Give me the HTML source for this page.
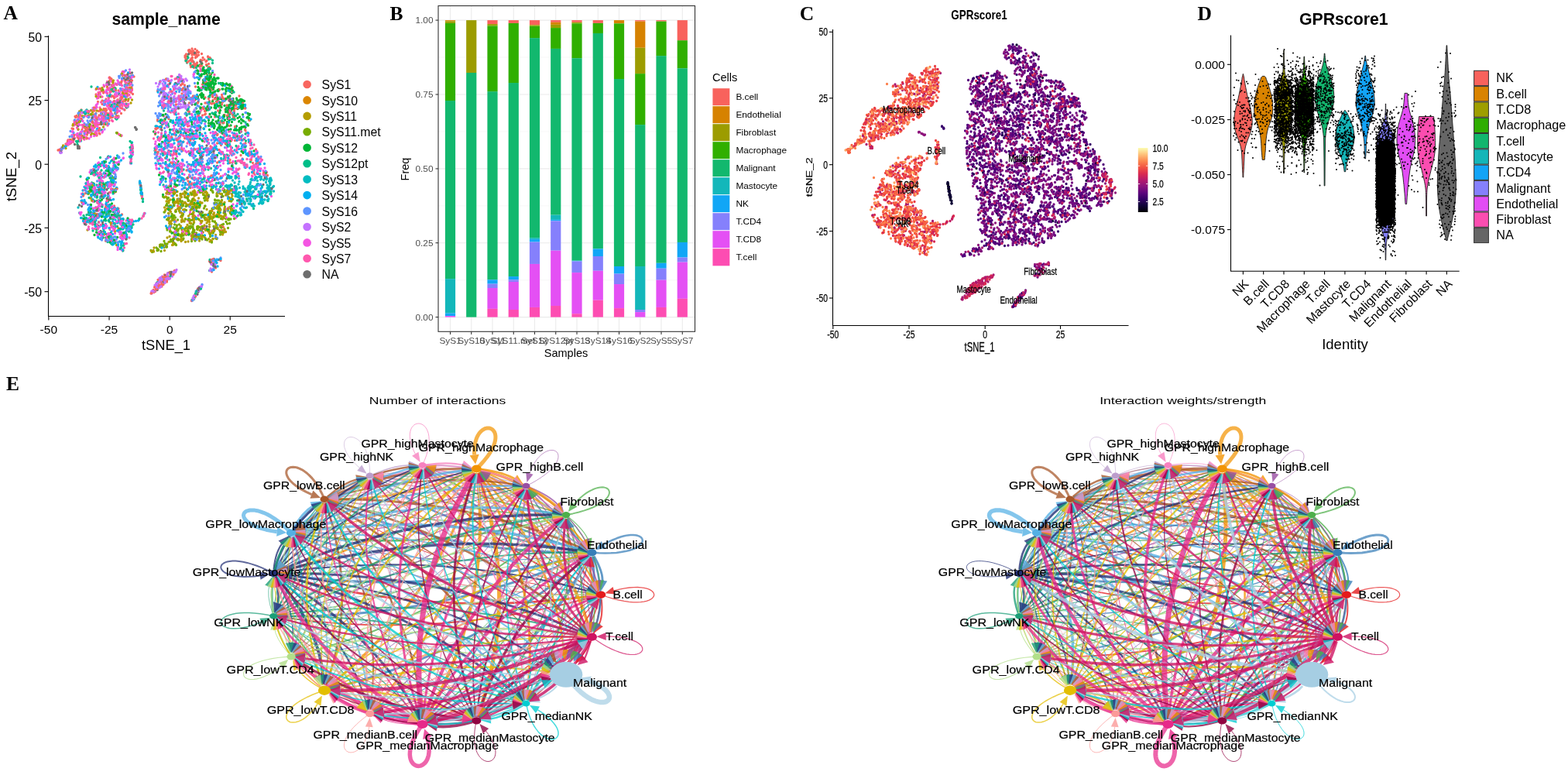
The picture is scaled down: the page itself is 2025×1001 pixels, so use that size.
<!DOCTYPE html>
<html><head><meta charset="utf-8"><style>
html,body{margin:0;padding:0;background:#fff;width:2025px;height:1001px;overflow:hidden}
svg{display:block;font-family:"Liberation Sans",Arial,sans-serif}
</style></head><body>
<svg width="2025" height="1001" viewBox="0 0 2025 1001">
<rect width="2025" height="1001" fill="#fff"/>
<text x="4.5" y="24.8" font-family="Liberation Serif, serif" font-size="25.5" font-weight="bold">A</text>
<text x="214.6" y="32.2" font-size="21.2" text-anchor="middle" font-weight="bold">sample_name</text>
<path d="M62.5 46V408.5H368" fill="none" stroke="#000" stroke-width="1.1"/>
<path d="M57.5 47.3H62.5" stroke="#000" stroke-width="1.1"/>
<text x="54" y="53.6" font-size="15.8" text-anchor="end">50</text>
<path d="M57.5 129.6H62.5" stroke="#000" stroke-width="1.1"/>
<text x="54" y="135.9" font-size="15.8" text-anchor="end">25</text>
<path d="M57.5 212.2H62.5" stroke="#000" stroke-width="1.1"/>
<text x="54" y="218.5" font-size="15.8" text-anchor="end">0</text>
<path d="M57.5 294.3H62.5" stroke="#000" stroke-width="1.1"/>
<text x="54" y="300.6" font-size="15.8" text-anchor="end">-25</text>
<path d="M57.5 376.7H62.5" stroke="#000" stroke-width="1.1"/>
<text x="54" y="383.0" font-size="15.8" text-anchor="end">-50</text>
<path d="M62.8 408.5V413.5" stroke="#000" stroke-width="1.1"/>
<text x="62.8" y="431" font-size="15.5" text-anchor="middle">-50</text>
<path d="M141 408.5V413.5" stroke="#000" stroke-width="1.1"/>
<text x="141" y="431" font-size="15.5" text-anchor="middle">-25</text>
<path d="M219.2 408.5V413.5" stroke="#000" stroke-width="1.1"/>
<text x="219.2" y="431" font-size="15.5" text-anchor="middle">0</text>
<path d="M297.2 408.5V413.5" stroke="#000" stroke-width="1.1"/>
<text x="297.2" y="431" font-size="15.5" text-anchor="middle">25</text>
<text x="214.5" y="452" font-size="18.3" text-anchor="middle">tSNE_1</text>
<text transform="translate(20.8 228) rotate(-90)" font-size="18.6" text-anchor="middle">tSNE_2</text>
<g stroke-linecap="round" stroke-width="3.3" fill="none"><path stroke="#F8665F" d="M252 63.5h0m-4-.5h0m-4 3.5h0m11 5h0m-1.5-1h0m-3-.5h0m-11.5 2h0m13.5 2.5h0m9.5 0h0m6.5-1.5h0m-21.5 3h0m-7 2.5h0m8.5-.5h0m21 4.5h0m-15-1.5h0m-2 2h0m-6 1.5h0m0 2h0m1.5-1h0m1.5-1.5h0m4.5 .5h0m16 2h0m-19.5 1h0m-92.5 10h0m5.5-.5h0m7 .5h0m-29 3.5h0m0 3.5h0m1.5 0h0m21.5-2.5h0m67.5 2h0m43-1.5h0m-3.5 2.5h0m-9 1h0m-124.5 3.5h0m16.5-.5h0m63 .5h0m-47.5 3h0m-6 1h0m-17-1h0m-18 2h0m11.5 .5h0m1.5-1h0m23 2.5h0m109.5-.5h0m24.5-1.5h0m-95.5 3h0m-34 2h0m-22.5-2h0m-4.5 1h0m-18.5 3.5h0m111-1h0m4 1.5h0m35 0h0m2.5-2h0m20 4.5h0m-9.5 0h0m-125 0h0m-2-1h0m-18.5-1h0m-15 1.5h0m10.5 3.5h0m10.5-1.5h0m85 1.5h0m32.5-2h0m12.5 1h0m-2.5 2.5h0m-18.5-.5h0m-6 1h0m-23 .5h0m-73-.5h0m-12.5 .5h0m-10 4h0m3.5-.5h0m10.5-1h0m13 1h0m4 0h0m56-1h0m1.5-1h0m24 1h0m57.5 .5h0m0 3h0m-2.5-1h0m-1.5 0h0m-164-.5h0m-11 4.5h0m11 1h0m94-.5h0m50.5 0h0m29.5-1h0m-5.5 4.5h0m-7.5 0h0m-1.5-2.5h0m-2.5 1h0m-143.5 0h0m2 2h0m71 1h0m24-.5h0m13.5 1.5h0m.5-1.5h0m37 2h0m-2 3h0m-3.5-1h0m-25.5-.5h0m-119.5 0h0m-4.5-1h0m-18.5 1.5h0m18 3h0m3-1.5h0m6 2.5h0m4-2.5h0m65 3.5h0m-77.5 .5h0m-.5-.5h0m-34.5 1.5h0m25 2.5h0m10.5-1.5h0m62.5 0h0m80.5 3h0m0 2.5h0m-72.5-2h0m-83.5 1h0m-18.5 4h0m99 0h0m95 0h0m-64 3h0m-110.5 0h0m-.5-2h0m-10 1.5h0m-4-.5h0m-1 1.5h0m1.5 2h0m1-.5h0m163 3.5h0m-54.5 .5h0m-24 0h0m-87-2.5h0m-18.5 3.5h0m.5 1h0m5.5 .5h0m5.5 0h0m18.5-1h0m88-1h0m26 4.5h0m-130.5 1h0m-8.5-2.5h0m129.5 3h0m59 1h0m10 1h0m5-.5h0m13.5 3.5h0m-66-1h0m0 1h0m-32.5-2h0m-1.5 2h0m-117 2h0m185.5 .5h0m-183 2h0m-.5 2h0m-20.5-.5h0m-2 3h0m126.5 0h0m4-.5h0m20-1h0m4.5 1h0m1.5 1h0m12 0h0m16.5-2h0m49.5 2h0m16.5-1.5h0m-127 3.5h0m0 2h0m107.5 2h0m-14 6h0m-14 2h0m17 1.5h0m-36.5 5.5h0m44 3.5h0m-160 5h0m185 .5h0m13 2h0m-70 .5h0m-31-1h0m-25-1h0m66.5 4.5h0m-18.5 3.5h0m-26.5-2h0m7 6h0m-112 3h0m110 2.5h0m-123.5 1h0m5.5 2.5h0m13.5 2.5h0m73.5 1.5h0m-68-.5h0m-39 2h0m-1-1.5h0m.5 3h0m125 14h0m-94 3h0m135.5 2.5h0m-144 3h0m140 .5h0m6 .5h0m12.5 17h0m-2.5 0h0m4 5.5h0m-5 2h0m-127 2h0m55.5 13.5h0m57 21h0m-45 14.5h0m-1.5-1h0m-2.5 2.5h0m-2-2h0m-3 1.5h0m-4 2h0m1 1h0m1-.5h0m2 2.5h0m-1.5 1h0m-5-.5h0m-3 2.5h0m8.5 1.5h0m-8 1h0m-3.5 2h0m-2 2h0m0-1.5h0m.5 1h0m6.5 .5h0m1.5 0h0m48 3h0m-52-1.5h0m-8.5 5.5h0m5 0h0m-2.5 2h0m-1.5 1h0m53.5 5.5h0"/><path stroke="#B49D00" d="M164 98h0m-19.5 7h0m2 5h0m15.5-1h0m-17 3h0m17 13h0m3.5 5h0m-13.5-1h0m2.5 4h0m-12.5 3.5h0m-24.5 6h0m-4.5 2.5h0m36.5 2h0m-18 0h0m-27.5 2h0m-1-1h0m-1 0h0m12.5 3.5h0m-17.5 5.5h0m4-.5h0m29 3.5h0m-8 4.5h0m-16.5 5.5h0m16 3h0m-31 7.5h0m-.5 5h0m-8.5 2.5h0m4-.5h0m-.5 4h0m56.5 35.5h0m40 12.5h0m-60-2h0m-2 1h0m98.5 2.5h0m78 2.5h0m-78.5 0h0m-69.5 2h0m-2.5-1h0m-28 2h0m32 1h0m67 0h0m2.5-1.5h0m2 2.5h0m6-1h0m22 0h0m3 .5h0m13 .5h0m27.5-1h0m.5 0h0m2.5-.5h0m0 1h0m4 2.5h0m-3.5-.5h0m-1.5-.5h0m-14.5 .5h0m-26 1.5h0m-1.5-1h0m-1.5 0h0m-14.5-.5h0m-13-1h0m-7 0h0m-33.5 0h0m55.5 3.5h0m0 2h0m4.5-.5h0m8-1h0m16.5-.5h0m13.5 .5h0m-31 3.5h0m-26-.5h0m7 4h0m12-.5h0m5.5 .5h0m3.5-1h0m34 3h0m-25 0h0m-2.5 .5h0m0-1.5h0m-.5 1h0m-6.5 1.5h0m-3.5 0h0m-30-1.5h0m2.5 3.5h0m25-.5h0m6-.5h0m30 1h0m1.5 1h0m15.5 2.5h0m-3.5-.5h0m-4.5-1.5h0m-37 2.5h0m-2.5-2.5h0m-20 1.5h0m-13 1h0m0-.5h0m-.5 0h0m-5-1h0m-70 0h0m76 2.5h0m13.5 .5h0m6.5-.5h0m7.5 1h0m48 .5h0m8 0h0m-1.5 1h0m-18 0h0m-49 1h0m-16 1.5h0m-75.5-1.5h0m-20 1.5h0m-1 0h0m97 .5h0m18 2.5h0m30-1h0m3.5-1h0m9.5 2h0m10 3h0m-7.5-1.5h0m-4.5-1h0m-.5 1h0m-7-1h0m-4 2.5h0m-5.5-2.5h0m-26.5 1h0m1 4.5h0m15-2.5h0m4 0h0m11.5 2h0m8-2h0m14.5 1h0m-19 3h0m-34 .5h0m-14.5 1h0m-58.5 2h0m57.5-1h0m23 2h0m3-2.5h0m22 0h0m20 3.5h0m-2.5 .5h0m-20.5-1h0m-1 2.5h0m-4.5 0h0m-4-.5h0m-14 .5h0m-20.5-.5h0m0-1.5h0m-55 1.5h0m54.5 3.5h0m72 3h0m-8-2h0m-7 1h0m-18.5-1h0m-21.5 2h0m-8.5 0h0m-79.5 0h0m-35.5-2.5h0m117.5 5.5h0m11.5-2.5h0m18.5 1.5h0m12-.5h0m6 2.5h0m-26.5 .5h0m-25.5-.5h0m-81 3.5h0m70.5 0h0m14 1.5h0m26.5-1h0m13 1h0m4 3h0m-41.5-2h0m-3 0h0m-11 3h0m6 3.5h0m-1.5 .5h0m-72 0h0m62 7h0m-8-.5h0m-6 2h0"/><path stroke="#78AC00" d="M167.5 106.5h0m-12.5 .5h0m-25 18h0m-16 18.5h0m0 20.5h0m3 5h0m-10 7h0m49.5-.5h0m129.5 64h0m10.5 6h0m-8 0h0m-5 0h0m-58.5 0h0m-7.5 3h0m39-2h0m2.5 1h0m22 1h0m12.5-2.5h0m-30.5 5.5h0m-.5 0h0m-12.5-2.5h0m-17 1.5h0m-22.5 3.5h0m33.5-2h0m21.5 2h0m21.5-1h0m-22.5 2h0m-47 .5h0m18 4.5h0m31-2h0m11.5 1h0m2.5 0h0m6-.5h0m12.5 1h0m-10.5 4h0m-34-1.5h0m-15.5-.5h0m-5 .5h0m-3.5 1h0m-15 .5h0m-1 2h0m25.5 1h0m42.5 0h0m1.5 2.5h0m-4.5 0h0m-2.5-1h0m-1 1.5h0m-2 0h0m-52.5-.5h0m-.5-2h0m-7.5 5h0m18 .5h0m9-1h0m49.5-.5h0m7 3h0m-8 1h0m-18 .5h0m-58.5-1.5h0m-.5 0h0m24.5 2.5h0m54.5 2h0m-2.5 1.5h0m-24.5 1.5h0m-40.5-2h0m-6 2h0m25.5 2h0m8-.5h0m14.5 .5h0m26-1h0m6.5 .5h0m-6 3.5h0m-17.5-1h0m-24 2h0m-19 2.5h0m18 0h0m29.5-1.5h0m9.5 1h0m-12.5 3h0m-13 1h0m-35-.5h0m0 3h0m10 0h0m7.5-1h0m4 1h0m11.5 0h0m20-2h0m0 1.5h0m-4.5 2h0m-6.5 2h0m-19.5 0h0m-8-2.5h0m-15 5h0m23 0h0m1.5-.5h0m1.5-.5h0m35-.5h0m-4 2.5h0m-50.5 1h0m-8.5-1h0m-2 5.5h0m29.5-.5h0m8-2h0m14 2.5h0m5 0h0m-28 2.5h0m-1-2h0m-29 1h0m2.5 3.5h0m-15.5 3.5h0m-1 0h0m-.5-1h0m-1 2.5h0m-11.5 5h0"/><path stroke="#00B636" d="M242 73h0m16 11h0m9 .5h0m-4 2.5h0m3 5.5h0m.5-1.5h0m-2 2h0m-6.5 4.5h0m10 0h0m4.5-1.5h0m9.5 5h0m-9.5-1.5h0m-1.5 .5h0m-8.5 3.5h0m15.5-1.5h0m9.5 5.5h0m-12 0h0m-3.5 0h0m-5.5-.5h0m-2.5 .5h0m1.5 1h0m0-.5h0m1.5 1h0m6 0h0m3.5 .5h0m9.5-.5h0m2.5 0h0m-16 3h0m-2.5 .5h0m-3.5 1h0m-11 3h0m2.5 0h0m7.5-1h0m10-.5h0m5.5 1.5h0m1.5-1h0m15 3h0m-16-1h0m-3.5 .5h0m-.5 .5h0m-17 2h0m30.5 .5h0m-20 2.5h0m-11 1.5h0m-4.5-.5h0m-1 2.5h0m1 0h0m8 .5h0m15-1h0m2.5-.5h0m5 2h0m5.5-.5h0m9.5 0h0m4.5-.5h0m6 1.5h0m2.5 1.5h0m-1.5-1h0m-4 1h0m-.5 1h0m-7-1.5h0m-3.5 1.5h0m-.5-2h0m-7 1h0m-8.5 .5h0m-2 .5h0m-5 0h0m9 1.5h0m1.5 0h0m15 1.5h0m.5 .5h0m9.5-1.5h0m6.5 2.5h0m-21 .5h0m-5.5 .5h0m-9.5 .5h0m-21.5 3.5h0m18-1.5h0m7 0h0m9 0h0m4 1h0m2-.5h0m3.5 1h0m4.5 0h0m4-2.5h0m1 2.5h0m-17 1h0m-2 1.5h0m-39.5 1.5h0m24.5 1h0m5.5-.5h0m10.5 0h0m-18.5 2h0m-4.5 .5h0m1.5 3.5h0m10.5-1h0m11.5 0h0m8 .5h0m7 .5h0m9.5 1h0m1-1h0m1.5 3.5h0m-27.5-1h0m-19 1.5h0m-5.5 .5h0m-27.5 2.5h0m31 .5h0m.5-.5h0m5.5-1h0m2 .5h0m18.5 0h0m9-.5h0m.5-.5h0m-15.5 3h0m-5.5-.5h0m-4.5 2h0m-10 0h0m0-1.5h0m-4-.5h0m-21.5 1.5h0m27.5 3h0m1.5-1h0m0-.5h0m21 0h0m19 2.5h0m-6.5 1h0m-12.5 1.5h0m-9.5 0h0m-4-1.5h0m-2.5-.5h0m-19 1h0m-64.5 4h0m34.5 0h0m69.5-2h0m-62.5 4h0m3 3h0m32.5 2h0m-71.5 .5h0m93 4.5h0m-63.5 5h0m80.5 10.5h0m-2-2h0m-91.5 4h0m98 0h0m-100 7h0m8.5-1.5h0m3 3.5h0m-93.5 .5h0m175 1h0m19 1.5h0m-190 4.5h0m0 2h0m193.5 0h0m-192.5 5h0m1 0h0m-3 3.5h0m-25 3.5h0m28.5-1h0m126 4.5h0m-39.5-.5h0m-15.5-2h0m-101 2.5h0m154 2h0m-134 1.5h0m-12.5 0h0m-3 2.5h0m17.5 3h0m81 0h0m50.5 1h0m-150.5-.5h0m-1.5 4.5h0m6 4h0m6 8h0m124.5 3h0m-106.5 .5h0m-12.5 1.5h0m152 .5h0m-28 2h0m-1 0h0m-1.5 .5h0m-117.5 3.5h0m3.5 1h0m-8.5 3.5h0m-16.5-1.5h0m.5 3.5h0m166.5 1.5h0m-60 .5h0m-85.5 1.5h0m-8.5-1h0m-20 3h0m8 1h0m27.5-1.5h0m16 1h0m-31.5 3.5h0m-11.5-1.5h0m10.5 6h0m99.5 4h0m-63.5 4h0m-9-2h0m-18.5 2h0m8 1.5h0m1.5 9h0m11 11.5h0"/><path stroke="#00BE88" d="M272 76h0m2.5 5.5h0m-25 4.5h0m20 5h0m.5 3.5h0m-1.5-1.5h0m-16.5 0h0m-83 9.5h0m38 2.5h0m22.5 10h0m30.5 1.5h0m9.5 8.5h0m-58.5 .5h0m26.5 2.5h0m-82 2h0m-8.5 4.5h0m106.5-1h0m55.5 1h0m3-1h0m-147 1.5h0m-2.5 .5h0m-18.5 0h0m157.5 3.5h0m10.5 0h0m-87.5 2h0m-113.5 3.5h0m3 1.5h0m193 1.5h0m-6 2h0m-4.5-1.5h0m-17.5 1h0m-2-1.5h0m-32.5-.5h0m-134 0h0m30 5h0m12-1h0m144 .5h0m26 4h0m-21-2h0m-152-.5h0m-17.5 0h0m101 3.5h0m1 1.5h0m31.5-1h0m-50.5 2.5h0m-12 4.5h0m101 0h0m0 2.5h0m-172.5 1.5h0m153.5 1.5h0m24.5 2h0m-5.5 2h0m-1.5-1h0m-9.5 2.5h0m-191 7.5h0m222 2h0m-2.5-1h0m-25.5 0h0m-196 3h0m70.5 13.5h0m39.5-2h0m64 5h0m-23.5 .5h0m-2.5-2.5h0m-80.5 1.5h0m1.5 2h0m117 2h0m37.5 2.5h0m-19.5-.5h0m-48 .5h0m-121.5 1h0m-7 4.5h0m-1 0h0m98.5 1.5h0m92 .5h0m-80 2.5h0m-94 1h0m-4.5 .5h0m-16 1h0m-4-1.5h0m-1 4.5h0m0-2.5h0m13.5 3.5h0m130 6.5h0m-40.5 3h0m-83.5 3.5h0m-22 .5h0m16.5 2.5h0m8.5 1h0m41.5-.5h0m93.5 .5h0m10.5-2h0m-169 7h0m229-.5h0m4.5 0h0m-168 2h0m-54 0h0m198.5 5h0m3 2h0m-11 1h0m-203.5-1.5h0m195.5 6h0m-184.5 .5h0m-18 0h0m-1.5-1h0m221 8.5h0m-184.5-2.5h0m-15.5 3.5h0m11.5-.5h0m3 2.5h0m162.5-.5h0m-186 3.5h0m-3 0h0m-.5 .5h0m39.5 2.5h0m30.5 .5h0m-38.5 .5h0m-22 2h0m-2.5-1h0m-12.5 .5h0m-.5 1.5h0m25.5 2h0m11.5-1.5h0m19 .5h0m-25 1.5h0m-25 2h0m33.5 3h0m6.5-1.5h0m2.5 3h0m-12 1h0m-21 4h0m1.5-.5h0m40.5 3h0m-29 3.5h0m5.5 .5h0m-6.5 4h0m2.5 5.5h0m8.5 1.5h0m123.5 21.5h0m5 5h0m.5 4h0m-6 5h0m-68 16.5h0m48 20.5h0m-3 1.5h0"/><path stroke="#00BCC1" d="M226.5 161h0m-25.5 2h0m74.5 14h0m-34.5 1.5h0m-24 10h0m60.5 3h0m-77.5 0h0m8.5 1.5h0m17.5 3h0m-5-.5h0m-50.5 4.5h0m90 1h0m-91 1h0m-2 .5h0m-16-1.5h0m134 3.5h0m8.5 3h0m-162.5 5h0m3-1.5h0m17.5-.5h0m77 1.5h0m31 .5h0m-108 4.5h0m-31 5.5h0m177.5 7h0m.5-1h0m31.5 0h0m1 .5h0m5.5-.5h0m.5 0h0m13 4.5h0m-.5-1.5h0m-.5 0h0m-9 1h0m-8 1h0m-7.5-2.5h0m-92 3h0m19 3.5h0m-130.5 2h0m10 .5h0m3.5 0h0m156 .5h0m2.5 1.5h0m3.5-2h0m0 2h0m6.5-1h0m1.5 0h0m9 0h0m7-.5h0m4.5 0h0m.5 .5h0m4 0h0m1.5-1h0m7 2h0m8 .5h0m1-2h0m1 2.5h0m-.5 1h0m-17 0h0m-1 .5h0m-.5-.5h0m-6-.5h0m-1.5 1h0m-.5 1h0m-4.5-.5h0m-20.5-2h0m-1 1h0m-144.5-1h0m-38.5 5h0m188.5-1h0m1.5 1.5h0m36.5 0h0m1.5-1h0m1-.5h0m6 0h0m6 0h0m-10.5 2h0m-6.5 1.5h0m-1.5 0h0m-17.5 0h0m-14.5-1.5h0m-170 1h0m-18-.5h0m193.5 2.5h0m9 1h0m1-.5h0m12.5 1h0m.5 .5h0m7-.5h0m-25 3h0m-174 4h0m174.5-2h0m26 3h0m-.5 1h0m-1 .5h0m-11.5 .5h0m-4.5 0h0m-7.5-1.5h0m-207.5 1h0m197.5 3h0m-204 2h0m27.5 3h0m182.5-.5h0m1 1h0m2 2h0m-9 1h0m-2.5-1h0m-161 .5h0m0-.5h0m-2 1h0m-37 .5h0m20.5 3h0m15.5-1h0m173 .5h0m-178.5 1.5h0m-21.5 2.5h0m43.5 .5h0m-19.5 8.5h0m10.5-2.5h0m16.5 1h0m3 3.5h0m-7-1.5h0m-35.5 1h0m33.5 24h0m.5 2.5h0m-2 3h0"/><path stroke="#00AFF0" d="M257.5 96.5h0m8 3h0m-11 .5h0m-96.5 1h0m57.5 1h0m49.5 0h0m-122.5 20.5h0m112 0h0m-102.5 8.5h0m164.5 4.5h0m-6 0h0m-99-.5h0m-49.5 0h0m1.5 4h0m115.5 .5h0m38 0h0m-88.5 12.5h0m24-1h0m.5 .5h0m16.5 1h0m-14.5 3h0m-19-1h0m-2.5 0h0m-6 .5h0m-14.5-1.5h0m0 .5h0m-8 2.5h0m4 2h0m.5-2.5h0m19 2.5h0m19-1.5h0m28 3.5h0m-24.5-1h0m-14 .5h0m-28-.5h0m48 2.5h0m6.5 4.5h0m-5-.5h0m-26.5 1h0m-106.5-.5h0m-5.5 2.5h0m133-.5h0m37 4.5h0m-39 .5h0m-3-2.5h0m-23.5 2h0m-2.5 .5h0m-8.5-1.5h0m-.5 3.5h0m.5 1h0m44.5-1.5h0m38.5 .5h0m16 0h0m.5-.5h0m7 .5h0m-18.5 2h0m-34 1h0m-12.5-1.5h0m-24 0h0m-9 .5h0m-117.5 4.5h0m114.5-1.5h0m10.5 0h0m38 2h0m10-1h0m5.5 .5h0m10.5-.5h0m30.5 2.5h0m-13 1h0m-17.5-.5h0m-42 1h0m-6.5-1h0m-74.5-.5h0m42.5 2.5h0m36.5 1.5h0m0-1h0m75 0h0m-12 2h0m-18.5 .5h0m-33-.5h0m-1.5 1.5h0m-51.5-1h0m-1-.5h0m-127 1.5h0m131 1.5h0m54.5 2.5h0m3.5-2.5h0m6 1h0m28 1h0m5.5-1.5h0m23.5 4.5h0m-48.5 .5h0m-12-2.5h0m-5 .5h0m-10.5-.5h0m-27.5 .5h0m-14 3.5h0m2 .5h0m102-.5h0m1 .5h0m1-1.5h0m2.5 .5h0m-27.5 2.5h0m-43 .5h0m-110 1h0m-3.5 1.5h0m119.5 2h0m1.5-1.5h0m71 .5h0m1.5 1.5h0m.5 1.5h0m-61.5 0h0m-19.5-.5h0m-2.5 2h0m-115.5-1h0m80 3.5h0m42-1h0m.5-.5h0m39.5-.5h0m.5 .5h0m37 2.5h0m-9 2.5h0m-6-2.5h0m-42 1.5h0m-22.5-1.5h0m-1.5 2.5h0m-21-.5h0m-4 .5h0m-8.5-1h0m-2.5-.5h0m-68 1.5h0m-8.5-1h0m74 2.5h0m11.5 .5h0m54.5 0h0m-28 4h0m-19.5-2.5h0m-14.5 1.5h0m-2.5-1h0m-75.5 .5h0m7.5 2.5h0m88 2h0m10-2.5h0m50.5 5.5h0m-76-.5h0m-78.5-.5h0m-9 2h0m76.5-.5h0m10.5 1.5h0m17 1h0m12-.5h0m31.5-.5h0m68 2h0m-70 .5h0m-.5-1h0m-8 0h0m-14 2.5h0m-21-1h0m-88 0h0m34 3h0m.5 .5h0m90-1h0m-45.5 2.5h0m-44.5-.5h0m-72 4.5h0m41.5 1h0m109.5-1h0m3.5 .5h0m2 .5h0m13-1h0m1-1h0m-14.5 4h0m-137 .5h0m-21 1h0m75 .5h0m.5 1h0m139.5 2.5h0m-27.5 0h0m-52 .5h0m-59.5 1h0m-52.5-2.5h0m-13 3h0m29 5.5h0m-41 2h0m3.5-1h0m.5 2h0m11-2h0m162.5 4.5h0m-145.5-2h0m-26.5 1h0m-1.5 0h0m-1 .5h0m-2 .5h0m33.5 3h0m93.5-1.5h0m.5 4h0m-11.5-1h0m-70.5 1.5h0m-8.5-.5h0m-3.5 1h0m-2.5-1.5h0m-22 0h0m0 .5h0m-1.5 2.5h0m9.5 1h0m12-1.5h0m0 1.5h0m1-1h0m12.5-.5h0m1 1h0m144.5 0h0m-177.5 1.5h0m0 1h0m4.5 3.5h0m2 0h0m5 1h0m57.5-2h0m72 0h0m1.5-.5h0m-135.5 3h0m-15 2.5h0m-4.5 0h0m19 1h0m.5 2h0m25-.5h0m10-1.5h0m20.5 1.5h0m.5-1h0m-1.5 2h0m-3 .5h0m-3 .5h0m-2.5 .5h0m-14.5 0h0m-10-.5h0m-22.5 0h0m-2.5-.5h0m-6 0h0m133.5 8h0m-114.5 2h0m1.5-.5h0m22.5 0h0m11-.5h0m1.5 0h0m64 .5h0m1.5-.5h0m25 4h0m-90.5 .5h0m-18.5-1h0m-25.5 2.5h0m36.5 .5h0m113-.5h0m-15.5 5h0m-133.5 .5h0m152 1.5h0m-124 4.5h0m-2 4h0m-5.5-1h0m-1.5 1h0m11 5.5h0m-1-.5h0m129 14h0m-8-.5h0m1 1.5h0"/><path stroke="#5D95FF" d="M162.5 91h0m90.5 .5h0m10.5-1.5h0m-31.5 8.5h0m-1 1.5h0m4.5 4.5h0m-1.5 .5h0m-7 2.5h0m-56 2.5h0m55.5-1.5h0m39.5 .5h0m5.5 2h0m-33 1.5h0m-81.5 2.5h0m5.5-1h0m4.5 2h0m1-2h0m41.5 2h0m17-1.5h0m6 0h0m3.5 2h0m33.5-2.5h0m-30.5 3h0m-29.5 1.5h0m-49.5-.5h0m53 4.5h0m1.5-1.5h0m28.5 .5h0m46-.5h0m-14.5 4h0m-69-1h0m7.5 2h0m18 2h0m15-1.5h0m3.5 1.5h0m1-1.5h0m1 3h0m-28 .5h0m-89.5 .5h0m0 2.5h0m7 0h0m6 1.5h0m68.5 0h0m8.5-2.5h0m28 2.5h0m5 3h0m-103-.5h0m-19.5-1.5h0m11 3h0m4-.5h0m114 0h0m34 0h0m-147.5 3.5h0m-4 .5h0m-26-.5h0m81 5h0m4.5 0h0m13-2.5h0m31.5 .5h0m7.5 0h0m45 2h0m-60.5 1h0m-36 1h0m0 1h0m-72 0h0m6.5 .5h0m76.5 1.5h0m16 0h0m16 .5h0m-3 3.5h0m-5.5 0h0m-8-.5h0m-104.5-1h0m-22 1h0m7 1h0m24.5 1h0m97.5 1.5h0m51.5-1h0m-45.5 1.5h0m-115.5 1h0m-15.5 2.5h0m142.5-.5h0m2.5 .5h0m18 1h0m45-1.5h0m-25 5.5h0m-34.5 0h0m-3-2.5h0m-9.5 1.5h0m-33.5-1h0m62.5 5h0m46 2h0m-32.5-1.5h0m-9 2h0m-71 .5h0m-97.5-2h0m-6.5 3.5h0m132.5 .5h0m3.5-.5h0m36.5-1h0m1.5 4h0m-33-1h0m-24 1.5h0m-.5-1.5h0m62.5 5h0m10.5 2h0m-1.5 0h0m-18 1h0m-71.5 3.5h0m54.5-1h0m29-1.5h0m4 4.5h0m-64 4h0m5.5-1.5h0m15-1h0m18.5 0h0m22 4.5h0m-32.5-1h0m-26.5 0h0m-69.5 2.5h0m168.5 1.5h0m9.5 3h0m-57 .5h0m-4 0h0m-73.5-1.5h0m-62.5 .5h0m67.5 3h0m62.5 0h0m7.5 3h0m-20.5-1h0m-5 2.5h0m-16-1.5h0m-11.5 1h0m-17.5 2.5h0m20 1h0m25-2h0m3 2h0m14.5-2h0m47 5h0m-78.5-2h0m-17 1h0m-90.5-.5h0m8 4.5h0m116 2.5h0m-11.5-2h0m-97 0h0m-.5 1h0m162 4.5h0m-158.5 1h0m-19 3h0m6.5-.5h0m12.5 1.5h0m62.5 0h0m19.5 .5h0m26.5 0h0m87 0h0m-53 3.5h0m-42-2.5h0m-40.5 2h0m0-2h0m-83.5 3h0m16 1.5h0m8 0h0m87 0h0m17 1h0m1-1.5h0m2 1.5h0m26.5-.5h0m53.5 2.5h0m-50 1h0m-.5-2.5h0m-54.5 1.5h0m-11.5 1h0m15 5h0m-86 0h0m-28.5 2h0m26.5 1.5h0m137.5-1.5h0m51.5 2h0m3.5 1h0m-25 2h0m-10.5-1.5h0m-10 3.5h0m-154 4h0m-19.5 2.5h0m4-.5h0m131 .5h0m57.5 0h0m2.5 .5h0m30.5-1h0m-69.5 3h0m-160 2h0m160.5-.5h0m48 0h0m-176.5 4.5h0m-10.5 1h0m156 1h0m-60.5 3h0m-85 1h0m-6-1h0m75.5 5.5h0m-64 2.5h0m-35.5 2.5h0m-2.5 3.5h0m9.5 2.5h0m155.5 .5h0m-62 2h0m-55 3.5h0m1.5-.5h0m-2 3h0m-8.5 .5h0m-1.5 .5h0m71 1h0m3 0h0m13 2.5h0m-77 2.5h0m-36.5-2h0m20.5 2.5h0m108.5 0h0m-2 3.5h0m-106.5 2h0m-5-1.5h0m-5-1h0m-1 2h0m147 24h0m-3.5 0h0m-4.5 2.5h0m2 4h0m-23 33.5h0m-1.5 1.5h0"/><path stroke="#C472FF" d="M234 98.5h0m16 .5h0m-16.5 1h0m-1-.5h0m-3.5 0h0m-7.5 4h0m18.5-1.5h0m1.5 2h0m-34 1h0m18 5.5h0m8.5-1h0m8 4h0m-24.5-1h0m-2-1.5h0m-1 .5h0m31.5 7h0m-35-1.5h0m7 3h0m20 2h0m-24.5 1.5h0m-50 2h0m-2-2h0m59.5 2.5h0m7.5 1h0m3 0h0m.5 1.5h0m13-.5h0m4 .5h0m-1.5 2h0m-13.5-.5h0m-2 0h0m-13 .5h0m-65 2h0m65.5 1h0m13 1h0m4.5 0h0m6 1h0m-16.5 2h0m-11.5-2.5h0m12.5 5h0m1-1h0m3.5-.5h0m1.5 0h0m2.5-.5h0m4 1h0m3 3.5h0m-1 0h0m-82.5-1.5h0m-38 .5h0m21 9h0m111 4h0m-152 2.5h0m23-1h0m87.5 1.5h0m1.5 1h0m51 1.5h0m-10 14h0m-176.5 18.5h0m.5 3h0m182 24h0m-39 4.5h0m43 5h0m-5 14h0m18.5 98.5h0m-3 1.5h0m3 2h0m-2.5 2h0m-48.5 3.5h0m1-2h0m-7 7.5h0m-4 3h0m-1.5 .5h0m-.5-.5h0m-1-2h0m-4.5 0h0m.5 4.5h0m3.5 1.5h0m-5 1.5h0m-4.5 1h0m-1 1.5h0m2.5 1.5h0m55.5-.5h0m-2 2.5h0m-58.5-1.5h0m2.5 4h0m1.5-1h0m-4 3h0m-1.5 .5h0m0 1h0m-3.5 1h0m.5 1.5h0"/><path stroke="#F455E3" d="M169.5 100.5h0m-17.5 3.5h0m85-1h0m-96 5h0m8 0h0m-4 3h0m-4 5.5h0m25.5 0h0m1-2h0m2 4h0m-25-1h0m-15.5 2h0m-3 3h0m22.5-.5h0m-23 5h0m43-1h0m69 0h0m-80.5 5.5h0m-15-.5h0m-2.5-.5h0m-1.5 .5h0m22.5 3.5h0m-6 .5h0m-12.5 2h0m2.5 11h0m-37.5 3h0m24.5 0h0m18.5 .5h0m117.5 0h0m-15.5 2.5h0m-12 1h0m-104-.5h0m-8-1.5h0m8.5 3h0m98.5 .5h0m16.5-.5h0m6.5 2h0m-8 1h0m-6.5 0h0m-5 2.5h0m-104.5-2h0m-38.5 1.5h0m43.5 1h0m116.5 4.5h0m-11.5 1h0m-9.5-1.5h0m-140.5 4h0m38 1h0m-14 .5h0m-8 1.5h0m-5 0h0m-2-1h0m-3 3h0m2.5 1h0m6.5-.5h0m12.5 0h0m1-.5h0m110 .5h0m19 0h0m54-1.5h0m7 2h0m-98.5 3h0m-99 0h0m-9-1h0m-17.5 3h0m1.5 1.5h0m153.5 0h0m22.5-2.5h0m-53 3h0m-121.5 2h0m-4.5-.5h0m84 3h0m50.5-1h0m92.5 3h0m-7 1.5h0m-14.5 0h0m-62-.5h0m-17 1h0m-11-1.5h0m-122 1.5h0m-2.5 3h0m92 0h0m38-1h0m16 1h0m93-1h0m-19.5 3h0m-26.5-.5h0m-10.5 0h0m-11 .5h0m38.5 2h0m41.5 1h0m-160.5 4h0m-10 1h0m10 1h0m82-1.5h0m21.5 1.5h0m23-.5h0m-7 2.5h0m-13.5 .5h0m-16 1.5h0m-30.5-2.5h0m-5.5 2h0m-89.5 .5h0m-5.5 2h0m18.5-.5h0m6 1h0m81-1h0m20 .5h0m4-1h0m1 0h0m30 .5h0m43.5 1h0m2-2h0m-2.5 5.5h0m-53 0h0m-55-2.5h0m-86.5 .5h0m-9.5 3h0m21.5 2h0m98 0h0m15-.5h0m33 0h0m10 0h0m37-1h0m-2 3.5h0m-83.5-1h0m-27 .5h0m-79 0h0m-9.5 1.5h0m-24-1.5h0m-1 2.5h0m6 2h0m15.5 0h0m70-.5h0m10.5 0h0m86-2h0m36 3h0m-35 1.5h0m-17 .5h0m-29 0h0m-2.5-1.5h0m-11.5 1h0m-7-1h0m-110.5 1h0m-1 1h0m15.5 1h0m100 2h0m84-2.5h0m-196.5 3h0m-1 2.5h0m-17.5 3h0m153-2.5h0m-13 5.5h0m-2-1.5h0m-4.5 0h0m-128 1.5h0m6 2.5h0m8.5-1.5h0m12 0h0m112.5 .5h0m9.5 .5h0m37 2.5h0m-13.5-.5h0m-169.5 2h0m-6-2h0m10 2.5h0m11.5 0h0m.5 4h0m-.5 1h0m-29-.5h0m27 1.5h0m8 .5h0m81 0h0m-79.5 3h0m-5.5 9h0m81 2h0m-75 1.5h0m-26 4.5h0m175.5-2.5h0m-173.5 6.5h0m9.5 0h0m128 2h0m36.5 2.5h0m-144.5-.5h0m-.5 0h0m-24 1h0m119.5 3.5h0m-87 5h0m3 3.5h0m-33-.5h0m-6.5 2h0m22.5-.5h0m4.5 .5h0m0 1h0m.5-1.5h0m.5-.5h0m1 1h0m8 0h0m9.5 0h0m77 .5h0m-111 4h0m-3 3h0m4.5 0h0m118.5 0h0m10-2.5h0m-4.5 3.5h0m-98.5 2h0m-24.5-2h0m-2 1h0m5.5 1.5h0m.5 1h0m23.5 1h0m1.5-1.5h0m61-.5h0m-87.5 3.5h0"/><path stroke="#FF58AE" d="M257.5 86h0m-97 11h0m116.5-.5h0m-112 6h0m41.5 3.5h0m-68-.5h0m17.5 2.5h0m-32 7.5h0m15.5-.5h0m22 1.5h0m50.5-2h0m84 1.5h0m-162 2h0m-5 1h0m-2 .5h0m21.5 2.5h0m15-.5h0m3.5 1h0m113 1.5h0m-5 0h0m-114-1h0m-11.5 2h0m-6 0h0m-11.5 0h0m163.5 4.5h0m-13 1.5h0m-34.5-1h0m-87.5-1h0m-30 3h0m91 1.5h0m77 1h0m-86 .5h0m-64 0h0m7 4.5h0m55 .5h0m73.5-1h0m-24 3h0m-117 1.5h0m-6.5 1h0m111 3h0m-126.5 1.5h0m2 2.5h0m4 0h0m24.5-1.5h0m60 0h0m27.5 2.5h0m16 2.5h0m-24.5-1.5h0m-92.5 0h0m-.5 0h0m-5.5 0h0m-1 1h0m-35 4h0m49.5-2h0m87.5 3.5h0m-94 1.5h0m-43.5-1h0m27.5 2h0m121.5 0h0m26.5-.5h0m-33 4h0m-30.5 1h0m-6.5-1h0m-86 2.5h0m169 1.5h0m11.5 0h0m23 1.5h0m-32.5 0h0m-60.5 .5h0m-110.5-.5h0m-22 3.5h0m61.5-1h0m2.5 1h0m80 .5h0m58 .5h0m10.5 0h0m-1.5 2h0m-17 1h0m-175.5-1.5h0m-15 1h0m107.5 2h0m26 .5h0m59 0h0m17 .5h0m7.5-.5h0m-44 3.5h0m-38 1h0m-18-.5h0m8.5 3h0m104 3h0m-18-2h0m-2 2h0m-134.5-1h0m-89 .5h0m89 1.5h0m54.5 1h0m43.5-.5h0m0 .5h0m3-.5h0m59.5 3h0m-31.5 0h0m-2-.5h0m-129.5 3h0m34 1.5h0m24.5 0h0m48.5-1h0m22.5 .5h0m30 3h0m-1.5-.5h0m-22 2h0m-10-2h0m-147.5 2.5h0m.5 1.5h0m171 0h0m17.5-.5h0m2 1.5h0m-27.5 2h0m-2.5-1h0m-2 .5h0m-45.5 .5h0m-9.5 4h0m22-2h0m42.5 .5h0m14.5 .5h0m5-1.5h0m-7.5 3.5h0m-1 1h0m-12-1.5h0m-51.5 1h0m-12.5 1h0m-19.5-1.5h0m-14.5 3h0m108.5 1.5h0m2.5 3.5h0m-93-.5h0m-114-2h0m-1 2h0m-2 .5h0m88.5 1.5h0m5-1h0m20.5 .5h0m111.5 1h0m-18 3.5h0m-17 .5h0m-178-2.5h0m50 10.5h0m90.5 0h0m8 2.5h0m-131 1h0m-32.5 1h0m66 2h0m43.5-1h0m-91.5 2h0m49.5 8h0m-42.5 14h0m.5 1h0m.5-1.5h0m-14.5 7.5h0m26 3h0m-13.5-1h0m-2-.5h0m1.5 3.5h0m14.5 4h0m-46 2.5h0m3 1h0m3 0h0m8.5-.5h0m33.5 0h0m15 0h0m0 1.5h0m-7.5-.5h0m-43.5 2.5h0m-7-2h0m-3 1.5h0m-1 .5h0m11 2.5h0m13-1h0m12 4.5h0m-18 2h0m15.5 1h0m7 15h0m11.5 8.5h0"/><path stroke="#6E6E6E" d="M250 80h0m-82 14.5h0m-.5 10h0m68 0h0m-9 3h0m67.5 2h0m-23 4h0m-28.5-2h0m-89 10h0m81.5 4h0m-21.5 2h0m43 1h0m27.5-1h0m16.5 .5h0m-1.5 2h0m-2.5 .5h0m-40.5 1h0m-18.5 0h0m10.5 3.5h0m-33.5 2h0m56 4h0m-171.5 17.5h0m26-1h0m-28.5 2.5h0m22.5 7h0m-4-.5h0m94 1.5h0m5 13.5h0m-117.5 5h0m170.5 1.5h0m-.5 3.5h0m-166-2.5h0m-21.5 4h0m90 .5h0m175.5 37h0m-164 4.5h0m1.5 7h0m121-1h0m47.5 3.5h0m-23 3h0m-144 4.5h0m125 2.5h0m29.5 1h0m-204.5 0h0m185.5 4h0m-7 4h0m-62 6h0m40 4h0m-33.5 0h0m-124 13.5h0m-21.5 3h0m23 1h0m-4 7.5h0m135.5 11h0m-42 1.5h0m-64.5 12.5h0m123.5 12h0m-8 1h0m4.5 1.5h0m-65.5 18h0m-6 7h0m49.5 9h0m-1 5h0m-8 11h0"/><path stroke="#F8665F" d="M254.5 65.5h0m-10-1h0m-1 .5h0m2 3.5h0m1-2.5h0m1.5 2h0m4 0h0m2.5-.5h0m-3.5 3h0m-.5-1h0m-2.5 1.5h0m0-2h0m-3.5 0h0m-4 1h0m8 4.5h0m4.5-1h0m16 1h0m2 0h0m-12 3h0m-13 0h0m-5-1h0m3 2.5h0m4 .5h0m1 0h0m9.5-.5h0m7.5 .5h0m1-1h0m-.5 5h0m-5.5-1.5h0m-7 1h0m-8 1h0m6 1.5h0m7-1h0m12 3h0m-4.5 7.5h0m5 1.5h0m-39.5 4h0m-4 1h0m-55-2.5h0m-12 5h0m4-.5h0m4.5 1h0m1-.5h0m95.5 1.5h0m-1.5 1.5h0m-28.5 .5h0m-79.5-.5h0m77 3h0m5 0h0m-25.5 3h0m-50-.5h0m132 4h0m-74.5 1.5h0m-55.5-.5h0m-1.5-.5h0m-.5 .5h0m-2.5 1.5h0m-2-1.5h0m-3.5 1h0m-10.5-1h0m-1.5 .5h0m-11.5-.5h0m-3.5 4h0m5.5-1.5h0m25 0h0m3 1.5h0m98 0h0m19.5 1h0m30 1.5h0m-34.5 1h0m-25-1h0m-9 .5h0m-75.5-1h0m-5.5-.5h0m-19.5 2.5h0m17 2.5h0m69.5-.5h0m72 1h0m-46.5 .5h0m-19.5 1.5h0m-67.5-.5h0m-6 1h0m109 2.5h0m3.5-.5h0m2 1h0m3-.5h0m11-1.5h0m26 .5h0m-20.5 3.5h0m-6.5-1h0m-150 5.5h0m11-2h0m10 1.5h0m86.5-2h0m51 .5h0m12.5 1h0m6 .5h0m-11.5 1.5h0m-36 1.5h0m-130.5 0h0m-8 .5h0m-5.5-.5h0m-11 0h0m-6-1h0m19 4.5h0m19-1.5h0m8.5 0h0m110 4h0m-119 0h0m-7.5-2h0m-4.5 2h0m-9.5-1h0m-22 1.5h0m-2 1h0m1 1h0m3.5 0h0m7.5-1.5h0m15 .5h0m7-.5h0m9.5 1h0m0 1h0m2.5-2h0m0 2h0m.5-1h0m2.5-.5h0m123.5 .5h0m8 0h0m10 1.5h0m15.5 1h0m-99.5 1h0m-71.5 0h0m-7 .5h0m-23 .5h0m0-2.5h0m17.5 4.5h0m161 1h0m7-.5h0m-3.5 3h0m-74.5 0h0m-70.5-1.5h0m-13 1.5h0m-13.5 1.5h0m4 1.5h0m1.5-1h0m4 1h0m86-1h0m34.5 0h0m74 4.5h0m-115-.5h0m-.5-.5h0m-87.5-1h0m-1.5 1.5h0m-6 .5h0m-13-1.5h0m17.5 2.5h0m117 1h0m-98.5 3.5h0m-1-1h0m-34.5 3.5h0m2-1.5h0m9.5 2h0m7.5-2h0m114.5 1h0m11.5 3.5h0m-144-.5h0m0 1.5h0m-.5 0h0m-6 1.5h0m4.5 1h0m122-1h0m70 0h0m-192.5 3h0m-4 3h0m184 2h0m-15.5 3h0m16 0h0m0 1h0m24.5 2h0m-24 1.5h0m-45.5 2h0m62 2h0m-31 .5h0m-111 8.5h0m73 .5h0m2.5 1h0m57.5-1h0m23.5 .5h0m22.5 0h0m-85.5 9.5h0m64 2.5h0m20.5 0h0m15.5 .5h0m2 2h0m-95.5 5h0m16-.5h0m8-1h0m13.5-.5h0m-154.5 8h0m112.5-2h0m1.5 5.5h0m0-2.5h0m-17.5 4h0m-76 3h0m-22.5 0h0m-2.5 2.5h0m21.5 2h0m115.5-2h0m-131.5 4.5h0m.5 3h0m15.5 12h0m82 0h0m-76.5 3.5h0m119.5 3h0m17.5 25.5h0m-43 6.5h0m-106-1.5h0m74 15h0m60.5 16.5h0m-1 1h0m10.5 1h0m-11 2.5h0m-1.5 1.5h0m6 5.5h0m-53 3.5h0m-4 2h0m-6 3.5h0m-3.5 3h0m-2 0h0m-3 4h0m6-1h0m2.5 3h0m-4-.5h0m-7.5 1.5h0m1 2.5h0m6 0h0m-7 2.5h0m51.5 3h0m-59.5 5.5h0m55.5 2.5h0"/><path stroke="#B49D00" d="M146.5 104h0m19 3.5h0m-19.5-1h0m-5-1h0m5 4h0m20 18.5h0m4.5 1h0m-16.5 3h0m.5 5h0m-5.5-1.5h0m-16 7.5h0m-8 0h0m-5.5 2h0m12 1h0m17 0h0m-29.5 2.5h0m-12.5 1.5h0m18.5 4.5h0m8.5 9.5h0m-24.5 6h0m13.5 3h0m-13-1h0m-6.5 1.5h0m-14.5 9.5h0m-1 0h0m59 46.5h0m34 6.5h0m-46.5 6.5h0m87.5 3h0m-72.5-1h0m-33 2.5h0m113 .5h0m64.5-1h0m9.5 1h0m-20 2h0m-20.5 .5h0m-12 1.5h0m-.5-2.5h0m-2.5 2.5h0m-1.5-2.5h0m-6 1h0m-15-1h0m-8.5 1h0m-1.5-.5h0m-89.5 1.5h0m103 1.5h0m23-.5h0m40 0h0m8.5 1h0m-1 3h0m-2 0h0m-28.5 0h0m-2 .5h0m-17 .5h0m-18 0h0m-48-1h0m32.5 4h0m13-.5h0m39-.5h0m18 1h0m-37.5 1.5h0m-2.5 1h0m-5.5 1h0m-1-1h0m-1-1h0m-2 1.5h0m-6.5-.5h0m12.5 2.5h0m1-.5h0m1 2h0m9-2h0m2 1.5h0m9 .5h0m16 0h0m4.5-2.5h0m1.5 1h0m-5.5 4h0m-48-.5h0m-3.5 1h0m-8.5-1h0m-5.5 1h0m3.5 1.5h0m0 1h0m8-.5h0m9.5-.5h0m13.5 .5h0m17-1h0m18 .5h0m9.5-1h0m4 1h0m1-1h0m5.5 3.5h0m-28.5 1.5h0m-41.5 .5h0m-2.5-1h0m-12-1h0m-80.5 3h0m94.5 2h0m11-2h0m4 0h0m9-.5h0m12.5 1.5h0m.5 0h0m19.5 0h0m-7.5 1.5h0m-14.5 1.5h0m-25.5-1.5h0m-25 2.5h0m-109.5 1h0m108.5 2h0m.5-1.5h0m5 1.5h0m2.5-.5h0m13.5-1h0m27.5 .5h0m1 0h0m1 .5h0m5.5-1.5h0m-13 3h0m-10.5 1h0m-6-1.5h0m-8 .5h0m-17.5 1h0m-75.5 4h0m17-1h0m58.5-1h0m26.5-.5h0m1.5 .5h0m38 5h0m-6-2.5h0m-8.5 2h0m-6.5-1h0m-8 .5h0m-35.5 .5h0m-69-.5h0m7 1.5h0m69 2.5h0m14.5-2.5h0m13 2.5h0m.5-1h0m4 .5h0m3.5-1h0m3.5 .5h0m3 1h0m8.5-2.5h0m1 .5h0m-2 2.5h0m-1.5 2h0m-.5-1h0m-1 0h0m-.5 .5h0m-5 0h0m-19-.5h0m-6 .5h0m-8.5-1.5h0m-87 1h0m-13.5 4h0m89-1.5h0m12 0h0m3.5 1.5h0m3.5-1h0m19.5-1h0m12 0h0m-15 4.5h0m-18.5-1.5h0m-6.5 2.5h0m-2.5-2h0m-12.5 2h0m-60.5 1.5h0m113.5 3.5h0m-35.5-1h0m-13 4h0m16-1h0m31.5-.5h0m-44.5 3h0m-20 1.5h0m-7.5 3.5h0m-1 3.5h0"/><path stroke="#78AC00" d="M131 116h0m11 23.5h0m-6 21h0m-28 2.5h0m2.5 1.5h0m3.5-2.5h0m2.5 2h0m4-2h0m30 9.5h0m4.5 3h0m-50.5 6h0m168.5 60.5h0m16 4.5h0m-30.5 3h0m2-.5h0m5.5 0h0m8.5-1h0m8-1h0m18.5 0h0m-7.5 4.5h0m-1.5-1.5h0m-5.5 1.5h0m-39.5-.5h0m18 2.5h0m23 1h0m12.5 4h0m-37-1.5h0m-15 1.5h0m-31 3h0m26.5-1.5h0m38.5 0h0m15 0h0m-17.5 3.5h0m-2.5 0h0m-41.5 3.5h0m14.5-2h0m7.5 2.5h0m40 3h0m-34.5-.5h0m-8.5-1h0m27.5 3h0m.5 4.5h0m-12-2.5h0m-9.5 1.5h0m-2.5 1h0m-32-2.5h0m-4 5h0m2 .5h0m34.5-1h0m5 0h0m26.5-1h0m-8 3.5h0m-1.5-1h0m-6 2h0m-4.5-1h0m-19.5-.5h0m-16.5-.5h0m-11 2.5h0m-6.5 1h0m5 1h0m7 .5h0m10-1h0m6.5 1.5h0m2.5-.5h0m2-1h0m5-.5h0m-35.5 6.5h0m66.5 1.5h0m-29.5 3h0m-1.5-1h0m-9-.5h0m-18-1h0m-8 1.5h0m0-1.5h0m-5 3.5h0m8.5-.5h0m6.5 2h0m2.5-2h0m6.5 1h0m24 0h0m31-.5h0m-45.5 5h0m-19-1.5h0m5 4h0m10 0h0m30-1h0m-13 3.5h0m-6 1h0m-3.5-1h0m-4-1h0m-11.5 .5h0m-12.5 4.5h0m9.5-2.5h0m3 2h0m30.5 2h0m-20 1.5h0m0-2.5h0m-12.5 1h0m-14.5-.5h0m-7.5 5h0m60.5-1.5h0m-46 3.5h0m-11.5-1.5h0m-3 2h0m-1.5 .5h0m-1 0h0m0-.5h0m-1-1h0m-7.5 4h0m5.5-1h0m4.5 .5h0m3-1.5h0m-12 5.5h0m-6.5 2h0"/><path stroke="#00B636" d="M271.5 89h0m-9.5-.5h0m-7 2.5h0m1 1h0m5.5-1h0m2.5 1h0m3-1h0m1.5 0h0m6 2.5h0m-4.5 0h0m-4 1h0m-2.5 1h0m-4.5 2.5h0m1 0h0m20.5 3h0m-13.5-.5h0m-9-.5h0m12.5 2h0m4 .5h0m0 2h0m1.5-1.5h0m9 4.5h0m-13-.5h0m-3 .5h0m-13.5 .5h0m11 .5h0m1 1.5h0m3.5-1.5h0m1 1h0m6.5-1.5h0m11 1h0m3-1h0m3 1.5h0m1.5-.5h0m-4.5 4.5h0m-16.5-1h0m-6.5 1h0m-.5-1h0m-5-1.5h0m-8 1.5h0m4 2h0m31.5 1h0m4.5 1h0m2.5 2h0m-6.5-.5h0m-16.5 1.5h0m-18-2.5h0m1 5.5h0m13.5-2h0m1 0h0m26.5-.5h0m-2.5 4h0m-34.5 0h0m-.5 .5h0m-6.5 1h0m5 .5h0m52.5 3.5h0m-29.5 3h0m16 2h0m12 3h0m-6.5-2.5h0m-3 1h0m-21 0h0m-3 1.5h0m-24.5 2.5h0m16.5 .5h0m16-2h0m6.5 1h0m3-1h0m13.5 .5h0m4 1h0m1-2h0m-47 4h0m-11 2h0m27.5 2h0m8-1.5h0m31 3h0m-.5 1h0m-8.5-.5h0m-9.5 1.5h0m-26-1h0m-64-1h0m-3.5 1.5h0m58.5 3h0m13.5 0h0m11.5-.5h0m0-1h0m27.5 2h0m-8.5 3h0m-1.5-1.5h0m-21 1h0m-27 .5h0m-50.5-1h0m-5.5 4h0m86-1h0m1 0h0m20-1h0m-3 2.5h0m-31 0h0m-4 1.5h0m-1-1h0m-58 4h0m52-1h0m6-.5h0m1.5 1.5h0m16-.5h0m12.5 0h0m8.5 1h0m-3.5 2.5h0m-1.5 1h0m-32.5-2h0m9.5 3h0m4 .5h0m14.5-1h0m1.5 0h0m3 2h0m-21.5 2.5h0m-29.5-1h0m-28-.5h0m-10.5 0h0m87 5h0m2.5 .5h0m-94.5 3.5h0m31 .5h0m47.5 0h0m-1.5 5.5h0m23.5 8h0m-68.5 3h0m73.5 2h0m3-1h0m-42.5 16.5h0m-50 7h0m-88.5 0h0m-.5 1h0m86 1.5h0m114.5-1h0m-136.5 3h0m-63-1h0m100 4.5h0m-130.5 2h0m31.5 3.5h0m85.5 4.5h0m-3-1.5h0m-83 0h0m-28 1h0m-1-2h0m148 7.5h0m-145.5 2h0m32.5 .5h0m78.5 0h0m-9 2h0m-8 2.5h0m-87.5-2h0m-.5 .5h0m3 3h0m116.5 2.5h0m-117-.5h0m-3 5h0m4-.5h0m.5 0h0m1.5-.5h0m1.5 1h0m93.5-2h0m1 2h0m.5-2h0m31 4.5h0m-31.5-.5h0m-86 2.5h0m-20.5 5h0m35 3h0m149 0h0m-20 1.5h0m-139-1h0m-3 1h0m-5 .5h0m-7 3.5h0m17-.5h0m2.5 .5h0m1 0h0m151-1h0m8 1.5h0m-44 1h0m-127 4h0m29-1.5h0m-44 3h0m-9.5 2h0m11 2.5h0m10.5 1h0m37.5-.5h0m-7.5 1.5h0m79.5 7h0m-78.5-1.5h0m-39.5 3h0m97.5 1h0m21.5 2h0m-84.5 2.5h0m-18-.5h0m-19-1.5h0"/><path stroke="#00BE88" d="M243 74.5h0m-2 2.5h0m33.5 1h0m-33 3h0m7 5h0m20.5 6.5h0m-39 7.5h0m-18 3.5h0m70.5 4h0m-164.5 4.5h0m30.5 2.5h0m-2 3.5h0m7 2h0m58 1.5h0m59 4h0m-30.5 3h0m-91.5 5.5h0m1.5 1.5h0m-7.5 2h0m126.5 4.5h0m-27 0h0m-137 .5h0m3.5 2.5h0m116.5 0h0m15 1h0m15.5 .5h0m1.5 0h0m-16 2.5h0m-138.5 .5h0m33 2h0m144-1h0m-59 5h0m-69-2.5h0m-1 1h0m-47 3h0m31.5 1h0m85-1h0m41.5-1h0m20.5 1.5h0m6.5 0h0m-15.5 3h0m-56-.5h0m-81.5 0h0m82 2.5h0m58 0h0m29 3h0m-20 2h0m32.5 5.5h0m-28 .5h0m-43.5-.5h0m-12 0h0m82 6.5h0m-12-2.5h0m-18.5 0h0m-69.5 3h0m93.5 .5h0m-139 8h0m75.5-2h0m48 1h0m0-1h0m.5 1.5h0m11 .5h0m-134.5 3.5h0m29.5 2.5h0m63-2h0m14.5 .5h0m-4.5 3h0m-46-.5h0m-15.5 3.5h0m78.5 3.5h0m-83.5 0h0m-36.5-1.5h0m44 8.5h0m-67-.5h0m120 3h0m65 .5h0m-64 3h0m-119-1.5h0m-13 1.5h0m-5-2h0m-1.5 1h0m11 4.5h0m-16 1.5h0m-6 1.5h0m1.5 2.5h0m24.5 3h0m-22-1.5h0m26.5 4.5h0m-5 .5h0m-.5 2.5h0m-25 2.5h0m14.5 0h0m93-1.5h0m123 2h0m-50.5 2h0m-87.5 .5h0m-83.5 .5h0m-2.5-.5h0m174.5 5.5h0m-117 0h0m-66 .5h0m177.5 2h0m2.5 1.5h0m25 3h0m-3-1h0m-197.5 .5h0m4.5 3.5h0m14-.5h0m171.5 5.5h0m35 0h0m-207 12h0m-1 3.5h0m-23.5 .5h0m-6.5 3h0m4-1h0m21.5-1.5h0m3.5 .5h0m0 2h0m169 1h0m-184.5 0h0m-7.5 4h0m3-1h0m23.5 2h0m1 2h0m-5-1.5h0m-14 4h0m.5-.5h0m25 0h0m9 0h0m2.5-.5h0m8 .5h0m-9 7.5h0m4.5-1h0m-43 3h0m10 2h0m11 8h0m22 .5h0m-18.5 2.5h0m4.5 2.5h0m7 7h0m2.5 3.5h0m99.5 49.5h0m-4 2.5h0m-1 3.5h0"/><path stroke="#00BCC1" d="M232.5 158h0m-2.5 1.5h0m-5.5 21.5h0m-16 8h0m47.5 7h0m-86 3.5h0m120.5 1h0m-29 1h0m-121.5 1h0m120 2.5h0m-41.5 2h0m38.5 6h0m-105 5h0m79.5-.5h0m.5 9.5h0m-103 3.5h0m5-1.5h0m100.5 .5h0m34.5 0h0m27.5 .5h0m2-.5h0m31 .5h0m2 0h0m17 .5h0m1-.5h0m-1 2.5h0m-4-1.5h0m-.5 1h0m-6.5-1h0m-8.5 1.5h0m0-1h0m-183 4.5h0m142-1h0m21-.5h0m14.5 1h0m24-1.5h0m-2.5 5h0m-8.5-.5h0m-1.5 0h0m-35.5 1h0m-7 0h0m-174.5-2h0m-6.5 0h0m133 4.5h0m17 0h0m31.5-1h0m4.5-1h0m12 2.5h0m10.5 0h0m2.5-1.5h0m2.5 1h0m25 1h0m-1 1h0m-1 1.5h0m-25.5-2h0m-16.5 .5h0m-3 1h0m-23.5-.5h0m-145 .5h0m-1.5 0h0m-8 .5h0m-5.5 2.5h0m11-1.5h0m170.5 1.5h0m0 .5h0m3-.5h0m4.5 .5h0m7.5-.5h0m5-2h0m2.5 1.5h0m3.5-.5h0m7 .5h0m14.5 3h0m-10-.5h0m-28-1h0m-164.5 1h0m-25.5-1h0m13 5.5h0m170.5-1h0m16-.5h0m3.5-1h0m5 2.5h0m7 0h0m0-2h0m10 1.5h0m1.5 3h0m-23 .5h0m-1-1h0m-193.5-1h0m184.5 4.5h0m5.5-.5h0m3.5 0h0m1 0h0m12.5 0h0m2.5-1h0m6.5 0h0m-7 3.5h0m-15.5 1h0m-2 0h0m-182.5 2h0m188 1.5h0m-8 1.5h0m-195 0h0m14 2.5h0m13 0h0m153.5 2h0m7 2.5h0m-7.5-.5h0m-150-1.5h0m-27 4h0m14.5 0h0m169.5 1h0m-191 1.5h0m-14 2h0m4.5 1.5h0m45-1h0m.5 5.5h0m-11 1h0m20.5 0h0m-9 7.5h0m2.5-2h0m5 9h0m0 2h0m-7 2.5h0m3.5 7h0"/><path stroke="#00AFF0" d="M256.5 95.5h0m-99 8h0m107 .5h0m-44.5 2.5h0m5.5 2.5h0m65 1.5h0m-164.5 2h0m101.5 6h0m-23.5 .5h0m67.5 1h0m-28 4h0m-81.5-.5h0m-1.5 1h0m71.5 2.5h0m1.5 2.5h0m74 4.5h0m7 1.5h0m-36 1h0m-69 1h0m-2.5-2h0m-61 2.5h0m2.5 1h0m159.5-.5h0m-160.5 4h0m-12.5 7.5h0m82 .5h0m52 2h0m15 0h0m3.5-1.5h0m1 2h0m-30.5 1.5h0m-7.5-1.5h0m-1 1h0m-15.5 1.5h0m-26.5 1h0m1.5 1h0m14 .5h0m.5-2h0m10.5 2.5h0m26 .5h0m-21 .5h0m-29 .5h0m-7.5 3h0m3 1h0m51-1.5h0m1.5 0h0m-20.5 5h0m-15 0h0m-9 2.5h0m26-1.5h0m80.5 3h0m-17 1.5h0m-49.5-1h0m-6.5 1.5h0m-34 1.5h0m2 1h0m3-1.5h0m9.5-.5h0m47.5 1h0m1.5-.5h0m16.5-.5h0m18.5 2.5h0m-8 1h0m-21 2h0m-18-.5h0m-10.5-.5h0m-50-1.5h0m9 5h0m10-2h0m4 0h0m33.5 .5h0m45.5 .5h0m-20 2h0m-2.5 2h0m-31.5-1.5h0m-7-.5h0m-.5 0h0m-14 .5h0m-16 1.5h0m-1.5-1.5h0m-.5 .5h0m36 2h0m65 1h0m-14 4h0m-38.5-1h0m-2.5-.5h0m-53.5 0h0m-36 4.5h0m80.5 0h0m31.5-.5h0m35.5 3h0m-53.5 0h0m-7 1h0m-1.5-1.5h0m-44 4.5h0m3.5-2h0m17 0h0m1 .5h0m12.5 0h0m16-1h0m9 1.5h0m55.5-1h0m1.5 1.5h0m3-1h0m-1 2h0m-121.5 2.5h0m7 1h0m60.5 .5h0m20-1h0m37.5 4.5h0m-48.5 1h0m-28-2h0m-1.5-.5h0m-100 2h0m-10.5-1h0m-8 1.5h0m-3.5 0h0m9.5 1h0m28 .5h0m35.5 .5h0m14 .5h0m12.5 .5h0m20.5-1h0m7-1.5h0m10 2h0m25.5-1h0m39.5 0h0m7.5 .5h0m-24.5 2h0m-17-.5h0m-.5 1.5h0m-18.5 .5h0m-31-1.5h0m-128.5 1.5h0m26 2.5h0m3-1h0m75.5 0h0m55.5-.5h0m19.5 .5h0m21.5 .5h0m13.5 3.5h0m-3-1h0m-6.5-.5h0m-49.5 1h0m-48.5 1.5h0m-84-1.5h0m-19.5 4h0m9 0h0m146-.5h0m52-.5h0m3.5 2.5h0m-31.5 2h0m-25.5-2.5h0m-153.5 0h0m-12 5h0m116.5-2h0m4.5 1.5h0m15 1h0m15 0h0m8-1h0m23 0h0m1-.5h0m34 0h0m-49.5 2h0m-11.5 0h0m-43 2.5h0m-.5-1h0m-15-1.5h0m-1.5 2h0m-63.5-.5h0m35 4h0m27.5-1h0m31.5 1h0m40 0h0m-21 1.5h0m-4-1h0m-19 2.5h0m-29-1h0m-64 0h0m-21-.5h0m-8.5 4h0m15-2h0m11.5 .5h0m74.5 .5h0m52.5-1h0m4 0h0m3.5 2.5h0m-16 2.5h0m-126.5-.5h0m95.5 1.5h0m66 2.5h0m12-2h0m21 2.5h0m-1.5 2h0m-141.5-1.5h0m-1 .5h0m-63.5 1.5h0m-.5 2.5h0m219 3.5h0m-38.5 0h0m-179 0h0m-14.5 2h0m38.5-1h0m41 1.5h0m127.5 0h0m-27.5 3h0m-147.5 0h0m-28.5-2h0m34 4.5h0m75.5 1h0m6-1h0m.5-1h0m90.5 3.5h0m-4.5 1h0m-170-2h0m-5 2.5h0m-19-2h0m4 4h0m16.5 .5h0m0-2h0m147.5 4.5h0m-97.5 1h0m-56-.5h0m-15.5-1.5h0m2.5 4h0m10 .5h0m23 2h0m-16 .5h0m-4-1h0m26 3.5h0m87-.5h0m-88 4.5h0m-3-1h0m-16.5 3.5h0m-4 2.5h0m-8.5 .5h0m-.5-.5h0m10 3h0m3.5-1h0m4 .5h0m18.5 .5h0m4.5 1h0m52.5-1.5h0m43.5 2.5h0m-127.5 5.5h0m13 0h0m10.5-1h0m3.5-1h0m2 .5h0m113 3.5h0m-10-.5h0m-9-.5h0m-95-.5h0m-33.5 4h0m30.5 .5h0m100 .5h0m-112.5 4h0m12 .5h0m-4.5 6h0m128.5 17h0m-2.5 2.5h0m1.5 1.5h0m1 4.5h0m-5 4.5h0"/><path stroke="#5D95FF" d="M274.5 91.5h0m-23.5 2h0m-94.5 2.5h0m10 3h0m-4 0h0m70 5.5h0m31-2h0m-12 5h0m-20.5 0h0m-19.5-2.5h0m-5.5 3h0m57 2.5h0m3 1.5h0m-40.5 .5h0m-2-.5h0m-12-1h0m-56 3.5h0m1 1.5h0m1.5-.5h0m5.5-.5h0m40.5 .5h0m3.5-.5h0m26.5 .5h0m1 0h0m7.5-.5h0m.5 1h0m20-2h0m36.5 4.5h0m-59.5 .5h0m-8.5-.5h0m-17 3h0m8-.5h0m19 1h0m3-2h0m32.5 2.5h0m-138.5 1h0m71.5 2.5h0m6.5 .5h0m8 2h0m59.5-2.5h0m15.5 2h0m-9.5 2h0m-64.5 1h0m-7.5-1.5h0m-10.5 2h0m-.5-1h0m-57 .5h0m-14-1h0m0 4.5h0m18.5-.5h0m3-.5h0m63.5-1h0m46.5 0h0m14 0h0m-12 2.5h0m-65 2h0m-55.5-1h0m0 2.5h0m60.5 1h0m10.5-1h0m10-.5h0m14 .5h0m48 2.5h0m-74.5 1.5h0m-116.5 4h0m126-1.5h0m12 2h0m-23 1.5h0m-13 1h0m-66.5-.5h0m-3.5 .5h0m-9.5 0h0m-1.5 0h0m-2 1h0m84 1.5h0m.5 .5h0m13.5-1h0m96-.5h0m-177.5 2h0m-14 2h0m-21-1h0m129 2h0m1 2h0m13-1.5h0m10 2h0m2.5-1.5h0m25.5 1h0m35.5 2.5h0m-80.5 1h0m-97-1.5h0m-8-.5h0m-23.5 0h0m4 2.5h0m120.5 2h0m14-.5h0m2.5 0h0m-159 6h0m34-1.5h0m156.5 .5h0m3.5 0h0m6.5 .5h0m-201.5 7.5h0m159.5 0h0m-21 2.5h0m52.5 2.5h0m29-1.5h0m-61.5 4.5h0m-15-1.5h0m1 5.5h0m43.5-.5h0m37.5-1.5h0m2 2h0m0 .5h0m-3.5 1h0m-102 1h0m-6 2.5h0m5 1h0m39.5-2.5h0m16.5 0h0m1 1h0m5-.5h0m31.5 3h0m-6.5 1.5h0m-53-1h0m-10.5-.5h0m-9 0h0m-7 .5h0m-2 1h0m-4-.5h0m-8.5 .5h0m46 2.5h0m17 1h0m32.5 0h0m-26.5 2h0m-71 .5h0m-65 2.5h0m70 .5h0m16-1h0m27-1h0m11.5 1.5h0m72 1h0m1-2.5h0m-73 5.5h0m-51 1h0m33 2h0m.5 0h0m9.5-2h0m1 0h0m15 1h0m5-1.5h0m42.5 5h0m-75 .5h0m-18 0h0m-8.5-2.5h0m-77 3.5h0m140 .5h0m22 2.5h0m-47-.5h0m-1.5 2h0m-9-1h0m-21 1h0m-104-.5h0m108.5 3.5h0m50-.5h0m30.5 1h0m37-2.5h0m-66.5 4.5h0m-2.5 0h0m-43.5-.5h0m-88 1h0m-6.5-.5h0m90.5 4h0m56.5 0h0m2.5-1h0m-5 2.5h0m-5.5 .5h0m-25 0h0m13.5 1.5h0m72 4h0m-94.5 .5h0m-116 3h0m21-1h0m104.5 1h0m80 0h0m19 3h0m-68 0h0m-45.5-1.5h0m-19.5 0h0m-68 2.5h0m-4 0h0m-11.5 2h0m213-1.5h0m-27 3.5h0m-190.5 4.5h0m190.5-2h0m8 4h0m-14 .5h0m-84 .5h0m-121.5 5h0m5 2.5h0m4 2h0m129.5 3h0m-108-.5h0m-12 1h0m10.5 1.5h0m15.5 1h0m98-1h0m58.5 3h0m-3.5-.5h0m-68-.5h0m-107.5 1h0m-1.5 1.5h0m1.5 .5h0m20 .5h0m109.5 4h0m-148.5 1.5h0m42 2h0m14 2.5h0m-3 1.5h0m3.5 5.5h0m-3 3h0m-1 0h0m-10 2h0m126.5 8.5h0m-134.5 2h0m-6.5 1.5h0m12.5 2h0m60 5h0m73 15h0m-25 38h0"/><path stroke="#C472FF" d="M167.5 90h0m-10 5.5h0m53 8h0m2.5 .5h0m3.5 0h0m4 .5h0m9.5-2.5h0m4.5 0h0m-21 5h0m-47.5-.5h0m-13 .5h0m-15.5 3h0m72.5-2h0m3 2h0m15.5 0h0m3 3h0m-4.5-2h0m-2.5 1.5h0m-12 .5h0m-8.5-1h0m5.5 2h0m19.5 .5h0m12 2h0m3.5 1h0m-4.5 2h0m-17-.5h0m-73.5 0h0m2 1.5h0m55.5 .5h0m4 .5h0m2-.5h0m.5-.5h0m25.5 5h0m-14-1h0m-8.5-.5h0m-5 2.5h0m.5 0h0m3 1h0m17.5 1h0m15-2h0m3.5 1.5h0m-15 3h0m0-.5h0m-5 .5h0m-12-.5h0m-84.5 3h0m77 0h0m11.5 0h0m17 4h0m-27-2.5h0m-93 4.5h0m3 1h0m105-.5h0m12 0h0m11 2h0m-27-.5h0m-2 .5h0m-5 2h0m5 .5h0m31.5 10.5h0m-125.5-1h0m-6.5 4.5h0m13.5 8.5h0m-6.5 2h0m-35.5 5.5h0m133.5 4.5h0m-147 18h0m-1 .5h0m149 18h0m-4.5 4.5h0m-5.5 7.5h0m2.5 8.5h0m55.5 102h0m-53.5 13.5h0m.5 5.5h0m-9.5 2h0m-5.5-.5h0m-1.5 1h0m6.5 1.5h0m.5 4.5h0m-4-2h0m0 1h0m-9 4h0m1.5-2h0m56 4.5h0m-50.5 0h0m-1 .5h0m51 2h0m1.5-.5h0m-62.5 3h0m58.5 4.5h0m-4.5 2.5h0m-2 5.5h0"/><path stroke="#F455E3" d="M250.5 95.5h0m-92.5-2.5h0m.5 3h0m-17.5 4.5h0m16.5 3h0m-23.5 6.5h0m10 0h0m.5 5h0m16.5 3h0m-24 1.5h0m20.5 2.5h0m8 0h0m60.5-2h0m-69 5.5h0m-.5-1.5h0m-16.5 5h0m1.5 4.5h0m4-1.5h0m11.5 2.5h0m-16 1h0m-16.5 0h0m-.5 1h0m17 2.5h0m0 1.5h0m-27 11h0m26 .5h0m91.5-.5h0m23-.5h0m2.5-1h0m3.5 1.5h0m-129.5 2.5h0m-11-.5h0m-17.5-.5h0m-1.5 4h0m6-.5h0m10.5 .5h0m109 1.5h0m8-.5h0m21.5-.5h0m-154.5 2.5h0m-6 2h0m16.5 0h0m6 .5h0m98 1.5h0m26 3.5h0m-3.5-.5h0m-1.5 0h0m-12-1h0m-124 1.5h0m-7 3h0m29.5-.5h0m3-1h0m6 .5h0m145 1.5h0m-63.5 0h0m-13 .5h0m-101 1h0m-6.5 2.5h0m6.5-.5h0m140 2h0m8-.5h0m.5-1.5h0m7 2h0m10.5-1h0m35.5-1h0m15 3.5h0m-5 1.5h0m-35.5-2.5h0m-22.5 0h0m-35 3h0m57.5 0h0m46.5 4.5h0m-27 0h0m-5.5-.5h0m-2-.5h0m-3-.5h0m-15.5 2.5h0m-57-.5h0m-121-2h0m-3 3.5h0m112-.5h0m22.5 1h0m37.5 3.5h0m-40.5-.5h0m-50 .5h0m-90 .5h0m122.5 1h0m7 .5h0m28-.5h0m29.5 2h0m6 .5h0m20.5 0h0m21-1h0m17.5 3.5h0m-35.5-2h0m-25 2.5h0m-23-2.5h0m-9 0h0m-39 .5h0m-32 1h0m1 1.5h0m162.5 1h0m-7 4.5h0m-96.5-1.5h0m-22.5 .5h0m3 3h0m7.5 1h0m106.5-.5h0m14 2.5h0m-6.5-1h0m-19 0h0m-26 .5h0m-12.5 1.5h0m-16.5-1.5h0m-48-1h0m-39.5 1.5h0m-42.5 2.5h0m1.5 .5h0m22.5-1.5h0m1 .5h0m2 1.5h0m15-1h0m33.5 1h0m131 1h0m-.5 2.5h0m-2-1h0m-11.5 0h0m-72 .5h0m-10.5-2h0m-6.5 1h0m-1.5 .5h0m-82 0h0m-12 2h0m68 1.5h0m60.5-2h0m2 .5h0m60 1.5h0m4-1.5h0m3 2h0m2 .5h0m-28.5 .5h0m-10.5 0h0m-46.5 1.5h0m14 3.5h0m38-.5h0m2-2h0m41.5 7h0m-216 2.5h0m-14.5 3h0m140.5 5h0m-34.5-.5h0m-71.5-1h0m-6 1.5h0m-24-2.5h0m-7.5 3.5h0m2 2h0m15.5-2.5h0m3.5 0h0m9.5 0h0m71 1h0m37 1h0m9 .5h0m46 1.5h0m-63-.5h0m-123.5 2h0m-5-2.5h0m10.5 5.5h0m13 0h0m80.5-2.5h0m80 2h0m-78.5 2.5h0m132.5 3h0m-223.5 6h0m179.5 3.5h0m-176.5-.5h0m-22.5 1h0m19.5 3h0m2.5 0h0m3-1.5h0m7.5-.5h0m5.5 2h0m151 1h0m-152 .5h0m-24 1h0m1 4.5h0m-7 2h0m-11.5-.5h0m201.5 6.5h0m-55.5-1.5h0m-132.5 1h0m37 2h0m-31.5 4h0m14 3.5h0m123-1.5h0m-114.5 4h0m-7.5-1h0m-2.5 2.5h0m33.5 0h0m96 0h0m9 4h0m-47 .5h0m-72 0h0m-25.5 1h0m14 2.5h0m6-1h0m8-1.5h0m3.5 4.5h0m0 .5h0m-16.5-1h0m11.5 2.5h0m2.5 2h0m1-.5h0m3-.5h0m-13 3h0m9 12.5h0m-5.5-.5h0"/><path stroke="#FF58AE" d="M167.5 93.5h0m53.5 5h0m1 0h0m10-1.5h0m-65 4.5h0m-3-.5h0m-20.5 1.5h0m82.5-.5h0m5.5 1h0m-68.5 4h0m-13 1.5h0m7.5 2h0m59.5-1h0m82 2h0m-87 2h0m-49-1.5h0m-17.5 0h0m-11-.5h0m-7.5 3.5h0m83 1h0m14.5 0h0m0-1.5h0m.5 1h0m-83 4h0m7.5 3h0m16-.5h0m60.5-1h0m-9.5 4h0m-89.5 1.5h0m13.5 .5h0m14.5 0h0m76.5 1.5h0m8.5-.5h0m-23 3.5h0m-5.5-2h0m-3 2h0m1 4.5h0m-51.5 1h0m-19.5 0h0m-9.5 2h0m11 1h0m2 0h0m12 3.5h0m-12-2h0m-38 3.5h0m11.5-1h0m15 1.5h0m6 1h0m7.5 0h0m80-1.5h0m6.5 2h0m-5 .5h0m44.5 3.5h0m-125.5 4.5h0m-21 0h0m-27.5 .5h0m28.5 1.5h0m0 1.5h0m0 2h0m-2.5-1h0m-13.5 1h0m14.5 1h0m2 .5h0m-9 6h0m4 0h0m104 0h0m18.5 1.5h0m18 3.5h0m-56-2.5h0m-51 2.5h0m-29-1.5h0m-1.5-.5h0m2 2.5h0m93 2.5h0m14.5-2h0m2-.5h0m69 1.5h0m5.5 .5h0m2 3.5h0m-2.5-2.5h0m-1 2.5h0m-9-1h0m-100 .5h0m-104 1.5h0m155.5 0h0m49.5 0h0m13.5 0h0m10.5 2.5h0m-59.5 0h0m-174.5 1.5h0m225.5 1.5h0m-41 4.5h0m-39.5 .5h0m-8.5-.5h0m-3.5-.5h0m-9 0h0m4 4.5h0m50.5-.5h0m9.5-1.5h0m21 0h0m-1 5h0m-73 0h0m-12.5-1h0m-41-.5h0m43 2h0m11 1h0m37.5 1h0m38.5-.5h0m1.5-.5h0m21 .5h0m10 3h0m-11.5-1.5h0m-30.5 2.5h0m-17-.5h0m-51.5-2h0m-53.5 4.5h0m88.5-.5h0m55 0h0m-1.5 2.5h0m-76.5 4.5h0m80-1.5h0m4 5h0m-2.5-1h0m-1-1.5h0m-55 2h0m-44 0h0m-6.5 1.5h0m25 2h0m26-1.5h0m36.5 1h0m1.5 .5h0m10-.5h0m-179.5 4.5h0m153 2h0m22.5-2h0m16.5 1.5h0m23-1.5h0m-15.5 3h0m-208 .5h0m129.5 4h0m27.5 2h0m-3.5 .5h0m-37.5 .5h0m14 3.5h0m22.5-2.5h0m-1.5 5h0m-157-.5h0m-2.5 0h0m20 4h0m124.5 0h0m-148 3h0m113.5 .5h0m-99.5 4.5h0m-3 9.5h0m8 3h0m0 .5h0m-2.5-2.5h0m-2 7.5h0m3 3.5h0m60 3.5h0m-64 2h0m63 1h0m-34 .5h0m-30.5 1h0m62 2h0m-31.5 4h0m-30-.5h0m-11.5-.5h0m.5 3.5h0m6 0h0m9 2h0m19-2.5h0m24.5 .5h0m-20.5 3h0m-4.5 .5h0m-21.5 3.5h0m3.5-1h0m12 12.5h0m29 0h0m-23.5 3.5h0m-.5 2h0m20.5 2h0"/><path stroke="#6E6E6E" d="M169 98.5h0m97.5 3h0m-99-2h0m-7.5 1.5h0m9.5 6h0m-29.5-.5h0m-2 1h0m30.5 1h0m51-.5h0m51.5 6h0m39 17.5h0m-147 7h0m2-.5h0m-58 7.5h0m213.5 1.5h0m-220 16h0m158.5 1.5h0m-82.5 2.5h0m-.5 .5h0m0-1h0m-1-1.5h0m64 5h0m-126.5 1h0m-10.5 9h0m-1 8.5h0m1.5 3h0m-1-2h0m-1 0h0m-22.5 6h0m167 3h0m30.5 1.5h0m-15 2.5h0m-.5 1h0m34.5 23h0m-146 3.5h0m144.5 .5h0m.5-1h0m-83.5 1.5h0m130 7.5h0m-196 6h0m-16.5 .5h0m56 5h0m102.5 4.5h0m25.5-1h0m9.5-1.5h0m-183 4.5h0m2.5 1.5h0m1 0h0m-31.5 4h0m-7.5 3h0m22.5 6.5h0m22.5 5.5h0m119.5 15.5h0m-152.5 3.5h0m145.5 .5h0m-97 12.5h0m112.5 32.5h0m0 1.5h0m-57.5 9.5h0m-7 11.5h0m-8 10.5h0m54-2.5h0m-2 8h0"/><path stroke="#F8665F" d="M244.5 67h0m4.5-1h0m.5 0h0m1 1.5h0m3.5 0h0m2.5 0h0m4 2h0m-4 1.5h0m-17.5 3h0m1-1h0m14-1h0m.5 1h0m9.5 4h0m-16.5-1.5h0m-7.5 1h0m2 4h0m5-2.5h0m14 0h0m-10 4.5h0m7.5 3h0m2-.5h0m8.5 2.5h0m-108 10h0m3.5 1h0m103.5 3h0m-10-1h0m-91.5 .5h0m-1.5 0h0m-22.5 0h0m-1-1h0m2.5 2h0m70.5 0h0m3.5 2.5h0m-61 1h0m78.5 3h0m26 .5h0m11.5 4.5h0m-20.5-1.5h0m-86 1.5h0m-20-2.5h0m-8 2h0m-7.5 2h0m17.5 0h0m1 1.5h0m11.5-.5h0m2 0h0m7.5-1h0m64.5 1.5h0m1.5-2.5h0m47 2h0m12 .5h0m4 1.5h0m-78 0h0m-53 .5h0m-.5-1.5h0m-1 1h0m-.5 0h0m-13.5-1h0m-19 1.5h0m29.5 1.5h0m8 1.5h0m115 1h0m-32.5 3h0m-91.5-2.5h0m-5.5 2.5h0m-10.5-1h0m-1.5-.5h0m13 2h0m75 2h0m15.5-2h0m21 1.5h0m8 0h0m2 0h0m7.5-1.5h0m2 1.5h0m4-.5h0m-13 4.5h0m-9.5-1h0m-52 0h0m-57 0h0m-14 0h0m-15.5-.5h0m-5.5 1.5h0m27.5 .5h0m101.5 1h0m9.5 0h0m35 1.5h0m4.5 2h0m-77-1.5h0m-62.5 1h0m-24-.5h0m-19.5 3.5h0m3 0h0m23-.5h0m114 .5h0m1.5 1.5h0m39.5-.5h0m3 0h0m11 0h0m-35 3h0m-17 .5h0m-103.5-1.5h0m-18 .5h0m-5.5 0h0m-8 0h0m0-1.5h0m-9 1.5h0m-7 2h0m25 2h0m12.5-1h0m5.5 1h0m87-2.5h0m54.5 1.5h0m2 2h0m-6 1.5h0m-28.5-2h0m-9.5 2h0m-119.5-1h0m-8.5 1h0m-12-.5h0m-18 3h0m26.5 1h0m9.5-1.5h0m11 .5h0m156.5-.5h0m20.5 4.5h0m-182-2h0m-.5 0h0m-34.5 0h0m14 3h0m.5 2h0m92.5-2.5h0m73.5 .5h0m3.5 2h0m6 0h0m-160.5 2h0m-18 1h0m-18-.5h0m21 3.5h0m176.5-2h0m7.5 1h0m-100 2h0m-85.5 0h0m-4.5 0h0m-3.5 0h0m-15.5 1h0m15 3.5h0m2 .5h0m16-2.5h0m189.5 .5h0m-36 5h0m-129.5-2h0m-47 3h0m176 0h0m-59 2.5h0m-3.5 2.5h0m-11 0h0m-94.5-1h0m-.5 .5h0m-7.5 .5h0m-1-1h0m-2 .5h0m-7.5 .5h0m-6.5 2.5h0m7.5-1h0m133.5 0h0m17.5 0h0m45.5 4.5h0m-11-.5h0m-43.5-2h0m-1 .5h0m-151 2.5h0m-10 8h0m1.5-.5h0m124.5 .5h0m51-1h0m31 .5h0m-25.5 3.5h0m-53.5-.5h0m9.5 7.5h0m111 2.5h0m-27.5 3.5h0m36 .5h0m-33 3.5h0m27.5 9.5h0m13 0h0m-67.5 3.5h0m-29.5 2h0m32 2.5h0m-144.5 2h0m116 5h0m-111 0h0m-4 .5h0m-13 3h0m107 5.5h0m-115.5 2h0m-5 11.5h0m31 6.5h0m13 2.5h0m-24.5 6.5h0m.5 1.5h0m32-1h0m93.5 1.5h0m-24 7.5h0m59.5 6.5h0m-44 3h0m44.5 2.5h0m-.5-.5h0m-129.5 7h0m92 3h0m0 1.5h0m-112.5 2h0m136.5 24.5h0m.5 15.5h0m-53 2.5h0m-1-.5h0m-3 3.5h0m3.5-2.5h0m4 .5h0m-4.5 5h0m-.5-1h0m-1.5 .5h0m-3-1.5h0m-2 .5h0m-8.5 3.5h0m7.5 0h0m.5 1h0m-4 2.5h0m-2 3.5h0m2.5-1h0m.5 2.5h0m-5 0h0m-4.5 1h0m2 2.5h0m1.5-.5h0m-4 2.5h0m-4 3.5h0m56.5 3h0m-4 6.5h0"/><path stroke="#B49D00" d="M157.5 95h0m-19 15.5h0m6.5-.5h0m20.5-.5h0m1 0h0m.5-1.5h0m1.5 5.5h0m-21 0h0m-15.5 0h0m-7.5 1h0m24.5 .5h0m9.5 5.5h0m4.5 2h0m0-1.5h0m-39 3.5h0m45 8.5h0m-17.5 3h0m-21 5.5h0m-18 2h0m-10 .5h0m11 5.5h0m37 .5h0m-48 7h0m31-1h0m-32 3h0m-3.5 0h0m-3.5 1.5h0m-.5 1.5h0m7 5h0m17.5 5.5h0m-1 2h0m2 65h0m-3.5 7.5h0m10.5 1h0m89.5-1.5h0m22.5 1h0m12.5-1.5h0m15 1.5h0m28-1.5h0m.5 2h0m1.5-.5h0m3-1.5h0m-4.5 5h0m-1.5-1.5h0m-8 1h0m-17.5-1h0m-27-.5h0m-6 2h0m-8.5-1.5h0m-1.5-.5h0m-5.5 1h0m-105 .5h0m-1.5-1h0m70.5 3.5h0m31 1h0m1 .5h0m18-1.5h0m1.5 1.5h0m8-1h0m10-1.5h0m14 0h0m13.5 0h0m-23.5 4h0m-24 1h0m-3.5 .5h0m-112-1.5h0m1.5 3h0m20 0h0m76.5 1h0m3 0h0m.5-1h0m1.5-1h0m6.5 2.5h0m6.5-.5h0m18-1.5h0m34.5 1.5h0m10.5-.5h0m-6 2h0m-43-.5h0m-18.5 0h0m-2 1h0m-2 .5h0m58.5 2.5h0m0-.5h0m16.5 5h0m-2-2h0m-7.5 1.5h0m-32.5-1h0m-6.5-1h0m-18.5 1.5h0m-11-1h0m-8 4h0m6 0h0m11.5-1h0m42.5 2h0m8.5-1h0m1.5 1h0m6.5-2h0m9 2.5h0m-9 .5h0m-18 0h0m-11.5 .5h0m-10.5 .5h0m-.5 0h0m-23-1.5h0m-104.5 2.5h0m18 2.5h0m135.5-1h0m5 0h0m3 1.5h0m6.5 0h0m-3 1.5h0m-1.5-1h0m-6.5 .5h0m-5.5 .5h0m-10.5-.5h0m-13.5-.5h0m-.5 1h0m-14 1h0m-16 .5h0m16.5 2.5h0m9.5-.5h0m5.5 0h0m15.5-1h0m1 1.5h0m3 .5h0m7.5 1.5h0m-7 .5h0m-10.5 1h0m-1-2h0m-21 .5h0m-17-.5h0m-78 2.5h0m76 0h0m2.5 1h0m49 1h0m14 1.5h0m-22.5 1.5h0m-28.5-1h0m-80.5 3h0m66-.5h0m23.5 1.5h0m18-.5h0m0 1h0m4.5-.5h0m16-1h0m9 1h0m1 3.5h0m-3-1.5h0m-14 1h0m-8.5-1.5h0m-14.5 0h0m-10.5 1.5h0m-1-1h0m-4.5 4.5h0m35.5-1h0m16.5-1h0m.5 2.5h0m-30 1h0m-3.5 1.5h0m-5-2h0m-18 .5h0m-88.5 1.5h0m-3.5-2h0m89 5h0m1 0h0m5.5 0h0m13.5-2h0m12.5 0h0m3.5 0h0m11 2h0m4-.5h0m-21.5 3h0m-23.5 .5h0m9 .5h0m-28.5 7h0m-19 5.5h0"/><path stroke="#78AC00" d="M133 116h0m13.5-1h0m16 13.5h0m1.5 9.5h0m-46.5 9.5h0m-1.5 13h0m35 11.5h0m-42.5 6h0m-27.5 12.5h0m209 55h0m-1.5-2h0m-.5 1.5h0m-15-.5h0m-.5 1h0m-31-.5h0m33.5 3.5h0m14.5-.5h0m-42 3h0m-8-2h0m-15 2h0m45 1h0m10.5 1.5h0m15.5 1.5h0m-53 2h0m-2.5-2h0m-24 1.5h0m-4-1.5h0m21 4.5h0m14 .5h0m17.5-1h0m13-1h0m21 2h0m-14.5 2h0m-60.5-1h0m-8 4.5h0m3.5 .5h0m6-.5h0m9.5-.5h0m2 0h0m4.5 1h0m17-.5h0m7 .5h0m17.5 3.5h0m-7-1h0m-18.5-1h0m-8.5-.5h0m-1 3h0m42.5 2.5h0m7.5 3h0m-14.5-.5h0m-10.5 0h0m-45.5-1.5h0m-5 3h0m26 0h0m13 3.5h0m-8 1h0m-26.5 0h0m-4.5 0h0m-6.5 2.5h0m27.5 0h0m10.5-.5h0m3.5 .5h0m14-1h0m14.5 0h0m9 1h0m1 .5h0m0-1.5h0m7 0h0m-25.5 4h0m-51.5 3.5h0m68-1h0m3-.5h0m-35.5 4h0m-12 .5h0m-1.5 0h0m-3-.5h0m-25.5-.5h0m24 3h0m.5-.5h0m6 1h0m5 0h0m25-1.5h0m6.5 0h0m-1.5 5.5h0m-14.5-2.5h0m-19.5 .5h0m-30 1.5h0m-1 0h0m-3.5-2h0m14.5 5h0m13-2h0m5 .5h0m38-.5h0m-15 5.5h0m0-2.5h0m-21 2.5h0m-15.5-1h0m-1.5-.5h0m-7.5 3h0m32 1h0m7.5 0h0m-4.5 1h0m-31 1h0m-8 1.5h0m-10 0h0m8 .5h0m6 3h0m-15.5 2.5h0m-3.5-1h0m8.5 2.5h0m-11 3.5h0m-1-1h0m0 2h0m4.5 1h0"/><path stroke="#00B636" d="M260.5 82h0m-5 3h0m14.5 3.5h0m-9 2.5h0m2.5 0h0m6.5-1h0m-14.5 5h0m-.5 0h0m5.5 1h0m11 2h0m5 2h0m-5.5-1h0m-2.5 2h0m-11.5 1.5h0m10.5-.5h0m2 2h0m1.5-2h0m7.5 2.5h0m-3.5 1h0m-2.5 1h0m-10 .5h0m-7 0h0m10.5 1.5h0m3 .5h0m8.5-1h0m10 2.5h0m5-2h0m4 2h0m3.5 2.5h0m-26.5 0h0m-2.5-2h0m-2 .5h0m-3.5 2h0m-3.5-1h0m-4.5 2h0m9.5 1.5h0m3.5 0h0m1 .5h0m15.5-1.5h0m1 0h0m7 0h0m.5-1h0m2.5 1h0m2.5 2h0m-18.5 .5h0m-10 1h0m-11.5 2.5h0m0 1.5h0m2 0h0m32 2.5h0m-41 2.5h0m28 0h0m10.5 .5h0m3-2h0m15.5 2.5h0m5 2h0m-3.5 .5h0m-6-2h0m-5 2.5h0m-41 3h0m38.5-2h0m2 1.5h0m3.5-2h0m10.5 3.5h0m-2 .5h0m-1.5 1h0m-13.5-2h0m-13 1h0m-2.5 1h0m-4.5-1h0m-9.5 1.5h0m-16-2.5h0m7 4h0m7 1h0m6.5-1h0m6 .5h0m22.5-.5h0m0 1h0m12-1h0m-13.5 2h0m-1 1.5h0m-7-1.5h0m-7 1.5h0m17.5 3.5h0m18 .5h0m-31 2.5h0m-78.5-.5h0m-2 0h0m74 3h0m7-1h0m17.5 2h0m-10.5 2.5h0m-2-2h0m-12.5 2.5h0m-74.5-.5h0m16 3.5h0m24-1h0m48-.5h0m24 3.5h0m-26 1h0m-10 0h0m-8-1.5h0m0 1h0m-3-1h0m-.5-.5h0m-64 4.5h0m75.5 0h0m3 0h0m4.5 .5h0m21-.5h0m3.5-.5h0m5-1.5h0m-9 4.5h0m-2-1h0m-14 2h0m-6-2.5h0m-2.5 2.5h0m-1.5-2h0m-1 .5h0m-4 1.5h0m-10 0h0m-51 0h0m8.5 1h0m58 1h0m25.5 .5h0m-63 3h0m-48-1h0m10.5 4h0m47 3h0m-43.5-1h0m5.5 3.5h0m41.5 .5h0m-52 1.5h0m-4 3h0m122.5 8.5h0m-71 2.5h0m23.5 3h0m-141 2.5h0m6 3.5h0m4.5-2h0m-15 4.5h0m18 3.5h0m146.5 2h0m-37 .5h0m-116.5 6.5h0m-6.5-.5h0m-10.5 3h0m6.5 0h0m208-1h0m-203 2.5h0m136 6.5h0m-49 7h0m-93-.5h0m-6 0h0m-10 3.5h0m102-1.5h0m42 5h0m-40-1h0m0 .5h0m-5-1.5h0m-100.5 2h0m1 .5h0m28 2h0m-14.5 10h0m-14 6.5h0m140.5 0h0m31.5-.5h0m10 2h0m-173.5 3.5h0m91.5 1h0m36.5 2h0m-101 1.5h0m-21-.5h0m-15.5 0h0m-1.5 1.5h0m5.5 3.5h0m4 0h0m20-.5h0m117.5 0h0m18 1.5h0m-133.5 1.5h0m-15-1h0m-14 0h0m-9 2.5h0m8.5 .5h0m39 .5h0m2 .5h0m10.5 8h0m99.5 4.5h0m-140 5h0m.5 .5h0m31.5-1h0m69.5 2.5h0m-89.5 2h0m-7 1.5h0m18.5-.5h0m-4 3.5h0m-5.5 3h0m2 2h0"/><path stroke="#00BE88" d="M269.5 76.5h0m-29.5 2h0m6 3.5h0m25 7h0m-.5 0h0m-1.5-.5h0m-15.5-1h0m14.5 11.5h0m-38.5 9h0m56 .5h0m-141.5 7h0m5-1.5h0m111 .5h0m42 4.5h0m-5-1.5h0m-82.5 7h0m-73-.5h0m128.5 8h0m9.5 2.5h0m24.5-1h0m6-1h0m-163 5.5h0m96 3h0m-31.5 2h0m-99.5-1h0m114 3h0m29 1.5h0m19-.5h0m4.5-1h0m26 4.5h0m-165-1h0m-29.5-1.5h0m149 5h0m44 2.5h0m-.5 0h0m-3-.5h0m-90.5 1h0m77.5 1h0m8.5 1.5h0m22 .5h0m-82 3h0m39.5 1h0m12 4.5h0m-58 4h0m17-2h0m-36.5 8.5h0m-110.5 5.5h0m2 0h0m67.5 0h0m149.5-.5h0m-24.5 1h0m-123 1.5h0m-70.5-1h0m131 5h0m66.5 0h0m19.5 1.5h0m-148.5 .5h0m-83.5-1.5h0m183 5h0m-55.5 5h0m35.5-.5h0m45.5 1.5h0m-15 2.5h0m-62.5 0h0m-46.5-.5h0m-39.5 1.5h0m76.5 1.5h0m48.5 1h0m-1 1h0m-49.5 1h0m-74.5 4h0m39.5-2h0m75 2.5h0m61-1.5h0m-156 4h0m-21.5-2h0m145 4.5h0m-3.5 1.5h0m-132 1.5h0m-6-.5h0m-8.5 3h0m138.5 0h0m-157 5h0m24 1.5h0m14 .5h0m68.5-1.5h0m94 1.5h0m1-1h0m-42.5 2h0m-54 0h0m-1.5 .5h0m-70.5 5h0m4.5-1h0m2 1h0m2.5-.5h0m136.5 .5h0m-61.5 1h0m-40 1h0m-64 3h0m17.5-1h0m47 0h0m94.5-.5h0m8.5 1.5h0m10.5 2.5h0m-113.5 1h0m-53.5 3.5h0m222 1h0m-220 0h0m-5.5 .5h0m-11-.5h0m9.5 2.5h0m61.5 5h0m0 3.5h0m122-1.5h0m9 2.5h0m-6-.5h0m-167.5 3.5h0m-10 2.5h0m14 6.5h0m-30.5 1.5h0m33.5 3h0m4 0h0m-2.5 2h0m-4-.5h0m-25.5 1h0m-10 1.5h0m69 .5h0m-13.5 2.5h0m-44 1.5h0m-6-.5h0m55.5 4h0m-2 3h0m-3.5-1h0m-15.5 .5h0m4 3h0m-21 3h0m25.5 18.5h0m60.5 39.5h0m-11 4h0m-5.5 4h0m56 8.5h0m-7 6h0m-1.5 6h0m-2 2h0"/><path stroke="#00BCC1" d="M239 168h0m44.5 2h0m-8 4h0m3.5 15h0m-67 3h0m-11.5 5h0m-29-.5h0m-2.5 6.5h0m120 2h0m-143 12.5h0m82.5-.5h0m1 1.5h0m1-2h0m-85.5 3.5h0m-1 1.5h0m150 6.5h0m1 1.5h0m2.5-1h0m6.5 1.5h0m30.5-1.5h0m9 0h0m5.5 5h0m-5-2.5h0m-7.5 1h0m-7-.5h0m-4 1h0m-1.5-.5h0m-23.5 1h0m-45-.5h0m-111.5 0h0m-15 3.5h0m130-1.5h0m2.5 1h0m41.5 .5h0m40.5-.5h0m5-1.5h0m.5 .5h0m0 4h0m-.5-1.5h0m-15.5 .5h0m-1 .5h0m-9 0h0m-15 0h0m-57.5 .5h0m-139.5-1.5h0m16.5 4.5h0m6-1h0m105 2h0m56.5-2.5h0m.5 0h0m9 1h0m20.5 .5h0m2.5 0h0m11-1h0m7.5 1.5h0m6.5-.5h0m1-1h0m-4.5 3.5h0m-2 1.5h0m-2-2.5h0m-22 2h0m-.5-1.5h0m-1.5 .5h0m-5-.5h0m-2 0h0m-8.5-.5h0m-1.5 1h0m-81 0h0m-112.5-1h0m15 5h0m176.5-1h0m16 .5h0m26 1h0m5.5 2.5h0m0-1h0m-5.5-1h0m-23.5 2h0m-2-1.5h0m-11.5 .5h0m-2 1h0m-.5-1.5h0m-170.5 1h0m2 2h0m170.5 1.5h0m1.5 .5h0m16-1h0m5.5 0h0m5 0h0m8-1h0m-21 4h0m-12-1h0m-.5 4h0m2 0h0m30.5-1.5h0m.5 0h0m-6 3.5h0m0 .5h0m-1.5 1h0m-18-.5h0m-6.5 1h0m6 .5h0m9 1.5h0m1 0h0m2.5 .5h0m-11.5 2.5h0m-173.5-1.5h0m-3 3h0m168 5h0m-3.5-1h0m-3.5 1.5h0m-2-1h0m-161 0h0m-23.5 2h0m6 1.5h0m182.5-1.5h0m-149.5 5h0m-1 1h0m1 2h0m4 0h0m8 1h0m-18.5 3.5h0m2 3.5h0m-6.5 13h0m1 9h0m12.5 2.5h0"/><path stroke="#00AFF0" d="M165.5 94h0m91.5 7h0m-41 10h0m4 4.5h0m75 1.5h0m-43.5 8.5h0m-35-2.5h0m-54.5 1.5h0m53.5 2h0m5 .5h0m33.5 0h0m-5.5 4.5h0m-1.5-2.5h0m-.5 4h0m62 1.5h0m8 2h0m-103.5 1h0m-64 1.5h0m2.5-1h0m61.5 1.5h0m57.5 1.5h0m-48.5 1.5h0m-112 2h0m207.5 1h0m-65.5 2.5h0m-24.5 0h0m-88 4.5h0m106-.5h0m11.5 .5h0m9.5-1h0m57.5 2.5h0m-60 1h0m-4-1.5h0m-2.5 1h0m-5-.5h0m-6 1h0m-15.5 0h0m-106.5 1h0m90.5 2.5h0m8 0h0m11.5-2h0m1.5 1.5h0m59.5 0h0m-88 5.5h0m29.5-1h0m14.5 2h0m14-1.5h0m-30.5 4h0m20.5 1h0m50.5 5.5h0m-27-1.5h0m-14 0h0m-6.5 1.5h0m-21.5-1.5h0m-3.5-1h0m-14 0h0m12.5 5h0m9.5-1h0m3.5 .5h0m17 0h0m41 .5h0m-14.5 2h0m-1 0h0m-11 0h0m-25 1h0m-3.5 0h0m-33.5 1h0m2.5 2h0m3-.5h0m13 .5h0m46.5-2h0m9.5 2h0m3 0h0m20-1h0m9-.5h0m1 1h0m-38 3h0m-14.5 .5h0m-33-1.5h0m-11.5 1.5h0m-139.5 3.5h0m128.5-.5h0m3.5-1h0m30-.5h0m2.5 1h0m46.5-1.5h0m-19.5 4.5h0m-65.5 1.5h0m46.5 2.5h0m.5-2h0m6 0h0m10-.5h0m5 0h0m32 0h0m20.5 5h0m-7.5-1h0m-7.5-1h0m-10.5 2h0m-23.5 .5h0m-11.5-1.5h0m-.5 1.5h0m-52.5-2.5h0m2 5.5h0m25 0h0m13 0h0m16-.5h0m43.5-1h0m1-.5h0m5.5 1h0m-4 1.5h0m-42 0h0m-125.5 2.5h0m-.5-1h0m62.5 1.5h0m20.5 2.5h0m38.5-2h0m39.5 1.5h0m18 2h0m-57 .5h0m-118-1.5h0m44.5 4h0m6 1h0m6.5-.5h0m.5 .5h0m10.5 .5h0m25-.5h0m6.5-2h0m12.5 .5h0m1.5 .5h0m66 1h0m-76 1.5h0m-13-.5h0m-4 0h0m-26.5 1h0m-68.5-1h0m-11.5 1.5h0m-2.5-.5h0m-10.5-1h0m.5 3h0m18 2h0m63.5 0h0m8.5 0h0m64.5-1h0m49.5 2.5h0m-63-.5h0m-15 .5h0m-5 2h0m-27.5-2h0m-95.5-.5h0m24 3.5h0m83 2h0m29-.5h0m19 0h0m3-1h0m15-1h0m30.5 .5h0m7 1h0m.5 1h0m8.5 1h0m-.5 1h0m-49.5-1.5h0m-143.5 4h0m83-.5h0m25.5 2h0m18.5-1h0m10.5 .5h0m-10 1h0m-37.5 1h0m-16 0h0m-11.5 0h0m-63.5 1.5h0m-1-.5h0m-7 2.5h0m41.5-1.5h0m.5 2.5h0m27-2h0m6 0h0m31.5 .5h0m12 .5h0m2.5 0h0m-6 3.5h0m-1-1h0m-14 1h0m-57.5 .5h0m-52.5 1.5h0m52.5 .5h0m81.5-1.5h0m11.5 0h0m62.5 3.5h0m-94.5 1h0m-60.5-1.5h0m-51 1h0m-.5 1h0m189.5 1.5h0m23.5 .5h0m-23.5 4h0m-136.5 0h0m-.5-1.5h0m-76 1.5h0m28 2.5h0m88-.5h0m99.5-.5h0m22.5 1.5h0m-6.5 3h0m-28.5 0h0m-15.5-.5h0m-188.5 2.5h0m204 2h0m-181.5 0h0m-18.5 1h0m30.5 4h0m165.5 0h0m-85.5 1.5h0m-73 1h0m-6-1h0m-.5 0h0m-26.5 2h0m1.5 3h0m15.5-1h0m13.5-1h0m2.5 .5h0m1.5-1h0m3 0h0m0 5h0m-31-1.5h0m-1 5h0m.5-.5h0m19.5 .5h0m16.5-.5h0m112-.5h0m-56 3h0m-74.5-.5h0m-11.5 1h0m-6.5 2h0m22-.5h0m15 1h0m8 1h0m88.5-2.5h0m-122.5 3h0m-13.5 .5h0m-5 1h0m-5-1h0m44 2.5h0m63 4h0m-46 0h0m-2.5 .5h0m-5 0h0m-.5-1.5h0m-26.5 .5h0m34.5 5.5h0m-15.5 .5h0m-9 1.5h0m-8.5 1h0m34.5 0h0m87 3h0m-127.5 5.5h0m34.5-2.5h0m-6 4.5h0m-26.5-1.5h0m25 5.5h0m1-1.5h0m51.5 7h0m-50.5 2.5h0m126.5 12h0m-12 14h0"/><path stroke="#5D95FF" d="M160.5 92.5h0m-7 6h0m1 0h0m10-.5h0m4 .5h0m3-1h0m80 3h0m-86 1h0m-8 0h0m-3.5-1h0m59.5 7h0m-58.5 2h0m6 .5h0m3.5 0h0m80 1h0m-83.5 .5h0m1.5 3.5h0m5 1h0m39 .5h0m25.5 0h0m12 2.5h0m-1 0h0m-31.5-.5h0m-1-.5h0m-73 0h0m76.5 4.5h0m32-2h0m31.5 1h0m-26 2.5h0m-14.5-.5h0m-3.5 .5h0m3 4h0m6-.5h0m2.5 .5h0m2 .5h0m2-1.5h0m38.5 3.5h0m-31-1.5h0m-31.5 1.5h0m-90 4h0m4.5-1h0m3-1.5h0m63 .5h0m1 0h0m.5 1h0m6.5 1h0m3.5-.5h0m38 2.5h0m-30.5-.5h0m-7 1h0m-52.5 .5h0m-18.5 2h0m70.5 .5h0m36-.5h0m17.5-1h0m-118.5 5h0m-2.5 0h0m-38-.5h0m-9.5 2.5h0m149.5-1.5h0m49.5 1.5h0m16 0h0m-109.5 2h0m-.5 2h0m-58-2.5h0m-3.5 2.5h0m-10-2.5h0m-5 0h0m-7 0h0m-15.5 4.5h0m6 0h0m1-.5h0m18 1.5h0m4.5-.5h0m66.5-.5h0m44.5-1h0m35.5 1h0m-24.5 3.5h0m-126.5 0h0m-.5-1.5h0m-14 .5h0m-18.5 1h0m-3.5 0h0m17.5 3.5h0m2.5-2.5h0m15 0h0m99.5 4h0m-119.5 1h0m103 1h0m16 .5h0m22.5 1h0m-14.5 4h0m-10.5 0h0m12.5 1.5h0m1.5-.5h0m6 0h0m52 3h0m-8 0h0m-183 1h0m-5 0h0m-9-1h0m-2 5h0m8-1.5h0m131.5 1.5h0m15-1.5h0m27 .5h0m33 3.5h0m-25-.5h0m-40 1h0m-1.5-.5h0m2.5 2h0m23.5 .5h0m6-.5h0m14 .5h0m-10.5 2.5h0m-68 1.5h0m21.5 2h0m4.5-1.5h0m43 2h0m38-.5h0m-74.5 1.5h0m-19.5 1h0m-2.5-1h0m-3 2h0m-133.5 0h0m-3 2h0m194 1h0m-5 1.5h0m-68.5 3.5h0m7.5 0h0m68 1h0m10-1h0m16-.5h0m31.5 5h0m-55.5-1h0m-1.5 1h0m-3-1h0m-119 1h0m-.5-1h0m47 1.5h0m3 2h0m68.5 3.5h0m-4-2h0m-26.5 2h0m-20 5.5h0m-78.5 3h0m4-1h0m5 1.5h0m164-2.5h0m27 5h0m-58-1.5h0m-33.5 2h0m-28-2h0m-80.5 1.5h0m-16.5-2h0m8 4h0m11.5 0h0m2 0h0m77 0h0m22.5-1h0m5.5 2.5h0m7.5-1h0m16 .5h0m-27.5 2h0m-99.5 2h0m96 0h0m14 2.5h0m49 0h0m34-2h0m-15 4h0m-72.5 1h0m-2-2.5h0m-33 1h0m-10 .5h0m-68.5 3h0m90-1h0m53 2h0m4 0h0m46 3h0m-47.5-.5h0m-66-2h0m-82 1h0m76 2h0m31 0h0m9 2h0m40.5 2h0m-185 2h0m1.5 2.5h0m13-2.5h0m19 0h0m138 2h0m55-2h0m-232 8.5h0m17.5-.5h0m17-1.5h0m139.5 11.5h0m33.5 2.5h0m-37 2h0m-30.5-1.5h0m-116.5 3.5h0m86 8.5h0m-72 1h0m-15.5 1h0m-12.5 1.5h0m6.5 0h0m104.5 4h0m-5.5 5.5h0m-1 1.5h0m-90-1h0m38 2h0m-36.5 8h0m148 3h0m-148 1.5h0m.5 0h0m.5-.5h0m11.5 2h0m2.5-1h0m3.5-1.5h0m78 .5h0m24 2h0m-100.5 .5h0m-13.5 1h0m-5.5 0h0m21 3.5h0m122.5 23h0m-1 13h0m-13 18h0m-5.5 7.5h0m-7 13h0"/><path stroke="#C472FF" d="M231.5 96.5h0m0 1h0m2 1.5h0m-16.5 3h0m20.5 3.5h0m-7.5 1h0m-28.5 1h0m-50 1h0m54 .5h0m5.5 1.5h0m13 1h0m4.5 3h0m12 1.5h0m-3.5 2.5h0m-30.5 3h0m5-1.5h0m.5 1h0m.5-1h0m8 2.5h0m21 1.5h0m-7 1h0m-3.5-.5h0m-16.5-1.5h0m-.5 1h0m-3-.5h0m-2 4.5h0m3.5-2h0m6.5 2h0m5.5-2h0m3.5 2h0m0-.5h0m1.5-.5h0m1-1h0m20 5.5h0m-3-1h0m0 1h0m-20.5-2h0m-4.5 1.5h0m8 3.5h0m1-1h0m15.5 0h0m-7 3.5h0m-.5-1.5h0m-6-.5h0m-19 2h0m-50.5 .5h0m62 .5h0m7 1.5h0m2.5-1h0m2-.5h0m-15 3h0m-116.5 5h0m27.5-1.5h0m102.5 10h0m-20.5 3.5h0m18-.5h0m5.5 1.5h0m-132.5 10.5h0m-3 11h0m-26 16.5h0m175 16h0m-44 1.5h0m53.5 1.5h0m0 7h0m-38.5 7h0m-4 4h0m53.5 107.5h0m-1 5.5h0m-45 3h0m44-.5h0m-44.5 2h0m-2.5 0h0m-7.5 1.5h0m-.5 2h0m3.5 4.5h0m-2.5-.5h0m-10.5 2.5h0m2.5-1h0m6-.5h0m3 .5h0m-5 3.5h0m-7 .5h0m-2 .5h0m-1 2h0m57.5 3h0m-52.5 0h0m-5.5 1h0m54.5 4.5h0m-59 .5h0m52.5 6h0m-1.5 3h0m1.5 1h0"/><path stroke="#F455E3" d="M160 93h0m90 3.5h0m-79.5 3h0m-17.5 6.5h0m-10-1h0m-5 4h0m2 .5h0m29-1.5h0m-22 3h0m-5 2h0m-4.5 3.5h0m10-1h0m11-.5h0m8.5 2h0m-12.5 1.5h0m-18 .5h0m-7 3h0m19.5 .5h0m7-.5h0m6.5 1h0m-7.5 0h0m-17.5 7.5h0m-11.5 3.5h0m23.5-2h0m16.5 2.5h0m43.5-2.5h0m11 4h0m-82.5 0h0m-13 2.5h0m29.5 5h0m-10.5-2.5h0m-1.5 5.5h0m105.5 2h0m-105-.5h0m-31 2h0m19.5 .5h0m19 1.5h0m-20 2h0m-6.5 2h0m.5 1h0m10 0h0m75 1.5h0m45.5 0h0m-40 1h0m-87.5-.5h0m-24.5 2.5h0m-1-1h0m24 3h0m98.5-1h0m30 3h0m0 2h0m-13.5 0h0m-8.5-1h0m-112-.5h0m-2.5-.5h0m0 1.5h0m-24.5 3h0m11 .5h0m136-1.5h0m65 4h0m-27.5-1h0m-2.5 .5h0m-3.5-1h0m-161 0h0m-12.5 2.5h0m1 0h0m3.5 2.5h0m14.5 0h0m135.5-.5h0m67.5-1h0m-27 4.5h0m-10.5 0h0m-20-.5h0m-18.5-1.5h0m-26.5 0h0m-12 4h0m13-1.5h0m76.5 4h0m-26.5 1h0m-68-2h0m-111 0h0m-1 1h0m-.5 0h0m-2 2h0m127 1.5h0m7-1h0m.5 2h0m9.5-2.5h0m15 1h0m31.5 0h0m-76 3h0m46.5 4h0m7-1.5h0m11.5 2h0m5.5-2.5h0m59.5 3.5h0m-46.5 0h0m-17 1.5h0m-26.5-.5h0m-69.5 3h0m47-.5h0m30-1h0m43 3h0m-13 2h0m-30.5-2h0m-108 2.5h0m6.5 2.5h0m13-2h0m48 2h0m93.5 2.5h0m-91-1.5h0m-5.5 .5h0m-51 1.5h0m-26 1h0m104.5 1.5h0m4.5 .5h0m16.5 .5h0m79.5 1h0m-6 1.5h0m-42-1h0m-16 1.5h0m-5-1h0m-20.5-.5h0m-10 1.5h0m-18-1.5h0m-13.5-.5h0m-70 0h0m-4 2h0m74.5 1.5h0m24 .5h0m43.5-.5h0m12-1h0m47.5 0h0m7 2h0m1 0h0m-208 6h0m18.5-1.5h0m106 0h0m50 0h0m29-.5h0m-42 3h0m-72.5 .5h0m-82.5 1h0m-4.5 3h0m120.5 0h0m17.5-1h0m6 3h0m-144 1.5h0m1.5 1h0m74.5 1h0m51 1h0m10-2h0m19.5 2h0m-13.5 2.5h0m-10 1h0m-122-2h0m-15 2h0m-13.5-2.5h0m27 4.5h0m116.5 0h0m45 4h0m-14-1.5h0m-7.5 1h0m-63.5-.5h0m-3.5 0h0m-76 0h0m-16.5-1.5h0m11 4.5h0m86.5-1h0m2.5 1.5h0m34.5 .5h0m4.5-2h0m73 5h0m-199-1.5h0m-8.5 1h0m-17.5 12h0m193 1h0m1 4.5h0m-163 1h0m-11 1h0m18 1h0m99.5 2.5h0m-92.5-1h0m-48 1.5h0m-1 2.5h0m198 2h0m-155.5 2h0m-.5-.5h0m-26.5-.5h0m-3.5 1.5h0m41.5 4h0m-1.5 .5h0m-1 0h0m-4.5 .5h0m5.5 2.5h0m13 .5h0m-10.5 4h0m-20.5-1.5h0m-24 4h0m13.5-2h0m8.5 .5h0m82.5 1h0m17.5 3.5h0m-89.5-1.5h0m-19 2.5h0m12.5 1.5h0m15 1h0m86-1h0m19.5-.5h0m-99.5 3h0m-22-.5h0m-8.5 .5h0m-4.5-.5h0m31 3.5h0m1.5 2h0m-6.5 10.5h0"/><path stroke="#FF58AE" d="M259 89h0m-100 3.5h0m100-1h0m-95 6.5h0m66.5 6.5h0m-69 1h0m-16 4.5h0m1.5 0h0m4-.5h0m5-.5h0m11.5 1h0m92.5 3.5h0m-97 0h0m-23.5 2h0m31 1h0m42.5-1.5h0m7 3h0m-57 0h0m-24.5 2.5h0m92.5 3.5h0m-13 1h0m-66.5-1h0m-24 .5h0m103.5 2.5h0m-4 4.5h0m-73.5-.5h0m-2-1.5h0m-15.5 2h0m82 1h0m-5.5 3h0m-48 1h0m-3 0h0m-5-1h0m-2 1h0m-7 1h0m4 2.5h0m60-2h0m85.5 4.5h0m-70.5 0h0m-74.5-1.5h0m-39 2.5h0m38.5 1h0m74 0h0m-89 3h0m-33 1.5h0m-.5 1.5h0m20-.5h0m0 1h0m11 1.5h0m15.5-1.5h0m3.5 .5h0m142.5 1.5h0m-162 0h0m-.5 2.5h0m-34 .5h0m25 .5h0m115 1h0m3 4h0m-.5-1h0m-135.5 1h0m-9.5-2.5h0m10.5 5.5h0m10 3h0m-17.5-2.5h0m100.5 5.5h0m43.5 0h0m6.5-.5h0m47-.5h0m14 .5h0m-32.5 1h0m-70 1h0m-108 3.5h0m108 .5h0m8.5-1h0m25.5 1.5h0m46.5-2.5h0m1.5 2h0m11.5-1.5h0m2 1.5h0m-6 2.5h0m-1.5 1h0m-49.5-2.5h0m-15 1h0m-1.5 1h0m-22.5-1h0m-2.5 0h0m-109.5 .5h0m-1-.5h0m-6 3.5h0m14.5 .5h0m5.5-2h0m160 .5h0m16.5-.5h0m24 .5h0m14 .5h0m-81.5 4h0m-147.5-1.5h0m-8.5 3h0m84 1h0m60.5-1.5h0m93 1.5h0m4.5-.5h0m-30 2.5h0m-25 1.5h0m-103 1h0m97 2h0m38.5 0h0m18-2h0m-1.5 4h0m-35.5 .5h0m-29-1h0m-14 0h0m-25 .5h0m-9.5-.5h0m-37.5 0h0m41.5 3h0m9 1.5h0m2.5-1h0m98-.5h0m11.5 4.5h0m-8-1.5h0m-102.5 3h0m67.5 2h0m21.5 1.5h0m-2 1h0m-.5-.5h0m-141 0h0m58 2h0m85-.5h0m1.5 .5h0m1.5 0h0m18 5h0m-8 0h0m-6-2.5h0m-60 1.5h0m-24 1h0m-28-1.5h0m-69.5 .5h0m-17 4h0m114-.5h0m10.5 0h0m25.5-1.5h0m55.5 0h0m.5 2.5h0m-63 1h0m-137.5 3.5h0m84.5-.5h0m125 1.5h0m5.5 1h0m0 .5h0m-20-.5h0m-57 2h0m-142.5-2h0m13 3.5h0m91 1h0m25 0h0m5.5 .5h0m-34.5 2.5h0m66.5 4.5h0m-106.5 2h0m-37-1h0m110 2h0m-33 3h0m-77.5 .5h0m-.5 0h0m-1 4.5h0m41 5.5h0m-45.5 5.5h0m-11.5 3h0m17.5 5h0m-19 .5h0m23 2h0m37 9.5h0m-59-.5h0m28 3h0m13.5 2h0m-39.5 3h0m2 3.5h0m-15.5 2.5h0m47 22h0"/><path stroke="#6E6E6E" d="M251.5 68.5h0m-8 1.5h0m15.5 9.5h0m1 1.5h0m-89.5 13h0m-5.5 2h0m0 5h0m-2.5 2h0m-21.5 6h0m98.5 6.5h0m-31.5 4h0m4.5 5.5h0m8.5 2.5h0m19.5-1.5h0m56.5 2h0m-76 2.5h0m-69 2.5h0m2.5-1h0m84.5 1.5h0m61.5-1.5h0m6.5 0h0m-76.5 8h0m38.5 .5h0m-150 11.5h0m96-.5h0m-84.5 6.5h0m.5 2.5h0m43.5 4h0m-58 3h0m113 2h0m25-.5h0m-159 10.5h0m5 9h0m0 3h0m175.5 4h0m-17 8h0m18.5 .5h0m-156 16h0m95.5 2h0m125 8h0m-160 10h0m169 3.5h0m-213 1.5h0m181 2h0m-179.5 3h0m-8.5 3.5h0m138.5 .5h0m75-.5h0m-36 5h0m-203 8h0m19.5 5.5h0m165.5 1.5h0m-30.5 0h0m-117.5 8h0m-33 8h0m152.5 5.5h0m14.5 .5h0m-23.5 8h0m18.5 35h0m6.5 6h0m-57 7h0m-.5 3h0m35.5 20h0"/></g>
<circle cx="396.6" cy="109.0" r="5.3" fill="#F8665F"/>
<text x="415.6" y="115.1" font-size="15.8">SyS1</text>
<circle cx="396.6" cy="129.4" r="5.3" fill="#DB8600"/>
<text x="415.6" y="135.5" font-size="15.8">SyS10</text>
<circle cx="396.6" cy="149.9" r="5.3" fill="#B49D00"/>
<text x="415.6" y="156.0" font-size="15.8">SyS11</text>
<circle cx="396.6" cy="170.3" r="5.3" fill="#78AC00"/>
<text x="415.6" y="176.4" font-size="15.8">SyS11.met</text>
<circle cx="396.6" cy="190.8" r="5.3" fill="#00B636"/>
<text x="415.6" y="196.9" font-size="15.8">SyS12</text>
<circle cx="396.6" cy="211.2" r="5.3" fill="#00BE88"/>
<text x="415.6" y="217.3" font-size="15.8">SyS12pt</text>
<circle cx="396.6" cy="231.6" r="5.3" fill="#00BCC1"/>
<text x="415.6" y="237.7" font-size="15.8">SyS13</text>
<circle cx="396.6" cy="252.1" r="5.3" fill="#00AFF0"/>
<text x="415.6" y="258.2" font-size="15.8">SyS14</text>
<circle cx="396.6" cy="272.5" r="5.3" fill="#5D95FF"/>
<text x="415.6" y="278.6" font-size="15.8">SyS16</text>
<circle cx="396.6" cy="293.0" r="5.3" fill="#C472FF"/>
<text x="415.6" y="299.1" font-size="15.8">SyS2</text>
<circle cx="396.6" cy="313.4" r="5.3" fill="#F455E3"/>
<text x="415.6" y="319.5" font-size="15.8">SyS5</text>
<circle cx="396.6" cy="333.8" r="5.3" fill="#FF58AE"/>
<text x="415.6" y="339.9" font-size="15.8">SyS7</text>
<circle cx="396.6" cy="354.3" r="5.3" fill="#6E6E6E"/>
<text x="415.6" y="360.4" font-size="15.8">NA</text>
<text x="503.5" y="26.2" font-family="Liberation Serif, serif" font-size="25.5" font-weight="bold">B</text>
<path d="M566 361.7H897.5 M566 265.8H897.5 M566 169.9H897.5 M566 74.0H897.5" stroke="#F4F4F4" stroke-width="0.6"/>
<path d="M566 409.6H897.5 M566 313.7H897.5 M566 217.9H897.5 M566 122.0H897.5 M566 26.1H897.5 M581.50 7.5V428.3 M608.75 7.5V428.3 M636.00 7.5V428.3 M663.25 7.5V428.3 M690.50 7.5V428.3 M717.75 7.5V428.3 M745.00 7.5V428.3 M772.25 7.5V428.3 M799.50 7.5V428.3 M826.75 7.5V428.3 M854.00 7.5V428.3 M881.25 7.5V428.3" stroke="#EBEBEB" stroke-width="1.1"/>
<rect x="574.90" y="26.10" width="13.2" height="1.30" fill="#D68200"/>
<rect x="574.90" y="27.40" width="13.2" height="2.53" fill="#9C9C00"/>
<rect x="574.90" y="29.94" width="13.2" height="100.09" fill="#30AF00"/>
<rect x="574.90" y="130.03" width="13.2" height="230.10" fill="#12B86E"/>
<rect x="574.90" y="360.13" width="13.2" height="44.49" fill="#13B7BA"/>
<rect x="574.90" y="404.61" width="13.2" height="3.45" fill="#11A6F6"/>
<rect x="574.90" y="408.07" width="13.2" height="1.53" fill="#E450F4"/>
<rect x="602.15" y="26.10" width="13.2" height="67.88" fill="#9C9C00"/>
<rect x="602.15" y="93.98" width="13.2" height="315.62" fill="#12B86E"/>
<rect x="629.40" y="26.10" width="13.2" height="4.99" fill="#F8625C"/>
<rect x="629.40" y="31.09" width="13.2" height="2.30" fill="#9C9C00"/>
<rect x="629.40" y="33.39" width="13.2" height="84.75" fill="#30AF00"/>
<rect x="629.40" y="118.14" width="13.2" height="243.14" fill="#12B86E"/>
<rect x="629.40" y="361.28" width="13.2" height="5.37" fill="#11A6F6"/>
<rect x="629.40" y="366.65" width="13.2" height="5.37" fill="#8580FC"/>
<rect x="629.40" y="372.02" width="13.2" height="26.84" fill="#E450F4"/>
<rect x="629.40" y="398.86" width="13.2" height="10.74" fill="#FD4DB2"/>
<rect x="656.65" y="26.10" width="13.2" height="3.83" fill="#F8625C"/>
<rect x="656.65" y="29.94" width="13.2" height="77.08" fill="#30AF00"/>
<rect x="656.65" y="107.02" width="13.2" height="250.04" fill="#12B86E"/>
<rect x="656.65" y="357.06" width="13.2" height="4.22" fill="#11A6F6"/>
<rect x="656.65" y="361.28" width="13.2" height="2.68" fill="#8580FC"/>
<rect x="656.65" y="363.96" width="13.2" height="36.05" fill="#E450F4"/>
<rect x="656.65" y="400.01" width="13.2" height="9.59" fill="#FD4DB2"/>
<rect x="683.90" y="26.10" width="13.2" height="6.14" fill="#F8625C"/>
<rect x="683.90" y="32.24" width="13.2" height="1.53" fill="#9C9C00"/>
<rect x="683.90" y="33.77" width="13.2" height="15.34" fill="#30AF00"/>
<rect x="683.90" y="49.11" width="13.2" height="258.10" fill="#12B86E"/>
<rect x="683.90" y="307.21" width="13.2" height="1.92" fill="#13B7BA"/>
<rect x="683.90" y="309.12" width="13.2" height="3.45" fill="#11A6F6"/>
<rect x="683.90" y="312.57" width="13.2" height="28.38" fill="#8580FC"/>
<rect x="683.90" y="340.95" width="13.2" height="55.99" fill="#E450F4"/>
<rect x="683.90" y="396.94" width="13.2" height="12.66" fill="#FD4DB2"/>
<rect x="711.15" y="26.10" width="13.2" height="2.68" fill="#F8625C"/>
<rect x="711.15" y="28.78" width="13.2" height="3.07" fill="#D68200"/>
<rect x="711.15" y="31.85" width="13.2" height="4.22" fill="#9C9C00"/>
<rect x="711.15" y="36.07" width="13.2" height="26.84" fill="#30AF00"/>
<rect x="711.15" y="62.92" width="13.2" height="214.76" fill="#12B86E"/>
<rect x="711.15" y="277.68" width="13.2" height="6.14" fill="#13B7BA"/>
<rect x="711.15" y="283.81" width="13.2" height="1.53" fill="#11A6F6"/>
<rect x="711.15" y="285.35" width="13.2" height="38.35" fill="#8580FC"/>
<rect x="711.15" y="323.70" width="13.2" height="71.33" fill="#E450F4"/>
<rect x="711.15" y="395.03" width="13.2" height="14.57" fill="#FD4DB2"/>
<rect x="738.40" y="26.10" width="13.2" height="2.68" fill="#F8625C"/>
<rect x="738.40" y="28.78" width="13.2" height="1.53" fill="#9C9C00"/>
<rect x="738.40" y="30.32" width="13.2" height="44.87" fill="#30AF00"/>
<rect x="738.40" y="75.19" width="13.2" height="261.55" fill="#12B86E"/>
<rect x="738.40" y="336.74" width="13.2" height="0.77" fill="#11A6F6"/>
<rect x="738.40" y="337.50" width="13.2" height="14.57" fill="#8580FC"/>
<rect x="738.40" y="352.08" width="13.2" height="53.11" fill="#E450F4"/>
<rect x="738.40" y="405.19" width="13.2" height="4.41" fill="#FD4DB2"/>
<rect x="765.65" y="26.10" width="13.2" height="3.83" fill="#F8625C"/>
<rect x="765.65" y="29.94" width="13.2" height="13.04" fill="#30AF00"/>
<rect x="765.65" y="42.97" width="13.2" height="278.42" fill="#12B86E"/>
<rect x="765.65" y="321.40" width="13.2" height="9.59" fill="#11A6F6"/>
<rect x="765.65" y="330.98" width="13.2" height="18.79" fill="#8580FC"/>
<rect x="765.65" y="349.77" width="13.2" height="37.97" fill="#E450F4"/>
<rect x="765.65" y="387.74" width="13.2" height="21.86" fill="#FD4DB2"/>
<rect x="792.90" y="26.10" width="13.2" height="4.22" fill="#D68200"/>
<rect x="792.90" y="30.32" width="13.2" height="71.71" fill="#30AF00"/>
<rect x="792.90" y="102.03" width="13.2" height="241.99" fill="#12B86E"/>
<rect x="792.90" y="344.02" width="13.2" height="9.59" fill="#11A6F6"/>
<rect x="792.90" y="353.61" width="13.2" height="13.42" fill="#8580FC"/>
<rect x="792.90" y="367.03" width="13.2" height="31.06" fill="#E450F4"/>
<rect x="792.90" y="398.10" width="13.2" height="11.50" fill="#FD4DB2"/>
<rect x="820.15" y="26.10" width="13.2" height="1.53" fill="#F8625C"/>
<rect x="820.15" y="27.63" width="13.2" height="34.13" fill="#D68200"/>
<rect x="820.15" y="61.77" width="13.2" height="33.36" fill="#9C9C00"/>
<rect x="820.15" y="95.13" width="13.2" height="65.96" fill="#30AF00"/>
<rect x="820.15" y="161.09" width="13.2" height="182.93" fill="#12B86E"/>
<rect x="820.15" y="344.02" width="13.2" height="55.99" fill="#13B7BA"/>
<rect x="820.15" y="400.01" width="13.2" height="3.07" fill="#8580FC"/>
<rect x="820.15" y="403.08" width="13.2" height="6.52" fill="#E450F4"/>
<rect x="847.40" y="26.10" width="13.2" height="1.53" fill="#F8625C"/>
<rect x="847.40" y="27.63" width="13.2" height="44.49" fill="#30AF00"/>
<rect x="847.40" y="72.12" width="13.2" height="267.68" fill="#12B86E"/>
<rect x="847.40" y="339.80" width="13.2" height="6.90" fill="#11A6F6"/>
<rect x="847.40" y="346.71" width="13.2" height="14.96" fill="#8580FC"/>
<rect x="847.40" y="361.66" width="13.2" height="35.28" fill="#E450F4"/>
<rect x="847.40" y="396.94" width="13.2" height="12.66" fill="#FD4DB2"/>
<rect x="874.65" y="26.10" width="13.2" height="26.08" fill="#F8625C"/>
<rect x="874.65" y="52.18" width="13.2" height="36.05" fill="#30AF00"/>
<rect x="874.65" y="88.23" width="13.2" height="224.73" fill="#12B86E"/>
<rect x="874.65" y="312.96" width="13.2" height="19.56" fill="#11A6F6"/>
<rect x="874.65" y="332.52" width="13.2" height="6.14" fill="#8580FC"/>
<rect x="874.65" y="338.65" width="13.2" height="47.17" fill="#E450F4"/>
<rect x="874.65" y="385.82" width="13.2" height="23.78" fill="#FD4DB2"/>
<rect x="566" y="7.5" width="331.5" height="420.8" fill="none" stroke="#333" stroke-width="1.1"/>
<path d="M562.5 409.6H566" stroke="#333" stroke-width="1.1"/>
<text x="559.5" y="413.8" font-size="11.8" text-anchor="end" fill="#4D4D4D">0.00</text>
<path d="M562.5 313.7H566" stroke="#333" stroke-width="1.1"/>
<text x="559.5" y="317.9" font-size="11.8" text-anchor="end" fill="#4D4D4D">0.25</text>
<path d="M562.5 217.9H566" stroke="#333" stroke-width="1.1"/>
<text x="559.5" y="222.1" font-size="11.8" text-anchor="end" fill="#4D4D4D">0.50</text>
<path d="M562.5 122.0H566" stroke="#333" stroke-width="1.1"/>
<text x="559.5" y="126.2" font-size="11.8" text-anchor="end" fill="#4D4D4D">0.75</text>
<path d="M562.5 26.1H566" stroke="#333" stroke-width="1.1"/>
<text x="559.5" y="30.3" font-size="11.8" text-anchor="end" fill="#4D4D4D">1.00</text>
<path d="M581.50 428.3V432" stroke="#333" stroke-width="1.1"/>
<text x="581.5" y="443.8" font-size="11.8" text-anchor="middle" fill="#4D4D4D">SyS1</text>
<path d="M608.75 428.3V432" stroke="#333" stroke-width="1.1"/>
<text x="608.75" y="443.8" font-size="11.8" text-anchor="middle" fill="#4D4D4D">SyS10</text>
<path d="M636.00 428.3V432" stroke="#333" stroke-width="1.1"/>
<text x="636.0" y="443.8" font-size="11.8" text-anchor="middle" fill="#4D4D4D">SyS11</text>
<path d="M663.25 428.3V432" stroke="#333" stroke-width="1.1"/>
<text x="663.25" y="443.8" font-size="11.8" text-anchor="middle" fill="#4D4D4D">SyS11.met</text>
<path d="M690.50 428.3V432" stroke="#333" stroke-width="1.1"/>
<text x="690.5" y="443.8" font-size="11.8" text-anchor="middle" fill="#4D4D4D">SyS12</text>
<path d="M717.75 428.3V432" stroke="#333" stroke-width="1.1"/>
<text x="717.75" y="443.8" font-size="11.8" text-anchor="middle" fill="#4D4D4D">SyS12pt</text>
<path d="M745.00 428.3V432" stroke="#333" stroke-width="1.1"/>
<text x="745.0" y="443.8" font-size="11.8" text-anchor="middle" fill="#4D4D4D">SyS13</text>
<path d="M772.25 428.3V432" stroke="#333" stroke-width="1.1"/>
<text x="772.25" y="443.8" font-size="11.8" text-anchor="middle" fill="#4D4D4D">SyS14</text>
<path d="M799.50 428.3V432" stroke="#333" stroke-width="1.1"/>
<text x="799.5" y="443.8" font-size="11.8" text-anchor="middle" fill="#4D4D4D">SyS16</text>
<path d="M826.75 428.3V432" stroke="#333" stroke-width="1.1"/>
<text x="826.75" y="443.8" font-size="11.8" text-anchor="middle" fill="#4D4D4D">SyS2</text>
<path d="M854.00 428.3V432" stroke="#333" stroke-width="1.1"/>
<text x="854.0" y="443.8" font-size="11.8" text-anchor="middle" fill="#4D4D4D">SyS5</text>
<path d="M881.25 428.3V432" stroke="#333" stroke-width="1.1"/>
<text x="881.25" y="443.8" font-size="11.8" text-anchor="middle" fill="#4D4D4D">SyS7</text>
<text x="731" y="461" font-size="14.5" text-anchor="middle">Samples</text>
<text transform="translate(528 218.5) rotate(-90)" font-size="14.5" text-anchor="middle">Freq</text>
<text x="920" y="104.8" font-size="14.5">Cells</text>
<rect x="920" y="113.8" width="22.8" height="23" fill="#F8625C" stroke="#fff" stroke-width="0.8"/>
<text x="950.4" y="129.4" font-size="11.8">B.cell</text>
<rect x="920" y="136.8" width="22.8" height="23" fill="#D68200" stroke="#fff" stroke-width="0.8"/>
<text x="950.4" y="152.4" font-size="11.8">Endothelial</text>
<rect x="920" y="159.8" width="22.8" height="23" fill="#9C9C00" stroke="#fff" stroke-width="0.8"/>
<text x="950.4" y="175.4" font-size="11.8">Fibroblast</text>
<rect x="920" y="182.8" width="22.8" height="23" fill="#30AF00" stroke="#fff" stroke-width="0.8"/>
<text x="950.4" y="198.4" font-size="11.8">Macrophage</text>
<rect x="920" y="205.8" width="22.8" height="23" fill="#12B86E" stroke="#fff" stroke-width="0.8"/>
<text x="950.4" y="221.4" font-size="11.8">Malignant</text>
<rect x="920" y="228.8" width="22.8" height="23" fill="#13B7BA" stroke="#fff" stroke-width="0.8"/>
<text x="950.4" y="244.4" font-size="11.8">Mastocyte</text>
<rect x="920" y="251.8" width="22.8" height="23" fill="#11A6F6" stroke="#fff" stroke-width="0.8"/>
<text x="950.4" y="267.4" font-size="11.8">NK</text>
<rect x="920" y="274.8" width="22.8" height="23" fill="#8580FC" stroke="#fff" stroke-width="0.8"/>
<text x="950.4" y="290.4" font-size="11.8">T.CD4</text>
<rect x="920" y="297.8" width="22.8" height="23" fill="#E450F4" stroke="#fff" stroke-width="0.8"/>
<text x="950.4" y="313.4" font-size="11.8">T.CD8</text>
<rect x="920" y="320.8" width="22.8" height="23" fill="#FD4DB2" stroke="#fff" stroke-width="0.8"/>
<text x="950.4" y="336.4" font-size="11.8">T.cell</text>
<text x="1032.8" y="25.8" font-family="Liberation Serif, serif" font-size="25.5" font-weight="bold">C</text>
<text transform="translate(1264.5 25) scale(0.84 1)" font-size="16" font-weight="bold" text-anchor="middle">GPRscore1</text>
<path d="M1075.5 38V420.5H1457.5" fill="none" stroke="#000" stroke-width="1.1"/>
<path d="M1071 41.3H1075.5" stroke="#000" stroke-width="1.1"/>
<text transform="translate(1069 46.3) scale(0.74 1)" font-size="14" text-anchor="end" stroke="#000" stroke-width="0.25">50</text>
<path d="M1071 126.8H1075.5" stroke="#000" stroke-width="1.1"/>
<text transform="translate(1069 131.8) scale(0.74 1)" font-size="14" text-anchor="end" stroke="#000" stroke-width="0.25">25</text>
<path d="M1071 212.7H1075.5" stroke="#000" stroke-width="1.1"/>
<text transform="translate(1069 217.7) scale(0.74 1)" font-size="14" text-anchor="end" stroke="#000" stroke-width="0.25">0</text>
<path d="M1071 298.6H1075.5" stroke="#000" stroke-width="1.1"/>
<text transform="translate(1069 303.6) scale(0.74 1)" font-size="14" text-anchor="end" stroke="#000" stroke-width="0.25">-25</text>
<path d="M1071 385H1075.5" stroke="#000" stroke-width="1.1"/>
<text transform="translate(1069 390) scale(0.74 1)" font-size="14" text-anchor="end" stroke="#000" stroke-width="0.25">-50</text>
<path d="M1075.8 420.5V425" stroke="#000" stroke-width="1.1"/>
<text transform="translate(1075.8 437.2) scale(0.74 1)" font-size="14" text-anchor="middle" stroke="#000" stroke-width="0.25">-50</text>
<path d="M1174 420.5V425" stroke="#000" stroke-width="1.1"/>
<text transform="translate(1174 437.2) scale(0.74 1)" font-size="14" text-anchor="middle" stroke="#000" stroke-width="0.25">-25</text>
<path d="M1272.2 420.5V425" stroke="#000" stroke-width="1.1"/>
<text transform="translate(1272.2 437.2) scale(0.74 1)" font-size="14" text-anchor="middle" stroke="#000" stroke-width="0.25">0</text>
<path d="M1369.5 420.5V425" stroke="#000" stroke-width="1.1"/>
<text transform="translate(1369.5 437.2) scale(0.74 1)" font-size="14" text-anchor="middle" stroke="#000" stroke-width="0.25">25</text>
<text transform="translate(1265 454.2) scale(0.68 1)" font-size="16.6" text-anchor="middle" stroke="#000" stroke-width="0.25">tSNE_1</text>
<text transform="translate(1048.5 228.8) scale(0.78 1) rotate(-90)" font-size="14.8" text-anchor="middle" stroke="#000" stroke-width="0.2">tSNE_2</text>
<defs><linearGradient id="mg" x1="0" y1="1" x2="0" y2="0">
<stop offset="0.00" stop-color="#000004"/>
<stop offset="0.10" stop-color="#0F0337"/>
<stop offset="0.20" stop-color="#320065"/>
<stop offset="0.30" stop-color="#5D047D"/>
<stop offset="0.40" stop-color="#8B137D"/>
<stop offset="0.50" stop-color="#B51A6D"/>
<stop offset="0.60" stop-color="#DB2B4F"/>
<stop offset="0.70" stop-color="#F25543"/>
<stop offset="0.80" stop-color="#FC8A51"/>
<stop offset="0.90" stop-color="#FEC37B"/>
<stop offset="1.00" stop-color="#FCFDB1"/>
</linearGradient></defs>
<rect x="1469.8" y="191" width="12.6" height="83" fill="url(#mg)"/>
<text transform="translate(1488.5 195.60000000000002) scale(0.84 1)" font-size="12.3" stroke="#000" stroke-width="0.25">10.0</text>
<path d="M1469.8 214.2h2.4M1480 214.2h2.4" stroke="#fff" stroke-width="0.8"/>
<text transform="translate(1488.5 218.5) scale(0.84 1)" font-size="12.3" stroke="#000" stroke-width="0.25">7.5</text>
<path d="M1469.8 237.5h2.4M1480 237.5h2.4" stroke="#fff" stroke-width="0.8"/>
<text transform="translate(1488.5 241.8) scale(0.84 1)" font-size="12.3" stroke="#000" stroke-width="0.25">5.0</text>
<path d="M1469.8 260.5h2.4M1480 260.5h2.4" stroke="#fff" stroke-width="0.8"/>
<text transform="translate(1488.5 264.8) scale(0.84 1)" font-size="12.3" stroke="#000" stroke-width="0.25">2.5</text>
<g stroke-linecap="round" stroke-width="3.3" fill="none"><path stroke="#040014" d="M1385.5 209h0m-160.5 32h0m0 3h0m0-.5h0m1.5 8h0m1 5h0m52.5 33.5h0"/><path stroke="#0E0334" d="M1313 58h0m25.5 13h0m-2.5 14.5h0m1 24.5h0m-19.5 12.5h0m60.5 8.5h0m-30.5 1h0m18.5 17.5h0m-22 13h0m-78.5 18.5h0m115.5 16h0m-57.5 6.5h0m-62.5 14h0m-37 19h0m.5 1.5h0m-.5-1h0m56.5 3h0m-55 5h0m2.5 9.5h0m-1 1h0m2 4h0m161.5 3.5h0m-161.5-.5h0m48.5 1.5h0m-12 11h0m26.5 7.5h0m74 5h0m-52.5 21h0"/><path stroke="#200252" d="M1314 78.5h0m3.5 12h0m21 12.5h0m-74 16h0m10 9h0m88 14.5h0m3.5 6h0m-26.5 10.5h0m59 15.5h0m-51 5h0m-24.5 25.5h0m91 3.5h0m-90 12h0m-7.5 16.5h0m105 7h0m-57.5 6h0m-98 6.5h0m70.5 27h0m-82.5 45h0"/><path stroke="#3A006D" d="M1303.5 61h0m33.5 8.5h0m-28.5-.5h0m-1.5 4h0m15-.5h0m-5.5 3.5h0m-16-.5h0m17 5h0m19.5 2h0m-25.5 .5h0m23 5.5h0m-4-.5h0m-42.5 4h0m47.5-2h0m-52.5 7.5h0m4-1.5h0m3 0h0m47 0h0m-10.5 3.5h0m-65 0h0m-4 1.5h0m104 6h0m-91 2h0m59.5 3h0m-32.5 0h0m40 4.5h0m7.5 2h0m-29 1h0m-16-.5h0m-43.5-1h0m12.5 3h0m23 1.5h0m77.5-1.5h0m-6 4h0m-34-2h0m-20 2.5h0m0-1.5h0m-25.5 .5h0m-2 2h0m31.5-.5h0m54 1h0m2.5 1.5h0m18 0h0m4.5-1h0m-19 3.5h0m-33.5 .5h0m-74 3h0m82.5 0h0m26 3h0m-38.5-1.5h0m-14 .5h0m-29-1h0m-7 2h0m96 1h0m-100.5 4.5h0m-.5 0h0m-1 2.5h0m121 1h0m-23 1h0m-3 1.5h0m-15-.5h0m-93 1h0m94 3.5h0m-74 5.5h0m5.5-1.5h0m7 0h0m3 .5h0m46.5-.5h0m4 3h0m-18 1.5h0m-64.5 0h0m-54 2h0m41.5-1h0m56.5 0h0m-6.5 5h0m-3 0h0m-17-2h0m-10 2h0m-59.5-1.5h0m128 3.5h0m9-1.5h0m12 1h0m28.5 1.5h0m-46.5 2h0m-58.5 .5h0m-42-2h0m37.5 5h0m26-1.5h0m-16 3.5h0m-30.5 2.5h0m58-.5h0m34.5 .5h0m44.5 3h0m-46.5 2h0m-3-1.5h0m-78 4h0m104 0h0m-114 2h0m-.5 1h0m5 3.5h0m63-.5h0m32 .5h0m46.5-1.5h0m1.5 4.5h0m-12-1.5h0m-96.5 0h0m-45-.5h0m14 5h0m52.5-.5h0m50.5-.5h0m25.5-1h0m12 5h0m-5-2h0m-41.5 0h0m-.5 0h0m-24 2h0m59.5 6h0m-13.5-1h0m-70.5 1h0m-49.5-2.5h0m4.5 4h0m40 1h0m5.5-1h0m3-.5h0m18 1h0m73 1h0m1 2h0m-41.5 .5h0m-49.5-1.5h0m-8.5 0h0m-27 1h0m-5 1.5h0m-26.5 8h0m57-1h0m92 .5h0m-134 3h0m97 4h0m-49 1.5h0m-53 4.5h0m28.5-2h0m33.5 1.5h0m1-.5h0m-20.5 3h0m-34 .5h0m81 3h0m24.5 1h0m-15 1h0m-37.5 0h0m-4-.5h0m49 3h0m29.5 .5h0m28 2h0m-53 .5h0m-.5 1.5h0m-12-1.5h0m-90.5 .5h0m-5 2.5h0m20.5 .5h0m4-1h0m19 2.5h0m22.5 0h0m13.5-.5h0m54 .5h0m-37 1.5h0m-64 0h0m-.5 3.5h0m26.5-1h0m44.5 0h0m30 .5h0m-9.5 4.5h0m-80.5-2.5h0m92.5 6h0m-44.5 0h0m-6.5 1h0m-9.5-1h0m-53.5 .5h0m-20 4.5h0m5.5-1.5h0m15 1.5h0m24-1.5h0m52 1h0m4.5 .5h0m36 .5h0m-32 3h0m-4-1.5h0m-19 1.5h0m-1-2.5h0m-11 2.5h0m-46.5-1.5h0m-5 4h0m36 0h0m-31 2h0m-2-1h0m-21 .5h0m21 5h0m48-1h0m23 3h0m-32.5 1h0m-11.5-.5h0m22.5 2.5h0m25 9.5h0m-11-1h0m-30-1h0m-6.5 .5h0m-2.5-.5h0m-14 2h0m-35-.5h0m15.5 2h0m19-.5h0m-28 3.5h0m37.5 7h0m-32.5 0h0m6.5 2.5h0m39 1h0m-49 1h0m-12.5 8.5h0m-7 .5h0"/><path stroke="#54007C" d="M1306.5 60.5h0m-1.5 2.5h0m16 11h0m10 5h0m-4.5 3.5h0m1 4h0m6 2.5h0m-5-.5h0m-17.5 3h0m22 3h0m-2.5 .5h0m-7.5-1h0m-37 4h0m51.5 3h0m-43-2h0m-4 2h0m-34 1h0m16.5 .5h0m78.5 1.5h0m3 0h0m3 0h0m0 3h0m-53.5 .5h0m-22-.5h0m-2 0h0m34 1.5h0m16 1.5h0m7 .5h0m34.5 .5h0m-4.5 2.5h0m-17.5-.5h0m-47.5-.5h0m-14 .5h0m-34.5 2.5h0m45 0h0m71-1h0m1 1h0m5 0h0m-3 1.5h0m-25.5 2.5h0m-83.5-1.5h0m1.5 2.5h0m4-.5h0m21 .5h0m36.5 .5h0m8.5 1h0m6.5 0h0m-29.5 3h0m-13-2h0m-10.5 1h0m-9.5-.5h0m16 5h0m3-2.5h0m9 0h0m5.5 .5h0m6-.5h0m.5 0h0m22.5 2.5h0m.5-2h0m32.5 0h0m6.5-.5h0m5 2.5h0m-12 1h0m-19.5 .5h0m-48 1h0m-2.5-.5h0m-22-1.5h0m-9.5 2h0m-17-1h0m10 2h0m25 0h0m56 2h0m7.5-.5h0m37 2.5h0m-3.5-1h0m-13 1.5h0m-4.5-1h0m-23.5 1.5h0m-.5 .5h0m-26.5-2.5h0m-36.5 2.5h0m-2 3h0m17-2.5h0m64 1.5h0m-16 3.5h0m-25.5-1h0m-10 .5h0m-3 3h0m61 .5h0m13.5-.5h0m-29 4h0m-2 0h0m-94-2h0m29 4h0m79.5 .5h0m16.5-1h0m-25.5 3.5h0m-28.5-1h0m-11 .5h0m-4 .5h0m-9 .5h0m-13-1.5h0m-2.5-.5h0m-2 1.5h0m-12.5-.5h0m-16.5 2.5h0m9.5 1.5h0m10-1h0m17.5 1h0m6-1.5h0m15.5 .5h0m32.5 0h0m18-1h0m1.5 .5h0m-15.5 3h0m-33 1h0m-27.5-1h0m18.5 3h0m6 2h0m27-.5h0m-70.5 6h0m9.5-1.5h0m18.5 .5h0m98.5 2.5h0m-51 2h0m-1.5-2.5h0m-38 2.5h0m-30-1h0m-8.5 3h0m18.5 .5h0m15.5-1.5h0m12.5 1.5h0m49.5-1h0m17.5 1h0m6-2h0m-5.5 5.5h0m-2-1h0m-69.5 0h0m-16-.5h0m-11 .5h0m-14 1h0m-23 3h0m11.5 0h0m44.5-2.5h0m84.5 0h0m10 0h0m1.5 .5h0m-40 3h0m-74.5 2h0m-7-1h0m-16 0h0m2.5 3.5h0m25 0h0m14-1.5h0m50 1h0m10-.5h0m4-1h0m.5 2h0m-63 3.5h0m-31.5-2h0m-16.5 3h0m5-.5h0m30 2.5h0m28-2h0m17.5 0h0m8.5-.5h0m44 1.5h0m16.5 1.5h0m-55 2.5h0m-16 0h0m-20.5-2h0m-18.5-.5h0m-45 2h0m9.5 2.5h0m24-1h0m37.5-.5h0m48.5 2.5h0m29-2h0m14 4.5h0m-66.5-2h0m-1 2h0m-34-1h0m-6-.5h0m-52.5 1.5h0m-2.5 3.5h0m58.5-2.5h0m68 0h0m22 2.5h0m14.5-2h0m3.5 4.5h0m-6-2h0m-35.5 2.5h0m-16-2.5h0m-28.5 1h0m-41-1h0m-7 2.5h0m-14-2.5h0m-13 .5h0m77 4h0m56.5-.5h0m14 .5h0m8.5-.5h0m10.5 1.5h0m-10 1h0m-102 0h0m-10.5 0h0m-.5 1.5h0m-34.5-1h0m-.5 .5h0m-16-1.5h0m63 3.5h0m13 .5h0m.5-1h0m6.5 .5h0m80.5 4h0m-70 1h0m-34-.5h0m-33-.5h0m35.5 1.5h0m11.5 2h0m53-.5h0m40 3h0m-3-.5h0m-7-1h0m-46 1.5h0m8.5 3h0m2 .5h0m8 .5h0m24.5 2h0m-38-1.5h0m-10 0h0m-8.5 0h0m-9.5 0h0m-29 1h0m-8.5-1h0m-10 0h0m133 3h0m9.5 0h0m-108.5 3.5h0m-10.5 2h0m-41 2h0m90.5 0h0m35.5 .5h0m8 1.5h0m-78 0h0m-60.5 3h0m7.5 1.5h0m5 .5h0m86 1.5h0m-3.5 .5h0m-66.5 .5h0m-28.5-1h0m22.5 3.5h0m60.5-1.5h0m43 .5h0m4.5 2h0m-67 .5h0m-41 2h0m-14.5-1.5h0m52 2.5h0m42.5 2h0m25 0h0m-88 3h0m-16-.5h0m-21.5 0h0m7.5 2.5h0m15 .5h0m3.5-1h0m15 1h0m36 0h0m6 .5h0m5 .5h0m-8 3h0m-4-2.5h0m-76.5 5h0m.5 .5h0m33.5-2.5h0m43 2h0m-57.5 5h0m48.5 0h0m13.5 1.5h0m8.5-2.5h0m.5 .5h0m14 2.5h0m-26.5 1.5h0m-14.5 .5h0m-8.5 .5h0m-2.5-.5h0m-2.5-1.5h0m-57 4.5h0m79 .5h0m7.5-2h0m26.5 4h0m-45 .5h0m-16.5-.5h0m-5-1h0m-12 1.5h0m-26.5-2h0m2.5 4h0m21.5 1h0m36.5 2h0m-26 4h0m11.5 .5h0m18.5 .5h0m-15 .5h0m-35.5 5h0m26.5-.5h0m31.5 1h0m-1 2h0m-2-.5h0m-16.5 1h0m-22.5 0h0m-8.5-1h0m16 3.5h0m.5 .5h0m16 .5h0m-16 3.5h0m20.5 .5h0m12 .5h0m-50.5 1.5h0m-14 3.5h0m-18 6.5h0m-14 3.5h0m-2.5 1.5h0m105 11h0m-11.5 2.5h0m-17 36h0m1.5 2h0m-1.5 2h0m-10 9.5h0"/><path stroke="#720B80" d="M1309.5 60.5h0m6.5 1.5h0m-12.5 1.5h0m-.5 1h0m-4.5 0h0m16 4h0m4.5-2.5h0m14.5 2h0m-31.5 1.5h0m-2 6.5h0m6 3h0m9.5 .5h0m16.5 .5h0m3.5 2h0m-26.5-.5h0m25.5 2.5h0m-20 3.5h0m9 4h0m7-1.5h0m7 4h0m-1 1h0m-15-1h0m-2 3h0m29 0h0m-13.5 3h0m-46.5 0h0m-6.5 3.5h0m86.5 3.5h0m-30.5-1h0m-.5 1.5h0m-59.5 1h0m49 2h0m4.5-.5h0m8.5-.5h0m34 4h0m-5.5-.5h0m-25.5-1.5h0m-85.5 0h0m25 4h0m67.5-1.5h0m-48.5 4h0m-25 0h0m-12 0h0m-2 0h0m-.5 2.5h0m25 1h0m0-.5h0m39 .5h0m61.5 4h0m-7.5-1h0m-13-1.5h0m-2.5 1h0m-11.5-.5h0m-18 1.5h0m-60.5-2h0m5 5h0m7 0h0m4-.5h0m17 0h0m81 3h0m-3 0h0m-14 1h0m-27.5-.5h0m-26.5-.5h0m-6-1.5h0m-5.5 1.5h0m-31 .5h0m-1.5-1.5h0m-4-.5h0m-5.5 3.5h0m6 2h0m18.5-2.5h0m82 1h0m8.5 1h0m-2.5 3.5h0m-12-.5h0m-61.5-1.5h0m-13.5 1.5h0m-16.5-1h0m-8.5 1h0m-4.5-2h0m2.5 5.5h0m64.5-2.5h0m4 2.5h0m.5-1h0m3-1.5h0m16 2.5h0m13-2h0m3.5 .5h0m-.5 2h0m-37.5 0h0m-30.5 3h0m69.5 .5h0m5 1h0m25.5-1.5h0m-19.5 3.5h0m-48 2h0m-5.5-2.5h0m-9 2.5h0m-61-1.5h0m15 3.5h0m64-1h0m33 .5h0m35.5 1h0m-2 2h0m-66-.5h0m-7.5 .5h0m-10.5-1h0m-25.5 2h0m-9-2h0m-22 1h0m-6 1h0m-2-2h0m8 5.5h0m3-2.5h0m5.5 2.5h0m73.5 0h0m15.5-1h0m1-1.5h0m36.5 3h0m-52.5 0h0m-.5 2.5h0m-29-.5h0m-27 0h0m-18 1.5h0m39.5-.5h0m70 0h0m16 5.5h0m-99.5-2h0m-2.5 0h0m67 4.5h0m14.5 .5h0m7 2h0m-.5-.5h0m-22.5-.5h0m-10.5 .5h0m-1.5-1h0m-36.5 1h0m-44.5 2.5h0m44 .5h0m6.5 1h0m27-2h0m1 2.5h0m44.5 2h0m-132-1h0m9 3.5h0m29.5 1.5h0m71-1.5h0m23-.5h0m14.5 0h0m-54 4h0m-7 0h0m-47.5-1.5h0m-27.5 1.5h0m-7.5 4h0m5.5-2.5h0m12 1h0m61.5 1.5h0m-13.5 .5h0m-38.5 3.5h0m98 0h0m6.5 2h0m-2.5 1h0m-18 1h0m-37.5 .5h0m-52.5-1.5h0m-1 2h0m-10-.5h0m-5-.5h0m-10.5 0h0m121 3h0m21.5-.5h0m14 .5h0m5 3.5h0m-71.5 .5h0m-21.5 0h0m-60.5-2.5h0m79 4h0m14.5 0h0m8-1h0m24.5 4h0m-87.5 2h0m18 2h0m0-1h0m30.5-.5h0m10.5 1.5h0m34.5-.5h0m21 2h0m-3.5 2h0m-19-1.5h0m-19 1h0m-.5 0h0m-88-2h0m-6 3.5h0m55 0h0m16.5 .5h0m54-.5h0m11.5 3.5h0m0-1h0m-11 0h0m-105 2h0m-5-1h0m-24.5 .5h0m-18.5-1.5h0m24.5 3h0m3.5 2h0m6.5-1h0m6-1h0m131.5 4.5h0m-72-.5h0m-42 1h0m-54 0h0m110.5 2.5h0m.5-1.5h0m50 2h0m-6.5 1.5h0m-66 2h0m-2-.5h0m-15-.5h0m-40-1h0m2.5 4h0m28-1.5h0m17 1h0m39-.5h0m-15.5 5h0m-2.5-1h0m-8 0h0m-67.5 1h0m-5.5-1h0m72.5 1.5h0m10 1h0m26.5-1h0m33 1.5h0m4.5 1h0m-16.5 1.5h0m-3 1.5h0m-24.5-2.5h0m-35 1.5h0m-2.5-1.5h0m-21.5 0h0m-1 .5h0m-48.5 1h0m3.5 3.5h0m4-.5h0m42.5 1h0m50-1h0m10-1h0m2 0h0m45 3h0m-51 1h0m-5.5 0h0m-38.5-1h0m-17.5 .5h0m-4-.5h0m-34.5 1h0m4.5 3h0m99.5-1.5h0m5.5 2.5h0m37.5 1.5h0m-12.5 1h0m-6-1.5h0m-46-.5h0m-87 3h0m16 2h0m117 0h0m18-2h0m9.5 4h0m-59 1h0m-26-1.5h0m-56 1h0m-3 3h0m12 1h0m94-2h0m-13 4.5h0m-30.5 .5h0m-69.5-1h0m-15.5 2.5h0m56 0h0m22.5 .5h0m1 1h0m22 1h0m-49.5 2h0m-17-.5h0m-12.5-1h0m-23 3.5h0m10-.5h0m8-.5h0m23.5 1h0m39 1h0m33.5-1h0m1.5-.5h0m7.5 4.5h0m-16-2.5h0m-94.5 1h0m17 2h0m41.5 2.5h0m18-2.5h0m8.5 0h0m6.5 5.5h0m-26.5-1h0m-10.5-.5h0m-.5-1h0m-21.5 2.5h0m-4 0h0m-34.5 1h0m59.5-.5h0m4 2h0m11 .5h0m19 0h0m-90 5h0m.5-.5h0m26.5-.5h0m9.5-.5h0m8.5 2.5h0m13.5 0h0m14.5 2h0m-20.5 1h0m-53-2h0m-1 1h0m-.5-.5h0m-3 3h0m18-1h0m9 .5h0m27.5 1h0m6.5-1h0m12.5 2h0m19-2.5h0m-4.5 4h0m-2.5 0h0m-20-1h0m-8.5 1.5h0m-49.5 1h0m35 1h0m9 2h0m-13.5 .5h0m1.5 5h0m40.5-2h0m-16 3h0m-12.5 1h0m-39 4h0m-20.5 1h0m7 3.5h0m-15 4.5h0m102 13.5h0m-14 3h0m-19 32.5h0m-5.5 5.5h0m-5 7.5h0"/><path stroke="#8E137C" d="M1299.5 71.5h0m31 3h0m-20 .5h0m24 8h0m-19.5 0h0m2 3.5h0m-4.5 3h0m-24.5 3h0m-.5 .5h0m33.5 3h0m6.5 2.5h0m4.5-2.5h0m10 2.5h0m-77 4.5h0m48 1h0m32.5 .5h0m22 1.5h0m-30.5-1h0m-5.5 0h0m-1 0h0m-77 3.5h0m7 2h0m65-1.5h0m18 0h0m25 4h0m-45-1.5h0m-3 2h0m-3-.5h0m-24 0h0m-41 1.5h0m85.5 .5h0m19 7.5h0m9-.5h0m-9 1h0m-12 1.5h0m-37.5-1h0m-6 1.5h0m-7.5 0h0m-7.5 .5h0m-15 2.5h0m17-.5h0m86 1.5h0m-115.5 0h0m58 5h0m39-1.5h0m33 1h0m-2 2h0m-65.5 2.5h0m14.5 0h0m-64.5 4h0m14.5 3h0m35-1h0m15.5 1.5h0m40-1h0m-2.5 3h0m-9 .5h0m-17.5 .5h0m-.5-1.5h0m-8.5 2h0m-45.5 3.5h0m4-2h0m13 2h0m1-1.5h0m42.5 0h0m-4 4.5h0m-28.5-2.5h0m-13.5 2.5h0m-20.5-2.5h0m-24.5 5h0m80 0h0m24.5-1h0m31.5 4h0m-119 3.5h0m47.5 0h0m37.5 2h0m-48.5 0h0m-25-1.5h0m-104.5 5.5h0m1 0h0m157.5-.5h0m42-1h0m-108 3h0m-89 .5h0m-3.5-1.5h0m7 3.5h0m81.5 1.5h0m86-.5h0m26.5 0h0m-71.5 2.5h0m-5 1.5h0m-44.5 0h0m-20.5-1.5h0m56.5 2h0m42.5 1h0m7.5 .5h0m6.5 0h0m-15 2h0m-43 1h0m-15 3h0m4-1h0m9.5 2h0m90.5-2h0m5 2h0m-12 .5h0m-41.5 2.5h0m-17-2h0m-43.5 1h0m-26.5-1h0m77.5 4.5h0m13-1h0m59 3h0m-66.5 1.5h0m-53.5-2h0m80 4.5h0m42 0h0m-66.5 3h0m-62 2h0m88.5-.5h0m23.5 1h0m26 1.5h0m-12 0h0m-51.5 2h0m-10.5-.5h0m0 2h0m26.5 0h0m1.5 0h0m23.5 3h0m12 5h0m-100.5 4h0m121.5 1.5h0m-1.5 3.5h0m-15-1h0m-61.5-1.5h0m-3.5 0h0m14 3h0m70 2.5h0m-44.5 1h0m-6-.5h0m-50.5 0h0m-20 .5h0m-12 2h0m-22 0h0m-13-1h0m31 1.5h0m41.5 .5h0m7 1.5h0m3-2h0m-11 3.5h0m-9 0h0m-66.5 3h0m55 0h0m36 1.5h0m20 0h0m38 1h0m-129.5 3.5h0m96 1.5h0m60 0h0m2.5-2h0m6 3h0m-12 1.5h0m-42 1h0m-20.5 0h0m-15-1h0m-45 .5h0m-21.5-1.5h0m-2 0h0m18.5 3.5h0m10.5 0h0m57-1h0m22.5 1.5h0m10-1.5h0m-6 3.5h0m-21.5 0h0m-43.5 1h0m-18.5-1h0m-28-.5h0m26.5 4.5h0m35 1h0m74.5 0h0m-29 .5h0m-9 1h0m-52.5-.5h0m-27 1h0m-20.5 1h0m-14.5-1h0m29.5 2h0m9 1h0m3.5-1.5h0m77 .5h0m-110.5 6h0m41.5 1h0m36 .5h0m33.5 .5h0m-90 1.5h0m-14.5 .5h0m0 1.5h0m41 1h0m53 0h0m-33 3h0m-20.5-.5h0m-47.5 3.5h0m2.5 0h0m32.5-.5h0m25 0h0m32.5 3.5h0m-39.5-1h0m-26 2h0m-34 .5h0m14 2.5h0m3.5-2h0m-12 5h0m16.5 3h0m38.5-1h0m21-.5h0m7 0h0m.5 1h0m-32.5 1.5h0m-19.5 2h0m35.5 3.5h0m13.5 3h0m-53-1h0m-7.5-.5h0m-3.5 4.5h0m29.5-1h0m18.5 3h0m-16.5-1h0m-.5 3.5h0m19 5h0m-93 7.5h0m19.5-1h0m-25 4h0m113 11.5h0m-16.5 5h0m6 5.5h0m1.5 1h0m-38 45h0m.5-.5h0"/><path stroke="#A81872" d="M1214.5 94.5h0m-6-.5h0m1.5 2.5h0m123 1h0m32.5 8.5h0m-209.5 3h0m10-1h0m44.5 1h0m-11.5 3.5h0m124.5 7h0m-163.5-.5h0m167.5 5.5h0m-26 8h0m-31.5 8h0m-91.5 4h0m80 2h0m65.5 3h0m-143.5-1h0m-32 0h0m-7 .5h0m32.5 1.5h0m202 2.5h0m-117 .5h0m-96.5 1h0m-9.5 .5h0m-26.5 0h0m-5 2h0m36 .5h0m240 1.5h0m-263.5 .5h0m139 6.5h0m-136 4.5h0m216-1.5h0m-45 9.5h0m-190 .5h0m186.5 5h0m6 3h0m54.5-1h0m29 9h0m-74 .5h0m-38 0h0m-8 0h0m84 3h0m-198 17h0m6 2h0m-6 6h0m177.5 6.5h0m20.5 6.5h0m-182.5 2.5h0m-30 .5h0m191 2.5h0m99 3h0m-296 .5h0m38.5 2.5h0m187.5 .5h0m-227 3h0m168 1h0m111 2h0m4-2h0m-249 11h0m17 12h0m-3.5-1.5h0m-35.5 4.5h0m33.5-1h0m124 2.5h0m4 2h0m-138.5 6.5h0m9.5 3.5h0m88.5 4h0m60 3.5h0m-127 2h0m98 1h0m22 8.5h0m-162.5 1h0m154 2h0m23.5 27.5h0m6 6h0m-6 0h0m-.5-1h0m3 3h0m.5 0h0m-59.5 5.5h0m54 1h0m-69.5 6h0m5.5 1h0m-16 5.5h0m2.5-1h0m0 4h0m-9 3h0m14-2h0m-9 6.5h0m62.5 3h0m-76 4.5h0m72.5 1h0"/><path stroke="#C11F64" d="M1307 71h0m1.5 2h0m-98.5 30h0m71.5 1.5h0m-101.5 4h0m22 .5h0m62.5 .5h0m55.5 1.5h0m-150.5 5.5h0m37.5-1.5h0m-22 7h0m117.5-1h0m-40 2.5h0m-77 4.5h0m15.5-2h0m-9.5 4.5h0m13 3h0m128.5 1.5h0m-151 .5h0m-.5 1.5h0m1 2.5h0m-14 3h0m-32.5 2.5h0m177.5 4.5h0m-141 1.5h0m214 13h0m-257 8h0m127.5 6.5h0m-138.5-1h0m233.5 4h0m40 4h0m-39-1h0m-94.5 .5h0m-154 .5h0m284.5 3.5h0m-116 1h0m-21.5 0h0m-40 2h0m158.5 5.5h0m-99-1.5h0m-62 .5h0m2.5 3.5h0m109.5 1h0m-112 10h0m1 .5h0m186.5 2h0m-48 1.5h0m31.5 5.5h0m48 3h0m-269 1.5h0m111 3.5h0m35.5 1h0m28 6.5h0m99-.5h0m.5 0h0m1.5 1h0m-.5 2h0m-120.5 1h0m-46.5 2h0m173 .5h0m-136.5 2h0m-116.5 1h0m152.5 1.5h0m27.5-.5h0m27.5 1h0m25 1.5h0m13.5 1h0m-9 .5h0m-102.5 .5h0m-10.5 1h0m16 2.5h0m107-1h0m-8 7.5h0m-105 4.5h0m-46.5 5h0m-102.5 3h0m18 3h0m-32.5 5.5h0m201 2h0m17-.5h0m-239 2.5h0m-6.5 0h0m62 4h0m22 .5h0m122 .5h0m-32 1.5h0m-170.5-1h0m30.5 5h0m125.5 2.5h0m-91.5 .5h0m-6 .5h0m9.5 4.5h0m-48 .5h0m146 1.5h0m-110.5 12.5h0m75 4h0m-5.5 0h0m-8 2.5h0m95 25.5h0m-6 4.5h0m-64.5 3h0m-11.5 7h0m-3 0h0m-7 3.5h0m2.5-2h0m14.5-.5h0m2 .5h0m-7.5 4h0m-.5 1h0m-12.5 9h0m0 1.5h0m-9 3.5h0m0 .5h0m64.5 10h0"/><path stroke="#D92A51" d="M1308 74.5h0m28.5 20.5h0m-48 .5h0m-98.5-1h0m-11.5 3.5h0m26 1.5h0m-30 2h0m113 2h0m-96 2h0m-12 2h0m-14-1h0m165.5 2h0m-128.5 5h0m-38-1h0m42.5 7h0m152.5 5h0m-52.5 1h0m-39.5-2h0m-70.5 4.5h0m-9 2.5h0m-20.5 1h0m127.5 4h0m-140.5 .5h0m-6.5 1.5h0m40.5 4h0m-64 3h0m65 3.5h0m-26.5 .5h0m-32 0h0m-5 2.5h0m37 1.5h0m203.5 3h0m-202-2.5h0m-9.5 5.5h0m103 3h0m-100-2h0m-20.5 0h0m6.5 3h0m111 0h0m-99 5.5h0m8 .5h0m138.5 1h0m-144.5 1.5h0m-19.5 2.5h0m-15.5 2.5h0m248.5 2h0m-237 1.5h0m-25.5 3h0m193.5-.5h0m99 2h0m-278 4h0m88.5-1h0m178.5 2h0m-289 1h0m-3 1h0m228 5.5h0m-115.5 3.5h0m55-1h0m73 4h0m-28 1h0m-120.5 5.5h0m-32.5 3h0m7-2.5h0m137 4h0m-8 0h0m-6.5 1.5h0m-37.5-1.5h0m-69 1.5h0m-25 0h0m219 2h0m44 1.5h0m-127 .5h0m-115.5-.5h0m205.5 6.5h0m-35.5 1h0m-195 1h0m135.5 2.5h0m139 0h0m3 1.5h0m-.5 2h0m-244-2.5h0m249.5 4h0m-284 4.5h0m-8 1h0m263 2h0m-270.5 1h0m27 3.5h0m1-.5h0m16-.5h0m1.5 .5h0m95 1.5h0m125.5-1.5h0m26 4.5h0m-287.5-.5h0m-1 0h0m-6 2.5h0m138.5 0h0m111.5-.5h0m47 3h0m-31 0h0m-256 2.5h0m2 .5h0m174 4.5h0m-162-1h0m-5 .5h0m7 3.5h0m3-.5h0m14 2h0m-20.5 3.5h0m19 1.5h0m187.5-.5h0m-219 6h0m89.5 1h0m-89.5 2h0m8 2h0m195-.5h0m-204 5h0m-3.5-1.5h0m-3-1h0m83.5 4.5h0m105 2h0m-162 3h0m17.5 1.5h0m5.5-2h0m-17.5 5h0m-8.5-1h0m-1.5 10h0m39-.5h0m122.5 1h0m-115 2.5h0m-39-2h0m36 3.5h0m6.5-.5h0m69.5 4h0m-104 1.5h0m6.5 2.5h0m102 0h0m-91.5 1.5h0m92.5 35.5h0m-3.5 4h0m-6 4.5h0m.5 1h0m-5 4.5h0m-5.5 0h0m-10 3.5h0m3.5 1h0m-1.5 4h0m-2 2.5h0m-5 3h0"/><path stroke="#EA3F45" d="M1207.5 85.5h0m.5 3.5h0m-5.5 3.5h0m-11 2h0m3.5 3h0m9.5-.5h0m-4.5 4.5h0m-21.5-.5h0m-7 .5h0m23.5 5.5h0m-24 2.5h0m4.5 1h0m6-1.5h0m20 2.5h0m-22.5 0h0m-9 1.5h0m38.5 2h0m1.5 1.5h0m-15 2h0m-5 0h0m0-1.5h0m-5.5 2h0m-13.5 1h0m2.5 2.5h0m14-1.5h0m13.5 1h0m-5.5 1h0m-13 5h0m5.5-1.5h0m6.5 2h0m9.5-1h0m7-1.5h0m-27.5 5.5h0m-16.5 .5h0m1 0h0m36.5 0h0m1 0h0m-30 5.5h0m-45.5 3h0m57.5 2.5h0m-2-2h0m-24 2.5h0m-22-1h0m-7.5 1h0m17.5 2.5h0m3.5-1.5h0m15.5 1h0m.5-1.5h0m16 1h0m-5.5 4.5h0m-3.5-1h0m-9-.5h0m-9-1h0m-30.5 1.5h0m0-1.5h0m-1.5 4h0m22 .5h0m26 2.5h0m-46.5 1.5h0m-3-.5h0m-6-.5h0m32 4h0m3-1.5h0m8.5 2.5h0m-24 1h0m-12.5-1.5h0m-7.5 1.5h0m14 2.5h0m13.5-1h0m3 3h0m-7.5 0h0m-1 2h0m-3.5 .5h0m-21 2h0m35.5 2.5h0m-1 0h0m-35.5 1.5h0m10 1h0m1 4.5h0m-9.5-.5h0m-8 2h0m9-.5h0m6.5 2h0m85-.5h0m-82 8h0m-29 3.5h0m99.5 5h0m12.5 0h0m.5 0h0m-21 4.5h0m-19.5 3.5h0m16.5-1.5h0m23.5 1.5h0m-27.5 3.5h0m-14 .5h0m21.5 3.5h0m-6 .5h0m-26 1.5h0m0 2h0m.5-1h0m16 0h0m-.5 3.5h0m-2.5 1.5h0m5.5 5h0m-6.5-1h0m-2.5 2h0m15.5 3h0m1 1.5h0m-44.5-.5h0m30 7h0m-8.5-.5h0m-23 1h0m30 2.5h0m4-1.5h0m257 1h0m0 4h0m-9.5 .5h0m-288 2.5h0m14 0h0m19-1h0m22.5-1h0m-24 3.5h0m-19.5-.5h0m-13.5 3.5h0m2-.5h0m8 0h0m286 3h0m-271 1.5h0m-3.5 0h0m29.5 4h0m-27 1.5h0m-6 .5h0m-15.5 3.5h0m.5 .5h0m4-1.5h0m32.5 1h0m13 3h0m-9.5 0h0m-1.5-1h0m-.5-.5h0m-27 3h0m9 1h0m3 1h0m21.5-2.5h0m-6 3.5h0m-22 3h0m21 1.5h0m5-.5h0m3 3.5h0m-5 .5h0m-14-2h0m-3.5 .5h0m-2.5 2h0m11 1h0m58.5 3h0m-46 0h0m-1.5 .5h0m-31-.5h0m-10.5 0h0m5 3.5h0m2.5 0h0m1.5-.5h0m6.5 0h0m1.5 1.5h0m11-1.5h0m11.5-.5h0m1.5 2h0m20.5-2.5h0m14 5.5h0m-2-1h0m-38.5 1h0m-3.5 2h0m.5-.5h0m29 .5h0m10.5 1h0m5.5 1h0m-5 1.5h0m-41 .5h0m18.5 3h0m25.5-1h0m1.5 3h0m-12.5 1h0m-4.5-1h0m-3-1h0m-14 2h0m-15.5-1.5h0m-5 4h0m10-1.5h0m18-.5h0m18.5 4h0m-6 1.5h0m-2.5-2.5h0m-22.5 2.5h0m10 8.5h0m16 2h0"/><path stroke="#F65E41" d="M1196 88.5h0m-1 2.5h0m1.5 .5h0m11.5-1.5h0m-30.5 8.5h0m18-1.5h0m4 3.5h0m-4-1h0m-1 2h0m-13-1.5h0m-8.5 2.5h0m8 .5h0m3 1h0m23.5-1.5h0m4.5 4h0m-30.5 0h0m-.5 1h0m-5 2h0m27 .5h0m-18.5 2h0m7 3.5h0m.5-.5h0m6.5 0h0m14 3.5h0m-16-1h0m-3.5 1h0m-9 .5h0m-7.5 .5h0m-23 2h0m4 0h0m3 .5h0m2.5 0h0m16.5-1h0m11 8h0m-5.5 0h0m-12.5 2h0m-4.5-2h0m-2 1h0m18.5 3h0m6.5 1.5h0m11 2h0m-52 2.5h0m16-.5h0m3 0h0m11.5 1h0m11 1.5h0m-63 2h0m7.5 2h0m53.5 4.5h0m-3-1.5h0m-1.5 1h0m-7.5 0h0m-4-1h0m-16.5 1.5h0m-17-2h0m-12-.5h0m36.5 4h0m9-1h0m-9 3.5h0m-11 2h0m-2-2h0m-12.5 .5h0m-14.5 1h0m-1-1.5h0m-4.5-.5h0m53 5h0m0 2.5h0m-28-.5h0m-4.5 .5h0m-1 .5h0m-8-1h0m5 4h0m19.5 3h0m-13-1.5h0m-11.5 1h0m-2 3h0m24-.5h0m1.5 2h0m-38.5 3h0m7.5 0h0m28.5 0h0m-9.5 4.5h0m-16.5 3.5h0m2-.5h0m-14 2h0m-13.5 4h0m-6.5 6h0m2-1h0m2 4.5h0m-1-1.5h0m65.5 19h0m26 5h0m-8.5 1.5h0m-30-1h0m23 2h0m3.5 2h0m7 0h0m-23.5 1.5h0m16.5 4.5h0m5 1h0m-23 2h0m22 1h0m-20.5 3.5h0m-17.5 3.5h0m.5 1h0m23.5 0h0m7 .5h0m-7.5 2.5h0m-22 0h0m-4-1h0m-3 1h0m8.5 3h0m7 0h0m18.5-1h0m14.5-.5h0m-29 3.5h0m-13-1h0m-7 2.5h0m10.5 2.5h0m5.5 .5h0m18.5 8h0m-10 .5h0m-30.5 1h0m3.5 1h0m.5-1h0m40 5h0m-29 .5h0m-19-2h0m44.5 5.5h0m-.5 1h0m-2.5-.5h0m-18.5 1.5h0m-22.5 3.5h0m18-2h0m17 1.5h0m11-1h0m17 4.5h0m-16-1.5h0m-15.5-.5h0m-6.5 1h0m-2 1h0m-8-2.5h0m-13.5 1.5h0m27.5 2h0m18-.5h0m8 1h0m10.5 3h0m-57.5 0h0m-2 1h0m3.5 1.5h0m3 2h0m68.5 .5h0m-3 1.5h0m-25.5 0h0m-15.5-1.5h0m-15.5 .5h0m-4.5 1h0m41.5 4h0m24 2h0m-26.5-.5h0m-4-1h0m-27 2.5h0m-12 1.5h0m16-.5h0m1-.5h0m36.5 0h0m3.5 .5h0m7 1h0m-25.5 2h0m-12.5-.5h0m4.5 4h0m32.5 2.5h0m-5.5 .5h0m-12.5 .5h0m-22 .5h0m17.5 1.5h0m15 1h0m1.5 0h0m-1 2h0m-1 2h0m-16.5 2h0m10.5 4.5h0"/><path stroke="#FC7F4B" d="M1201 86.5h0m-26 10.5h0m29 1h0m1.5 5h0m-27.5 3h0m17.5 6h0m-1.5-.5h0m-37.5 5h0m28.5 3h0m-28 4h0m13.5 4.5h0m-14 1h0m-3 5h0m21 4h0m-36 3.5h0m-7.5 2.5h0m42.5 1h0m6.5 2.5h0m-11-.5h0m-43.5 5h0m4-.5h0m32.5 1h0m5.5-2.5h0m6.5 2.5h0m-19.5 .5h0m-23.5 0h0m-5.5 1h0m8 7.5h0m-6.5-1.5h0m29 2h0m-41.5 12h0m36 .5h0m-34 3h0m-.5 1.5h0m-3.5 5.5h0m-7 1.5h0m105 6h0m-1 17.5h0m-43.5 0h0m43 2h0m-35.5 9.5h0m-23-1h0m11.5 7h0m-33.5 2.5h0m10 3.5h0m-2 5.5h0m23 4.5h0m-21 2h0m5 2h0m15-.5h0m-.5 4.5h0m-11.5 10.5h0m33.5 8h0m-6-1.5h0m-33 4.5h0m4.5 0h0m29.5-2h0m2.5 1.5h0m-15 3h0m-19.5 1.5h0m23.5 1.5h0m8.5-.5h0m-18 7h0m-13.5 .5h0m8.5 4.5h0m-16.5 1.5h0m32 3.5h0m19 2h0m24 2.5h0m-14.5-1.5h0m-.5 2h0m-54 .5h0m61.5 3h0m-23 4h0m12 4h0m-6 3h0m-9 3.5h0m17 4.5h0m-6 2.5h0m5 2h0"/><path stroke="#FDA361" d="M1195 100h0m-12.5 10h0m-19.5 21.5h0m13 2.5h0m11.5-.5h0m6.5-.5h0m2 1.5h0m4.5-.5h0m3.5 1.5h0m-63 5.5h0m21 7h0m22.5 2.5h0m-52.5 4.5h0m-11.5 2.5h0m33.5 2h0m-32.5 0h0m29 4h0m8.5 .5h0m-16 3h0m-27.5 2h0m6 4h0m-12.5 7.5h0m-8 10.5h0m-9 3h0m98.5 9h0m-14-.5h0m-23 14.5h0m26.5 4h0m-11 .5h0m-20.5-2h0m27 4h0m5 1h0m-8.5 13h0m-26 0h0m1.5 4h0m34.5 9h0m-30.5 2h0m8.5 4h0m-31 .5h0m42.5 5h0m-41.5 7.5h0m18.5 3h0m14.5 4.5h0m8.5 3.5h0m-17-.5h0m40 12.5h0m-38 3h0m12 3h0m13 1.5h0m21.5 0h0m.5 0h0m-20.5 19h0m15.5 6.5h0m-5 1.5h0"/><path stroke="#FEC77E" d="M1174 130h0m-24 26.5h0m34.5 70h0m-28 58h0m33.5 2h0m-2.5 5.5h0"/><path stroke="#040014" d="M1224 237.5h0m.5 3h0m.5 1h0m2 12.5h0m113 22h0"/><path stroke="#0E0334" d="M1346.5 100.5h0m-21.5 4.5h0m-55.5 .5h0m10.5 3h0m16 10.5h0m40.5 3.5h0m-72 9.5h0m38.5 4h0m67.5 30h0m32 21.5h0m-139.5 3h0m56.5 7h0m-34.5 22h0m144 4h0m-26 10h0m-179 2h0m2 13h0m.5-2h0m43.5 4h0m-43.5 1h0m0-2h0m1 4h0m0-1.5h0m132 33.5h0m-86.5 6h0m84 11h0m-77 5h0"/><path stroke="#200252" d="M1331 97.5h0m12.5 1.5h0m9.5 25.5h0m-44.5 2.5h0m44 2.5h0m-92.5 3.5h0m27.5 23h0m2.5 6.5h0m11.5 16.5h0m19.5 26.5h0m-64.5 9.5h0m149.5 1h0m-148.5 9h0m42 7.5h0m4.5 9h0m-32.5 7.5h0m16 26.5h0m27.5 30h0"/><path stroke="#3A006D" d="M1303 74.5h0m29-1h0m-8 7h0m11.5 6.5h0m-59.5 7.5h0m-10 3.5h0m47-1.5h0m28.5 4h0m-41.5-.5h0m-31 0h0m-6 1.5h0m22 2.5h0m58-.5h0m20.5 1h0m-101.5 2h0m16 1.5h0m.5 1h0m57 1h0m35 1.5h0m-34.5 1h0m-37 .5h0m5 1.5h0m59 0h0m-97 7h0m49.5 1h0m2-1h0m27.5 3h0m-28.5-.5h0m-.5 0h0m-28.5 1.5h0m-2.5-1.5h0m-20 1h0m-2-1.5h0m85.5 5h0m9.5-.5h0m31-1.5h0m-6.5 5h0m-53-1h0m-14.5 .5h0m-58.5-1h0m26 2.5h0m68.5 2h0m32.5-2.5h0m.5 0h0m2 1h0m-30 3h0m-30.5 1h0m-42 .5h0m111 6h0m-79.5-1h0m42.5 6.5h0m-12.5 0h0m-9.5 0h0m-81.5 1.5h0m103.5 0h0m39.5 0h0m-72 4h0m-61.5 0h0m-4 2.5h0m76 .5h0m8.5 3.5h0m-35.5-2h0m53.5 4h0m25.5 2h0m-87 2.5h0m-82-2.5h0m79 4h0m10.5 1h0m90 .5h0m-103.5 1h0m-41.5 4.5h0m35.5-1h0m9.5 .5h0m95 3.5h0m-7 .5h0m-7.5-2.5h0m-7.5 1h0m-16 1h0m-22-1h0m-61 1h0m-14-2h0m25.5 3.5h0m6.5 1h0m14 1h0m35.5-2h0m14-.5h0m5.5 .5h0m43.5 2h0m-67.5 2h0m-22-1.5h0m-58 3h0m77 1.5h0m76-1h0m-42 2.5h0m-45 0h0m-73 2h0m73 3.5h0m19-.5h0m31.5-1.5h0m42 3h0m0 1.5h0m-42.5 0h0m-2-2h0m-49 2h0m22.5 3h0m13-.5h0m15.5 0h0m24.5-.5h0m14.5 0h0m-4.5 2.5h0m-148 4h0m7.5-1h0m1 0h0m50 2h0m105 .5h0m-96.5 2h0m-6.5-.5h0m-68.5 3h0m7.5 1h0m112-1.5h0m46.5 .5h0m-7 3h0m-81 .5h0m0 .5h0m-24-2h0m-29 2h0m-2.5 0h0m-3-1h0m35 4h0m90.5-2.5h0m19 3.5h0m-46.5 1h0m-65-1h0m-25.5 2h0m32.5 .5h0m104.5 2.5h0m-121 1h0m29.5 3h0m83-.5h0m5.5 2h0m2 1.5h0m-3 1.5h0m-99.5-.5h0m-9-.5h0m-23.5-.5h0m-2 2h0m-18.5 3h0m65 0h0m15 0h0m-43 .5h0m-20 5.5h0m69-.5h0m30-.5h0m46-1.5h0m14.5 5h0m-21-1.5h0m-14 1h0m-8-1.5h0m-32 2.5h0m-64-.5h0m-24 .5h0m9 2h0m80 .5h0m46.5 3.5h0m-13-1.5h0m-51.5-1h0m-15.5 3h0m74.5 2h0m14 0h0m21.5 2h0m-52 1h0m-28.5 0h0m-54.5 1h0m30.5 2.5h0m54-1h0m44.5 2h0m-42 1.5h0m-1-.5h0m-108.5-1.5h0m-8.5 2h0m-2 3h0m30-.5h0m54 .5h0m3.5-1.5h0m25.5 1.5h0m-25 2h0m-84 1h0m40 1h0m80 1h0m-19.5 2h0m7 4.5h0m-69.5 2h0m38 3.5h0m-71.5 4h0m-4.5-2h0m-.5 7h0m30 10.5h0m38.5 0h0m22.5 1.5h0m-1.5-1h0m-25 .5h0m-10.5 1h0m-22.5 0h0m-15 4h0m9-2h0m5.5 1.5h0m26.5 .5h0m17 2h0m-17.5 .5h0m6.5 2.5h0m-22 2.5h0m-22.5 0h0m-14 5.5h0m-10 1.5h0m58 52h0m-6 10h0"/><path stroke="#54007C" d="M1315 65h0m-3 .5h0m-.5-1.5h0m-13.5 4h0m16 1.5h0m-16 4.5h0m37 4h0m-21.5 3h0m20 5.5h0m2-2.5h0m.5 .5h0m-19 6h0m20.5 2h0m-4.5 1h0m-45 1h0m-3.5 1h0m-4 2.5h0m70.5-1h0m-9 4.5h0m-78.5-2h0m-13 4h0m5.5 .5h0m25.5-.5h0m52.5 .5h0m21 1h0m-15.5 .5h0m-8 0h0m-30 2.5h0m70.5 0h0m-21 4h0m-9.5 .5h0m-9.5 0h0m-68 4h0m11-2h0m70 1h0m11.5 3.5h0m-35.5 .5h0m-55 0h0m13.5 2h0m30.5-.5h0m47 1h0m12 0h0m17.5 3.5h0m-14-.5h0m-1 .5h0m-61.5 0h0m-4-2h0m-16.5 1.5h0m62 3.5h0m38-2h0m1 3h0m-12.5 0h0m-6.5 0h0m-74.5 1.5h0m-25.5-.5h0m-17.5 4h0m12.5 0h0m12.5-1h0m29.5-1h0m71-.5h0m14.5 1h0m.5 4h0m-4.5 .5h0m-6.5-1.5h0m-37.5-1h0m-62 2h0m18 1.5h0m52 1.5h0m9-1h0m9.5-.5h0m-103.5 3.5h0m-19.5 2.5h0m5.5 0h0m10.5 1h0m31-.5h0m7.5-.5h0m13.5 0h0m13 .5h0m12 0h0m10-1h0m-34.5 3h0m-30 2.5h0m-19-1h0m-6.5-.5h0m-9 2.5h0m11 1.5h0m40.5-2h0m15 2.5h0m3-1h0m64.5 .5h0m13.5 2h0m-16 1h0m-34 .5h0m-31.5-.5h0m-26.5-2h0m-15.5 4h0m95-1h0m7.5 5.5h0m-127.5 2.5h0m138.5-1h0m2-1h0m1 4h0m-13.5 .5h0m-21.5-1h0m-3 1.5h0m-55-.5h0m-3.5 1h0m-21-1h0m-30 2.5h0m7.5 1h0m84 .5h0m-14 2.5h0m-17.5-.5h0m-8-1.5h0m-33.5 4.5h0m42.5-1.5h0m10 1.5h0m3.5-1.5h0m21.5 2.5h0m40 2.5h0m-24.5-2h0m-1 1h0m-13-1h0m-77.5 .5h0m-1 1h0m13 2h0m54.5 1h0m1-1.5h0m23 1h0m46 3h0m-3-1h0m-36.5 .5h0m-51 1.5h0m-.5-1.5h0m-19-.5h0m-2 2.5h0m-27-2h0m-7 5h0m17.5-.5h0m1-2h0m69.5 1.5h0m35.5 3.5h0m-41-.5h0m-5 1h0m-58-2h0m-8.5 1h0m-5.5 1.5h0m29 1h0m35.5-.5h0m1.5 0h0m3 1.5h0m1-.5h0m5-1.5h0m32 3h0m-59.5 1.5h0m-39 2.5h0m71.5 1h0m56.5-1.5h0m-58.5 4.5h0m-15.5-1h0m-17-1h0m-24 1h0m-32.5 0h0m30.5 3h0m85.5 .5h0m16 3h0m-70.5-.5h0m-60 .5h0m139 2.5h0m4 2.5h0m-42.5 1.5h0m-31.5 0h0m-28.5-2h0m-16 .5h0m-2.5 2h0m-9.5 2.5h0m41.5-2h0m41.5 2.5h0m1.5-1.5h0m44-.5h0m7.5 1h0m24.5 .5h0m-20 2h0m-77 0h0m-1 1h0m-57.5 .5h0m53.5 3h0m20 0h0m69.5-.5h0m-31 1.5h0m-39-.5h0m-29 .5h0m-39-.5h0m12.5 3.5h0m51.5 0h0m44 .5h0m-12 2h0m-6.5 1h0m-82.5 0h0m-10-1h0m-11 1.5h0m-2 2.5h0m15.5-.5h0m12.5 2h0m14.5-1h0m15-.5h0m.5 0h0m96.5 0h0m.5 4h0m-57-1.5h0m-41.5 1h0m-54 2.5h0m53.5 .5h0m15.5 .5h0m25-.5h0m46.5 4h0m-1.5-2.5h0m-31.5 1h0m-47 1h0m-26-.5h0m-26.5 .5h0m-4.5-2h0m57.5 5.5h0m26-1h0m29-1h0m21.5-.5h0m32.5 2.5h0m-29 1.5h0m-19 .5h0m-8.5-1.5h0m-8 0h0m-25.5 1.5h0m-31.5 .5h0m-44 .5h0m41 2h0m47-.5h0m12 .5h0m31.5-1.5h0m32 4h0m-.5 .5h0m-19-.5h0m-4 0h0m-28.5 0h0m-80 1.5h0m-36.5-1h0m57.5 2h0m55 1.5h0m-18.5 3h0m-71.5 1h0m24.5 2h0m9.5-1h0m70.5 1.5h0m29.5-2.5h0m5 .5h0m-17.5 4h0m-31.5-1.5h0m-24 1.5h0m-72 0h0m-7.5 1h0m18 2.5h0m1-.5h0m28.5-1.5h0m76 2h0m-28 3.5h0m0-.5h0m-5-1.5h0m-29 .5h0m-59.5 .5h0m-.5 1h0m-2-2h0m-6.5 4h0m32.5-.5h0m64.5 0h0m11.5-.5h0m11.5 2h0m1.5-1h0m-7.5 2.5h0m-111 2.5h0m14.5 2h0m33.5 0h0m12.5-1.5h0m24.5 .5h0m1.5-1h0m28.5-.5h0m-18 3h0m-24 .5h0m-7.5 2h0m-52 0h0m-10-1.5h0m21.5 4.5h0m0-2.5h0m19.5 2.5h0m34-.5h0m23.5 2h0m-57-1h0m-6.5 1h0m-30 1h0m-9 3.5h0m77.5 0h0m6 2.5h0m-25.5 .5h0m-6.5 0h0m-16.5-1.5h0m-17.5-1h0m18 4.5h0m15.5-.5h0m6.5 1.5h0m6.5-1h0m9.5 1h0m-1 3h0m-29.5-.5h0m-36.5-2h0m18.5 5.5h0m29.5-.5h0m17-.5h0m-19.5 3h0m-36 .5h0m6.5 3.5h0m26-2h0m26 4h0m-79 6h0m-9 6h0m93 13.5h0m-3 11.5h0m-4.5 0h0m-14.5 25h0m-7.5 10h0m-3.5 .5h0"/><path stroke="#720B80" d="M1316.5 62h0m2 0h0m16.5 9.5h0m-9.5-2.5h0m-29 0h0m28 4h0m16.5 3.5h0m-29 1h0m-1.5 2h0m10.5 0h0m1 .5h0m-12 1.5h0m21.5 5h0m-13.5 1h0m-7 4.5h0m-20.5 2.5h0m-1.5 6.5h0m49.5 2.5h0m20.5 2h0m-22 1.5h0m-10 0h0m-59 .5h0m-2 .5h0m73 .5h0m28 3h0m-70 2h0m-8.5-2.5h0m-9.5 1h0m-.5 1h0m-25-1h0m17 4.5h0m31.5-.5h0m4-.5h0m67-.5h0m-49 2.5h0m-67 .5h0m8.5 3h0m60 .5h0m24.5 3h0m-.5-1.5h0m-2 2h0m-49 .5h0m-3.5-2.5h0m0 2h0m-11.5 .5h0m-9.5-1.5h0m-7.5 .5h0m-2-1.5h0m-4 0h0m50.5 4h0m7 1.5h0m43-1h0m23-.5h0m-126 2h0m16 4.5h0m24.5 1h0m14.5-2.5h0m54.5 1.5h0m15 4h0m-36.5-.5h0m-18.5-1.5h0m-29.5 1h0m-5-.5h0m-30.5-.5h0m16.5 3h0m44 1h0m65.5-1.5h0m-76 3.5h0m-57 5h0m6 0h0m6.5 0h0m14.5-.5h0m46.5 0h0m17 .5h0m-10.5 2.5h0m-16-.5h0m-10.5 0h0m-39.5 1h0m44 2.5h0m.5 0h0m58.5 .5h0m2.5-1h0m12.5 .5h0m-4 3h0m-36.5 .5h0m-89.5-.5h0m59 2h0m22 1h0m1-1h0m20 0h0m11.5 3.5h0m-17.5-.5h0m-13-.5h0m-10.5 2h0m-29.5-1.5h0m-5.5 0h0m26 4.5h0m35-2h0m29 1.5h0m-.5 2.5h0m-5.5 0h0m-1-1h0m-42 .5h0m-14.5 .5h0m-3.5-1.5h0m-18.5 1h0m-.5 1.5h0m-2.5-1.5h0m-31.5 3h0m24 0h0m22 0h0m42 0h0m1.5-.5h0m6-.5h0m24 .5h0m-7.5 3.5h0m-34.5 1h0m0-1.5h0m-93.5 1h0m15.5 2h0m17.5-.5h0m12 .5h0m5-.5h0m65.5 .5h0m12 1h0m1.5-.5h0m6.5 .5h0m2.5 3.5h0m-102 .5h0m-3.5-1h0m-4.5 1h0m-6.5-.5h0m-17.5 1h0m3 1h0m50-1h0m49.5 2.5h0m12.5 1h0m-98 3h0m35.5-.5h0m2 0h0m85.5 1h0m-20.5 3.5h0m-28 0h0m-21.5 0h0m-51-1.5h0m-22.5 1h0m0 4h0m59 .5h0m8-2h0m18.5 0h0m.5 0h0m3.5 .5h0m52 4.5h0m-17-2h0m-18 1h0m-38-.5h0m-11.5 1h0m-7-.5h0m-33 3h0m16-1h0m61 .5h0m16.5 1.5h0m47.5-1h0m-46.5 3h0m-93.5 .5h0m-18.5 1h0m8 2.5h0m64 0h0m14.5-1.5h0m24 .5h0m52.5 0h0m-25 3.5h0m-21-1h0m-47.5 .5h0m-41.5 1h0m-23.5-1.5h0m133 2h0m2 1h0m29.5 2h0m-24 2h0m-21-1h0m-53.5 0h0m-9 0h0m-30 4h0m0-.5h0m2-1.5h0m29.5 0h0m12 0h0m5.5 1.5h0m7 0h0m9.5 .5h0m77 3.5h0m-5-2.5h0m-99.5 1.5h0m-29.5-.5h0m-1 3.5h0m24.5-1h0m3.5-.5h0m60 1h0m2.5 0h0m29.5-.5h0m6 .5h0m-14.5 4h0m-73.5-1h0m-7.5 1h0m-23 0h0m-36 2.5h0m83-1h0m12 1h0m57 .5h0m-40 1h0m-6 0h0m-17 1.5h0m-3 1h0m-3-1h0m-18 1h0m-13-2h0m-2.5-.5h0m-47.5 2.5h0m-2-1h0m82 1.5h0m9 0h0m12 1.5h0m22 .5h0m-26 2.5h0m-4.5-.5h0m-17.5-1h0m-63 0h0m-.5 1h0m9.5 3h0m10 .5h0m14.5-1h0m48.5 1h0m81.5 4h0m-90.5-2h0m-15 2h0m-12-1h0m-10-1h0m-17.5 3h0m34.5 1.5h0m.5 .5h0m48.5-2.5h0m22.5 2.5h0m2-1h0m33 0h0m-25.5 2.5h0m-12-.5h0m-31 2h0m-1 0h0m-34-1h0m-57.5 2h0m60.5-.5h0m40 1h0m6-1h0m1 1h0m24 .5h0m8.5 2.5h0m-122.5-.5h0m-11.5 3h0m53 .5h0m3 0h0m51-1h0m37 3h0m-36 2.5h0m-1 0h0m-15-2h0m-19 0h0m-37.5 0h0m-6.5 1h0m-4-1h0m-25 1.5h0m.5 1.5h0m42.5-.5h0m24 1h0m8-.5h0m8-.5h0m24.5 2.5h0m8.5-1.5h0m22.5 .5h0m5 .5h0m-12.5 3h0m-54.5-2h0m-2.5 1h0m-23 1.5h0m-8.5-1h0m-2.5 .5h0m-14 .5h0m-5.5 0h0m-4.5-1.5h0m-9 1h0m-6.5-1.5h0m-12 1h0m50.5 1.5h0m53.5 2.5h0m-9.5 1.5h0m-6.5 .5h0m-3.5 .5h0m-78.5-.5h0m-2.5 4h0m49-2h0m33 2h0m22-2.5h0m6.5 1h0m6.5 1h0m1 3h0m-16.5-.5h0m-35-1.5h0m-57 3h0m43.5 .5h0m32 0h0m2 1h0m24-.5h0m-2 2h0m-61.5 1h0m18 2.5h0m29.5 4.5h0m-18.5-.5h0m-36.5 1.5h0m37 1h0m9 3h0m-46 1.5h0m-2.5-2.5h0m-8.5 .5h0m-21 1h0m-9 0h0m47.5 1.5h0m4.5 1.5h0m23.5 0h0m16.5 1h0m-18 .5h0m-51 3.5h0m21 .5h0m23-1h0m10 2h0m11.5-.5h0m-39 2.5h0m-10.5 1h0m-16-2h0m-1.5 1.5h0m55.5 2h0m-9 4.5h0m-58.5 1.5h0m-19 4h0m-3-1h0m-3 6.5h0m86.5 30h0m-28 35h0"/><path stroke="#8E137C" d="M1304 61.5h0m-7 5.5h0m25 7.5h0m1.5 3h0m-18 0h0m.5 2.5h0m2.5 1h0m30 11h0m-28 3h0m6 1h0m3 2.5h0m24.5-2.5h0m-13.5 5.5h0m-55.5-2h0m51 4h0m4 1h0m1.5-1.5h0m28.5 2.5h0m-27.5 1h0m-31.5 3.5h0m22.5 1h0m-.5 0h0m-2 2h0m-29-.5h0m0 1h0m-13-2.5h0m-20.5 5.5h0m14.5-1.5h0m4 1h0m21.5 .5h0m44 0h0m8-2h0m-6.5 3h0m-3.5 2h0m-14 0h0m-2.5-1.5h0m-43.5 0h0m-14 .5h0m75.5 2.5h0m-53 4h0m-.5 .5h0m-2-2h0m-29.5 4.5h0m21-.5h0m9.5 3h0m7 1.5h0m50.5 1.5h0m4.5 0h0m20.5-1h0m13.5 4h0m-39 0h0m-46-1.5h0m-10 1.5h0m-7-1.5h0m-1 .5h0m-11 2h0m31 2.5h0m1.5 0h0m32.5 0h0m1.5-1.5h0m-32 3.5h0m55.5 5h0m-7.5 1.5h0m-90.5-1h0m105 4h0m24.5 3.5h0m-14.5-2h0m-78.5 0h0m-20.5 1.5h0m-19.5-1.5h0m7 4h0m2 1h0m23.5-2h0m3 .5h0m71 5h0m-23.5-1h0m-4 .5h0m-40.5-1h0m-2 1.5h0m-43.5 .5h0m6.5 0h0m93 1.5h0m5.5 2h0m-59.5 .5h0m-7.5-.5h0m-6 .5h0m-33 0h0m-.5 4.5h0m92-1h0m27.5-1h0m7.5 3h0m-32 1.5h0m-15.5-2h0m-40.5 2.5h0m-96.5 0h0m-.5-.5h0m61.5 3.5h0m22.5 0h0m39-1.5h0m26.5-.5h0m23.5 5h0m-13-2h0m-22.5 1h0m-64.5 4h0m7 0h0m78-1.5h0m20 .5h0m-34.5 2.5h0m-23 .5h0m28.5 5.5h0m-82.5 3.5h0m20.5 1h0m9.5-1.5h0m43 1.5h0m1-2.5h0m17.5 1.5h0m21.5 1.5h0m-33 0h0m-29 0h0m-37.5 0h0m-23 2h0m3.5 3h0m22 0h0m8.5 0h0m25.5-1.5h0m79 2h0m9.5-.5h0m8-1.5h0m9 .5h0m-67.5 4.5h0m-.5-.5h0m-68.5 2h0m34-.5h0m101.5 4h0m-1-.5h0m-73.5 .5h0m-22.5-1h0m-44 0h0m5 4h0m36.5-1.5h0m0 1h0m21 0h0m4-1h0m73.5 2h0m-67.5 3.5h0m-37-1.5h0m-3.5-1h0m-17.5 2h0m39.5 2h0m71.5-.5h0m7.5 0h0m-34.5 2.5h0m-44.5 0h0m102 3h0m-139.5 5.5h0m-3.5-1.5h0m-3-1h0m-19 5.5h0m66-1.5h0m39.5 0h0m11.5-1h0m-1 3.5h0m-25.5 .5h0m-8 .5h0m-2.5 .5h0m-.5-2h0m-82.5 1.5h0m148 1.5h0m-56 4.5h0m-47.5 1h0m-6.5-1h0m12 1.5h0m19 1h0m13 1h0m20.5 0h0m55-1.5h0m-38 2.5h0m-60 .5h0m-13 1h0m-35.5-1.5h0m50 4h0m33 1.5h0m5-1.5h0m19.5 3h0m-9.5 0h0m-51 .5h0m-21-1h0m-15.5 .5h0m-3.5 1h0m-8.5 0h0m-8 2.5h0m47 0h0m90.5 0h0m-10.5 2.5h0m-104 4h0m27-1h0m-43 3.5h0m48 2.5h0m4.5 0h0m-27.5 4h0m-1.5-1h0m104.5 3h0m-7.5 3.5h0m-10 .5h0m-.5 .5h0m-16 5.5h0m-19-.5h0m-34 3h0m41 0h0m-34.5 2h0m-44.5 1.5h0m33 2h0m-32 3h0m16 2h0m13.5 5.5h0m-4 0h0m-23.5-2.5h0m17.5 4h0m20 1h0m13-2h0m8.5 1h0m11-1h0m-32.5 3.5h0m-32.5 1.5h0m2.5 3h0m3 6.5h0m27.5-1.5h0m-34 8.5h0m-16.5 1h0m1.5 2.5h0m-5 5h0m83 12.5h0m5.5 1.5h0m.5 0h0m2.5 6.5h0m-29.5 29h0m-12 17h0"/><path stroke="#A81872" d="M1321.5 81h0m-23.5 17h0m39 0h0m8.5 0h0m-138.5 6h0m110.5 0h0m-47.5 2h0m23.5 4.5h0m69.5 1.5h0m-10.5 1h0m-92 0h0m-49.5 .5h0m-32 1h0m2 7h0m23.5-1.5h0m64.5 2h0m-93 6.5h0m26 3h0m-1.5 1h0m-23.5 9h0m-1 3h0m2.5 1.5h0m-15.5 5.5h0m5.5-.5h0m115.5-1h0m71 5h0m-200.5-2h0m-35.5 2h0m21.5 2h0m150.5 0h0m-136.5 4h0m231.5 4.5h0m-223.5 1.5h0m-18-.5h0m-22 6.5h0m181.5 4h0m-34.5 4.5h0m98 2.5h0m-248.5 2.5h0m5 2.5h0m200 13.5h0m-142.5 4h0m77.5-.5h0m130 2.5h0m-204.5 7h0m221 8h0m27.5 9.5h0m-64-1.5h0m-224 10h0m24.5-1.5h0m263 2.5h0m-64.5 3h0m-231.5 2.5h0m42-1h0m5 .5h0m85.5 1h0m97 .5h0m-16.5 1.5h0m-165-1h0m129 5h0m18 0h0m-184 6h0m165.5 7h0m-136.5 3.5h0m8 3h0m-15 1.5h0m6 .5h0m163 0h0m-189 3h0m194.5 4.5h0m18-1.5h0m-82 12h0m-86 5.5h0m105 8h0m-96 3.5h0m139 2.5h0m-64.5 2h0m-9 4.5h0m84 21h0m-7 6.5h0m-2.5 0h0m-69 14h0m-13.5 2.5h0m8.5 2h0m-10.5 5.5h0m-8.5 2h0m1 .5h0m73.5 1.5h0m-69 0h0m-7.5 3h0m2 2.5h0m-4 3h0m67.5 3h0"/><path stroke="#C11F64" d="M1308 70.5h0m-8.5 1.5h0m-96.5 22h0m4 3.5h0m57.5 3h0m66 4.5h0m-67 6h0m-1.5 11.5h0m38.5-1.5h0m4 4h0m65 15.5h0m7-2.5h0m-30 5h0m-209.5-.5h0m10 4h0m38 4.5h0m137-1h0m45.5 5h0m-219 5.5h0m-12 2.5h0m154 7h0m-131 2h0m140.5 6.5h0m-166-1.5h0m-3.5 .5h0m174 5h0m83 2h0m-263.5 4h0m.5 0h0m156 7.5h0m-5 4h0m69.5 3h0m-134-2h0m-39 3h0m37.5 1h0m209.5 .5h0m-28.5 5.5h0m-244.5 10.5h0m5.5 1h0m275.5 4h0m-2 0h0m-1 0h0m-10-.5h0m-253 4h0m263.5-2h0m5.5 0h0m5 3.5h0m-1.5 .5h0m-23.5 1h0m-228 2h0m236.5 5h0m-8 3h0m-42 2h0m-207.5 3.5h0m3 5.5h0m4 .5h0m107 .5h0m-140 8.5h0m44 2.5h0m-35 1.5h0m130 3h0m-2.5 3h0m-6.5 1.5h0m94 3.5h0m-23 1h0m-14-.5h0m-91.5 1h0m-80 1h0m2.5 1.5h0m17.5 1h0m59-.5h0m63.5 4.5h0m-108.5 0h0m-50.5-1h0m11 3h0m42.5 .5h0m-36.5 3.5h0m4 .5h0m153.5 4h0m-28 1.5h0m-75.5 0h0m-9-1.5h0m-26.5 0h0m-14 1h0m168.5 1.5h0m-8 9.5h0m-143 0h0m6.5 7h0m13.5 8.5h0m149.5 15h0m5.5 5.5h0m-66 10.5h0m58.5-.5h0m-60.5 2.5h0m-4-.5h0m-1.5 0h0m-11 4h0m10.5-2h0m-5.5 5h0m-3.5-2h0m-7.5 2.5h0m5.5 3h0m1 0h0m3-2.5h0m-4 3.5h0m-10 3h0m0-.5h0m3.5 6.5h0m64.5 2h0m1.5 0h0m-3 .5h0m-70.5 3.5h0m62.5 5.5h0"/><path stroke="#D92A51" d="M1306 72.5h0m22-.5h0m7.5 17h0m-124.5 .5h0m-12.5-1h0m3.5 15h0m58.5 1h0m20 .5h0m-106 .5h0m-4 0h0m0 1h0m14 4h0m23 .5h0m-1 2h0m-3.5-1.5h0m-19 0h0m-22 1h0m7 3.5h0m27.5 .5h0m176-1.5h0m-216.5 6.5h0m46.5 1h0m92-2h0m29 1.5h0m-37 2.5h0m-27 .5h0m-85 8h0m29.5 1h0m187.5-1h0m-11.5 4.5h0m-41-1h0m-156.5-.5h0m-7 3h0m20-1h0m-32.5 7h0m21.5 0h0m-14.5 5h0m-4 8h0m94-1h0m68.5 1.5h0m-192.5 2.5h0m216.5 1.5h0m23 11h0m-54-1h0m-166.5 .5h0m-24 2.5h0m247-.5h0m11 0h0m-62 3h0m-27.5 0h0m-17 1.5h0m46 3h0m-118 4.5h0m.5 1.5h0m47.5 1h0m-48 1h0m-86.5 1h0m-24-1h0m233 2h0m61 4.5h0m-54.5-1h0m16.5 11h0m-3.5 3h0m-83.5 5.5h0m77 .5h0m-78 4.5h0m-89 .5h0m-22.5-1h0m-3 1.5h0m151 6.5h0m123 1.5h0m1 3h0m-105.5-.5h0m-145 .5h0m-19 2.5h0m121.5-1h0m-105 3.5h0m-13 4.5h0m276.5 1.5h0m-294.5 4.5h0m25.5-1.5h0m10 1.5h0m199.5 .5h0m53.5-2.5h0m1.5 0h0m2 1h0m-14.5 4h0m-241 1h0m249.5 10h0m-33 .5h0m-239 4h0m234.5 .5h0m-41.5 2.5h0m-206.5-2h0m34 3.5h0m128 1.5h0m-126 2.5h0m-13.5-2h0m3.5 5h0m139 0h0m.5 0h0m43-.5h0m7-.5h0m-129 2h0m-96.5 5.5h0m24-2.5h0m8 2h0m63-2h0m60 1.5h0m57-1.5h0m-124 4.5h0m-18.5 1h0m-56.5-.5h0m-12.5-.5h0m-3 1h0m31 5.5h0m40.5 4.5h0m-28 3.5h0m11.5 1h0m16-2h0m69 .5h0m84 1.5h0m-150 1.5h0m-40 .5h0m27 2h0m87 5.5h0m-99.5 3h0m157 1h0m-146.5 1.5h0m-19-1h0m-4 0h0m-6-1h0m95 9h0m-62.5 4.5h0m85 27.5h0m-12 5.5h0m1-1.5h0m4.5 .5h0m1 2h0m-18.5 6h0m10.5-2.5h0m.5 1h0m3.5 .5h0m-17.5 10h0m-5-2h0m-1.5 9h0m68-.5h0m-1 7h0"/><path stroke="#EA3F45" d="M1193.5 91.5h0m1.5 0h0m9.5 .5h0m.5-2h0m1 5h0m-2.5-1h0m-7.5-.5h0m9.5 12h0m-6 2h0m-36 2.5h0m45 0h0m-6.5 2.5h0m-13 1h0m-5.5-2.5h0m18 8.5h0m-7 3h0m6.5-2.5h0m-27 4.5h0m-4 3.5h0m3-.5h0m0-1.5h0m15 .5h0m12 1.5h0m9.5 2.5h0m-29 0h0m-.5-1h0m-4 0h0m-4.5 5h0m3-1.5h0m11.5 0h0m12.5-1h0m-5.5 5h0m-8-1.5h0m-1 1h0m-1.5-1.5h0m-2.5 1.5h0m-4 .5h0m-24 0h0m-22.5 2.5h0m30.5-.5h0m37.5-.5h0m-7 2.5h0m-13 1.5h0m-13-1.5h0m-25 .5h0m-4 1h0m-2 .5h0m17 3.5h0m10.5-1.5h0m27.5 4.5h0m-26-.5h0m-21.5 .5h0m-6.5-1.5h0m27.5 4.5h0m14.5-2.5h0m10 .5h0m1 .5h0m-7.5 3.5h0m-1-.5h0m-10.5-1h0m-3.5 1.5h0m-18 .5h0m-2 .5h0m-27 1h0m1 1h0m0 1h0m5 3h0m-7.5-2.5h0m-1 1.5h0m-1.5 4h0m26.5-1.5h0m19 3h0m-2 .5h0m-13.5 0h0m-2.5 1h0m-3.5-1.5h0m-13.5 .5h0m-12.5 2h0m18 .5h0m13.5-.5h0m8.5 2h0m-7 3h0m-18-.5h0m-3.5-1.5h0m-8.5 3.5h0m14.5 0h0m2.5 0h0m2 0h0m3.5 1.5h0m-8.5 4.5h0m-20 2.5h0m-3 2h0m17 .5h0m88 8.5h0m-20.5 15h0m-24 1h0m8.5 .5h0m15 1.5h0m-20.5 1.5h0m-1 1.5h0m-2.5-.5h0m-3.5-.5h0m20.5 3.5h0m3 3h0m-10.5-2h0m-26 4.5h0m17 1h0m8-1.5h0m-20 2h0m-5.5 2h0m7 2h0m7.5 .5h0m11.5-1h0m-13 6h0m2.5 4.5h0m-.5-1.5h0m-15 1.5h0m-10.5 1h0m3 .5h0m20.5 2h0m-28 5h0m12.5 0h0m11-.5h0m.5 0h0m4-.5h0m15.5-.5h0m7.5 4h0m-4 0h0m-6 1h0m-23 0h0m21 9h0m-24 1h0m-17.5 3h0m2.5 1h0m29 2.5h0m-20.5 3.5h0m26-.5h0m8 .5h0m12 1h0m-3 1.5h0m-2.5 0h0m-9 0h0m-5.5 .5h0m-10.5-.5h0m-3.5 2h0m-.5-1h0m-1.5 1h0m-11.5 1.5h0m3.5 .5h0m26-.5h0m2 1h0m0-.5h0m8-.5h0m2.5 4.5h0m-1 0h0m-27 0h0m-5.5 2.5h0m1.5 0h0m29.5 .5h0m.5 .5h0m-5 0h0m-22 0h0m-4.5 1h0m-12-.5h0m14 5h0m1.5-2h0m33 2h0m6.5-2.5h0m9.5 .5h0m4.5 .5h0m14.5 0h0m-28 4h0m-49.5-1.5h0m-7.5 1h0m12 1.5h0m11.5 2.5h0m8.5-2h0m20 2h0m25.5-2.5h0m-60 7h0m36 1h0m12 3.5h0m-30 2.5h0m28 1h0m-1.5 0h0m-21 1h0m-1 .5h0m-15.5 2.5h0m9 1h0m.5-.5h0m7 0h0m25 0h0m-19.5 3h0m-6-1.5h0m18.5 3h0"/><path stroke="#F65E41" d="M1197 88h0m12.5 6.5h0m-10.5-1.5h0m7.5 4h0m5 3.5h0m-23.5-.5h0m1 3h0m-2.5 2.5h0m-4.5 2h0m-2-1h0m31.5 5h0m-19 0h0m-10 .5h0m-23-1h0m21.5 4h0m1-1h0m3.5 2h0m16.5-2h0m.5 3h0m-49 2h0m41 3.5h0m3.5-2.5h0m3 .5h0m-45.5 3.5h0m49.5 3.5h0m-10 3.5h0m-4-1h0m-.5-1h0m-24 4h0m25-.5h0m11 4h0m-15-1h0m-33.5 1h0m-16 4h0m7-.5h0m4 0h0m5.5 .5h0m18.5-2.5h0m26.5 2h0m-12 2.5h0m-2.5-1h0m-17.5-.5h0m-40.5 5h0m41-1h0m3.5-.5h0m5.5 4h0m-.5-1.5h0m-2.5 2h0m-22 0h0m-.5-1h0m-20 1h0m-5.5-1.5h0m-5.5 2h0m-1-1h0m38.5 3.5h0m6-.5h0m1-.5h0m5.5 .5h0m16 .5h0m-25 3.5h0m-8-1h0m-6 1.5h0m7 0h0m7 .5h0m-9.5 4h0m-34.5-1h0m26 3h0m23.5 3.5h0m-20 0h0m-1-.5h0m-29 5h0m27.5-2.5h0m18.5 2h0m-40 4h0m1.5 1.5h0m-12 7h0m-15 11.5h0m112 0h0m-36 8.5h0m-.5 0h0m37 3h0m-52.5 5h0m3 2h0m2.5-2.5h0m24.5 1h0m-14 4h0m-3.5 .5h0m11 3h0m3 1h0m-3 3h0m2 1h0m-15.5 1.5h0m10 3.5h0m-16 6.5h0m2 .5h0m17.5-1h0m.5-.5h0m-7.5 7.5h0m1.5 0h0m1.5 1h0m6-2.5h0m-17.5 4.5h0m-1.5 0h0m-17-.5h0m-.5 0h0m-1.5 4.5h0m9.5-1h0m3.5 .5h0m8 1.5h0m-5 2h0m-19.5-2h0m8 3.5h0m6 0h0m11 0h0m6-1h0m-10 8.5h0m8-1.5h0m3 1.5h0m4 1h0m-22.5 2h0m-21 2h0m22.5-.5h0m19.5 2.5h0m-19 2h0m13 1.5h0m7-1h0m13 2.5h0m-18 2h0m-16 1h0m-12.5 .5h0m3 2.5h0m42.5 0h0m0-2.5h0m5 5.5h0m-41-.5h0m-15-.5h0m5.5 4h0m38 0h0m10-2.5h0m4.5 5.5h0m-1.5-1h0m-4-1.5h0m-10 1.5h0m-12.5-1.5h0m-23.5 1.5h0m-7 4h0m31.5-2h0m21.5 0h0m-9.5 3.5h0m-3.5 0h0m-19-1h0m-5.5 5.5h0m11.5-2h0m6 1.5h0m22.5-2h0m5.5 1h0m10 1h0m2.5-2h0m-9.5 5.5h0m-19.5-1h0m-1.5-1.5h0m-1.5 1h0m-3.5 1h0m-19.5-2h0m-8.5 2.5h0m.5 3h0m52 3h0m-8.5-2h0m-30.5-.5h0m-2 1.5h0m-3.5 .5h0m6 3.5h0m36.5 1.5h0m-33.5 1.5h0m32 1.5h0m-12.5 2h0m.5 3.5h0m15.5 2h0m3-1h0m-6 9.5h0"/><path stroke="#FC7F4B" d="M1203.5 96.5h0m1 2h0m-28 2.5h0m-1-.5h0m14 1.5h0m3.5 3.5h0m-22.5 0h0m-11.5 10h0m41 3h0m.5 3.5h0m-6 3.5h0m-31 1.5h0m12 .5h0m14.5 .5h0m-19.5 5.5h0m8-1h0m23 .5h0m-31.5 7.5h0m8-2h0m-52.5 5h0m26.5 6h0m-5 .5h0m7 4.5h0m-29 1h0m47.5 4.5h0m-50 3.5h0m8.5 5h0m3 .5h0m20.5 5h0m-16.5 4h0m-26.5 1.5h0m-4 2h0m-3 10h0m-9 2.5h0m1.5-1h0m115.5 2.5h0m-3 7h0m-59.5 13h0m18.5 .5h0m17.5 1.5h0m-24.5 3.5h0m12.5 6h0m-25.5-1h0m35.5 5h0m-6 4h0m-.5 3.5h0m-19 3h0m-14 2h0m3 7h0m15.5 3h0m19-1.5h0m-9.5 4.5h0m-10.5-.5h0m-7-.5h0m-22.5 0h0m42.5 5h0m-19.5 2h0m21 6h0m-36.5-1h0m38 3h0m-8 4.5h0m-13 0h0m29.5 5.5h0m-26-1.5h0m-18.5 .5h0m39 3.5h0m1.5 1.5h0m5-1h0m-47.5 5h0m6-.5h0m59.5 1.5h0m-7.5 2h0m3.5 4h0m6.5 2.5h0m-47 9h0m4 0h0m8.5-1h0m23.5 4h0m5 4h0"/><path stroke="#FDA361" d="M1211.5 95.5h0m-5 10.5h0m-21-1h0m-6 1.5h0m0 2h0m2 3h0m-28.5 .5h0m23 3.5h0m29 3h0m-21 .5h0m-9 .5h0m30.5 5.5h0m-51.5 8h0m28-1h0m-43.5 8h0m49.5-1.5h0m-1 5h0m-26 3.5h0m-23 1h0m17.5 11.5h0m-10 1.5h0m-5.5 3h0m0 5.5h0m-13 1.5h0m-5.5 11h0m91 8h0m0 6.5h0m-30 7.5h0m6.5 0h0m-33 7.5h0m-1 24.5h0m23.5-2h0m-24 6.5h0m4.5 0h0m17.5 0h0m-25 5h0m-10.5 7.5h0m17 8.5h0m-23 3.5h0m34 2.5h0m-12 5.5h0m-7 3.5h0m12 2.5h0m6 8h0m-17.5 1h0m16 .5h0m13.5 1.5h0m-28.5 2.5h0m29.5 6.5h0m-16 .5h0m-6.5 6.5h0m19 2.5h0m9 13.5h0"/><path stroke="#FEC77E" d="M1201 105.5h0m-64 35.5h0m-32 47h0m3.5-1.5h0m.5-.5h0"/><path stroke="#040014" d="M1224.5 238.5h0m-.5-.5h0m1.5 6h0m-.5 0h0m1 7.5h0m176 10.5h0"/><path stroke="#0E0334" d="M1267.5 98h0m-4.5 9.5h0m26 47h0m28 6.5h0m-20 6h0m-16.5 4h0m19.5 3h0m4 25h0m42.5 2h0m-27.5 6.5h0m-54 5h0m50-.5h0m100.5-1.5h0m-9 9.5h0m-182 17.5h0m-.5-.5h0m1 5h0m.5-.5h0m-.5 5.5h0m1 5h0m1 1.5h0m0-1.5h0m189.5 4h0m-189 2.5h0m1.5 4.5h0m83.5 3.5h0m6.5 45.5h0"/><path stroke="#200252" d="M1292.5 104.5h0m25.5 4.5h0m-53 8.5h0m1.5 2.5h0m109.5 19.5h0m-43.5 10h0m-17.5 3.5h0m-23.5 3.5h0m36 8.5h0m-33 9.5h0m-21.5 6.5h0m112-1h0m-33 17.5h0m32.5 21.5h0m-115 4h0m148.5-1h0m-77.5 50.5h0m18 25h0"/><path stroke="#3A006D" d="M1308 57.5h0m5 5h0m-4.5 1.5h0m-.5 1.5h0m8 1h0m1-.5h0m-1 12h0m5.5 9.5h0m-2.5 3.5h0m-26.5 9.5h0m-6 0h0m-15.5 .5h0m-14 .5h0m112.5 4h0m-35 2h0m-43.5-1.5h0m32 4h0m16.5 0h0m-16.5 3.5h0m-38-2h0m-1-.5h0m-10.5 1.5h0m.5 2h0m14 .5h0m6.5 .5h0m28 3h0m-17-1h0m-8.5 2h0m2 2h0m38-1h0m18.5 4.5h0m-40.5-.5h0m-40.5 0h0m-2.5 3.5h0m16-1h0m48.5 1h0m11 0h0m-39.5 1h0m-45.5 2h0m4 1.5h0m47 0h0m59-.5h0m3.5 1.5h0m13.5 3h0m-36.5 0h0m-91.5 1h0m14 2.5h0m1-1h0m24.5 1.5h0m75 1h0m-11.5-.5h0m-62 1h0m-2 3.5h0m7.5 1h0m90 2.5h0m-108.5 .5h0m79.5 .5h0m-18.5 4h0m-28-1h0m-7.5 0h0m-24.5 0h0m-31 5h0m24.5-1.5h0m6-.5h0m49 2.5h0m56.5 2h0m-51 0h0m-26 .5h0m-58.5-1.5h0m-43.5 3.5h0m53.5-1h0m42.5 1h0m66.5 1h0m9.5-1.5h0m-38.5 5h0m-52.5-1h0m-40-.5h0m-38.5 0h0m65 3.5h0m15-1.5h0m17.5 5.5h0m-5-1h0m-36 0h0m-16.5 0h0m-.5 2.5h0m1 1h0m11 .5h0m72.5 0h0m26-2h0m15.5 .5h0m-9.5 2h0m-16 .5h0m-28 2h0m-10.5-1.5h0m-53 1h0m98 5h0m-56.5 0h0m-21 1h0m-1.5 .5h0m-37.5 0h0m20.5 3h0m40.5-2h0m84 3h0m-103 1.5h0m-35 3h0m51.5 0h0m34.5-1h0m10 .5h0m50.5-1.5h0m-71.5 3.5h0m-28 0h0m-31.5 .5h0m-10.5 2.5h0m18.5 .5h0m31 .5h0m93.5 0h0m.5 4h0m-137.5 1h0m102.5 2.5h0m-109 .5h0m-3.5 4.5h0m8.5-2h0m45 0h0m24 3h0m-51 2h0m-1.5-2h0m-31.5 5h0m143.5-.5h0m15-.5h0m3.5-.5h0m-105.5 3h0m118.5 12h0m-5.5 1h0m-85.5-1.5h0m-21.5 0h0m-19.5 1h0m-2.5-1h0m86 6.5h0m-62 1h0m-3.5 0h0m-38.5 2h0m39 .5h0m9-1h0m20 .5h0m72 1.5h0m-22 3.5h0m-13.5-2.5h0m-47 1.5h0m-18-1.5h0m-30.5 0h0m-19 0h0m95 3h0m9.5 0h0m.5 0h0m6.5 2h0m61.5-1.5h0m-.5 5h0m-61-2.5h0m-8 1.5h0m-87.5 1h0m17.5 3h0m30-1h0m38.5-.5h0m31-.5h0m5 2.5h0m-19.5 1.5h0m-46.5 0h0m-5.5-1.5h0m-62.5 2h0m10 3.5h0m12-1h0m101-.5h0m.5 .5h0m34.5 1h0m7-.5h0m-99 1.5h0m-47.5 4h0m58.5 0h0m55.5 .5h0m6.5 3.5h0m-94.5-2.5h0m-25 4.5h0m22.5-1h0m-37 3.5h0m51.5 3.5h0m13.5-1h0m38-.5h0m-54 3.5h0m-29.5 2.5h0m18 1.5h0m61.5 3h0m-16-.5h0m-43.5 1h0m-8-.5h0m-25-1h0m55.5 2.5h0m-41.5 10.5h0m30.5 2h0m12.5 1h0m-52.5 2.5h0m-2.5-.5h0m6 3h0m17.5 .5h0m10.5 1.5h0m8.5 1.5h0m-49 4.5h0m4.5-1h0m5.5-.5h0m64 .5h0m-50.5 4h0m-24-.5h0m-11 5.5h0m-1 0h0m-9 4.5h0m67.5 51.5h0m-11.5 17.5h0"/><path stroke="#54007C" d="M1308 62.5h0m5 .5h0m3 5h0m-6.5 6.5h0m13.5 1.5h0m-17 5.5h0m30.5 3h0m5 2.5h0m-17.5 0h0m3.5 4.5h0m4-.5h0m13 1.5h0m-59 3.5h0m6 2h0m41.5 0h0m-59 3h0m-9 2.5h0m61.5-1.5h0m37.5 2.5h0m-20 1.5h0m-14-1h0m-46 1.5h0m-19.5 0h0m71 2.5h0m28.5 1h0m3.5 3.5h0m-107-1h0m1 2.5h0m19.5 1.5h0m81 1.5h0m-22.5-.5h0m-65.5 1.5h0m-11-2h0m-8 4h0m15.5 1h0m26.5 .5h0m15.5 0h0m29-.5h0m32.5 3h0m-28-1.5h0m-27.5 2h0m-10-2.5h0m-20.5 2.5h0m-.5-1.5h0m-6 .5h0m-11 2.5h0m10 1h0m12.5 0h0m14.5 0h0m1.5 .5h0m51.5-1.5h0m9-1h0m-17 4h0m-16.5-.5h0m-65.5 0h0m-1 2h0m-9.5-2h0m-3 1.5h0m6.5 2h0m4-1h0m55.5 0h0m12 .5h0m58.5 5h0m-9-1h0m-53.5 1h0m-15.5 0h0m-30-2h0m-7 4h0m33.5 .5h0m24-1.5h0m35.5 2h0m23.5 3h0m-24.5-.5h0m-5 0h0m-85-.5h0m-23 3h0m55.5 .5h0m28-2h0m34.5 0h0m1 4.5h0m-10.5-1.5h0m-51.5 2.5h0m-15-2.5h0m-35 4.5h0m45-1h0m25.5 0h0m24 .5h0m41-.5h0m-31 3h0m-27 0h0m-12 1.5h0m-53 1.5h0m12 0h0m29-.5h0m22 2h0m54.5-1.5h0m-26 4.5h0m-47.5 0h0m-17.5 .5h0m-3.5-2.5h0m-19 .5h0m-31.5 2h0m0 3h0m9-1.5h0m5 1.5h0m54-1h0m4.5-.5h0m17.5-.5h0m38.5 1h0m16-.5h0m-40 3h0m0-1h0m-36 1.5h0m-12-1h0m-46.5 1.5h0m-10-1.5h0m16 4.5h0m122-1h0m-9.5 3.5h0m-17-.5h0m-1 1h0m-16 .5h0m-54-1.5h0m-23 3.5h0m2.5-1.5h0m17.5 2.5h0m14-1h0m6 .5h0m23.5-1.5h0m47 1.5h0m-9 3h0m-17.5 0h0m-8 .5h0m-55-2.5h0m-2.5 2.5h0m-19.5 0h0m97 2h0m1.5 1h0m8-2.5h0m-10 5.5h0m-88.5 .5h0m118.5 0h0m11.5 .5h0m-13 3h0m-9 1.5h0m-36.5 .5h0m-21.5-1.5h0m-37.5 .5h0m-35 1h0m4.5 2h0m5-.5h0m.5-1h0m52 1h0m25.5-.5h0m74 4.5h0m-73.5-.5h0m-5.5-1h0m-15.5 2h0m-34.5-2h0m-31.5 3.5h0m12-.5h0m14.5 .5h0m53 1.5h0m43-2h0m22 0h0m-55.5 5h0m-18-2.5h0m-67 2h0m131 5.5h0m-46 .5h0m-48.5-.5h0m-31.5 2.5h0m4.5 1.5h0m16-1.5h0m8 .5h0m26 0h0m6-1.5h0m3 0h0m7 2.5h0m34-.5h0m45.5 0h0m-62 3.5h0m-33.5-2h0m-28-.5h0m-19.5 2h0m1 2h0m14 1h0m2.5-.5h0m1.5 1h0m13-2.5h0m38.5 2.5h0m7.5-.5h0m63-1h0m4.5-.5h0m-6 4h0m-28.5-1.5h0m-5.5 1.5h0m-2-1h0m-80.5-.5h0m-6.5 2h0m-19.5-2h0m-3 4.5h0m21.5-1h0m31 1h0m64.5 0h0m38 2h0m-55 1h0m-58.5 1h0m-30.5 1h0m68-.5h0m64 1.5h0m-70.5 3h0m-.5 0h0m-6.5-.5h0m-10 0h0m-3.5 1h0m-34.5-1.5h0m-20.5 3h0m1.5-.5h0m141.5 3.5h0m-82 0h0m-1.5 .5h0m-13.5-1h0m-47.5 .5h0m43 3h0m66 1.5h0m35-2h0m2.5 3.5h0m-3 2h0m-8.5 0h0m-13-.5h0m-39.5-.5h0m-65 1h0m-5.5 0h0m30.5 2h0m12 1h0m26-1h0m12.5 .5h0m1.5-.5h0m8.5 0h0m50-1h0m12 5h0m-5-.5h0m-11-2h0m-10 .5h0m-66.5 .5h0m-8.5 0h0m-23 1h0m-17-1.5h0m-10.5 2h0m26.5 1h0m64.5 2h0m34-2.5h0m2 2.5h0m14.5 2h0m-16.5-1.5h0m-133.5 2.5h0m155.5 5h0m-62-1h0m-70 1h0m-8.5 .5h0m-7 2h0m10 0h0m25.5-1h0m18 .5h0m77 2h0m.5-.5h0m19-1.5h0m-16.5 4h0m-24 .5h0m-59.5 .5h0m-16-1.5h0m-37.5 .5h0m21.5 1.5h0m30.5 .5h0m8 1.5h0m15-.5h0m7 1h0m12-2.5h0m7.5 .5h0m1 0h0m6 1.5h0m-9.5 1h0m-3.5 0h0m-90.5 2h0m97 2.5h0m-31.5 3.5h0m-1 0h0m-2-1h0m-57.5 1.5h0m35 1.5h0m6-1h0m6 1.5h0m33 3h0m-20.5-.5h0m-14-1h0m-53 0h0m24 4.5h0m28 3.5h0m6 3.5h0m28.5 0h0m-28 2h0m-1 .5h0m-1-1.5h0m-17-.5h0m-35.5 .5h0m8.5 3h0m27.5-.5h0m13 0h0m12.5 1h0m-58 4h0m7.5 3h0m7-1h0m61.5 .5h0m-59 1.5h0m-26.5 3h0m15 1h0m11.5-.5h0m7.5 4.5h0m-16.5-2h0m-14.5 2.5h0m-6.5 2.5h0m-7 1h0m-14 10h0m2.5-.5h0m97 16h0m-27 36.5h0m-4.5 12h0m-2 0h0"/><path stroke="#720B80" d="M1304 59h0m-1.5 .5h0m8 1h0m1 1.5h0m4.5-2h0m8 4.5h0m-12.5 .5h0m-11 2.5h0m34 1.5h0m-36 4.5h0m43-.5h0m-17 4.5h0m-3 7h0m6 1h0m10-1h0m-6 2.5h0m-3.5 .5h0m11 7.5h0m-18.5-2h0m0 3.5h0m9 1.5h0m11.5 .5h0m-48.5 2h0m-5-1.5h0m-15 5.5h0m13.5-2h0m9-.5h0m33 2h0m1-.5h0m9.5 0h0m-83.5 2h0m8.5 4h0m33-.5h0m38 0h0m.5 1.5h0m33 0h0m-11 1h0m-19.5 1.5h0m-53-2h0m-3.5 0h0m-16.5 .5h0m-8 1.5h0m4 2.5h0m1.5-1.5h0m1 1.5h0m81.5 4h0m-82.5-1h0m86 2.5h0m26.5 3.5h0m-5 1h0m-45.5-2.5h0m-6.5 1h0m-13 1h0m-21-.5h0m-4.5 1h0m-10.5-2h0m-5-.5h0m13 5.5h0m17-.5h0m75.5 0h0m16.5 2h0m-9.5 1h0m-38-.5h0m-51.5 1h0m-8-2h0m-4.5 0h0m-17 3.5h0m5.5-.5h0m98.5 1.5h0m12.5-2h0m2 2h0m18-1h0m-26 3h0m-.5 .5h0m-13.5 0h0m-39 .5h0m-24-1h0m-8 1.5h0m-18-2.5h0m100.5 4h0m-44 3.5h0m-3-.5h0m-42 0h0m-2.5 1h0m43.5 1.5h0m27.5 1h0m16 1h0m29.5-.5h0m9-1h0m2.5 .5h0m-16.5 3.5h0m-133-1.5h0m18.5 2.5h0m130 3h0m-11 1h0m-24.5 1.5h0m-59-2.5h0m-.5 1h0m-14 1h0m-18.5 0h0m-13.5 1h0m7.5 .5h0m14 .5h0m15.5 .5h0m.5 .5h0m0-2h0m14 1.5h0m9.5-1h0m19.5 0h0m13.5 1h0m3-1.5h0m1.5 .5h0m7 1.5h0m-21 1h0m-43 2.5h0m54 3h0m23-2h0m-10.5 4h0m-10.5 0h0m-41 1h0m-13-1h0m-8 0h0m-22.5 3.5h0m12.5-2h0m.5 2h0m35.5 .5h0m41.5-2.5h0m22.5 2.5h0m-20.5 3h0m-5-.5h0m-54.5-1h0m-22 1h0m-17.5-2h0m-1.5 2h0m-5.5-2h0m15.5 5h0m15-1.5h0m16 2h0m5-.5h0m16-1h0m28.5 1.5h0m25.5-1h0m9-.5h0m9.5-1h0m-123.5 3.5h0m-10.5 5h0m67.5-1.5h0m39.5 .5h0m9-1h0m14.5 1h0m-27 1.5h0m-10 0h0m-23 2h0m-65.5-.5h0m-17.5 3.5h0m34.5 0h0m23.5-.5h0m34.5-1h0m1 1h0m25 2h0m-6.5 1.5h0m-17-2h0m-65.5 5.5h0m13.5-2.5h0m24 0h0m10 .5h0m1.5 2h0m46.5-.5h0m14.5 0h0m-13 1.5h0m-21 1h0m-20-.5h0m-74.5 .5h0m-14-1h0m-.5 3.5h0m9 0h0m8-1h0m3.5 1.5h0m36-1h0m93.5 .5h0m10 3h0m-9.5-.5h0m-38-.5h0m-84.5 .5h0m-26 1.5h0m5.5 2.5h0m1.5-1.5h0m65.5 1.5h0m2 .5h0m16.5-.5h0m4-1.5h0m35.5 4.5h0m-26 0h0m-10 0h0m-29.5-1h0m-31.5 0h0m-29.5 5h0m11.5 0h0m22-.5h0m47.5-1h0m44 .5h0m34 1.5h0m-6.5 2.5h0m-10-.5h0m-2.5-1h0m-77.5-1h0m-38 0h0m-7.5 0h0m-13 2.5h0m21 1.5h0m1 1.5h0m9-2h0m2 0h0m34.5-.5h0m9 2h0m58-1h0m12.5 0h0m-51 3.5h0m-20-.5h0m32 3h0m13 .5h0m45 1h0m-24 1h0m-79.5-.5h0m-38.5 .5h0m-11.5-.5h0m142 5h0m15.5 2h0m-61.5-1h0m-11.5 0h0m-.5 .5h0m-43.5 0h0m-54 1.5h0m15 2.5h0m8 .5h0m4.5-1.5h0m27-.5h0m97.5 0h0m-104 8h0m10.5-1h0m.5 1.5h0m53-.5h0m62 2.5h0m-46.5 0h0m-20.5-1.5h0m-85 0h0m-2.5 3h0m24 1h0m47-.5h0m3 .5h0m8 1h0m6 0h0m34.5 0h0m-34.5 1h0m-85.5 2.5h0m-11.5-2.5h0m35 5.5h0m11-2h0m2 1.5h0m32.5-1.5h0m86.5 .5h0m-17.5 4h0m-34.5 0h0m-24.5-1h0m-10.5 0h0m-45.5 .5h0m-6.5 .5h0m-28 2h0m98.5 0h0m3-.5h0m38.5 0h0m2 0h0m-6.5 4h0m-6.5 0h0m-8 .5h0m-2-.5h0m-2.5-.5h0m-1-1h0m-15 1h0m38.5 4.5h0m11-2h0m4.5 1h0m-70.5 2h0m-23 1.5h0m-26.5-1.5h0m-1.5 0h0m-2 1.5h0m-25.5-.5h0m2 3.5h0m9.5 .5h0m102 1h0m-72-.5h0m-3 1.5h0m-6 0h0m-17.5-.5h0m-6.5 2.5h0m57 2h0m11-1.5h0m1-1h0m-20.5 5h0m-25.5-1h0m-29.5 4.5h0m51.5-1.5h0m20 0h0m-14.5 4.5h0m-21.5-.5h0m-9 0h0m-5 0h0m-25 3h0m33.5-1.5h0m53.5 5h0m-86.5-1h0m-.5 4h0m1-.5h0m11-1h0m52.5-1h0m17 2.5h0m-4 1.5h0m-3.5 .5h0m-19 1h0m-.5-2h0m-23-.5h0m-32 3h0m77.5 0h0m4 1.5h0m9 2.5h0m-20 1.5h0m-33-1.5h0m-10-.5h0m-16 3h0m4 2h0m12-1h0m14-1.5h0m10.5 5h0m-9.5-2h0m-23.5 2h0m-18.5-1h0m5.5 3h0m13.5 0h0m18.5 .5h0m10.5-1h0m26.5 0h0m-38.5 4h0m-43 5h0m-8 0h0m7 7h0m53.5 54h0m-.5 5.5h0"/><path stroke="#8E137C" d="M1298.5 71.5h0m27 12.5h0m15.5 5h0m-16.5-2h0m-11.5 2h0m7 3.5h0m-29 1.5h0m-16.5 .5h0m14 2h0m47.5 2h0m-18.5 5h0m38 1.5h0m-27.5 2h0m-32-.5h0m-6 0h0m-26.5 4h0m24-1h0m85.5 0h0m-6.5 3.5h0m-8-1.5h0m-57 0h0m-2 1.5h0m-9-1h0m55 3h0m-7 2.5h0m-34.5-.5h0m-37.5 1h0m-2.5 4h0m27.5 0h0m93-1h0m-73 2.5h0m-39.5 1.5h0m-9 2h0m8 1h0m11.5-.5h0m7.5-1h0m92 2.5h0m-32 1h0m-52.5 3h0m75 0h0m1.5-1h0m13 2.5h0m4.5-1.5h0m2.5 1h0m-19 2.5h0m-11 1h0m-104-.5h0m15.5 2.5h0m113.5-1.5h0m-14.5 5.5h0m-95-.5h0m-1 0h0m112.5 6h0m-25-.5h0m-46.5 2h0m15-.5h0m-36 3.5h0m-6.5 1h0m-39-.5h0m14.5 2h0m18 2h0m4 .5h0m18.5-2.5h0m4 2h0m11-.5h0m28.5-1.5h0m13.5 4h0m-22.5 .5h0m-76 0h0m-14.5 2.5h0m44 1.5h0m46.5-2.5h0m18 2h0m15.5 2.5h0m-21.5 .5h0m-5.5-1h0m-35 1.5h0m41.5 3h0m7.5 0h0m12.5 3h0m-28-1.5h0m-32.5-1h0m-44 2.5h0m-76.5 .5h0m67 1.5h0m116 1h0m-12.5 2.5h0m-13 0h0m-79 2h0m13-.5h0m4 2h0m87.5-1.5h0m3 0h0m10-1h0m4 4.5h0m-28.5-1h0m-3.5 2h0m-27.5-1h0m-49-1.5h0m-21 1.5h0m0 2.5h0m55 0h0m45.5 .5h0m-34 4h0m-83 3h0m11.5-2h0m1.5 2h0m49-.5h0m28.5-2h0m.5 2.5h0m40.5-1h0m7.5-1.5h0m7 1.5h0m17.5 2h0m-69 0h0m-6 .5h0m-19-1h0m-1.5 1h0m-25.5-.5h0m-38.5 1h0m10.5 2.5h0m42.5 1.5h0m30-.5h0m62-.5h0m5 0h0m-1.5 1.5h0m-38 0h0m-42 0h0m-63.5 5.5h0m132.5 0h0m7-.5h0m16.5 3h0m-39.5 0h0m-15-.5h0m-43.5 3h0m4.5-.5h0m1 0h0m57.5 .5h0m9-.5h0m-73.5 3h0m-3.5-1h0m13.5 5h0m90.5-1.5h0m-32 3.5h0m-15.5-1h0m-51.5 1h0m-14 1h0m-46.5-2h0m50 4h0m43 1.5h0m80 0h0m-54 .5h0m-28.5 2.5h0m-73-1h0m12.5 3h0m93-.5h0m57.5 4h0m-115.5-1.5h0m-54.5 1h0m-7.5 3.5h0m23-1h0m124-1h0m31 .5h0m-8.5 2.5h0m-107.5 .5h0m-16 1h0m-16.5 2h0m10 0h0m41 .5h0m31.5 1h0m1.5-2h0m41.5 0h0m-54.5 5.5h0m-4.5-2.5h0m-28.5 1h0m-60 2.5h0m60 0h0m3.5 0h0m48 .5h0m35-1h0m24 3.5h0m-20 0h0m-39.5 1h0m-7.5-.5h0m-8.5 .5h0m-79.5 1h0m-14 .5h0m89.5 .5h0m42 1h0m20-1h0m-69.5 3h0m-76 5h0m14.5-1h0m133.5 0h0m-66 3.5h0m-6-1h0m-77.5-.5h0m19 3.5h0m102 0h0m-20 4h0m-52-1.5h0m-50.5 2h0m4.5 2h0m37-1h0m33 .5h0m28 1.5h0m-61.5 .5h0m-3.5 0h0m-17 4h0m100.5-.5h0m-41 6h0m-35 3.5h0m-13 3h0m22.5 .5h0m29.5 6.5h0m.5 1.5h0m-64 1.5h0m11 1.5h0m9 2h0m47.5 0h0m.5 2.5h0m-1.5 0h0m-16.5-1.5h0m-58 1.5h0m4 2h0m37.5-1h0m17.5 3h0m-78 7.5h0m19 5h0m-16 1.5h0m70 18.5h0m5.5 1h0m.5 1h0m-18.5 34h0m-6.5 3h0m-5 9.5h0"/><path stroke="#A81872" d="M1320.5 81h0m4.5 6h0m-55.5 11h0m59 2.5h0m18 4h0m-79 3h0m-102 9h0m.5-1.5h0m21.5 2h0m6 4h0m-1.5 3h0m198.5 3h0m-58 2.5h0m-149.5 6.5h0m-35 3.5h0m39.5-1.5h0m165 5h0m-194.5 9h0m5-.5h0m101.5 1.5h0m-111 1h0m234.5 3.5h0m-242.5 6.5h0m1 7.5h0m-32 4h0m279.5 2h0m-122.5 2h0m-146.5-1.5h0m229.5 4.5h0m-46 3h0m-183.5 3.5h0m186.5 3h0m42 3.5h0m-29.5 .5h0m17 4h0m61-1.5h0m5 3.5h0m-34 8.5h0m-77.5 3.5h0m-133-.5h0m-9.5 .5h0m154.5 9h0m18 1h0m93 9.5h0m-66.5 4.5h0m-216 4h0m148.5-.5h0m134.5-1.5h0m-43.5 7.5h0m34.5-1.5h0m-35.5 5h0m-51-.5h0m-12 3.5h0m54.5-1.5h0m1.5 5h0m32.5 2h0m-229.5 4.5h0m12 7.5h0m168.5 2.5h0m-224 4h0m15 1.5h0m62.5 6h0m117.5 4h0m-15 3h0m-172 1h0m20 1h0m138.5 8.5h0m-100.5 23.5h0m161 12.5h0m-2.5 2.5h0m-2 0h0m-8 0h0m1 2.5h0m-6.5 12h0m7-1h0m-64.5 3h0m-6 0h0m-7.5 4.5h0m7.5-2.5h0m3.5 4h0m-7.5-.5h0m-4 2h0m-3.5 0h0m-3.5 4.5h0m-6 4.5h0m1.5-2.5h0m6.5 2.5h0m2.5 .5h0m-3.5 2.5h0m-7 1h0m-5.5 3.5h0m-3 2h0m0 3h0"/><path stroke="#C11F64" d="M1201 95h0m9 5.5h0m-36 4h0m35 .5h0m-21 0h0m20 8.5h0m-51-2h0m39.5 3h0m3 0h0m103.5 1h0m-11 2.5h0m-87 1h0m-6.5 2h0m114 0h0m50.5 3.5h0m-170.5 3h0m6.5-1.5h0m151 2h0m7.5 1.5h0m-24.5 1.5h0m-56-.5h0m111 6.5h0m-237 3.5h0m35-1h0m183.5-1.5h0m-116.5 12h0m98 .5h0m26 1h0m-213 6.5h0m179 1.5h0m-64 1.5h0m74.5 3.5h0m-70.5 3h0m-34.5 2h0m35.5 8.5h0m-167-1h0m278 12h0m-33.5 1.5h0m-31.5 1h0m-203.5 0h0m-.5 0h0m155 1.5h0m64.5-1h0m-133 7.5h0m207 3h0m-210 1.5h0m82 8.5h0m43.5-.5h0m-12 2h0m-134.5 4h0m72.5 6h0m163 .5h0m-163 5.5h0m68 .5h0m5.5-.5h0m86 0h0m-242.5 6.5h0m256-1h0m-288.5 3.5h0m277.5 1.5h0m-102 4h0m-21.5 1h0m-149.5-.5h0m278 4h0m-11 4h0m18-.5h0m-126.5 8h0m63.5 1.5h0m-87.5 .5h0m-153 3.5h0m27.5-2h0m156 3.5h0m-47.5 5h0m43 2.5h0m-142.5-1h0m194 6h0m-213 1.5h0m8.5 2h0m72-.5h0m-2.5 2.5h0m-4.5 2h0m-32.5 1h0m157.5 9.5h0m-140.5 .5h0m-39.5 5.5h0m126.5 10.5h0m17.5-1h0m18.5 1h0m-136 5h0m150 21h0m2.5 12h0m-65 5.5h0m-3-.5h0m-7.5 1.5h0m-4.5 3.5h0m2.5-2.5h0m-3 4.5h0m-.5-.5h0m-2 1h0m4 1.5h0m2-.5h0m-1.5 4h0m-11-1h0m-6 4h0m10 1.5h0m-1.5 3h0m-3.5-1h0m-3 1h0m-4-1h0m2.5 4h0m70-2.5h0m-74.5 5.5h0m-.5-.5h0"/><path stroke="#D92A51" d="M1203.5 94.5h0m-12.5 1.5h0m142.5 1h0m-156.5 4.5h0m14.5 1.5h0m2 0h0m100 1h0m41 1.5h0m-128.5 4.5h0m1 3h0m-28.5-1h0m-6 0h0m6 2h0m193 1.5h0m-12 2h0m-184.5 3.5h0m197 6.5h0m11 1h0m-10 2.5h0m-181.5-1.5h0m-1 0h0m174 4h0m7.5 4h0m-196.5-2.5h0m-16 1.5h0m-16.5 10h0m36-.5h0m140.5-1.5h0m-168.5 3h0m-10.5 2h0m-19.5 0h0m40.5 2.5h0m12-2h0m-19.5 5h0m-10-.5h0m-13.5-1.5h0m222 7h0m-212 .5h0m-23-1.5h0m7 6.5h0m270 6.5h0m-14.5 1.5h0m-78 .5h0m79.5 1h0m-35 2h0m-21.5 4h0m-215.5 2.5h0m-6 5h0m302 2.5h0m-193 .5h0m75.5 8h0m20.5-1.5h0m-98.5 4.5h0m-.5 1h0m-2-1h0m-34 1.5h0m9.5 2h0m8-2h0m6 1h0m142 1h0m-60.5 3.5h0m-92 1h0m2 .5h0m151-1h0m-182 4h0m14 3.5h0m-23.5 4.5h0m280 2.5h0m-262 .5h0m-12 1h0m15 3.5h0m3.5-1.5h0m130 2.5h0m126 2h0m6 6h0m-276.5 3.5h0m169 0h0m103.5 2h0m-268-1h0m-8.5 5h0m12 0h0m.5-1h0m262 4h0m-280 .5h0m3 1h0m2.5 0h0m13-.5h0m-2 6h0m-29.5 6.5h0m0 .5h0m253.5 4.5h0m-209.5 4h0m-10-.5h0m-40 4.5h0m14-.5h0m45 1h0m1-.5h0m183 .5h0m6.5 0h0m-50.5 3h0m-179.5 1h0m20.5 0h0m101 .5h0m32 0h0m9.5 4.5h0m-115 0h0m-5-1.5h0m-1.5 .5h0m-37.5 0h0m39.5 4.5h0m84-2h0m-67 4h0m-10 4h0m7 0h0m95.5 3h0m-106-1.5h0m-6.5 1.5h0m-49 1h0m63 1h0m94 1h0m46-.5h0m-185.5 2.5h0m5.5 3h0m11.5 2h0m-6 2h0m-12 .5h0m37 .5h0m-18.5 5.5h0m19 6h0m159.5 17h0m-79 19h0m-15.5 7.5h0m1 1h0m4-.5h0m-1.5 2.5h0m-3.5 0h0m-1.5 0h0m-2 1h0m-3 0h0m-2 1.5h0m2.5-.5h0m1 2h0m3.5-2.5h0m1.5 5.5h0m-1-2.5h0m-5 4.5h0m-4.5 3.5h0m62.5 11h0"/><path stroke="#EA3F45" d="M1211.5 93.5h0m-8.5 .5h0m-3.5-1h0m-25 3.5h0m2 .5h0m21.5 0h0m9.5 4h0m-2.5 2.5h0m4.5 1h0m-2 2h0m-3.5 0h0m-12-1h0m-10 1h0m-8.5-1h0m-2 1.5h0m25 4.5h0m-22 1.5h0m-.5-1.5h0m-20.5-.5h0m9 3h0m13.5 2h0m23-.5h0m-7 4.5h0m6.5 1.5h0m1.5-1.5h0m.5 1.5h0m-32 6h0m20 .5h0m-6.5 3.5h0m-6.5-.5h0m-9-.5h0m-5.5-1.5h0m-5.5 2.5h0m10.5 1h0m18 0h0m7 1.5h0m13 1h0m-.5 0h0m-.5 1h0m-18.5 0h0m-34.5 1h0m11 2.5h0m16 .5h0m-34.5 1.5h0m-2.5 .5h0m1 2h0m31.5 2.5h0m21-2h0m-6 3.5h0m-22-.5h0m-16-.5h0m-8.5 2.5h0m-16 .5h0m8 0h0m21 .5h0m4 1h0m7.5-1h0m7.5 1h0m.5-1.5h0m0 2h0m-3.5 3.5h0m-1.5-1h0m-46.5-.5h0m12.5 4h0m-9 1.5h0m20 4.5h0m-29 1h0m-.5 3.5h0m19 .5h0m7 1h0m17-2h0m-23 4h0m-1.5-.5h0m-8 3.5h0m.5 .5h0m7 3.5h0m-5 0h0m-13 0h0m-6.5 2h0m1 1h0m0 .5h0m3-1h0m15.5-1.5h0m82.5 3.5h0m-88.5-.5h0m-18 4.5h0m103 3h0m1 3h0m2.5 7h0m-18 7h0m-13.5-.5h0m-14 4.5h0m251.5-1h0m-256 4h0m20 3.5h0m2.5-2h0m4 3h0m-17 .5h0m-21 1.5h0m-6.5 2.5h0m2-.5h0m6 1h0m24.5-1.5h0m1-.5h0m5.5 1.5h0m0 1.5h0m-13 2.5h0m-8-1h0m-16-.5h0m12 2h0m8.5 2.5h0m9.5-2.5h0m10 1.5h0m233.5 0h0m16.5 3.5h0m-274-2h0m-3.5 0h0m-18.5 4h0m35.5 2.5h0m-38 1h0m7 3h0m6.5 0h0m17.5-1h0m15.5 .5h0m251-.5h0m-260.5 3h0m-18.5 0h0m12.5 7h0m-7 .5h0m-17.5-1h0m-1.5 1.5h0m-8.5 2.5h0m12 .5h0m20-2h0m-.5 4.5h0m-19.5-.5h0m14.5 1.5h0m15.5 0h0m-42.5 7.5h0m22.5-1h0m8.5 3.5h0m-11.5 3h0m7.5-1h0m12 2.5h0m1.5-2.5h0m12 4.5h0m-12.5 .5h0m-5.5 0h0m-23.5 1h0m32.5 1h0m18.5 3.5h0m-12.5 0h0m-8 0h0m-2.5 0h0m-3-.5h0m-4-.5h0m-3.5 0h0m-15 .5h0m-3.5-1h0m-1.5 0h0m-8 3h0m11.5 1.5h0m2.5 0h0m14.5-.5h0m21.5 1h0m3-.5h0m-43 6.5h0m6.5-1h0m39.5 .5h0m3.5 .5h0m17.5 0h0m1-.5h0m-7.5 3h0m-2.5 .5h0m-2.5 .5h0m-15 2h0m21.5 1h0m2.5 2h0m-33.5 .5h0m36.5 4.5h0m-20 0h0m-28 .5h0m9 4h0m4.5-1h0m.5 .5h0m15-.5h0m-21 4h0m-9.5 .5h0m1 2h0m22 3h0m-2-1.5h0m-4 0h0m15.5 6h0m2 7h0m-8 0h0"/><path stroke="#F65E41" d="M1213 93h0m-5.5 2.5h0m-32.5 0h0m26 3.5h0m-30 4.5h0m22 1h0m-12.5 1.5h0m21.5 4h0m6 .5h0m0 2h0m-7-1.5h0m-16 2.5h0m-12.5-1.5h0m-2.5 3h0m31.5-.5h0m3-.5h0m2 .5h0m3.5 1h0m-8 2.5h0m0 1h0m-30.5-1.5h0m-13 1h0m-3 1h0m53.5 3.5h0m-43.5 5h0m26-1h0m5.5 4.5h0m-2.5 .5h0m-14 3.5h0m-4-.5h0m-2 2h0m-22.5 1h0m8 2.5h0m23.5 3h0m-26-2h0m-10 1h0m-21-1h0m36 2.5h0m4.5 1h0m2 1h0m17 3.5h0m-64-2h0m24.5 5h0m26-1h0m-6 4h0m-14-1.5h0m-27.5 3.5h0m42-1h0m1 2h0m0 .5h0m-2 0h0m-14 2h0m-9-2h0m-7.5 4.5h0m29.5-.5h0m-9.5 2h0m-7 2h0m-12 3.5h0m1-1h0m1 .5h0m10-2h0m-13.5 3h0m-6 2.5h0m-11.5-.5h0m0 .5h0m-.5 .5h0m7 .5h0m4.5-.5h0m16.5 1.5h0m-6.5 2h0m-11 0h0m-9 0h0m9.5 2.5h0m-12 3h0m-5.5 2h0m-3.5-1h0m16.5 3h0m-24.5 4.5h0m-3 6h0m-.5-2h0m0 1.5h0m112 6h0m-34.5 0h0m-15 9.5h0m23.5-1h0m1.5-1.5h0m1.5 4.5h0m-3.5 5.5h0m-4.5 1h0m-3-2h0m-29 2h0m11.5 3.5h0m-5 1h0m15 5h0m11 0h0m-18 1.5h0m-18.5 4h0m44.5 1h0m-4.5 1h0m-5.5-1h0m-34 2h0m-1-.5h0m10.5 1.5h0m12 1.5h0m2.5 .5h0m1-1.5h0m1 1.5h0m10-2h0m2 0h0m7.5 4.5h0m-13 0h0m-7 0h0m-27.5 0h0m10 4h0m7 0h0m28.5-2h0m.5 1h0m-9 3.5h0m-17.5 0h0m-3.5-.5h0m-11.5-1.5h0m21 3h0m9 3h0m-1 0h0m-9.5 1.5h0m-8.5 1h0m2.5 5h0m-.5 0h0m-26-.5h0m-1 0h0m44 5h0m-1.5 5h0m12.5 1h0m-1.5 1h0m-24.5 0h0m-.5 0h0m-17.5 0h0m44 7.5h0m-5.5 0h0m-21 0h0m-6 0h0m-1-2.5h0m-5 2h0m1.5 2h0m1-1h0m39 1h0m7 4h0m-1.5 0h0m-2.5-2h0m-1 1.5h0m-48.5 0h0m-8.5 3h0m3-.5h0m58 1.5h0m1.5-1h0m9-1h0m4-.5h0m-15.5 3.5h0m-14 .5h0m-21-1h0m-15.5 0h0m35.5 3.5h0m18.5 .5h0m-29 4h0m-25.5-1.5h0m40 4h0m9 2h0m-6.5 0h0m-24.5 3.5h0m15 .5h0m20 4h0m-6.5-.5h0m-5.5 0h0m-2 .5h0m-24-.5h0m18 2h0m20.5-1h0m-25.5 3h0m-1 1h0m11.5 5h0m16.5 8h0"/><path stroke="#FC7F4B" d="M1199.5 106h0m-54 2.5h0m54.5 4.5h0m-6-.5h0m-34.5 3.5h0m6-1h0m11.5-.5h0m25.5 4h0m-19.5 22h0m-38 5h0m7.5-.5h0m24.5 3.5h0m-11 .5h0m-1.5-1.5h0m-11 1h0m-1-1h0m-12.5 17h0m11-2h0m-5 3.5h0m-4 3h0m4 1.5h0m-17.5 1h0m-21 11h0m8.5-2.5h0m94.5 4h0m-100.5 0h0m77.5 17.5h0m-27.5 2.5h0m37.5 0h0m-20 4.5h0m11 4.5h0m-42 10.5h0m28.5 .5h0m5.5 0h0m-30.5 3h0m29 2h0m-19 3.5h0m-18.5-1.5h0m6 9h0m9.5 1.5h0m1 0h0m24 .5h0m-31 2h0m-2.5 10h0m17-1h0m1.5 3h0m-18.5 6.5h0m-14.5-1.5h0m0 4h0m40.5 4h0m-32 2.5h0m21-1h0m11 0h0m9.5 1h0m4 1.5h0m-29 1h0m17.5 2.5h0m-27 7.5h0m13-.5h0m13.5 0h0m21 2.5h0m-44.5-.5h0m-10 2h0m-13.5-2.5h0m71 8.5h0m-17.5-.5h0m-45.5 1h0m16 2h0m56 0h0m-12 1.5h0m-13 1.5h0m-33.5 9h0m8-1.5h0m8 1.5h0m36-.5h0m-31.5 4h0m6.5 4h0m20.5 4h0m-6.5 7h0"/><path stroke="#FDA361" d="M1205.5 97.5h0m4 1h0m-7.5 10h0m5.5 5h0m-3.5-.5h0m-42-1.5h0m15.5 11h0m22-2.5h0m-16.5 3.5h0m-13.5 1.5h0m22 6h0m-7 2.5h0m-1 3h0m-18.5 6h0m-39 3.5h0m51 0h0m-6.5 6h0m-23 5h0m13.5 1.5h0m13-.5h0m-26.5 5.5h0m-36.5 12.5h0m6.5-1h0m-18 15.5h0m112 5.5h0m-2.5 13.5h0m-40 0h0m-2 0h0m-21 13h0m30 9h0m4.5 6.5h0m-17 3h0m19 9.5h0m-31 1.5h0m-21 10.5h0m-6 8.5h0m18.5 7.5h0m18.5 0h0m14-2h0m13.5 0h0m1.5 8h0m20.5 3h0m-62.5 2h0m43.5 3h0m-40.5 .5h0m.5 3h0m17 0h0m21 5.5h0m7.5 3.5h0m1.5 2.5h0m1.5 5.5h0m-22 3h0m9.5 2h0"/><path stroke="#FEC77E" d="M1199 88h0m-8.5 46.5h0m-92 55.5h0m80 32.5h0m-21 21h0"/></g>
<text transform="translate(1167 146) scale(0.76 1)" font-size="12.8" text-anchor="middle" stroke="#000" stroke-width="0.3">Macrophage</text>
<text transform="translate(1209.3 199.2) scale(0.76 1)" font-size="12.8" text-anchor="middle" stroke="#000" stroke-width="0.3">B.cell</text>
<text transform="translate(1173 243) scale(0.76 1)" font-size="12.8" text-anchor="middle" stroke="#000" stroke-width="0.3">T.CD4</text>
<text transform="translate(1168.6 249.5) scale(0.76 1)" font-size="12.8" text-anchor="middle" stroke="#000" stroke-width="0.3">T.cell</text>
<text transform="translate(1163 289.8) scale(0.76 1)" font-size="12.8" text-anchor="middle" stroke="#000" stroke-width="0.3">T.CD8</text>
<text transform="translate(1166.5 293.4) scale(0.76 1)" font-size="12.8" text-anchor="middle" stroke="#000" stroke-width="0.3">NK</text>
<text transform="translate(1323.3 209) scale(0.76 1)" font-size="12.8" text-anchor="middle" stroke="#000" stroke-width="0.3">Malignant</text>
<text transform="translate(1257.6 377.7) scale(0.76 1)" font-size="12.8" text-anchor="middle" stroke="#000" stroke-width="0.3">Mastocyte</text>
<text transform="translate(1315.6 391.6) scale(0.76 1)" font-size="12.8" text-anchor="middle" stroke="#000" stroke-width="0.3">Endothelial</text>
<text transform="translate(1343.7 354.5) scale(0.76 1)" font-size="12.8" text-anchor="middle" stroke="#000" stroke-width="0.3">Fibroblast</text>
<text x="1546.5" y="25.8" font-family="Liberation Serif, serif" font-size="25.5" font-weight="bold">D</text>
<text x="1735.3" y="31.8" font-size="21.3" text-anchor="middle" font-weight="bold">GPRscore1</text>
<path d="M1589.5 45.5V350.3H1884.7" fill="none" stroke="#000" stroke-width="1.1"/>
<path d="M1585 83.3H1589.5" stroke="#000" stroke-width="1.1"/>
<text x="1582" y="88.7" font-size="15.5" text-anchor="end">0.000</text>
<path d="M1585 154.6H1589.5" stroke="#000" stroke-width="1.1"/>
<text x="1582" y="160.0" font-size="15.5" text-anchor="end">-0.025</text>
<path d="M1585 225.6H1589.5" stroke="#000" stroke-width="1.1"/>
<text x="1582" y="231.0" font-size="15.5" text-anchor="end">-0.050</text>
<path d="M1585 296.6H1589.5" stroke="#000" stroke-width="1.1"/>
<text x="1582" y="302.0" font-size="15.5" text-anchor="end">-0.075</text>
<path d="M1605.4 350.3V354.6" stroke="#000" stroke-width="1.1"/>
<text transform="translate(1605.7 359.8) rotate(-45)" font-size="16" text-anchor="end" dominant-baseline="hanging">NK</text>
<path d="M1631.7 350.3V354.6" stroke="#000" stroke-width="1.1"/>
<text transform="translate(1632.0 359.8) rotate(-45)" font-size="16" text-anchor="end" dominant-baseline="hanging">B.cell</text>
<path d="M1658.0 350.3V354.6" stroke="#000" stroke-width="1.1"/>
<text transform="translate(1658.3 359.8) rotate(-45)" font-size="16" text-anchor="end" dominant-baseline="hanging">T.CD8</text>
<path d="M1684.3 350.3V354.6" stroke="#000" stroke-width="1.1"/>
<text transform="translate(1684.6 359.8) rotate(-45)" font-size="16" text-anchor="end" dominant-baseline="hanging">Macrophage</text>
<path d="M1710.6 350.3V354.6" stroke="#000" stroke-width="1.1"/>
<text transform="translate(1710.9 359.8) rotate(-45)" font-size="16" text-anchor="end" dominant-baseline="hanging">T.cell</text>
<path d="M1736.9 350.3V354.6" stroke="#000" stroke-width="1.1"/>
<text transform="translate(1737.2 359.8) rotate(-45)" font-size="16" text-anchor="end" dominant-baseline="hanging">Mastocyte</text>
<path d="M1763.2 350.3V354.6" stroke="#000" stroke-width="1.1"/>
<text transform="translate(1763.5 359.8) rotate(-45)" font-size="16" text-anchor="end" dominant-baseline="hanging">T.CD4</text>
<path d="M1789.5 350.3V354.6" stroke="#000" stroke-width="1.1"/>
<text transform="translate(1789.8 359.8) rotate(-45)" font-size="16" text-anchor="end" dominant-baseline="hanging">Malignant</text>
<path d="M1815.8 350.3V354.6" stroke="#000" stroke-width="1.1"/>
<text transform="translate(1816.1 359.8) rotate(-45)" font-size="16" text-anchor="end" dominant-baseline="hanging">Endothelial</text>
<path d="M1842.1 350.3V354.6" stroke="#000" stroke-width="1.1"/>
<text transform="translate(1842.4 359.8) rotate(-45)" font-size="16" text-anchor="end" dominant-baseline="hanging">Fibroblast</text>
<path d="M1868.4 350.3V354.6" stroke="#000" stroke-width="1.1"/>
<text transform="translate(1868.7 359.8) rotate(-45)" font-size="16" text-anchor="end" dominant-baseline="hanging">NA</text>
<text x="1737" y="451" font-size="18.5" text-anchor="middle">Identity</text>
<rect x="1903.6" y="91.3" width="18.8" height="19.3" fill="#F8625C" stroke="#333" stroke-width="1"/>
<text x="1932.3" y="106.4" font-size="16.2">NK</text>
<rect x="1903.6" y="111.6" width="18.8" height="19.3" fill="#D98300" stroke="#333" stroke-width="1"/>
<text x="1932.3" y="126.7" font-size="16.2">B.cell</text>
<rect x="1903.6" y="131.9" width="18.8" height="19.3" fill="#9E9E00" stroke="#333" stroke-width="1"/>
<text x="1932.3" y="147.0" font-size="16.2">T.CD8</text>
<rect x="1903.6" y="152.2" width="18.8" height="19.3" fill="#2FAD00" stroke="#333" stroke-width="1"/>
<text x="1932.3" y="167.3" font-size="16.2">Macrophage</text>
<rect x="1903.6" y="172.5" width="18.8" height="19.3" fill="#13B66E" stroke="#333" stroke-width="1"/>
<text x="1932.3" y="187.6" font-size="16.2">T.cell</text>
<rect x="1903.6" y="192.8" width="18.8" height="19.3" fill="#14B5B8" stroke="#333" stroke-width="1"/>
<text x="1932.3" y="207.9" font-size="16.2">Mastocyte</text>
<rect x="1903.6" y="213.1" width="18.8" height="19.3" fill="#12A4F7" stroke="#333" stroke-width="1"/>
<text x="1932.3" y="228.2" font-size="16.2">T.CD4</text>
<rect x="1903.6" y="233.4" width="18.8" height="19.3" fill="#8580FC" stroke="#333" stroke-width="1"/>
<text x="1932.3" y="248.5" font-size="16.2">Malignant</text>
<rect x="1903.6" y="253.7" width="18.8" height="19.3" fill="#E24DF4" stroke="#333" stroke-width="1"/>
<text x="1932.3" y="268.8" font-size="16.2">Endothelial</text>
<rect x="1903.6" y="274.0" width="18.8" height="19.3" fill="#FB4DB0" stroke="#333" stroke-width="1"/>
<text x="1932.3" y="289.1" font-size="16.2">Fibroblast</text>
<rect x="1903.6" y="294.3" width="18.8" height="19.3" fill="#666666" stroke="#333" stroke-width="1"/>
<text x="1932.3" y="309.4" font-size="16.2">NA</text>
<path d="M1605.7 95.6L1605.8 96.7L1606.1 97.8L1606.3 98.9L1606.6 100L1606.9 102.5L1607.3 105L1607.8 107.5L1608.2 110L1608.7 112.5L1609.2 115L1609.7 117.5L1610.2 120L1610.7 122.5L1611.3 125L1611.8 127.5L1612.4 130L1613 132.5L1613.7 135L1614.3 137.5L1614.9 140L1615.4 142.5L1615.9 145L1616.4 147.5L1616.7 150L1617 152L1617.1 154L1617.2 156L1617.2 158L1617.1 160L1616.9 162L1616.6 164L1616.2 166L1615.7 168L1615.2 170L1614.6 172L1613.9 174L1613.2 176L1612.4 178L1611.6 180L1610.9 182L1610.2 184L1609.5 186L1608.9 188L1608.4 190L1608 192L1607.7 194L1607.4 196L1607.2 198L1607 201L1606.9 204L1606.8 207L1606.6 210L1606.4 214.8L1606.2 219.5L1605.9 224.2L1605.8 229L1605 229L1604.9 224.2L1604.6 219.5L1604.4 214.8L1604.2 210L1604.1 207L1603.9 204L1603.8 201L1603.6 198L1603.4 196L1603.1 194L1602.8 192L1602.4 190L1601.9 188L1601.3 186L1600.6 184L1599.9 182L1599.2 180L1598.4 178L1597.6 176L1596.9 174L1596.2 172L1595.6 170L1595.1 168L1594.6 166L1594.2 164L1593.9 162L1593.7 160L1593.6 158L1593.6 156L1593.7 154L1593.8 152L1594.1 150L1594.4 147.5L1594.9 145L1595.4 142.5L1595.9 140L1596.5 137.5L1597.1 135L1597.8 132.5L1598.4 130L1599 127.5L1599.5 125L1600.1 122.5L1600.6 120L1601.1 117.5L1601.6 115L1602.1 112.5L1602.6 110L1603 107.5L1603.5 105L1603.9 102.5L1604.2 100L1604.5 98.9L1604.8 97.8L1605 96.7L1605.1 95.6Z" fill="#F8625C" stroke="#1a1a1a" stroke-width="0.9"/>
<path d="M1633.2 98.4L1633.4 98.8L1633.7 99.2L1634.1 99.6L1634.7 100L1635.4 102.5L1636.4 105L1637.3 107.5L1638.2 110L1639 112.5L1639.8 115L1640.5 117.5L1641.2 120L1641.8 122.5L1642.4 125L1642.8 127.5L1643.2 130L1643.5 132.5L1643.6 135L1643.7 137.5L1643.7 140L1643.7 142L1643.6 144L1643.5 146L1643.2 148L1642.8 150L1642.4 152L1641.8 154L1641.2 156L1640.5 158L1639.7 160L1638.9 162L1638.2 164L1637.6 166L1637.1 168L1636.6 170L1636.2 172L1635.8 174.5L1635.5 177L1635.2 179.5L1634.9 182L1634.7 185.2L1634.5 188.5L1634.4 191.8L1634.2 195L1633.9 197.8L1633.7 200.7L1633.4 203.6L1633.2 206.4L1630.2 206.4L1630 203.6L1629.7 200.7L1629.5 197.8L1629.2 195L1629 191.8L1628.9 188.5L1628.7 185.2L1628.5 182L1628.2 179.5L1627.9 177L1627.6 174.5L1627.2 172L1626.8 170L1626.3 168L1625.8 166L1625.2 164L1624.5 162L1623.7 160L1622.9 158L1622.2 156L1621.6 154L1621 152L1620.6 150L1620.2 148L1619.9 146L1619.8 144L1619.7 142L1619.7 140L1619.7 137.5L1619.8 135L1619.9 132.5L1620.2 130L1620.6 127.5L1621 125L1621.6 122.5L1622.2 120L1622.9 117.5L1623.6 115L1624.4 112.5L1625.2 110L1626.1 107.5L1627 105L1628 102.5L1628.7 100L1629.3 99.6L1629.7 99.2L1630 98.8L1630.2 98.4Z" fill="#D98300" stroke="#1a1a1a" stroke-width="0.9"/>
<path d="M1658.3 65L1658.3 70L1658.4 75L1658.5 80L1658.6 85L1658.7 87.5L1658.9 90L1659.1 92.5L1659.5 95L1660 97.5L1660.6 100L1661.3 102.5L1662 105L1662.7 107.5L1663.5 110L1664.3 112.5L1665 115L1665.6 117.5L1666.1 120L1666.6 122.5L1667 125L1667.4 128.8L1667.7 132.5L1667.9 136.2L1668 140L1667.9 143.8L1667.7 147.5L1667.4 151.2L1667 155L1666.6 157.5L1666.1 160L1665.6 162.5L1665 165L1664.4 167.5L1663.8 170L1663.1 172.5L1662.5 175L1661.8 177.5L1661.2 180L1660.5 182.5L1660 185L1659.6 187.5L1659.4 190L1659.2 192.5L1659 195L1658.8 202.2L1658.6 209.5L1658.4 216.8L1658.3 224L1657.7 224L1657.6 216.8L1657.4 209.5L1657.2 202.2L1657 195L1656.8 192.5L1656.6 190L1656.4 187.5L1656 185L1655.5 182.5L1654.8 180L1654.2 177.5L1653.5 175L1652.9 172.5L1652.2 170L1651.6 167.5L1651 165L1650.4 162.5L1649.9 160L1649.4 157.5L1649 155L1648.6 151.2L1648.3 147.5L1648.1 143.8L1648 140L1648.1 136.2L1648.3 132.5L1648.6 128.8L1649 125L1649.4 122.5L1649.9 120L1650.4 117.5L1651 115L1651.7 112.5L1652.5 110L1653.3 107.5L1654 105L1654.7 102.5L1655.4 100L1656 97.5L1656.5 95L1656.9 92.5L1657.1 90L1657.3 87.5L1657.4 85L1657.5 80L1657.6 75L1657.7 70L1657.7 65Z" fill="#9E9E00" stroke="#1a1a1a" stroke-width="0.9"/>
<path d="M1684.6 73L1684.7 77.2L1684.9 81.5L1685.1 85.8L1685.3 90L1685.6 92.5L1685.9 95L1686.3 97.5L1686.8 100L1687.4 102.5L1688.2 105L1689 107.5L1689.8 110L1690.6 112.5L1691.4 115L1692.1 117.5L1692.8 120L1693.4 122.5L1694 125L1694.4 127.5L1694.8 130L1695.1 132.5L1695.2 135L1695.3 137.5L1695.3 140L1695.3 142.5L1695.2 145L1695.1 147.5L1694.8 150L1694.4 152.5L1694 155L1693.4 157.5L1692.8 160L1692.1 162.5L1691.3 165L1690.5 167.5L1689.8 170L1689.1 172.5L1688.5 175L1687.8 177.5L1687.3 180L1686.8 182.5L1686.4 185L1686.1 187.5L1685.8 190L1685.6 192.5L1685.4 195L1685.2 197.5L1685.1 200L1684.9 205.8L1684.8 211.5L1684.7 217.2L1684.6 223L1684 223L1683.9 217.2L1683.8 211.5L1683.7 205.8L1683.5 200L1683.4 197.5L1683.2 195L1683 192.5L1682.8 190L1682.5 187.5L1682.2 185L1681.8 182.5L1681.3 180L1680.8 177.5L1680.1 175L1679.5 172.5L1678.8 170L1678.1 167.5L1677.3 165L1676.5 162.5L1675.8 160L1675.2 157.5L1674.6 155L1674.2 152.5L1673.8 150L1673.5 147.5L1673.4 145L1673.3 142.5L1673.3 140L1673.3 137.5L1673.4 135L1673.5 132.5L1673.8 130L1674.2 127.5L1674.6 125L1675.2 122.5L1675.8 120L1676.5 117.5L1677.2 115L1678 112.5L1678.8 110L1679.6 107.5L1680.4 105L1681.2 102.5L1681.8 100L1682.3 97.5L1682.7 95L1683 92.5L1683.3 90L1683.5 85.8L1683.7 81.5L1683.9 77.2L1684 73Z" fill="#2FAD00" stroke="#1a1a1a" stroke-width="0.9"/>
<path d="M1710.9 69L1711.1 71.8L1711.3 74.5L1711.7 77.2L1712.1 80L1712.6 82.5L1713.2 85L1713.9 87.5L1714.6 90L1715.4 92.5L1716.3 95L1717.2 97.5L1718.1 100L1718.9 102.5L1719.7 105L1720.5 107.5L1721.1 110L1721.6 112.5L1722 115L1722.4 117.5L1722.6 120L1722.7 122.5L1722.8 125L1722.7 127.5L1722.6 130L1722.4 132.5L1722 135L1721.6 137.5L1721.1 140L1720.5 142.5L1719.7 145L1718.9 147.5L1718.1 150L1717.2 152.5L1716.3 155L1715.4 157.5L1714.6 160L1714 162.5L1713.4 165L1713 167.5L1712.6 170L1712.3 172.5L1712 175L1711.8 177.5L1711.6 180L1711.4 195L1711.2 210L1711.1 225L1711 240L1710.2 240L1710.1 225L1710 210L1709.8 195L1709.6 180L1709.4 177.5L1709.2 175L1708.9 172.5L1708.6 170L1708.2 167.5L1707.8 165L1707.2 162.5L1706.6 160L1705.8 157.5L1704.9 155L1704 152.5L1703.1 150L1702.3 147.5L1701.5 145L1700.7 142.5L1700.1 140L1699.6 137.5L1699.2 135L1698.8 132.5L1698.6 130L1698.5 127.5L1698.4 125L1698.5 122.5L1698.6 120L1698.8 117.5L1699.2 115L1699.6 112.5L1700.1 110L1700.7 107.5L1701.5 105L1702.3 102.5L1703.1 100L1704 97.5L1704.9 95L1705.8 92.5L1706.6 90L1707.3 87.5L1708 85L1708.6 82.5L1709.1 80L1709.5 77.2L1709.9 74.5L1710.1 71.8L1710.3 69Z" fill="#13B66E" stroke="#1a1a1a" stroke-width="0.9"/>
<path d="M1737.4 142.6L1737.8 143.4L1738.4 144.3L1739.1 145.2L1739.9 146L1740.8 148.2L1741.8 150.5L1742.9 152.8L1743.9 155L1744.9 157.5L1745.8 160L1746.7 162.5L1747.4 165L1748 167.5L1748.4 170L1748.7 172.5L1748.9 175L1749 176.8L1749 178.5L1748.9 180.2L1748.7 182L1748.4 184L1748 186L1747.5 188L1746.9 190L1746.2 192L1745.5 194L1744.7 196L1743.9 198L1743.1 200L1742.3 202L1741.6 204L1740.9 206L1740.3 207.8L1739.8 209.5L1739.3 211.2L1738.9 213L1738.5 215.2L1738.2 217.3L1737.9 219.5L1737.7 221.7L1736.1 221.7L1735.9 219.5L1735.6 217.3L1735.3 215.2L1734.9 213L1734.5 211.2L1734 209.5L1733.5 207.8L1732.9 206L1732.2 204L1731.5 202L1730.7 200L1729.9 198L1729.1 196L1728.3 194L1727.6 192L1726.9 190L1726.3 188L1725.8 186L1725.4 184L1725.1 182L1724.9 180.2L1724.8 178.5L1724.8 176.8L1724.9 175L1725.1 172.5L1725.4 170L1725.8 167.5L1726.4 165L1727.1 162.5L1728 160L1728.9 157.5L1729.9 155L1730.9 152.8L1732 150.5L1733 148.2L1733.9 146L1734.7 145.2L1735.4 144.3L1736 143.4L1736.4 142.6Z" fill="#14B5B8" stroke="#1a1a1a" stroke-width="0.9"/>
<path d="M1763.5 72L1763.7 74L1763.9 76L1764.3 78L1764.7 80L1765.2 82.5L1765.9 85L1766.5 87.5L1767.2 90L1767.8 92.5L1768.5 95L1769.1 97.5L1769.7 100L1770.3 102.5L1771 105L1771.6 107.5L1772.2 110L1772.8 112.5L1773.3 115L1773.8 117.5L1774.2 120L1774.6 123L1774.9 126L1775.1 129L1775.2 132L1775.1 134.5L1775 137L1774.6 139.5L1774.2 142L1773.6 144.5L1772.8 147L1772 149.5L1771.2 152L1770.4 154.5L1769.6 157L1768.9 159.5L1768.2 162L1767.6 164.5L1767.1 167L1766.6 169.5L1766.2 172L1765.8 174.5L1765.4 177L1765 179.5L1764.7 182L1764.5 185.2L1764.4 188.5L1764.3 191.8L1764.2 195L1764 197.5L1763.9 200L1763.7 202.5L1763.6 205L1762.8 205L1762.7 202.5L1762.5 200L1762.4 197.5L1762.2 195L1762.1 191.8L1762 188.5L1761.9 185.2L1761.7 182L1761.4 179.5L1761 177L1760.6 174.5L1760.2 172L1759.8 169.5L1759.3 167L1758.8 164.5L1758.2 162L1757.5 159.5L1756.8 157L1756 154.5L1755.2 152L1754.4 149.5L1753.6 147L1752.8 144.5L1752.2 142L1751.8 139.5L1751.5 137L1751.3 134.5L1751.2 132L1751.3 129L1751.5 126L1751.8 123L1752.2 120L1752.6 117.5L1753.1 115L1753.6 112.5L1754.2 110L1754.8 107.5L1755.4 105L1756.1 102.5L1756.7 100L1757.3 97.5L1758 95L1758.6 92.5L1759.2 90L1759.9 87.5L1760.5 85L1761.2 82.5L1761.7 80L1762.1 78L1762.5 76L1762.7 74L1762.9 72Z" fill="#12A4F7" stroke="#1a1a1a" stroke-width="0.9"/>
<path d="M1789.7 134L1789.7 136.8L1789.7 139.5L1789.8 142.2L1789.9 145L1790 147.5L1790.2 150L1790.5 152.5L1791 155L1791.9 157.5L1793.1 160L1794.3 162.5L1795.5 165L1796.6 167.5L1797.7 170L1798.7 172.5L1799.5 175L1800.1 178.8L1800.5 182.5L1800.8 186.2L1801 190L1801.2 195L1801.3 200L1801.4 205L1801.5 210L1801.5 217.5L1801.6 225L1801.5 232.5L1801.5 240L1801.4 246.2L1801.3 252.5L1801.2 258.8L1801 265L1800.7 268.8L1800.4 272.5L1800 276.2L1799.5 280L1798.9 283L1798.1 286L1797.3 289L1796.5 292L1795.7 294L1794.9 296L1794.2 298L1793.5 300L1792.9 302L1792.4 304L1791.9 306L1791.5 308L1791.1 309.8L1790.8 311.5L1790.5 313.2L1790.3 315L1790.1 320.2L1789.9 325.5L1789.8 330.8L1789.7 336L1789.3 336L1789.2 330.8L1789.1 325.5L1788.9 320.2L1788.7 315L1788.5 313.2L1788.2 311.5L1787.9 309.8L1787.5 308L1787.1 306L1786.6 304L1786.1 302L1785.5 300L1784.8 298L1784.1 296L1783.3 294L1782.5 292L1781.7 289L1780.9 286L1780.1 283L1779.5 280L1779 276.2L1778.6 272.5L1778.3 268.8L1778 265L1777.8 258.8L1777.7 252.5L1777.6 246.2L1777.5 240L1777.5 232.5L1777.4 225L1777.5 217.5L1777.5 210L1777.6 205L1777.7 200L1777.8 195L1778 190L1778.2 186.2L1778.5 182.5L1778.9 178.8L1779.5 175L1780.3 172.5L1781.3 170L1782.4 167.5L1783.5 165L1784.7 162.5L1785.9 160L1787.1 157.5L1788 155L1788.5 152.5L1788.8 150L1789 147.5L1789.1 145L1789.2 142.2L1789.3 139.5L1789.3 136.8L1789.3 134Z" fill="#8580FC" stroke="#1a1a1a" stroke-width="0.9"/>
<path d="M1817.6 120.4L1817.7 121.6L1817.8 122.7L1817.9 123.8L1818 125L1818.1 127.5L1818.3 130L1818.5 132.5L1818.8 135L1819.2 137.5L1819.7 140L1820.2 142.5L1820.8 145L1821.5 147.5L1822.3 150L1823.1 152.5L1823.8 155L1824.5 157.5L1825.2 160L1825.8 162.5L1826.3 165L1826.8 168.2L1827.1 171.5L1827.4 174.8L1827.6 178L1827.6 181L1827.5 184L1827.4 187L1827.1 190L1826.8 192.5L1826.3 195L1825.8 197.5L1825.3 200L1824.7 202.5L1824.1 205L1823.4 207.5L1822.8 210L1822.3 212.5L1821.7 215L1821.3 217.5L1820.8 220L1820.4 223L1820 226L1819.6 229L1819.3 232L1819 235.2L1818.6 238.5L1818.3 241.8L1818 245L1817.6 249.7L1817.2 254.3L1816.9 259L1816.6 263.6L1815 263.6L1814.7 259L1814.4 254.3L1814 249.7L1813.6 245L1813.3 241.8L1813 238.5L1812.6 235.2L1812.3 232L1812 229L1811.6 226L1811.2 223L1810.8 220L1810.3 217.5L1809.9 215L1809.3 212.5L1808.8 210L1808.2 207.5L1807.5 205L1806.9 202.5L1806.3 200L1805.8 197.5L1805.3 195L1804.8 192.5L1804.5 190L1804.2 187L1804.1 184L1804 181L1804 178L1804.2 174.8L1804.5 171.5L1804.8 168.2L1805.3 165L1805.8 162.5L1806.4 160L1807.1 157.5L1807.8 155L1808.5 152.5L1809.3 150L1810.1 147.5L1810.8 145L1811.4 142.5L1811.9 140L1812.4 137.5L1812.8 135L1813.1 132.5L1813.3 130L1813.5 127.5L1813.6 125L1813.7 123.8L1813.9 122.7L1813.9 121.6L1814 120.4Z" fill="#E24DF4" stroke="#1a1a1a" stroke-width="0.9"/>
<path d="M1851.6 150.5L1851.8 152.9L1852.1 155.2L1852.3 157.6L1852.6 160L1852.8 163.8L1853 167.5L1853.2 171.2L1853.3 175L1853.4 178.2L1853.5 181.5L1853.5 184.8L1853.5 188L1853.4 191L1853.2 194L1853 197L1852.6 200L1852.1 203L1851.5 206L1850.8 209L1850.1 212L1849.5 214.5L1848.9 217L1848.2 219.5L1847.6 222L1847 224.5L1846.3 227L1845.7 229.5L1845.1 232L1844.6 234.5L1844.1 237L1843.7 239.5L1843.3 242L1843 245.2L1842.8 248.5L1842.7 251.8L1842.6 255L1842.5 261L1842.5 267L1842.5 273L1842.5 279L1841.7 279L1841.7 273L1841.7 267L1841.7 261L1841.6 255L1841.5 251.8L1841.4 248.5L1841.2 245.2L1840.9 242L1840.5 239.5L1840.1 237L1839.6 234.5L1839.1 232L1838.5 229.5L1837.9 227L1837.2 224.5L1836.6 222L1836 219.5L1835.4 217L1834.7 214.5L1834.1 212L1833.4 209L1832.8 206L1832.1 203L1831.6 200L1831.2 197L1831 194L1830.8 191L1830.7 188L1830.7 184.8L1830.7 181.5L1830.8 178.2L1830.9 175L1831 171.2L1831.2 167.5L1831.4 163.8L1831.6 160L1831.9 157.6L1832.1 155.2L1832.4 152.9L1832.6 150.5Z" fill="#FB4DB0" stroke="#1a1a1a" stroke-width="0.9"/>
<path d="M1868.7 58.7L1868.9 62.8L1869.1 66.8L1869.4 70.9L1869.6 75L1869.8 78.8L1870 82.5L1870.2 86.2L1870.4 90L1870.6 93.8L1870.9 97.5L1871.1 101.2L1871.4 105L1871.7 108.8L1872.1 112.5L1872.5 116.2L1872.9 120L1873.3 125L1873.7 130L1874 135L1874.4 140L1874.8 145L1875.2 150L1875.5 155L1875.9 160L1876.3 165L1876.7 170L1877 175L1877.4 180L1877.8 185L1878.2 190L1878.6 195L1878.9 200L1879.2 205L1879.5 210L1879.7 215L1879.9 220L1880.1 224L1880.2 228L1880.4 232L1880.4 236L1880.4 240L1880.3 244L1880.1 248L1879.9 252L1879.6 256L1879.3 260L1878.9 264L1878.4 268L1877.8 271.5L1877.2 275L1876.5 278.5L1875.9 282L1875.3 285L1874.7 288L1874 291L1873.4 294L1872.8 296.2L1872.1 298.5L1871.5 300.8L1870.9 303L1870.4 304.9L1869.9 306.8L1869.5 308.7L1869.2 310.6L1867.6 310.6L1867.3 308.7L1866.9 306.8L1866.4 304.9L1865.9 303L1865.3 300.8L1864.7 298.5L1864 296.2L1863.4 294L1862.8 291L1862.2 288L1861.5 285L1860.9 282L1860.3 278.5L1859.6 275L1859 271.5L1858.4 268L1857.9 264L1857.5 260L1857.2 256L1856.9 252L1856.7 248L1856.5 244L1856.4 240L1856.4 236L1856.4 232L1856.6 228L1856.7 224L1856.9 220L1857.1 215L1857.3 210L1857.6 205L1857.9 200L1858.2 195L1858.6 190L1859 185L1859.4 180L1859.8 175L1860.2 170L1860.5 165L1860.9 160L1861.3 155L1861.7 150L1862 145L1862.4 140L1862.8 135L1863.2 130L1863.5 125L1863.9 120L1864.3 116.2L1864.7 112.5L1865.1 108.8L1865.4 105L1865.7 101.2L1865.9 97.5L1866.2 93.8L1866.4 90L1866.6 86.2L1866.8 82.5L1867 78.8L1867.2 75L1867.4 70.9L1867.7 66.8L1867.9 62.8L1868.1 58.7Z" fill="#666666" stroke="#1a1a1a" stroke-width="0.9"/>
<path d="M1797.9 182L1798.7 185.3L1798.5 188.6L1801.1 191.9L1801 195.2L1801.3 198.5L1800.9 201.8L1801 205.1L1801.1 208.4L1800.3 211.7L1801 215L1800.4 218.3L1800.5 221.6L1800.5 224.9L1801.1 228.2L1800.3 231.5L1801.3 234.8L1800.4 238.1L1800.1 241.4L1800.4 244.7L1800.1 248L1801.1 251.3L1800.1 254.6L1801 257.9L1800.9 261.2L1801.1 264.5L1800.7 267.8L1800.6 271.1L1800.9 274.4L1801.3 277.7L1797.8 281L1798.9 284.3L1798.9 287.6L1797.9 290.9L1780.5 290.9L1780.1 287.6L1780.9 284.3L1780.6 281L1778.1 277.7L1778.6 274.4L1778.1 271.1L1778.9 267.8L1778.7 264.5L1778.5 261.2L1777.8 257.9L1777.8 254.6L1778.5 251.3L1778.2 248L1778.9 244.7L1778.3 241.4L1778.9 238.1L1778.7 234.8L1778.3 231.5L1777.8 228.2L1777.8 224.9L1778.1 221.6L1778.3 218.3L1778.1 215L1778.4 211.7L1777.9 208.4L1778.3 205.1L1777.9 201.8L1778.8 198.5L1778.1 195.2L1777.8 191.9L1780.2 188.6L1780 185.3L1780.6 182Z" fill="#000"/>
<path d="M1658.5 64h0m-8.5-1h0m20 5.5h0m197 0h0m6 .5h0m-215.5 .5h0m-3.5 2.5h0m1.5 1h0m20 .5h0m20.5 .5h0m79-1.5h0m-1 3h0m-.5 .5h0m-2-1h0m-5 2.5h0m-7.5-2h0m-80.5-.5h0m-16 3h0m7 1h0m5 0h0m2 .5h0m14-.5h0m15.5 0h0m5.5 1h0m3-1.5h0m42 1h0m6.5-1.5h0m10 1h0m1.5-1h0m86 2h0m-85.5 1h0m-2.5 2.5h0m-15.5-1.5h0m-52-.5h0m-4.5-.5h0m-16.5 1h0m-1.5 .5h0m-8.5 1h0m-7-2.5h0m-3 2h0m-8-.5h0m-1 .5h0m-5.5-.5h0m7 2h0m2.5 1h0m8 1h0m6-.5h0m1-2h0m3 1h0m10.5 .5h0m3.5 .5h0m4.5-2h0m0 1h0m7 1h0m14 .5h0m36 0h0m12.5-1.5h0m2 0h0m8 .5h0m.5 0h0m81.5 1.5h0m-85.5 2h0m-3.5-1.5h0m-3 0h0m-.5 2h0m-8.5-2h0m-1 0h0m-32.5 1h0m-3.5 0h0m-1 1h0m-2-.5h0m-2-1.5h0m-23 1h0m-4-1h0m0 2h0m0-2.5h0m-2 1h0m-2 1.5h0m-3.5 0h0m-6-1h0m-3.5 .5h0m-1 0h0m-10-.5h0m-1.5-1h0m-6.5-.5h0m-5.5 0h0m2.5 5.5h0m2.5 0h0m13.5-1h0m1.5 1h0m1.5-.5h0m1-.5h0m7-.5h0m4.5 1h0m1.5-1.5h0m5 1.5h0m3.5 .5h0m1-1h0m1.5 1h0m4.5-2.5h0m3.5 2.5h0m2.5-1h0m2-1.5h0m12 1h0m36-.5h0m1.5 .5h0m3.5 1h0m4 .5h0m2.5-1h0m107 1.5h0m-100.5 2.5h0m-7 0h0m-5-.5h0m-.5-.5h0m-3.5 .5h0m-2.5-2h0m-1 2.5h0m-35.5 0h0m-4-2.5h0m-3.5 2.5h0m-5.5-1h0m-8.5 .5h0m-1.5-1.5h0m-1.5 2h0m-.5-2h0m0 1.5h0m-.5-1.5h0m0 1h0m-4 1h0m-1-2.5h0m-3.5 0h0m-2 .5h0m-1.5-.5h0m0 1h0m-1.5-1h0m-7.5 1h0m-.5 1.5h0m-11 0h0m-1-1h0m-.5 .5h0m-5.5-1h0m-54.5 .5h0m25.5 1.5h0m24.5 0h0m6 2h0m.5-1.5h0m1 1h0m2.5 0h0m5.5 1h0m2-2h0m4.5 1h0m.5 0h0m1.5-1h0m2.5-.5h0m1 .5h0m6 2h0m3-2h0m.5 1.5h0m0-1h0m1-1h0m2 1h0m3 1.5h0m1-2.5h0m0 1h0m1.5 1h0m.5 .5h0m4.5-1.5h0m3 1h0m3.5-1h0m1 1.5h0m2 0h0m0-1.5h0m2.5 1.5h0m.5 0h0m1 0h0m8-2h0m1 1.5h0m2-.5h0m30.5 .5h0m3.5-1h0m.5 1.5h0m1.5 0h0m2.5-1h0m6 1h0m3.5-2.5h0m2.5 1h0m102.5 4.5h0m-10-2.5h0m-2 1h0m-86.5 1h0m-13.5-1h0m0 .5h0m-.5-.5h0m-4.5-1h0m-5.5 1.5h0m-.5 .5h0m-30.5-1h0m-1.5 1.5h0m-1.5-.5h0m-2-1h0m-4.5 .5h0m-9 .5h0m0-1.5h0m-5.5 0h0m-1 1.5h0m-1-1h0m-2.5 1h0m0-1.5h0m-4.5 2h0m-1 0h0m-.5-.5h0m-3-1h0m-3 0h0m-1.5-.5h0m-3.5 2h0m-1-1.5h0m-2 1h0m-3 0h0m-1-1h0m-2-1h0m-1.5 0h0m-4.5 1h0m-1-1h0m-.5 1h0m-3 1h0m-.5-2h0m0 2h0m-1.5 .5h0m-1 0h0m0-.5h0m-1-1h0m-5.5 .5h0m-49 3h0m2.5 .5h0m26-1.5h0m20.5 1.5h0m1 0h0m1.5 .5h0m1.5-.5h0m0-1.5h0m.5 1.5h0m0-.5h0m.5-1.5h0m0 2h0m1.5 0h0m1 0h0m0 .5h0m0-2.5h0m1.5 2.5h0m0-2.5h0m.5 0h0m1 2.5h0m1-.5h0m0-1.5h0m.5 1.5h0m1-1.5h0m2 2h0m1-2h0m0 1.5h0m.5 .5h0m.5 0h0m1-1h0m1 .5h0m2 0h0m0-1h0m1.5 0h0m1.5 1h0m2.5-2h0m.5 2h0m.5 0h0m.5-.5h0m1-1h0m.5-.5h0m0 2h0m0 .5h0m1-1h0m2.5-.5h0m0 .5h0m.5-1.5h0m1 .5h0m.5 2h0m0-2.5h0m.5 1h0m.5 .5h0m1.5 .5h0m5-1h0m.5 0h0m0 .5h0m0 1h0m.5 0h0m1.5-.5h0m1.5-1h0m0 1h0m1 0h0m0-1.5h0m1.5 0h0m1.5-.5h0m5.5 0h0m2.5 1.5h0m0 .5h0m1-1h0m0 1h0m3.5 .5h0m1-2h0m2.5 1h0m4 .5h0m.5-1h0m3.5-.5h0m34 1h0m3.5 0h0m4.5 .5h0m8-2h0m.5 1h0m1.5 1.5h0m2.5 0h0m.5-1h0m94.5 3.5h0m-8.5-.5h0m-87.5 0h0m-.5-1h0m-3.5-.5h0m-1.5 1.5h0m-.5 .5h0m-3.5-1h0m-9 1.5h0m0-.5h0m-2.5 .5h0m-2-2.5h0m-28.5 2.5h0m-3-.5h0m-2-.5h0m-3.5 0h0m0-.5h0m-1 0h0m-2-.5h0m-.5 .5h0m-1 1h0m-.5-.5h0m-1.5 1h0m-2.5-2.5h0m-.5 0h0m-8 1.5h0m-.5 1h0m-.5 0h0m0-2.5h0m0 1.5h0m-.5 .5h0m-1 .5h0m-.5-.5h0m-.5 .5h0m0-2.5h0m-.5 1.5h0m0 .5h0m-.5 0h0m-.5 .5h0m0-1.5h0m-1-.5h0m0-.5h0m-1 2.5h0m-1-.5h0m-1 .5h0m-1-2.5h0m-1 1h0m-1-1h0m-.5 0h0m-1 .5h0m-.5-.5h0m0 1.5h0m-2 1h0m0-1h0m-1 .5h0m-1-1h0m-2 0h0m-2.5 0h0m0 .5h0m-.5-1.5h0m-1 0h0m-4 2.5h0m-1-.5h0m-.5 .5h0m-.5-2h0m-1 1.5h0m-.5-1.5h0m0 1.5h0m-.5-1.5h0m-.5-.5h0m-.5 2h0m-1.5-1.5h0m-2.5-.5h0m-.5 2.5h0m-.5-.5h0m-.5 .5h0m-1-1.5h0m-.5-.5h0m-1 1.5h0m-4.5 .5h0m-.5-1.5h0m-.5 1h0m-.5-1h0m-.5 1.5h0m-.5-1h0m-.5-.5h0m-1 .5h0m0 .5h0m-1-2h0m0 2h0m-.5-1.5h0m-15-.5h0m-20.5 .5h0m-7.5 2h0m.5 1h0m8.5-.5h0m9.5 2h0m14.5 .5h0m2.5-2h0m2.5 .5h0m5-1h0m.5 1.5h0m0-1.5h0m.5 2h0m3.5 0h0m.5 .5h0m2-2.5h0m1 1.5h0m0 1h0m1 0h0m.5-1.5h0m.5 0h0m1.5 .5h0m.5-1.5h0m.5 2.5h0m1-1.5h0m.5-.5h0m0 .5h0m.5 0h0m0 .5h0m2.5-1.5h0m.5 .5h0m.5 1h0m.5 1h0m.5-1h0m.5 0h0m1 1h0m1-.5h0m0-1h0m3.5 1.5h0m1.5 0h0m.5 0h0m.5 0h0m1.5-.5h0m0-2h0m.5 .5h0m0 1h0m.5 0h0m.5-1.5h0m.5 2h0m0-.5h0m.5-.5h0m0 1.5h0m1-2.5h0m1.5 2h0m3-1.5h0m0 .5h0m2 0h0m0 1h0m2-.5h0m0 1h0m.5-2h0m1 .5h0m0 1h0m.5 .5h0m0-.5h0m.5 0h0m1-1.5h0m1-.5h0m1.5 2h0m.5-.5h0m1 0h0m0-1.5h0m.5 0h0m0 2h0m.5 .5h0m1-2h0m.5 .5h0m0 1h0m3.5-1h0m11.5 1h0m2-1.5h0m1 2h0m2-2.5h0m1.5 2h0m1.5-.5h0m1 0h0m1.5-1.5h0m30 2h0m2.5-1.5h0m2-.5h0m1.5 .5h0m7 1.5h0m2-.5h0m1-1.5h0m1.5 0h0m90.5 0h0m11.5 5h0m-8.5-1.5h0m-2.5-.5h0m-85 .5h0m-3-.5h0m-1.5 2.5h0m-1-1h0m0 1h0m-1-2.5h0m-1.5 1.5h0m-.5 .5h0m-4-2h0m-3 0h0m-2 1.5h0m-5 .5h0m-30.5-2h0m-1.5 2h0m-1-.5h0m-1-1h0m-1.5 2h0m-3-1.5h0m-1-.5h0m0-.5h0m-2 2h0m0 .5h0m-5.5-1.5h0m-.5 .5h0m-1.5-.5h0m0 1h0m-.5-1h0m-1-.5h0m-.5 2h0m-.5-.5h0m-.5 .5h0m-1-1.5h0m-1-.5h0m-2.5 .5h0m-.5-.5h0m-1 0h0m-1.5 0h0m0 2h0m-.5-2h0m-.5-.5h0m-.5 .5h0m-1 1h0m0-.5h0m-.5 1.5h0m-.5-1h0m-.5-1.5h0m0 1.5h0m-.5 .5h0m0-1.5h0m-1.5 .5h0m-1 1h0m0-1.5h0m-.5 1h0m-1-1h0m0 2h0m-1-2h0m0 2h0m-.5-2.5h0m0 2h0m-.5-1.5h0m-.5 2h0m0-1.5h0m-.5-.5h0m-.5 2h0m-.5-.5h0m-.5-.5h0m0 1h0m0-2.5h0m-.5 2h0m-.5-1.5h0m-1 0h0m-1 .5h0m0 .5h0m-1-.5h0m-.5 .5h0m-.5-1.5h0m-2 2.5h0m-.5-2h0m0 2h0m-.5-1h0m-.5-1.5h0m0 1h0m0-.5h0m-2 0h0m0 1h0m-.5 1h0m0-2h0m-1.5 1h0m-.5 1h0m0-2h0m-1.5-.5h0m-1 0h0m0 1h0m-.5-.5h0m0-.5h0m-1 1.5h0m0 .5h0m-1 .5h0m-1-1h0m-.5 0h0m0-.5h0m0 1h0m-.5-1h0m0 1h0m-.5-1.5h0m-.5 .5h0m-.5 0h0m-1 .5h0m-2 0h0m-.5-1.5h0m-.5 2h0m-1.5-2h0m-2 0h0m0 2h0m-1 0h0m-.5-1h0m0 1h0m-.5-1.5h0m0 .5h0m-2 .5h0m-16-1.5h0m-4 1h0m-33.5 1h0m43 1h0m8.5 1.5h0m.5 0h0m.5 1h0m.5 0h0m.5-.5h0m.5 .5h0m0-2.5h0m0 1h0m.5 1h0m0-1.5h0m.5 2h0m.5 0h0m0-2.5h0m1 1h0m1 1.5h0m.5-2.5h0m0 1h0m0 1h0m.5-1.5h0m0 2h0m0-2.5h0m0 1h0m1 1.5h0m1-.5h0m.5-2h0m0 .5h0m2.5 2h0m0-2.5h0m0 1h0m1 1h0m.5 0h0m2 0h0m.5 .5h0m0-1.5h0m1-.5h0m.5 1h0m0-1.5h0m.5 1h0m0-.5h0m.5 .5h0m0 1h0m.5-1.5h0m0 1h0m1-1h0m.5 1h0m1 1h0m0-1h0m1 1h0m0-1.5h0m1 1h0m3.5-.5h0m1.5-1h0m0 .5h0m.5-1h0m1 2.5h0m0-2.5h0m0 1h0m1-.5h0m0 2h0m1-2.5h0m0 2h0m2-.5h0m0 1h0m2.5-1h0m1 1h0m.5-2h0m.5 1h0m1.5-1h0m.5 0h0m0 1h0m0-1.5h0m0 2h0m.5-1h0m0 1h0m2-1.5h0m1 1h0m0 1h0m.5-.5h0m1.5-.5h0m0 1h0m.5-.5h0m.5-1h0m.5-.5h0m0 2h0m.5-1.5h0m.5 0h0m.5 0h0m0 .5h0m.5 1h0m0-2.5h0m.5 1.5h0m1 1h0m0-1h0m4-1.5h0m2 1h0m.5 .5h0m2.5-1.5h0m.5 2.5h0m.5-2h0m3.5 0h0m0 1h0m2-1.5h0m0 1h0m.5 .5h0m0 1h0m3-.5h0m1 .5h0m.5-.5h0m1 .5h0m4-2.5h0m37.5 2h0m6.5-.5h0m.5 0h0m1.5 1h0m1.5 0h0m4-2.5h0m99 5h0m-4-1.5h0m-5 .5h0m-35.5 0h0m-53 1h0m-.5-1.5h0m-6.5-.5h0m-13 .5h0m-1.5 2h0m0-.5h0m-33.5-2h0m-.5 .5h0m-2 .5h0m-2-.5h0m-2 0h0m-.5 2h0m-3.5-1.5h0m-.5-.5h0m-3 1h0m-.5 0h0m-2.5 1h0m-2.5-2.5h0m0 2h0m-.5 .5h0m-2-2h0m-1.5 .5h0m0 1h0m-.5-.5h0m-.5-1.5h0m0 2h0m-.5-.5h0m-.5 .5h0m-.5-2h0m-.5 0h0m0 2.5h0m-.5-2.5h0m0 2h0m-.5-1.5h0m0 2h0m-.5 0h0m0-2.5h0m-.5 2.5h0m0-1.5h0m0 1h0m-2-1.5h0m0 .5h0m-.5-.5h0m0 1h0m-1-.5h0m-.5-.5h0m-.5 0h0m0 1h0m-1 1h0m-1-2h0m0 .5h0m-.5 1h0m0-2h0m-.5 2.5h0m-1-1.5h0m-.5-1h0m0 2h0m0-1.5h0m0 1h0m-.5-.5h0m-.5 .5h0m-.5-.5h0m-.5 0h0m0 1h0m0-1.5h0m0 2h0m-.5 0h0m0-2.5h0m-.5 1h0m-.5-1h0m-1 0h0m0 2h0m0-1.5h0m-.5 1.5h0m0-1.5h0m-.5 .5h0m-.5 1h0m0-1.5h0m-.5 1h0m-.5 1h0m-.5-2h0m-.5-.5h0m0 2h0m-1 0h0m0-1h0m-.5-.5h0m0 1h0m0 1h0m-3-1h0m-.5 1h0m0-2h0m-.5 2h0m0-1.5h0m-1 1h0m0-1.5h0m0 1h0m-.5 .5h0m0-1.5h0m-.5 .5h0m-.5 .5h0m-.5 1h0m0-1h0m-.5 1h0m-.5-2.5h0m-.5 .5h0m0 1h0m-.5-1h0m0 2h0m-1 0h0m-.5-.5h0m-.5 .5h0m0-.5h0m-.5-2h0m0 1h0m-1-.5h0m-.5-.5h0m0 2h0m0-1.5h0m-.5-.5h0m0 1h0m0 1h0m-1.5 0h0m0-.5h0m-.5-1h0m-.5 1.5h0m0-1.5h0m-.5 1.5h0m-.5 .5h0m0-2h0m0 1h0m-.5-.5h0m-.5 .5h0m0-.5h0m-.5 0h0m-.5 1h0m-.5 .5h0m-1.5-2.5h0m-1 2.5h0m0-2h0m-.5-.5h0m0 1.5h0m-.5 0h0m0 1h0m-.5-2h0m-1 .5h0m-.5 1.5h0m0-1h0m-.5 .5h0m-1-.5h0m-1 0h0m-7.5 1h0m-14-2.5h0m-.5 1.5h0m-3-1h0m-13 1.5h0m-4-2h0m-1.5 1.5h0m13 2h0m8 2h0m1.5-2.5h0m7 1h0m14 1h0m0-1.5h0m0 1h0m.5 .5h0m.5 .5h0m.5-1.5h0m0 1h0m1.5-1.5h0m0 1h0m0-1.5h0m.5 0h0m0 2h0m0 .5h0m.5-1.5h0m.5 1.5h0m.5-1h0m.5 0h0m0-1.5h0m0 1h0m.5 .5h0m.5-1h0m0 1h0m0-1.5h0m.5 2.5h0m1.5-2h0m.5 1.5h0m1 .5h0m.5-.5h0m0-.5h0m0-1.5h0m.5 0h0m.5 2.5h0m1 0h0m0-1.5h0m.5 .5h0m0 1h0m.5-2h0m0 1h0m.5-1h0m1 1h0m0-.5h0m.5 1h0m0-1.5h0m.5 2h0m0-1.5h0m1 .5h0m.5 1h0m.5-2h0m.5 1h0m.5-1h0m0 1.5h0m1-.5h0m.5 .5h0m0-1h0m1.5 0h0m1.5 .5h0m0 1h0m0-1.5h0m1-.5h0m2 0h0m.5 1.5h0m.5-1.5h0m0 1h0m0 1h0m0-2.5h0m0 2h0m.5-1h0m.5-.5h0m0 1h0m0 1h0m0-2.5h0m0 1h0m.5-.5h0m0-.5h0m.5 1h0m.5 1.5h0m0-2.5h0m1 0h0m0 1h0m0 1h0m1-2h0m0 .5h0m1.5 2h0m.5 0h0m1-2.5h0m0 1h0m0 1h0m.5-.5h0m.5 0h0m0 1h0m0-2.5h0m1 2.5h0m.5-1.5h0m.5 1.5h0m.5-1h0m0-.5h0m.5 1.5h0m0-.5h0m.5 .5h0m.5-.5h0m0-1.5h0m.5 0h0m0-.5h0m.5 1.5h0m0 1h0m.5 0h0m0-2.5h0m.5 .5h0m1 .5h0m0-.5h0m.5-.5h0m0 2h0m.5-1.5h0m.5 1.5h0m.5-.5h0m0 1h0m.5-2h0m0 1.5h0m.5-1.5h0m.5-.5h0m0 2h0m.5 .5h0m0-2h0m1 0h0m0 1h0m1 0h0m0 .5h0m.5-2h0m0 2h0m.5-.5h0m.5 .5h0m.5 .5h0m2-1h0m1.5-.5h0m.5 1h0m.5-1h0m1 1h0m3.5-1h0m0 1.5h0m3-1.5h0m2-1h0m.5 0h0m.5 .5h0m0 .5h0m5.5 0h0m2-.5h0m32.5 1.5h0m1 0h0m3.5 .5h0m3-1h0m7-.5h0m2.5-1h0m3.5 .5h0m47 2h0m40.5-2.5h0m10.5 3h0m-7.5 2h0m-39-.5h0m-51-.5h0m-.5 1h0m-.5 .5h0m-10.5-1h0m-3 0h0m-2.5-1h0m-.5 0h0m-1.5 1h0m-.5-.5h0m-.5-.5h0m-29.5 1.5h0m-2.5-1h0m-6.5-1h0m-2 0h0m-1 2h0m0 .5h0m-3-1.5h0m-2 .5h0m-2.5 1h0m-.5-1.5h0m-1.5 1.5h0m-1-.5h0m0-.5h0m0-.5h0m-1 0h0m-.5 0h0m-2.5-.5h0m-.5 0h0m0-.5h0m-.5 1.5h0m-.5 1h0m0-1.5h0m-.5 1h0m0-1.5h0m0 2h0m-.5-1h0m0-.5h0m-.5 1h0m0-2h0m-.5 2h0m-.5-.5h0m-.5-1.5h0m-1 1.5h0m-1-.5h0m-.5 1.5h0m0-2.5h0m0 1.5h0m-.5-.5h0m0 1h0m0-2h0m-.5 2h0m-.5-1h0m-1 0h0m0-.5h0m0 1h0m-.5 .5h0m-.5-1h0m0 1h0m0-1.5h0m-.5 1h0m0-.5h0m-.5-1h0m0 .5h0m-.5 0h0m-.5-.5h0m0 1.5h0m0 1h0m-1-1.5h0m-.5-.5h0m-1 1.5h0m-.5-.5h0m-.5 .5h0m0-.5h0m-.5-.5h0m-.5-.5h0m-.5 1.5h0m-.5-2h0m-.5 .5h0m0 1h0m0 .5h0m-.5 0h0m0-2h0m0 1h0m-1 .5h0m-1-.5h0m0 1h0m-.5-1.5h0m0 1h0m-.5-1.5h0m0 1h0m-.5 0h0m0 1.5h0m-.5-.5h0m-.5 0h0m-.5 0h0m0-1.5h0m-.5 .5h0m-1.5 .5h0m-.5-1h0m-1 1h0m-.5-1h0m-2-.5h0m0 .5h0m-1 0h0m0 1h0m-.5-.5h0m-1-.5h0m-.5 0h0m-.5-.5h0m-.5 0h0m0 .5h0m-1 0h0m0 1h0m0 1h0m-.5-2.5h0m0 1h0m-.5 1h0m-.5-.5h0m0-1.5h0m-.5 1h0m0 .5h0m-.5 1h0m0-1.5h0m0 1h0m0-1.5h0m-1 2h0m-.5-2h0m-1 .5h0m0-.5h0m-.5 1.5h0m0-1.5h0m-.5 1.5h0m-.5-2h0m0 1h0m0 1h0m-.5-2h0m0 1h0m-.5-1h0m0 2h0m-.5 0h0m-.5-2h0m0 2h0m-.5-.5h0m0-1.5h0m-.5 0h0m-.5 1h0m-.5-1h0m0 1h0m-1-1h0m0 .5h0m-.5 1h0m0 1h0m-2-1h0m-1-1.5h0m-.5 1.5h0m0-1h0m-.5 0h0m-2.5-.5h0m-3.5 1h0m-2.5-.5h0m-15 2h0m-4.5 0h0m-1.5-2h0m-23-.5h0m16.5 3.5h0m3 0h0m4 1h0m3.5-1h0m2 2h0m2.5-1h0m11-1h0m5.5 .5h0m4.5-.5h0m.5 0h0m0 .5h0m1 .5h0m.5-.5h0m0-.5h0m.5 1.5h0m2-.5h0m0-.5h0m0 1h0m.5 0h0m0 .5h0m0-1.5h0m.5-.5h0m0 1.5h0m1.5-1.5h0m0 1h0m1 1h0m0-1.5h0m.5 1h0m0-1h0m.5 1h0m.5-2h0m1 1h0m.5 .5h0m0-1.5h0m1 1h0m1.5 1h0m.5-1.5h0m.5 0h0m.5-.5h0m.5 2h0m.5 .5h0m0-2h0m.5 1h0m1-1h0m2.5 2h0m.5-2.5h0m0 1h0m.5-.5h0m.5 2h0m0-2.5h0m.5 1h0m.5 .5h0m0-.5h0m2.5-1h0m1.5 2h0m1-1.5h0m1 .5h0m0 1h0m0-.5h0m.5-1.5h0m0 2h0m1-1.5h0m.5 0h0m1 .5h0m.5-.5h0m.5 1h0m.5 0h0m0-.5h0m.5 0h0m.5-1h0m0 .5h0m.5 1h0m0-.5h0m0 1h0m.5-1.5h0m0 1.5h0m.5-.5h0m0 .5h0m1-.5h0m0-.5h0m0 1h0m.5-.5h0m0-1.5h0m.5 .5h0m1 1h0m0-.5h0m0 1h0m.5 0h0m0 .5h0m.5-1h0m0 1h0m0-1.5h0m1 1.5h0m0-.5h0m1-.5h0m0-1.5h0m0 1h0m0 1h0m0-1.5h0m.5 0h0m.5 2h0m0-1.5h0m0 .5h0m.5-1h0m0 2h0m0-2.5h0m0 2h0m.5 .5h0m1 0h0m.5-.5h0m.5-1h0m2 1h0m.5 .5h0m.5-1h0m.5-1.5h0m.5 .5h0m0 1h0m0 .5h0m.5-1.5h0m0 1h0m.5-.5h0m0 1h0m0-.5h0m.5 1h0m0-2.5h0m0 1h0m1.5-.5h0m.5 0h0m.5 .5h0m.5 0h0m1-1h0m0 2h0m.5-2h0m2 .5h0m.5-.5h0m1.5 1.5h0m3 .5h0m2.5-1h0m1.5-1h0m2.5 2.5h0m.5-1h0m.5-1h0m1 2h0m.5-2.5h0m1.5 0h0m.5 1h0m2.5-1h0m32.5 1.5h0m1 1h0m3.5-.5h0m0 .5h0m1.5-1h0m3-.5h0m0 1h0m2 0h0m4-.5h0m3.5 1h0m38-1h0m60 .5h0m-4 3h0m-93-.5h0m-2 .5h0m0-2h0m-.5 1.5h0m-1.5 1h0m0-1.5h0m-3.5-.5h0m-4 1h0m-1.5-.5h0m-1 .5h0m-3-1h0m-2 1h0m-.5 .5h0m-1-1.5h0m-30.5 2h0m-1.5-2h0m-.5 1h0m-1.5 1h0m-.5-2h0m-.5 1.5h0m-1.5 0h0m-.5-2h0m-.5 1h0m-3.5 0h0m-1.5-1h0m-.5 1h0m-1.5-1h0m-1.5 1.5h0m-.5 1h0m-2-1.5h0m-2.5-.5h0m0 1h0m-3.5 .5h0m-1.5-1.5h0m-1 .5h0m-.5 0h0m0-.5h0m0 1h0m0-1.5h0m-.5 1.5h0m0 1h0m-.5-.5h0m0-.5h0m-.5-1.5h0m0 1h0m0 1.5h0m-.5-2h0m0-.5h0m0 1h0m-.5-.5h0m0-.5h0m-1 0h0m-.5 .5h0m0 2h0m-.5-1.5h0m0-.5h0m-.5 0h0m-1.5 0h0m0 .5h0m-.5 0h0m0-.5h0m0 2h0m-.5-2h0m0 1h0m0-.5h0m0 1h0m-.5-.5h0m-.5-1h0m0 2h0m0-1.5h0m-.5-.5h0m-.5 2h0m0-1.5h0m-1 0h0m0-.5h0m0 1h0m-.5-1.5h0m0 .5h0m0 1h0m0 1h0m-.5-2h0m-.5 1h0m-.5-1h0m0 2h0m-.5-1.5h0m-.5 1h0m0 .5h0m0-1.5h0m-.5 1.5h0m0-2.5h0m0 2h0m0-1.5h0m-.5 1.5h0m-.5-1h0m0 1h0m0-.5h0m-.5 0h0m0-1.5h0m-.5 .5h0m-.5 .5h0m0 .5h0m-.5 0h0m0 1h0m-.5-.5h0m0-.5h0m0 1h0m-.5-2.5h0m0 2h0m-.5 0h0m0-1.5h0m0 2h0m-.5-1h0m0-1.5h0m-.5 1h0m0 1.5h0m0-2.5h0m-.5 .5h0m0 .5h0m0 1h0m-1-1h0m0 1.5h0m-.5 0h0m0-2.5h0m-.5 1.5h0m0 1h0m0-2.5h0m-.5 2h0m0-1.5h0m-.5 1.5h0m-.5 .5h0m-2-1.5h0m0 .5h0m-1-1h0m0 .5h0m-1 .5h0m0-.5h0m-.5 0h0m0-.5h0m-1 1.5h0m-1.5 .5h0m-.5-.5h0m0-.5h0m0-.5h0m-.5 .5h0m-.5-1h0m-.5 1h0m-1 .5h0m0 .5h0m-1.5-2.5h0m0 1h0m-.5 0h0m-.5 1h0m-2-1h0m0 1h0m-1-.5h0m-.5 .5h0m-1-1h0m0 .5h0m0-1.5h0m-.5 .5h0m0 1h0m-.5-1.5h0m-1 2.5h0m0-1h0m-.5 0h0m-.5 .5h0m-2.5-1h0m-.5-.5h0m-.5-.5h0m-1 1.5h0m-.5 1h0m0-2h0m-.5 1.5h0m-.5-2h0m-3 1.5h0m-22 .5h0m-.5-.5h0m-6 0h0m-.5-.5h0m-1 1.5h0m-1-.5h0m-14 .5h0m-4-2.5h0m2 5h0m5-2h0m15 2h0m6 0h0m7-1h0m2.5-1h0m4.5 1.5h0m10-1.5h0m1.5 2h0m1-1h0m.5 1.5h0m1 0h0m1-2h0m.5 2h0m0-.5h0m.5 .5h0m1-.5h0m.5 .5h0m0-.5h0m2.5-1h0m.5 1h0m1.5 0h0m1 .5h0m0-2.5h0m0 2h0m.5-2h0m.5 2h0m.5-.5h0m.5-.5h0m1 1h0m2 0h0m.5 .5h0m.5-1.5h0m1 .5h0m.5-1h0m0 2h0m.5 0h0m.5-.5h0m.5 0h0m0-1.5h0m0 1h0m.5-1.5h0m1.5 .5h0m2 1h0m0-1.5h0m0 2h0m1-.5h0m2 1h0m.5-.5h0m0-.5h0m0-1.5h0m.5 1.5h0m0 1h0m0-2.5h0m.5 .5h0m0 1h0m0 1h0m0-2.5h0m0 1h0m.5-.5h0m0 1h0m0 1h0m.5-2.5h0m0 1h0m0 1h0m0 .5h0m.5-1h0m0-1.5h0m0 .5h0m.5 1h0m.5-1h0m0 .5h0m.5-1h0m0 1h0m1 1h0m.5 .5h0m0-1.5h0m.5 1.5h0m.5-1.5h0m0-.5h0m0 2h0m.5-1.5h0m.5-.5h0m0 2h0m.5-2h0m.5 1h0m0 .5h0m1-2h0m.5 2h0m1-.5h0m.5 .5h0m.5-1h0m.5 .5h0m0-1.5h0m.5 2.5h0m0-2.5h0m0 2h0m.5-1.5h0m0 .5h0m.5-.5h0m.5 2h0m0-2.5h0m.5 0h0m0 1h0m.5 1.5h0m0-2h0m.5 2h0m0-2.5h0m0 1h0m0-.5h0m.5 1h0m0 .5h0m.5-1h0m.5-1h0m0 2h0m.5 0h0m0-1.5h0m0 1h0m.5-1h0m0 1h0m0-1.5h0m1.5 2.5h0m0-2.5h0m0 1h0m0 1h0m.5-1.5h0m0 1h0m.5 .5h0m0-.5h0m0 1h0m2.5-2.5h0m2 2.5h0m0-2.5h0m6 2.5h0m5-2.5h0m2 0h0m1 2.5h0m.5 0h0m2-1h0m.5 .5h0m0-1.5h0m.5 0h0m1.5 .5h0m2-1h0m29 .5h0m.5 2h0m.5-1.5h0m.5-.5h0m2.5-.5h0m.5 1.5h0m0 1h0m1.5-1h0m2.5 0h0m3 1h0m2-1h0m3.5 1h0m1 0h0m1.5 0h0m4.5 0h0m48.5-.5h0m3-1h0m42 .5h0m4-.5h0m7 2h0m-5.5 .5h0m-48.5 2h0m-50.5-2h0m-2 1.5h0m-.5-2h0m-2 0h0m-1 2.5h0m-1-1h0m-2-1.5h0m-1 1h0m-2.5 1h0m-.5 .5h0m-5-2.5h0m-1.5 .5h0m-1-.5h0m-3.5 1.5h0m-31 0h0m-2-1h0m0-.5h0m-8.5 1.5h0m-.5-1h0m-.5 0h0m-5 .5h0m-1 .5h0m-2 1h0m0-1.5h0m-4.5 1.5h0m0-2.5h0m0 1h0m-.5 1.5h0m0-.5h0m-.5-1.5h0m0 2h0m-.5-.5h0m0-1.5h0m0 1h0m0 1h0m-.5-2.5h0m0 1h0m-.5 .5h0m0 1h0m-1.5 0h0m0-2.5h0m-.5 2h0m0-1.5h0m0 2h0m-.5 0h0m-.5-1h0m0-.5h0m-.5-.5h0m0 1.5h0m-.5-2h0m-.5 .5h0m0 2h0m0-2.5h0m-.5 0h0m-.5 0h0m-.5 2h0m0-.5h0m0 1h0m-.5-2h0m0 1h0m0-.5h0m-.5 1.5h0m0-2.5h0m-.5 0h0m-.5 0h0m-.5 .5h0m0 1h0m0 .5h0m-.5-1.5h0m0 1h0m-1 .5h0m-.5 .5h0m0-1.5h0m-.5 1.5h0m0-2.5h0m0 2h0m-.5-1.5h0m0 1h0m-.5 0h0m0-1.5h0m-1 .5h0m-.5 0h0m0 2h0m-.5 0h0m0-1.5h0m-.5 1h0m0-1.5h0m0-.5h0m0 1h0m-.5-.5h0m-.5-.5h0m0 2h0m0-.5h0m-.5 .5h0m0-.5h0m0-1.5h0m-.5 1h0m0 1h0m0-1.5h0m-.5 0h0m0 1h0m0-1.5h0m0 1h0m0 1h0m-.5-2h0m-.5 0h0m-1 2.5h0m-.5-2h0m0 1h0m-.5 .5h0m0-.5h0m-.5 0h0m0-.5h0m-.5-1h0m-.5 1.5h0m0 1h0m-.5-.5h0m0 .5h0m-1.5 0h0m-1-1.5h0m-1.5 1h0m-.5-1h0m-1 1h0m-1 .5h0m-.5-1h0m-.5 .5h0m-.5-1.5h0m-5 1h0m0-.5h0m-.5-.5h0m-1 2h0m0-1.5h0m-.5-.5h0m-.5 0h0m-.5 2h0m-.5-2.5h0m-.5 2.5h0m-1.5 0h0m-1-2h0m0 1h0m-1 1h0m0-1.5h0m-2-1h0m-1 2h0m-.5 .5h0m0-2.5h0m0 2h0m-1 .5h0m0-.5h0m0-1.5h0m-1 2h0m-3-1.5h0m-4.5 1.5h0m0-1.5h0m-4.5-1h0m0 .5h0m-11-.5h0m-1 0h0m-2 1h0m0 1h0m-2.5-.5h0m-3.5 0h0m-.5-1.5h0m-6 .5h0m-1.5 0h0m-2 .5h0m-2 1.5h0m-3-1.5h0m4.5 3h0m.5 1h0m.5 0h0m1.5-1h0m4.5 1h0m4 0h0m6-1.5h0m3 .5h0m1.5-.5h0m6.5 .5h0m3.5 1.5h0m12-1.5h0m0 1h0m.5-1.5h0m0 2h0m0-.5h0m1 0h0m1-1.5h0m1 0h0m0 1h0m.5-1.5h0m.5 .5h0m0 2h0m.5-1h0m0 1h0m0-2.5h0m1.5 0h0m.5 0h0m0 1h0m.5-1h0m.5 0h0m.5 1h0m.5-1h0m1 2.5h0m.5-.5h0m.5-.5h0m0 .5h0m1.5-.5h0m0-1.5h0m.5 1.5h0m1-1h0m.5 .5h0m.5 0h0m0 .5h0m1.5 0h0m1.5-1.5h0m.5 0h0m.5 0h0m.5 0h0m0 1h0m.5-1h0m0 .5h0m.5 1h0m0 1h0m.5-2h0m.5 0h0m.5-.5h0m0 1h0m0-.5h0m0 1h0m.5-1h0m0 .5h0m1-1h0m1.5 1h0m.5 1.5h0m0-1.5h0m1 .5h0m0 1h0m0-.5h0m.5 .5h0m0-1.5h0m0-.5h0m.5-.5h0m.5 1h0m1-1h0m.5 .5h0m0-.5h0m0 1h0m.5 1.5h0m.5-2.5h0m0 1h0m0 1h0m.5 .5h0m0-2.5h0m0 1h0m.5-.5h0m.5 1h0m0 .5h0m.5 .5h0m0-2.5h0m.5 1.5h0m.5 1h0m0-2.5h0m0 1h0m0 .5h0m.5 0h0m0-1.5h0m0 1h0m1 1.5h0m.5-2.5h0m0 1h0m.5 0h0m.5 1h0m0-.5h0m0 1h0m.5 0h0m.5-1.5h0m0-.5h0m1 1h0m.5 1h0m0-2.5h0m0 2h0m.5-2h0m.5 0h0m0 1h0m1 0h0m0 1h0m0-.5h0m.5 0h0m0 .5h0m.5 .5h0m0-2h0m.5 0h0m.5 1.5h0m.5-1h0m0 .5h0m.5-.5h0m0 1.5h0m.5-2.5h0m0 2h0m0-1.5h0m1 .5h0m0 1h0m.5-1h0m1-.5h0m0 2h0m.5-2.5h0m0 1.5h0m.5-1.5h0m0 1.5h0m.5-.5h0m.5 .5h0m0-1.5h0m.5 .5h0m2 1.5h0m0-.5h0m.5-.5h0m0 1h0m2 0h0m.5-.5h0m.5 .5h0m.5 0h0m1.5-1.5h0m.5 .5h0m3-1h0m4.5 2.5h0m1-2.5h0m1.5 1.5h0m1 0h0m2-.5h0m1 1h0m1 .5h0m.5-2.5h0m1 2h0m34 0h0m5-1.5h0m1 0h0m2 .5h0m2.5-.5h0m.5 0h0m.5 1.5h0m0-.5h0m.5-1.5h0m.5 1h0m.5-1h0m3 2.5h0m2-2.5h0m4.5 2.5h0m26-2h0m6.5-.5h0m3 1.5h0m2.5-1.5h0m1 0h0m46 1.5h0m17-1.5h0m0 5h0m-15 0h0m-40.5 .5h0m-24-1.5h0m-8 1.5h0m-.5-1.5h0m-7 .5h0m-7.5-1.5h0m-4 0h0m-.5 2h0m0-1.5h0m-.5 .5h0m-2 .5h0m-.5-.5h0m-.5-.5h0m-2.5 2h0m-1.5-1.5h0m-4.5-1h0m-2.5 1.5h0m-4.5-1.5h0m-.5 .5h0m-11.5 2h0m-19-2.5h0m-.5 0h0m-1.5 1h0m-2-1h0m-2 2.5h0m-.5-2h0m-1-.5h0m-1.5 1.5h0m-7 .5h0m-2-1.5h0m-.5 .5h0m-2 1h0m-2.5 0h0m-.5-2h0m-1 1h0m-1.5 .5h0m0-1.5h0m-.5 .5h0m-.5 0h0m0 2h0m0-2.5h0m-.5 1.5h0m0-1.5h0m0 1h0m-.5-.5h0m0-.5h0m0 2h0m-.5-1.5h0m0-.5h0m-.5 .5h0m-.5 1.5h0m0-1.5h0m0 2h0m0-2.5h0m-.5 1h0m0 1h0m-.5-.5h0m0-1.5h0m-.5 2h0m0-1.5h0m0 1h0m-.5 .5h0m-.5-.5h0m-.5 0h0m0 1h0m-.5 0h0m0-2.5h0m-1 2h0m0-.5h0m-.5 0h0m-1-1h0m0 1h0m0-.5h0m-.5 0h0m-.5-.5h0m0 .5h0m-1-1h0m-.5 2.5h0m0-1.5h0m-.5 .5h0m-.5-1h0m-.5 1h0m0 1h0m-.5-2h0m0 1h0m-.5 0h0m0-1.5h0m-.5 1.5h0m-.5 0h0m-.5 1h0m0-2.5h0m-.5 2.5h0m0-2.5h0m-.5 2h0m-.5-1.5h0m-.5 1.5h0m0-.5h0m-1 0h0m0 1h0m0-2.5h0m0 2h0m-.5 0h0m-.5 0h0m0 .5h0m-.5-1.5h0m0 1h0m-.5 0h0m-.5 .5h0m0-2.5h0m0 1h0m-.5 0h0m-.5-.5h0m0 2h0m-.5-1h0m0 1h0m-.5 0h0m-.5-1.5h0m0 1.5h0m0-2.5h0m-.5 1h0m-1.5 1.5h0m-.5-1h0m-.5-.5h0m-.5 1.5h0m-.5-2h0m-.5 0h0m-1 .5h0m-.5 0h0m-.5-1h0m-1 .5h0m-2 0h0m0 2h0m-1-2.5h0m-.5 .5h0m-.5 2h0m-1-.5h0m-1-1h0m0 1h0m0 .5h0m-.5-2.5h0m0 1h0m-1-1h0m-.5 1h0m-.5-.5h0m-1.5 0h0m-1-.5h0m0 1h0m-.5-.5h0m0-.5h0m-.5 2.5h0m0-2.5h0m-.5 2.5h0m0-1.5h0m-.5-1h0m-.5 1h0m-.5 0h0m-1 0h0m-1-.5h0m0 2h0m0-2.5h0m-1 1.5h0m-1-.5h0m0 1h0m0-.5h0m-1-1h0m-.5 0h0m-5 1.5h0m-9-1h0m0-.5h0m-5 .5h0m-3-1h0m-10.5 2.5h0m-1-1.5h0m-4 1h0m-2 .5h0m-12 .5h0m7.5 0h0m2.5 2.5h0m4-2h0m5.5 1h0m1 1h0m0-2.5h0m9.5 0h0m.5 .5h0m3 1.5h0m.5-1h0m7.5-.5h0m3 1h0m8 0h0m0-.5h0m.5 0h0m.5 1h0m.5-1h0m.5 .5h0m0 1h0m.5-2.5h0m.5 .5h0m.5 2h0m.5-2h0m0 2h0m.5-1h0m0 .5h0m.5 .5h0m.5-2h0m.5 .5h0m1.5-.5h0m0 2h0m1-2h0m0-.5h0m.5 .5h0m0 1h0m0-1.5h0m0 2h0m.5-.5h0m.5-.5h0m0 .5h0m1 0h0m1 0h0m1.5-.5h0m.5-1h0m0 .5h0m1.5 .5h0m.5 0h0m.5-1h0m.5 0h0m1 2.5h0m.5-.5h0m1-1h0m.5 .5h0m0 .5h0m.5-1h0m.5 0h0m.5 1.5h0m.5 0h0m1-2h0m.5 2h0m.5-2h0m1.5 1h0m0-1.5h0m.5 2h0m.5-1.5h0m.5 0h0m1 .5h0m.5-.5h0m0 2h0m0-2.5h0m.5 0h0m.5 .5h0m0 1h0m0 .5h0m.5-.5h0m0-.5h0m0-.5h0m.5 1h0m0-1.5h0m0 2h0m1-1h0m.5 1.5h0m0-1.5h0m.5 1.5h0m0-2.5h0m.5 2.5h0m.5-1h0m0 1h0m0-2h0m.5 1h0m.5 .5h0m.5 .5h0m0-2.5h0m0 .5h0m.5 .5h0m0-.5h0m.5 1h0m0-.5h0m.5-.5h0m.5-.5h0m1 2.5h0m0-.5h0m0-.5h0m1-1h0m0 2h0m.5-2.5h0m0 .5h0m.5 1h0m0 1h0m0-2.5h0m.5 1.5h0m.5-.5h0m0 1h0m0-1.5h0m0 1h0m.5-.5h0m0 1.5h0m.5-2.5h0m0 1.5h0m.5-.5h0m0 1h0m.5 .5h0m.5-2h0m0 1.5h0m1-.5h0m0 1h0m0-2.5h0m0 2h0m.5-2h0m0 .5h0m.5 2h0m0-2.5h0m0 2h0m0-1.5h0m0 1h0m.5 .5h0m0-1.5h0m.5 2h0m0-.5h0m.5 .5h0m0-2.5h0m0 .5h0m.5 .5h0m0-.5h0m0 2h0m.5-.5h0m0 .5h0m.5-.5h0m.5 .5h0m0-2.5h0m0 1h0m0 1h0m.5-2h0m.5 0h0m8.5 0h0m.5 0h0m1 1h0m1-.5h0m2 0h0m1 1.5h0m0-2h0m1.5 2.5h0m.5-2.5h0m1.5 .5h0m3.5 1h0m3 .5h0m4.5-1.5h0m3 .5h0m2.5 .5h0m2-1.5h0m.5 2h0m2.5 .5h0m19-1.5h0m8 1h0m0-.5h0m3-1.5h0m.5 2.5h0m1.5-1.5h0m1.5 0h0m2.5-.5h0m.5 0h0m0-.5h0m1 2.5h0m18-.5h0m.5-.5h0m4-.5h0m.5-1h0m1.5 2h0m8 .5h0m1-1h0m58-1.5h0m6.5 2.5h0m4-.5h0m3 0h0m2 3h0m-16.5-2h0m-16 2.5h0m-33.5-1.5h0m-19-.5h0m-4 1.5h0m0-2h0m-1.5 .5h0m-7 .5h0m-1 1h0m-1-.5h0m-.5-1.5h0m-10 .5h0m-.5 .5h0m-3.5 1h0m-.5-2h0m-1.5 0h0m-2.5 2.5h0m-1.5-.5h0m-1 .5h0m-2.5-.5h0m-.5-1.5h0m-1.5 2h0m-3.5-2h0m-6.5-.5h0m-6 1h0m-2 0h0m-.5 1h0m-2.5-2h0m-11 2h0m-.5-1h0m-.5 .5h0m-2 .5h0m-2.5 .5h0m-6.5-.5h0m-2.5 .5h0m-1-1.5h0m-1 1.5h0m-3-1.5h0m-6.5-.5h0m0 1h0m-.5-.5h0m-.5 1h0m0-1.5h0m-.5 1h0m0-1.5h0m0 2h0m-.5-2h0m0 1.5h0m-.5 .5h0m-.5-1.5h0m0 1h0m0-1.5h0m-.5 2.5h0m0-1.5h0m-.5 .5h0m-1-1.5h0m0 2h0m-.5 0h0m0-1.5h0m0-.5h0m-.5 2h0m-.5-2h0m0 .5h0m0 1h0m-.5 0h0m-.5 0h0m0-.5h0m-.5 1.5h0m0-.5h0m-.5-1.5h0m0 .5h0m0 1h0m-1 0h0m-.5-1.5h0m0 .5h0m-.5-.5h0m0-.5h0m0 1h0m-1 .5h0m0 1h0m-.5 0h0m0-1.5h0m-.5 .5h0m0 1h0m-.5-.5h0m0-1.5h0m-.5 0h0m0 1h0m-.5-.5h0m-.5-1h0m-.5 1.5h0m0-.5h0m-.5-1h0m-.5 2h0m-.5 0h0m0-1.5h0m0 1h0m0-.5h0m-.5 1h0m0-.5h0m-.5-1.5h0m-.5 2h0m0 .5h0m-.5-2h0m0 1h0m-.5-1.5h0m0 1h0m0 1h0m-.5-1.5h0m0 1h0m-.5 0h0m0-1.5h0m-.5 0h0m-.5 .5h0m0 2h0m-.5-.5h0m0-1.5h0m-.5 .5h0m-.5-1h0m-.5 1.5h0m0-1.5h0m0 1h0m0 1h0m-.5-.5h0m-.5 .5h0m0-1.5h0m0 2h0m-2.5-1.5h0m-.5-.5h0m0-.5h0m-.5 2h0m-.5-1.5h0m-.5 1.5h0m-1-2h0m-1 2h0m-.5-2h0m0 1h0m-1-1h0m0 1h0m0-.5h0m-1.5 1h0m-1.5 .5h0m0-2h0m-1.5 2h0m0 .5h0m-1.5 0h0m0-.5h0m-1.5 .5h0m0-2.5h0m-2.5 0h0m0 1h0m-1 .5h0m-.5 .5h0m0 .5h0m-.5 0h0m-2-.5h0m0 .5h0m-1-2h0m-.5 1.5h0m-1.5 .5h0m-1-1h0m-.5 .5h0m-.5-1h0m-4 .5h0m-6 0h0m-2 1h0m-2.5-.5h0m-2.5-1h0m-7 1h0m-2 0h0m0-2h0m-8 1.5h0m-4 1h0m-6-2.5h0m-8 5.5h0m12-2.5h0m5 0h0m2 2h0m.5 0h0m3-.5h0m3.5-1h0m11.5 1h0m5.5 1h0m6-2.5h0m3 0h0m.5 2h0m0-2h0m.5 2.5h0m0-2.5h0m2 0h0m0 1h0m.5-1h0m.5 0h0m0 1h0m3.5 0h0m.5 .5h0m1 1h0m0-2.5h0m1 0h0m.5 2.5h0m.5-.5h0m.5-2h0m.5 1h0m.5 0h0m0-.5h0m.5 .5h0m.5 1.5h0m1-2.5h0m3 0h0m1 1h0m0 1h0m1.5-1.5h0m.5 1h0m0 .5h0m.5-1h0m0-.5h0m1 0h0m1 1.5h0m3.5 0h0m.5-.5h0m.5 1h0m0-1.5h0m0 1h0m0-1.5h0m.5 0h0m.5 2h0m.5-1h0m.5 .5h0m0-.5h0m.5-.5h0m0 1h0m.5-2h0m0 2h0m0-1.5h0m.5 1h0m0 1h0m.5-1h0m.5-.5h0m0-.5h0m0 1h0m0 1h0m1.5 0h0m0-.5h0m.5-.5h0m0 1h0m.5-1.5h0m0 .5h0m1-1h0m0 2h0m.5-.5h0m0-.5h0m1.5-.5h0m.5-1h0m0 1h0m0 .5h0m.5-1.5h0m.5 0h0m0 .5h0m0 1h0m1 .5h0m0-.5h0m1.5-1.5h0m.5 1h0m.5 1h0m0 .5h0m.5-2h0m0 .5h0m.5 1h0m1-1h0m0-.5h0m0 1h0m1 0h0m.5-1.5h0m0 1h0m.5 0h0m0 1h0m0-.5h0m.5-.5h0m.5-1h0m.5 2.5h0m0-1.5h0m0 1h0m0-.5h0m.5-1h0m.5 1h0m0 .5h0m.5-1h0m1 1h0m.5-.5h0m0 1h0m0-1.5h0m4 0h0m1.5 1.5h0m.5-1h0m.5-.5h0m3.5 .5h0m3 0h0m2.5 1h0m.5-.5h0m2.5-.5h0m6-1h0m.5 1h0m15 .5h0m1-1.5h0m9 1h0m1.5-1h0m4-.5h0m2.5 2.5h0m2-2h0m5.5 .5h0m5-.5h0m2.5 1h0m2-1h0m1 1h0m1 .5h0m2 .5h0m6.5-2.5h0m10 1.5h0m5.5 1h0m0-1.5h0m1 1.5h0m2.5-1h0m22.5-1h0m17.5-.5h0m26.5 2h0m3.5-1h0m4-1h0m4 .5h0m-18.5 5h0m-.5-2h0m-2.5-.5h0m-5.5 2.5h0m-1-2h0m-7 0h0m-1 .5h0m-1 1.5h0m-2.5-2.5h0m-2 0h0m-2.5 2.5h0m-10.5-2.5h0m-3 1h0m-8-.5h0m-15.5 0h0m-2.5 1h0m-1-1.5h0m-3 .5h0m-2.5 .5h0m-1 1h0m-1.5 0h0m-.5-2h0m-2.5 2h0m-1.5-.5h0m-4.5-.5h0m-.5 0h0m-6-.5h0m0 2h0m-.5-.5h0m-.5-1.5h0m-1.5 .5h0m-1-.5h0m0 2h0m-6 0h0m-1.5-2.5h0m-.5 .5h0m-1 1h0m-1.5 0h0m-9.5-.5h0m-6 1h0m-1 .5h0m-.5 0h0m-3.5-1.5h0m-.5-1h0m-11.5 2.5h0m-4 0h0m-11 0h0m-2 0h0m-3-1h0m-3 0h0m0-1.5h0m-3 1.5h0m-2 0h0m0 .5h0m-1 0h0m0-2h0m-.5 0h0m-.5 1.5h0m0 1h0m-.5-.5h0m0-1.5h0m-.5 1h0m0 .5h0m-.5-1h0m0-.5h0m0 1h0m-2-1.5h0m-.5 .5h0m-.5 1h0m-.5-1h0m0-.5h0m-1.5 .5h0m0 1h0m0-.5h0m0 1h0m-.5 0h0m-1-.5h0m0 1h0m0-2.5h0m-.5 2.5h0m0-1.5h0m-1-.5h0m0 1h0m0-1.5h0m0 1h0m-.5 1.5h0m0-1.5h0m-.5-1h0m-.5 .5h0m0 2h0m0-1.5h0m0 1h0m-.5-1h0m-.5 .5h0m0 1h0m0-1.5h0m-.5 .5h0m-.5-1h0m0 1h0m0 1h0m-.5-1.5h0m-.5 0h0m-.5 0h0m-.5 1h0m-.5-2h0m0 2h0m-.5 .5h0m0-1.5h0m-.5 .5h0m-.5-1h0m0 2h0m0-1.5h0m-.5 1.5h0m-.5 0h0m0-1.5h0m-.5 .5h0m0-1.5h0m-.5 1h0m-.5-.5h0m0-.5h0m0 1h0m-.5-1h0m-.5 1.5h0m0 1h0m-.5 0h0m-.5-2h0m0 1.5h0m-1-1.5h0m0 .5h0m-2.5 1h0m0-1h0m-.5-.5h0m0 1h0m-.5 1h0m-.5 0h0m0-2.5h0m-.5 2.5h0m0-1.5h0m-1-.5h0m-.5-.5h0m-1.5 .5h0m0 2h0m0-.5h0m-1-1.5h0m0-.5h0m-2.5 .5h0m0 2h0m-1-1h0m-1-1.5h0m-.5 2h0m0-.5h0m-1.5 0h0m0 1h0m0-2.5h0m-1 1.5h0m0-.5h0m-1 .5h0m-.5-1h0m0-.5h0m-2.5 .5h0m-.5 0h0m0 1h0m0 1h0m-.5-1.5h0m-.5 1h0m-.5 .5h0m-1-2h0m0 2h0m-.5-2.5h0m-.5 .5h0m0 1h0m-.5-.5h0m-8.5 1h0m-5-.5h0m-4-.5h0m-4-.5h0m-2 .5h0m-.5 0h0m-2 0h0m-6.5 1h0m-4 .5h0m-3-1.5h0m-3.5-1h0m0 1.5h0m-3 1h0m-8.5 2.5h0m2.5-1h0m6 0h0m6.5 1.5h0m15.5-1h0m4 0h0m.5-.5h0m2.5 1h0m5.5-1h0m1-.5h0m3 .5h0m3 0h0m2.5 .5h0m.5-1.5h0m0 1h0m1-.5h0m0 1h0m0 1h0m.5-1h0m1-1h0m2.5 2h0m.5 0h0m0-1.5h0m.5 1.5h0m0-2.5h0m0 1h0m.5 .5h0m0-.5h0m.5 1.5h0m0-2.5h0m0 2h0m0-1.5h0m.5 0h0m0 2h0m.5-2h0m0 1.5h0m.5-2h0m.5 2h0m0-.5h0m.5 1h0m0-1.5h0m0-.5h0m.5 1h0m0 1h0m0-2h0m.5-.5h0m0 .5h0m.5 1.5h0m0 .5h0m.5-.5h0m.5-2h0m2 1.5h0m0 1h0m.5-1h0m.5 1h0m.5 0h0m.5-1.5h0m.5 0h0m0-.5h0m.5 0h0m0 1.5h0m.5-1h0m.5 0h0m0-.5h0m.5 1.5h0m1-2h0m.5 1h0m.5-.5h0m.5 .5h0m0 1h0m0-1.5h0m1 2h0m.5-2.5h0m.5 2h0m1-2h0m2 1h0m.5-1h0m0 1h0m0 1h0m.5-2h0m.5 1h0m0 1h0m0 .5h0m.5 0h0m1.5-2.5h0m.5 1h0m0-.5h0m1 .5h0m.5-.5h0m.5 0h0m.5-.5h0m0 1.5h0m.5-1.5h0m0 2h0m1-1h0m0 1h0m.5 .5h0m0-1.5h0m0 1h0m.5 .5h0m0-.5h0m1.5-2h0m.5 0h0m.5 1h0m.5 0h0m.5 .5h0m0-.5h0m.5 1h0m0-.5h0m.5 0h0m0 1h0m.5 0h0m.5 0h0m.5-1.5h0m.5 1h0m.5 0h0m0 .5h0m0-2.5h0m1.5 2.5h0m1.5-2h0m1 .5h0m.5-.5h0m0-.5h0m.5 1.5h0m0 1h0m.5 0h0m.5-2.5h0m0 1h0m1-.5h0m.5 1.5h0m0-1.5h0m.5 .5h0m0 1h0m.5 .5h0m0-2.5h0m.5 .5h0m4 .5h0m.5 0h0m2 1h0m0-1.5h0m.5 .5h0m4 1h0m7 .5h0m3.5 0h0m4-1h0m3-1h0m1 .5h0m2-1h0m3 2.5h0m.5-1h0m7 1h0m.5-2.5h0m5 2h0m.5-1h0m2-.5h0m10.5-.5h0m1 1.5h0m0 1h0m7-1.5h0m.5-.5h0m1-.5h0m1.5 1h0m1.5 .5h0m1.5-1h0m1.5-.5h0m2 0h0m4 2.5h0m4.5-1h0m.5 0h0m1.5 1h0m2-1.5h0m1.5 .5h0m.5 .5h0m2-.5h0m2.5 1h0m2-.5h0m2.5 .5h0m1-.5h0m2 0h0m17.5-1.5h0m1.5 .5h0m3.5-1h0m.5 2h0m12-2h0m3 1.5h0m.5 0h0m12.5-1h0m7 0h0m4-.5h0m6 0h0m-3 3.5h0m-5 0h0m-10 2h0m-13 0h0m-3-2h0m-2.5 2h0m-2.5 0h0m-3.5-2.5h0m-5 2.5h0m-5.5-.5h0m-.5 0h0m-16-2h0m-2 1.5h0m0 1h0m-1-1.5h0m-.5 1h0m-3.5 .5h0m-.5 0h0m-.5-1h0m-1-1.5h0m-.5 .5h0m-.5 0h0m-1-.5h0m-4 1h0m-.5 .5h0m-11-1h0m-8 1.5h0m-7 .5h0m-6-1h0m-15.5 0h0m-2 1h0m-.5-2h0m-.5-.5h0m-2.5 2.5h0m-.5 0h0m-.5-.5h0m-1 .5h0m-2.5-.5h0m-2-1.5h0m-3 1.5h0m-7-1.5h0m-1.5 0h0m-4 0h0m-3 1h0m-8-1h0m-2 1h0m0 1h0m0-.5h0m-.5-2h0m-.5 1.5h0m0 1h0m0-2.5h0m-.5 2.5h0m0-2.5h0m-.5 0h0m0 1h0m-.5 .5h0m-.5-1.5h0m0 1h0m0 1h0m-.5-1.5h0m-.5 1h0m0-.5h0m0 1h0m-.5-1h0m-.5 .5h0m0-.5h0m-.5 1.5h0m0-2.5h0m-.5 2h0m-1.5-.5h0m-.5-1h0m0-.5h0m-.5 0h0m-1 .5h0m0 1.5h0m-.5-1.5h0m-1 2h0m-1.5-2h0m-.5-.5h0m-.5 .5h0m0 2h0m-.5-1.5h0m0 1h0m0-2h0m-.5 1.5h0m-.5-1.5h0m0 .5h0m-.5 1h0m0-.5h0m-.5 0h0m-1 .5h0m0 1h0m-1-2.5h0m-.5 1.5h0m0-.5h0m-.5-1h0m0 2h0m-.5 0h0m0-1.5h0m-1.5 .5h0m0 1h0m-.5-.5h0m0-1h0m-.5 0h0m-.5 0h0m-.5 1h0m0 1h0m0-1.5h0m-.5 0h0m-.5 .5h0m0 1h0m0-2.5h0m0 2h0m-4.5 0h0m-.5-1.5h0m-.5-.5h0m-.5 1h0m-1.5 1.5h0m-.5-1.5h0m0 1h0m-1-1.5h0m-1 .5h0m-1 1.5h0m0-1.5h0m0-.5h0m-.5 1h0m0-1.5h0m-.5 0h0m-.5 0h0m-1 .5h0m0-.5h0m0 1h0m-.5 1h0m-.5-1h0m-.5 0h0m0-1h0m-1 1.5h0m-1 .5h0m-.5-2h0m-.5 2.5h0m-.5-.5h0m-.5 0h0m-.5-.5h0m0-.5h0m-.5 .5h0m-1-1h0m-1 1.5h0m-1-1h0m-.5 1h0m0-2h0m0 1h0m-1-.5h0m0 1h0m0-1.5h0m0 2h0m-1 .5h0m-.5-2.5h0m-.5 0h0m-10 1.5h0m-4.5-1.5h0m-7.5 2h0m-2.5-2h0m-1 1.5h0m-4 0h0m-7-1.5h0m-4 2h0m-3 0h0m-.5 0h0m-3.5-2h0m-4 0h0m-.5 1.5h0m.5 2h0m7.5 2h0m.5-1h0m7.5-1.5h0m4.5 2.5h0m9.5 0h0m4-1.5h0m6 0h0m6.5 1h0m2.5 0h0m3-2h0m0 1.5h0m.5 1h0m.5 0h0m.5-2.5h0m0 1h0m0 1h0m1 .5h0m0-2h0m.5 1h0m1.5-1.5h0m1.5 2.5h0m0-.5h0m0-.5h0m1-.5h0m0 1h0m.5-2h0m.5 2.5h0m1-2.5h0m0 2.5h0m1-.5h0m1-2h0m0 1h0m.5-.5h0m.5 2h0m0-.5h0m1-.5h0m1 1h0m.5-2.5h0m0 1h0m.5-.5h0m.5 1h0m1-1h0m0 2h0m.5-1h0m1-.5h0m0-.5h0m.5 1.5h0m1.5-1.5h0m0 .5h0m1 1h0m.5-2h0m0 1h0m.5 .5h0m0 1h0m0-.5h0m2 .5h0m.5-2.5h0m1.5 1h0m0 .5h0m.5 .5h0m.5-2h0m.5 0h0m0 2h0m.5-1.5h0m.5 0h0m.5 0h0m1 0h0m0 1h0m0 1h0m1-1.5h0m0 .5h0m0 1h0m.5-2.5h0m0 2h0m.5 0h0m0-.5h0m0 1h0m1-.5h0m.5 .5h0m.5-2.5h0m1 0h0m0 2h0m.5-1h0m1 0h0m.5 1h0m.5-1h0m1-.5h0m.5 2h0m0-.5h0m0-.5h0m1 0h0m.5 .5h0m0-.5h0m.5 1h0m0-2.5h0m1 1.5h0m.5-1h0m1 1.5h0m0-1.5h0m.5 2h0m.5-2.5h0m1 1h0m0-.5h0m0 2h0m1-1h0m0-1.5h0m.5 2h0m1.5-1.5h0m.5 0h0m0 1h0m1.5 .5h0m0 .5h0m8-2.5h0m20.5 .5h0m3 0h0m9 2h0m6 0h0m4.5-1h0m5.5-1h0m.5-.5h0m12 1.5h0m.5 1h0m11-1.5h0m3.5 .5h0m1 1h0m0-2h0m1 2h0m3-1.5h0m2 0h0m0-.5h0m2.5 1h0m1-1.5h0m1 0h0m1 2h0m6-2h0m1 2h0m1-1h0m.5-.5h0m15 1.5h0m0-.5h0m4 1h0m1-.5h0m3.5-.5h0m2.5-.5h0m7.5 1.5h0m2.5-2.5h0m9 .5h0m7 0h0m4 .5h0m16 2h0m-5.5 2h0m-40 0h0m-1.5-.5h0m-6 .5h0m-3.5 .5h0m-9-1.5h0m-4-1h0m-2 2h0m-2.5 .5h0m-.5 0h0m-1.5-2h0m-3 .5h0m-1-.5h0m0 2h0m-1 0h0m-4.5-2h0m-1-.5h0m-1 1.5h0m-1 0h0m-1-1h0m-.5 .5h0m-.5 .5h0m0 1h0m-2-1.5h0m-.5 1h0m0-.5h0m-2-1.5h0m-3 .5h0m-.5 2h0m-7.5-.5h0m-9.5 0h0m-.5 .5h0m-3.5-.5h0m-.5-2h0m-9 0h0m-1.5 .5h0m-7 .5h0m-5.5-1h0m-4 0h0m-1 2.5h0m-8-2.5h0m-1 2h0m-4-.5h0m-7.5 0h0m-6.5 .5h0m-2 .5h0m0-2.5h0m0 2h0m-1-1.5h0m0 1h0m-2-1h0m0 1h0m0 1h0m-2 0h0m0-2.5h0m-.5 2.5h0m0-2.5h0m-.5 0h0m-.5 1.5h0m-.5-1.5h0m-.5 .5h0m0-.5h0m0 1h0m-.5-.5h0m0 1h0m0-.5h0m-1-1h0m-1 1.5h0m0 1h0m-1.5 0h0m-.5-2.5h0m-.5 0h0m0 1h0m0 1h0m-1-1h0m0 .5h0m-1 .5h0m-.5-1h0m-1.5 .5h0m0 1h0m-1-2.5h0m-.5 .5h0m0 2h0m0-2.5h0m-.5 2.5h0m0-.5h0m-1-1h0m0-.5h0m-.5 1.5h0m-2-1h0m0 1h0m-.5-1.5h0m-.5 1.5h0m-.5-.5h0m-1 1h0m0-.5h0m-1.5-2h0m-1 2h0m-1-.5h0m-1.5-1h0m0 1h0m0-.5h0m-.5 1.5h0m-.5-1h0m-.5 0h0m0 1h0m0-.5h0m-.5-1h0m-.5 .5h0m0-1.5h0m0 1h0m-2 1.5h0m-1.5-.5h0m0-1.5h0m-.5 .5h0m-.5 1h0m-.5-2h0m-1 2h0m-.5 .5h0m-.5-.5h0m0 .5h0m-.5-1.5h0m-.5 .5h0m0-.5h0m-.5 .5h0m0 1h0m-.5-1.5h0m0-.5h0m-.5 1.5h0m-.5-2h0m-.5 2.5h0m-.5-2h0m-.5 1.5h0m-.5 0h0m-2-.5h0m-1.5 0h0m0 1h0m-.5-2h0m-1.5 1.5h0m-1-1.5h0m-.5 1h0m-15.5 .5h0m-15 0h0m-1 .5h0m-.5-1h0m-1-.5h0m-5.5 1h0m-2-1h0m-1 0h0m-2.5-.5h0m-.5 .5h0m-4.5 0h0m-2.5 0h0m6.5 2.5h0m2.5 1.5h0m14.5 0h0m5-1h0m3 1h0m17-1.5h0m3 2h0m1.5-1.5h0m.5 .5h0m.5-1.5h0m.5 1.5h0m2.5 1h0m0-1.5h0m1 1.5h0m.5-2.5h0m0 2h0m1-.5h0m1-1h0m.5 1h0m.5 1h0m0-.5h0m1 .5h0m0-1h0m1.5 0h0m.5 0h0m.5 .5h0m.5-1h0m0 .5h0m1-.5h0m.5-1h0m0 1h0m.5 1.5h0m0-2.5h0m.5 0h0m1 1.5h0m1 .5h0m.5 0h0m0-1.5h0m.5 1h0m.5-.5h0m0 1.5h0m.5-2.5h0m0 2h0m1-1.5h0m.5-.5h0m0 1h0m0 1h0m1-1h0m1 1h0m.5-.5h0m2-1h0m.5 1h0m.5-.5h0m0 1h0m0-.5h0m1 .5h0m0-1.5h0m0 2h0m0-2.5h0m.5 2h0m1 0h0m.5-1h0m.5-1h0m.5 1h0m1.5 0h0m0 1.5h0m.5-2h0m0 1h0m.5-1.5h0m.5 2.5h0m0-2h0m1.5 1h0m1 1h0m.5-2h0m1.5 .5h0m.5-1h0m1 2h0m0 .5h0m.5 0h0m.5-.5h0m.5-1.5h0m0-.5h0m.5 1h0m0-.5h0m.5 2h0m.5-2h0m0 1h0m1-1h0m.5 1h0m1-1.5h0m1 1.5h0m0 1h0m1-1h0m.5 1h0m0-1.5h0m0 1h0m.5-1h0m1.5-.5h0m0 1h0m0 1h0m0-2.5h0m5.5 2h0m16.5 .5h0m4-.5h0m3-1.5h0m5 0h0m7.5 1h0m2 0h0m1-1.5h0m4 0h0m0 2.5h0m9-.5h0m4-1h0m4 1h0m11 .5h0m4.5 0h0m3.5 0h0m2-1.5h0m2 1.5h0m2.5-2.5h0m0 1h0m1.5-1h0m.5 2h0m.5-2h0m0 1h0m.5-1h0m2.5 2.5h0m.5-1h0m.5-1.5h0m0 1h0m0 1h0m.5-1.5h0m1 .5h0m0-.5h0m1.5 1h0m.5-1h0m3 .5h0m1-1h0m.5 1h0m.5 .5h0m9.5 .5h0m8-1.5h0m4.5 2h0m1.5-1.5h0m8 .5h0m10.5 .5h0m20 .5h0m3.5-2.5h0m10 2h0m-5 2h0m-20.5 0h0m-1 0h0m-2 1h0m-47.5-2h0m-.5 1.5h0m0-.5h0m-1 .5h0m-.5 0h0m0 1h0m-2-1h0m-2 1h0m-2-2h0m0 1.5h0m-2-1.5h0m0 1h0m-2 1h0m-.5 0h0m-1-2h0m-.5 0h0m-2 2h0m-1-2h0m-1.5 1.5h0m-1 .5h0m-1-2h0m-2.5-.5h0m-1 2.5h0m-7.5-.5h0m-3.5-2h0m-4.5 2h0m-1 .5h0m0-1.5h0m-6 1h0m-7 .5h0m-2.5-1h0m-.5-.5h0m0 1h0m-1-1.5h0m-2.5-.5h0m-3.5 .5h0m-1 1h0m-.5-1.5h0m-2.5 1.5h0m-1.5-.5h0m-3.5 1h0m-1-.5h0m0 1h0m-2.5-.5h0m0-1.5h0m-24.5-.5h0m-4.5 .5h0m-.5 1.5h0m-.5-1h0m-1.5-1h0m0 1h0m0 .5h0m-1.5-.5h0m-.5 .5h0m0-.5h0m-.5 .5h0m0 .5h0m-.5-1.5h0m-.5 2h0m0-.5h0m-2-1h0m-.5-1h0m0 1h0m0-.5h0m0 1h0m-1.5 1h0m0-1.5h0m-.5 .5h0m0 .5h0m-.5-2h0m0 1h0m0 1h0m-.5-.5h0m0-.5h0m0 1h0m-1-2h0m0 2h0m-.5-1.5h0m0 2h0m-.5-2.5h0m-.5 .5h0m-.5 1h0m0-.5h0m0 1h0m-.5-1h0m-.5 .5h0m0 1h0m0-1.5h0m-1-1h0m-1 1.5h0m-1-1h0m0-.5h0m-1 1h0m-1 1h0m-.5-2h0m-.5 0h0m-.5 .5h0m-.5 1h0m-.5-1h0m-.5 1h0m-.5-1.5h0m0 1h0m-.5 .5h0m0 .5h0m-1.5 .5h0m0-2.5h0m-.5 1.5h0m0 .5h0m-1-1.5h0m-1.5-.5h0m0 2h0m-.5-1.5h0m-.5 2h0m-.5-2.5h0m0 1h0m-.5 1.5h0m-2.5-.5h0m-.5-.5h0m-.5-.5h0m-1 1.5h0m-.5-1.5h0m-1-.5h0m0 2h0m-.5-2.5h0m-2.5 1h0m-.5-1h0m0 2h0m-.5-2h0m0 2h0m-.5-1h0m-.5-.5h0m0-.5h0m-.5 1h0m0 1h0m0-.5h0m-.5-1h0m0 1.5h0m-1-1.5h0m-1.5 1h0m0-1.5h0m-.5 0h0m0 2h0m-1-1.5h0m0 1h0m-.5-1.5h0m-2 .5h0m-.5 .5h0m-16 0h0m-2 1h0m-1 0h0m-11 .5h0m-4.5-2h0m-2.5 0h0m-13 2h0m-2-1.5h0m-1.5 3.5h0m8.5 1h0m2-2h0m2 1.5h0m3.5 0h0m12.5-2h0m24.5 2.5h0m.5-2h0m0 1h0m.5-.5h0m1-.5h0m.5 1h0m.5-1h0m2 1.5h0m0-1.5h0m1.5 .5h0m0 .5h0m0-1.5h0m.5 1h0m1 .5h0m1 .5h0m1.5-1h0m0-.5h0m0 2h0m.5 0h0m.5-2h0m0 2h0m.5-1.5h0m.5 0h0m.5-1h0m1 1.5h0m1.5-.5h0m0 1.5h0m1-2.5h0m3 .5h0m3.5 2h0m1.5-2.5h0m1.5 0h0m0 2h0m.5-2h0m.5 1.5h0m1 1h0m1-.5h0m.5-.5h0m.5-1h0m.5 2h0m.5-1h0m.5 1h0m.5-1h0m1-.5h0m1-1h0m1 .5h0m0-.5h0m3.5 2h0m0-2h0m1 1h0m.5-1h0m1 1h0m.5 1.5h0m.5-1h0m.5 .5h0m.5-1.5h0m0 1h0m.5 0h0m1.5 .5h0m.5-1h0m.5-.5h0m0 .5h0m.5 0h0m.5-.5h0m.5 0h0m3 1h0m0-.5h0m14.5 1.5h0m11-1h0m4 1h0m.5 0h0m.5-2h0m1.5 2h0m1.5-.5h0m.5-1.5h0m1 0h0m1.5 2h0m1.5-1h0m1.5-.5h0m.5-1h0m0 1h0m.5 .5h0m.5 0h0m2-1.5h0m2.5 0h0m.5 1h0m.5-1h0m.5 1h0m1.5 .5h0m.5 1h0m1 0h0m1.5-2.5h0m.5 2h0m.5 .5h0m12-1.5h0m2.5 .5h0m14.5 1h0m1-1.5h0m.5 0h0m1.5 0h0m.5 1.5h0m0-.5h0m.5-1.5h0m3.5 1.5h0m1.5-.5h0m1.5-1h0m.5 0h0m1 1.5h0m1 .5h0m2-2.5h0m0 2h0m0-1.5h0m4-.5h0m1 1.5h0m.5 1h0m.5-2h0m0 2h0m1-.5h0m.5-1.5h0m0 1h0m0 1h0m.5 0h0m0-1.5h0m.5-.5h0m5.5-.5h0m6.5 1.5h0m.5 1h0m9 0h0m.5-.5h0m1.5 .5h0m1.5-1h0m6 .5h0m8 .5h0m2-.5h0m8-2h0m10 2.5h0m9.5-2h0m4.5 5h0m-3-1.5h0m-21.5-.5h0m-2.5 0h0m-2 1.5h0m-7.5 .5h0m-4.5 0h0m-6-2h0m-2.5 2h0m-15-2h0m-8 0h0m-1 1h0m-.5 .5h0m-2-.5h0m0 1h0m-.5-1h0m-1.5 0h0m-.5-1h0m-.5 0h0m-1 0h0m-2.5 0h0m0 .5h0m-.5-.5h0m0 2h0m-.5 0h0m-1-.5h0m-.5-1.5h0m-4 .5h0m-1 1h0m-1 0h0m-1 .5h0m0-.5h0m-.5-.5h0m-2-1h0m-2 1h0m0 .5h0m-.5-1.5h0m0 1h0m0-.5h0m-.5 0h0m-3 1.5h0m-25-2.5h0m0 1h0m-1-.5h0m-1.5-.5h0m-4.5 1.5h0m-.5 0h0m-.5 1h0m-2.5-2.5h0m-2.5 1.5h0m-1.5-1h0m-.5 1.5h0m-1.5-2h0m0 1h0m-.5-1h0m-.5 1h0m-2.5-1h0m-1.5 1h0m-1 1.5h0m-2-1.5h0m-28 1.5h0m-2.5-1.5h0m-.5 1h0m-.5-1.5h0m0 2h0m-.5-.5h0m-3-2h0m-.5 0h0m-1 2.5h0m-2-1h0m-.5 1h0m-1 0h0m-1-.5h0m-.5-1.5h0m-.5 0h0m0 1.5h0m-2.5 .5h0m-.5 0h0m-.5 0h0m-.5-1.5h0m-.5 .5h0m-.5-1.5h0m-.5 2.5h0m0-.5h0m-3-1h0m-.5-.5h0m-.5 1.5h0m-1-2h0m-3 1h0m-1 .5h0m-.5 0h0m-.5-1h0m-2 1h0m-1-1.5h0m0 1h0m-.5 1.5h0m0-2.5h0m-.5 1h0m-.5 .5h0m0-1.5h0m0 1h0m-2.5-.5h0m-.5 .5h0m-2-1h0m-.5 0h0m-2 2.5h0m-.5-1h0m-1 1h0m-.5-2.5h0m-1 1.5h0m0 1h0m-.5-.5h0m-1-.5h0m-.5 .5h0m-.5 0h0m-29.5 0h0m-3 0h0m-9.5-.5h0m-.5-1h0m-10.5 .5h0m-1.5 2.5h0m7.5 1.5h0m1.5 .5h0m.5-1h0m34 0h0m7.5-1.5h0m1.5 1h0m0-.5h0m1-.5h0m0 1.5h0m2 .5h0m.5 0h0m.5-1h0m1.5 .5h0m0 1h0m2-1h0m1 0h0m1-1h0m1.5 2h0m1.5-2.5h0m0 1h0m1.5 1h0m2-2h0m0 1.5h0m1.5 0h0m1 0h0m1.5-.5h0m1.5-1h0m1 2.5h0m3.5-2h0m2 .5h0m2 .5h0m1 1h0m0-1.5h0m1 1h0m2.5-1.5h0m1 1h0m1.5 0h0m.5 0h0m2-1h0m3-.5h0m.5 0h0m1.5 2.5h0m3.5-2h0m.5 2h0m.5 0h0m28-2.5h0m1 1h0m.5 0h0m.5-.5h0m1 1.5h0m2.5-.5h0m8-1.5h0m.5 2h0m3.5-.5h0m.5-.5h0m.5-1h0m0 2h0m2 0h0m.5 .5h0m1.5-.5h0m1-2h0m29 0h0m1 0h0m1 2.5h0m0-2.5h0m.5 0h0m0 2h0m0-1.5h0m1 2h0m.5 0h0m0-2.5h0m1 1.5h0m.5 .5h0m1 0h0m.5-1.5h0m1 2h0m1.5-2h0m0-.5h0m1 2h0m1-1.5h0m0 2h0m.5-.5h0m0 .5h0m.5 0h0m.5-2h0m.5 .5h0m0 1h0m0-1.5h0m1.5 1h0m1-1h0m1 1h0m.5-1.5h0m1 2.5h0m1-.5h0m.5-.5h0m.5 1h0m0-.5h0m.5-1h0m.5-.5h0m0 1h0m1 .5h0m.5-2h0m13 0h0m2.5 2h0m4.5-1.5h0m5 2h0m13.5 0h0m.5 0h0m3.5-1h0m1.5 .5h0m7-1h0m22 1h0m3-1h0m2 1h0m-31.5 1.5h0m-2 2h0m-1-2.5h0m-6 .5h0m-4.5 .5h0m-1 1h0m-13 0h0m-7.5-1h0m-1-.5h0m-.5 1h0m-10.5 .5h0m-1-1h0m0 1h0m0-.5h0m-1.5-1.5h0m-.5 2h0m-.5-1.5h0m0 1h0m-.5-.5h0m-.5 1h0m-.5 .5h0m-.5-1.5h0m0 1.5h0m-1-2h0m0 1h0m0 1h0m-.5 0h0m0-1.5h0m-.5-.5h0m-1.5 1.5h0m-.5-2h0m0 2h0m-.5-.5h0m0-1.5h0m-.5 2.5h0m-.5-1h0m0 1h0m-.5-2.5h0m-.5 1.5h0m-1-1.5h0m-2.5 .5h0m-.5 1.5h0m-1 0h0m-3-1.5h0m-.5 0h0m-.5 2h0m-1-1h0m0-.5h0m0 1h0m-.5 .5h0m-11.5-1h0m-18-.5h0m-3.5-.5h0m-3-.5h0m-1.5 1h0m-.5 1h0m-2-.5h0m-2.5-1h0m-1-.5h0m-.5 1h0m-3.5 1.5h0m-.5-2.5h0m-1.5 2.5h0m-1-1.5h0m-31.5-1h0m-2 2.5h0m-1-.5h0m-.5-1.5h0m-4 0h0m-1 1.5h0m-.5-1h0m0 1h0m-1-.5h0m0-1.5h0m-1 1h0m-2-.5h0m-.5-.5h0m-3 2.5h0m-.5-1h0m-1.5 0h0m-3 .5h0m-1-1.5h0m-2 1h0m-.5 0h0m-.5-1h0m-.5 2h0m-.5-.5h0m-.5 0h0m0-1.5h0m-2.5 2h0m-2-1.5h0m-.5-1h0m-1 2.5h0m-1-1.5h0m-1-.5h0m-5.5 1h0m-2.5 1h0m-1.5-1.5h0m0 1h0m-1 .5h0m-1.5-1h0m-.5-1h0m-1.5-.5h0m-.5 0h0m-29.5 2h0m-8.5-1h0m-8-.5h0m34 3h0m15 2h0m1-.5h0m0-1.5h0m4 1.5h0m.5 .5h0m.5-2h0m.5-.5h0m7 2h0m2 0h0m.5-1.5h0m1.5-.5h0m.5 0h0m8 0h0m3 2.5h0m.5-1h0m0 1h0m3 0h0m3.5-1.5h0m1 0h0m3 0h0m3 .5h0m.5-.5h0m1.5 .5h0m1-1.5h0m.5 0h0m1.5 .5h0m28 0h0m0 1.5h0m.5-2h0m2 2h0m1-.5h0m.5-.5h0m5 1h0m2-2h0m1 2.5h0m0-1.5h0m0-.5h0m1 1.5h0m1.5-1.5h0m0 1h0m2.5-1.5h0m.5 1.5h0m1 0h0m.5 0h0m0 .5h0m1.5 0h0m1.5 0h0m11-.5h0m5.5-.5h0m8 .5h0m6.5 1h0m.5-.5h0m0 .5h0m.5-2h0m0 2h0m0-1.5h0m0 1h0m1.5 0h0m.5-.5h0m0 .5h0m.5-.5h0m.5-1.5h0m.5 2h0m0-1.5h0m0 1h0m0-1.5h0m.5 1h0m1 0h0m.5 .5h0m1 .5h0m0-.5h0m1 1h0m1 0h0m.5-1.5h0m0-.5h0m.5-.5h0m2.5 1h0m0-.5h0m1 1.5h0m.5-2h0m.5 2.5h0m0-1.5h0m0 1h0m2-1h0m1.5 1.5h0m0-2.5h0m1.5 .5h0m1 1.5h0m0-1.5h0m.5 .5h0m0-1h0m.5 0h0m.5 .5h0m0-.5h0m0 1h0m.5 1h0m.5 0h0m0-1.5h0m0 2h0m2.5-1.5h0m2 0h0m6 1.5h0m20.5-1h0m7 .5h0m8-.5h0m1.5-1.5h0m17 2h0m12-.5h0m1 4h0m-26-1.5h0m-1 1.5h0m-4.5-2.5h0m-4.5 .5h0m-7.5 1h0m-7 1h0m-.5-1h0m-.5-.5h0m-9 1h0m-1 0h0m-15 .5h0m-1.5-1h0m0-.5h0m-.5-1h0m0 2h0m0 .5h0m-1.5 0h0m-.5-.5h0m-1-1h0m-2 1h0m-1.5-1h0m-.5 1h0m-.5 0h0m-1-.5h0m0-.5h0m-.5-.5h0m-1 .5h0m-1.5 1.5h0m-.5 0h0m-1-1.5h0m-2.5-.5h0m0 2h0m0-2.5h0m0 1h0m-.5-1h0m0 2h0m0-1.5h0m0 1h0m-.5-1h0m0 .5h0m-.5 0h0m0 1h0m-.5-2h0m-.5 0h0m0 .5h0m-.5 2h0m-.5-1h0m0-1.5h0m0 1h0m-1-1h0m-.5 2.5h0m0-1.5h0m-.5 1.5h0m0-.5h0m-.5-1.5h0m-.5-.5h0m0 2h0m-.5 .5h0m-.5-2.5h0m-31.5 1h0m-.5 1.5h0m-3.5-1h0m-1 0h0m-5.5-1.5h0m-1 .5h0m-1.5 1.5h0m-4-1h0m-.5-1h0m-3 .5h0m-28.5 1.5h0m-.5-.5h0m-1-1h0m0 1h0m-5-.5h0m-1 0h0m-4.5-1h0m0 1h0m-1 0h0m-2 0h0m-3 1h0m-.5-.5h0m-1.5-.5h0m-.5-.5h0m-2 1.5h0m-1 0h0m-3-.5h0m0 1h0m-.5-1.5h0m-1.5 0h0m-.5-.5h0m-.5 2h0m0-2h0m-4.5 1h0m0-.5h0m-2-.5h0m-.5 1h0m0 1h0m-2-2h0m-5 1.5h0m-3.5 0h0m-1-2h0m-1 2h0m0-2h0m-25 1.5h0m-1 0h0m-4-.5h0m-19 4h0m50.5 0h0m2-2h0m0 1h0m4 0h0m3.5 .5h0m3.5 1h0m2-.5h0m1.5-1.5h0m2 0h0m0-.5h0m2.5 2h0m2.5-2h0m1.5 .5h0m6-.5h0m3 1h0m0 1h0m1.5-1h0m.5-1h0m1.5 .5h0m1.5 .5h0m1.5 0h0m.5 .5h0m.5-1h0m0 2h0m4.5 0h0m0-1.5h0m1.5-.5h0m4 1.5h0m24 .5h0m1-2h0m2.5 .5h0m.5 0h0m1.5-1h0m.5 2h0m5-2h0m.5 1.5h0m1.5-1h0m.5 1h0m1-.5h0m.5 1.5h0m2.5-1h0m5-1.5h0m1.5 2h0m19 0h0m6.5-1h0m0-.5h0m3-.5h0m.5 .5h0m.5 0h0m1 1h0m0-.5h0m.5-.5h0m.5 .5h0m0 1.5h0m1-1.5h0m.5 1h0m0-1h0m.5 .5h0m0 1h0m1 0h0m.5-2.5h0m1.5 .5h0m1.5 0h0m0 1h0m0 1h0m.5-1.5h0m0 1.5h0m.5-1.5h0m.5-1h0m0 .5h0m0 2h0m.5 0h0m2-1h0m1 .5h0m.5-.5h0m.5 .5h0m.5 0h0m0-.5h0m.5 1h0m.5-.5h0m0-.5h0m.5 .5h0m1-1h0m.5 0h0m0-.5h0m0 1h0m.5 .5h0m1-1.5h0m2.5 2h0m.5 0h0m1-.5h0m.5-1h0m4 0h0m0 1h0m.5-1h0m15 0h0m12.5 1h0m6.5-1.5h0m7 1.5h0m5.5-1.5h0m0 1.5h0m1.5-2h0m19.5 2h0m5-1h0m-1.5 3.5h0m-1 0h0m-8 1h0m-17-1.5h0m-4 0h0m-5.5-.5h0m-15.5 1.5h0m-2.5-2h0m-1 2h0m-1 0h0m-.5-.5h0m-9.5 1h0m-11 0h0m0-1.5h0m0-.5h0m-1 1h0m0 .5h0m-1-2h0m-1 .5h0m-.5 .5h0m0-.5h0m-.5 .5h0m-.5 1.5h0m0-.5h0m-.5-.5h0m-.5 .5h0m-.5 0h0m-1-.5h0m0-.5h0m-.5-1h0m0 1h0m-1-1h0m-.5 1.5h0m-1-1.5h0m-.5 2.5h0m-1-1h0m0-.5h0m-.5-.5h0m0 2h0m-.5-2.5h0m-.5 2h0m-1.5 .5h0m-.5-.5h0m-1.5-1.5h0m0 1h0m-.5-1.5h0m-1 2.5h0m0-2.5h0m-.5 2.5h0m0-2.5h0m0 1.5h0m-1.5 .5h0m-.5-2h0m-.5 2h0m0-1.5h0m-.5 1h0m-.5-1h0m-.5 0h0m0-.5h0m0 1h0m-.5 .5h0m0 1h0m-.5 0h0m-.5-1h0m-9 .5h0m-2-.5h0m-4.5 0h0m-17.5-1.5h0m-1.5 1h0m-1.5 1.5h0m-2-1h0m-4-1h0m-1 1h0m-6 0h0m-2.5 .5h0m-9.5-2h0m-24 1.5h0m-5 0h0m-2-.5h0m-.5 .5h0m-2.5-.5h0m-7.5 .5h0m-1.5-1.5h0m-1 1.5h0m0 1h0m-3-2h0m-4.5 1h0m-1-.5h0m-4 1h0m-9.5-.5h0m-10.5-1.5h0m-28 2.5h0m-7-2.5h0m2.5 3h0m67.5 1h0m.5 0h0m0 1h0m6.5-1.5h0m3.5 1.5h0m2.5-.5h0m3-1h0m4.5 1.5h0m30.5-2h0m1.5 1h0m7 0h0m4.5 1h0m.5-1h0m.5 1.5h0m2-1h0m3 .5h0m0-1h0m1.5 1h0m.5-.5h0m1-1h0m14.5 0h0m15.5 0h0m.5 2h0m0-2h0m.5-.5h0m0 2h0m0-1.5h0m.5 0h0m.5 1.5h0m2-1.5h0m0-.5h0m.5 2h0m0-.5h0m.5 0h0m0-.5h0m.5 .5h0m0 1h0m.5-.5h0m0-.5h0m0-1.5h0m.5 2.5h0m.5-2h0m0-.5h0m.5 1h0m0 1.5h0m0-2.5h0m.5 0h0m0 1h0m0 1h0m0-1.5h0m.5 2h0m.5-2.5h0m.5 .5h0m0 1.5h0m.5-1h0m0 1h0m0 .5h0m0-2.5h0m1 2h0m.5 0h0m.5-1.5h0m.5 1.5h0m.5-1h0m.5-.5h0m0 .5h0m.5-.5h0m.5 2h0m.5-1.5h0m.5 0h0m.5 1h0m1-1.5h0m.5 1.5h0m.5-1h0m0 1h0m.5-2h0m0 1h0m0 1h0m0-1.5h0m0 2h0m.5-1.5h0m0 1h0m.5-1h0m.5 1.5h0m.5-1.5h0m0 .5h0m.5-1h0m0 1h0m.5 .5h0m.5-2h0m.5 0h0m1.5 1h0m.5 1.5h0m3-2.5h0m12.5 2h0m1.5-2h0m13.5 1h0m9 1h0m.5-1h0m4-.5h0m16 1h0m2-1.5h0m11 1.5h0m0 3.5h0m-5.5-1h0m-22 1.5h0m-7-2.5h0m-19 1.5h0m0 1h0m-.5-2h0m-15.5 .5h0m-4 0h0m0 .5h0m-.5-1.5h0m0 1h0m-.5 0h0m-1.5 .5h0m-.5-1h0m-.5 1h0m-1-.5h0m0-.5h0m0 1h0m-.5-1h0m0 1h0m-.5-.5h0m0 1h0m-.5 .5h0m0-1.5h0m-1-1h0m0 .5h0m-.5 .5h0m0 .5h0m-.5 1h0m-.5-2.5h0m-.5 1h0m-.5 1.5h0m0-2.5h0m-.5 2h0m0-1.5h0m-.5-.5h0m-.5 1h0m0 1h0m0-1.5h0m-1 1h0m0 1h0m0-.5h0m-.5-2h0m0 1h0m0 1h0m-.5 0h0m-1-2h0m-1 .5h0m0 1h0m-.5-1h0m0 1h0m-.5-.5h0m0 1h0m-2-2h0m-.5 0h0m-.5 .5h0m0-.5h0m-1 0h0m0 1.5h0m0 1h0m-.5-1.5h0m-1.5 .5h0m0 1h0m-.5-2h0m0 1h0m0-1.5h0m-.5 1.5h0m0 1h0m0-1.5h0m-.5-.5h0m-16 2h0m-13.5-2h0m-7.5-.5h0m-1 1h0m0-1h0m-7.5 0h0m-.5 1h0m-.5-1h0m0 1h0m-1.5-1h0m-1.5 0h0m-43 0h0m-1 0h0m-16 2h0m-13-.5h0m0-.5h0m-2.5-.5h0m-35 2.5h0m67.5 2.5h0m3.5-2h0m4.5 1.5h0m32-1h0m1 0h0m2-1h0m10 1.5h0m.5 .5h0m2-.5h0m1.5 0h0m3-1h0m2.5 1.5h0m29-1h0m0 .5h0m.5-1h0m0 2h0m0-2.5h0m.5 1.5h0m0 1h0m.5 0h0m.5-.5h0m.5-.5h0m0 1h0m1-2.5h0m.5 2.5h0m0-2.5h0m1 1h0m0 .5h0m0 1h0m.5-1h0m0 1h0m.5-.5h0m0-1.5h0m.5-.5h0m.5 .5h0m0 1h0m0-.5h0m0 1h0m.5-1.5h0m.5 .5h0m.5 0h0m1.5-1h0m0 2.5h0m.5-2h0m0 1h0m.5 .5h0m.5 0h0m0-1.5h0m0 .5h0m.5-.5h0m0-.5h0m.5 1h0m.5-.5h0m0 1.5h0m.5-1.5h0m.5 1.5h0m0 .5h0m.5 0h0m0-1.5h0m.5-.5h0m0 2h0m.5 0h0m.5 0h0m0-2.5h0m.5 .5h0m0 2h0m0-2.5h0m1 2.5h0m0-2.5h0m.5 .5h0m.5 0h0m0-.5h0m.5 2h0m.5-1h0m0-.5h0m.5 1h0m0-1.5h0m.5 0h0m.5 .5h0m0 1h0m0 .5h0m.5 .5h0m0-1.5h0m.5 0h0m.5 0h0m0 1.5h0m.5-1h0m0 1h0m.5 0h0m0-2.5h0m.5 .5h0m.5 1.5h0m0 .5h0m8.5-1h0m13.5-1h0m2 1h0m1.5-1.5h0m4.5 0h0m6 1h0m8-.5h0m6.5 2h0m14-2h0m11 1h0m-.5 1.5h0m-3.5 2h0m-10-1.5h0m-1.5 2h0m-2.5-2.5h0m-10.5 2h0m-11-1h0m-7 .5h0m-8.5-.5h0m-7.5 1.5h0m-3 0h0m-10-2.5h0m0 .5h0m-.5 0h0m0-.5h0m0 1h0m-1-1h0m0 2h0m-.5 0h0m-1-2h0m-.5 2h0m-.5-.5h0m0-.5h0m-1 0h0m-1 1h0m-.5-2h0m0 1h0m0 1.5h0m-.5-.5h0m0-.5h0m-.5-.5h0m0-.5h0m-.5 1h0m0 1h0m-.5-2.5h0m0 1.5h0m-.5 0h0m0 1h0m0-2h0m-.5 0h0m-.5 2h0m0-2.5h0m0 2h0m-.5-2h0m0 1h0m0 1h0m-.5 0h0m0 .5h0m0-1.5h0m-.5-.5h0m0 1h0m-1 0h0m0 1h0m-.5-2.5h0m0 .5h0m-.5 .5h0m0 1h0m0-1.5h0m-.5 2h0m-.5-1h0m0 1h0m0-2.5h0m-.5 0h0m0 2h0m-.5-.5h0m-.5-1.5h0m-.5 0h0m0 .5h0m-1 0h0m-1 .5h0m-.5 1h0m0-1.5h0m-.5 1h0m0-1.5h0m0 1h0m0-.5h0m-.5 2h0m0-2.5h0m-.5 1h0m-.5 0h0m0 .5h0m-.5-1.5h0m0 .5h0m-.5 1h0m0 1h0m0-2.5h0m0 .5h0m-.5 1.5h0m0-1.5h0m-1.5 2h0m-.5-2.5h0m0 2h0m-9-1.5h0m-25 2h0m-47.5-1.5h0m-7 0h0m-2 1.5h0m-9-2.5h0m-21 1.5h0m-6.5 1h0m18 1h0m.5 0h0m11.5 2h0m15.5-1h0m29.5-.5h0m5 1.5h0m2-.5h0m2-.5h0m1 1h0m3-2h0m39 1h0m.5 .5h0m0-1.5h0m0-.5h0m.5 2h0m0-1h0m.5 1.5h0m1-.5h0m0-1.5h0m0 1h0m1 1h0m.5-1.5h0m.5 .5h0m0-1.5h0m0 1h0m.5 1h0m0-1.5h0m0 .5h0m.5 1h0m0-.5h0m0 1h0m0-1.5h0m1-.5h0m1 0h0m0 1h0m0 .5h0m.5 0h0m0-1.5h0m0 2h0m.5-1.5h0m0 .5h0m.5 .5h0m0-.5h0m.5 1h0m.5-2h0m.5 0h0m.5 1.5h0m0-1h0m.5-1h0m0 2h0m.5-1.5h0m.5 0h0m0 1h0m1-.5h0m0-.5h0m1-.5h0m.5 1.5h0m0-1.5h0m0 2h0m.5 0h0m0 .5h0m.5-2h0m0 1h0m0-1.5h0m.5 0h0m.5 1.5h0m0-1.5h0m0 2h0m.5-.5h0m0 1h0m.5-2h0m0 1h0m2 1h0m0-1.5h0m1 .5h0m.5-1h0m0 1h0m0 .5h0m.5-1.5h0m.5 1h0m0-1.5h0m.5 .5h0m0 .5h0m1-.5h0m.5 1h0m0-.5h0m.5 .5h0m0-.5h0m2 1.5h0m3-1.5h0m11 1h0m5.5 .5h0m4.5-1h0m1.5-1h0m8 .5h0m9.5-1h0m12 1h0m3-1h0m3 2.5h0m4-1h0m2 0h0m1-1h0m3.5 .5h0m-1.5 4h0m-3.5-1.5h0m-8 1.5h0m-13.5 0h0m-18.5-1h0m-17.5-.5h0m0 1h0m-11.5-.5h0m-.5 1.5h0m0-2.5h0m0 1h0m-.5-.5h0m0 1h0m-.5 1h0m0-2.5h0m-.5 0h0m-.5 0h0m0 2h0m0-1.5h0m0 1h0m0 1h0m-.5-2h0m0 2h0m-.5-1h0m-.5 1h0m0-2.5h0m0 1h0m0 1h0m-.5-2h0m-.5 0h0m0 1h0m0 1h0m-1.5-1.5h0m-.5 .5h0m-1 1h0m-.5 .5h0m0-1.5h0m0 1h0m-.5 0h0m-.5-2h0m0 1.5h0m-1.5 1h0m0-2.5h0m0 .5h0m0 1h0m-.5-1h0m-.5 0h0m-.5 1.5h0m-.5-1h0m0 1h0m-.5 .5h0m-.5-2.5h0m-.5 0h0m0 1h0m-1-1h0m-.5 .5h0m-.5 0h0m-.5-.5h0m-1 2h0m0-.5h0m0-1.5h0m-.5 .5h0m-.5 2h0m-.5-1h0m0 1h0m0-2.5h0m0 2h0m-.5-.5h0m0 1h0m-1-2.5h0m0 2h0m-.5-1.5h0m0 2h0m0-2.5h0m0 2h0m-.5-1h0m-.5 .5h0m0 1h0m0-2.5h0m0 .5h0m-.5 1.5h0m0-.5h0m-.5 0h0m-.5-.5h0m0 1h0m-37.5-1.5h0m-65.5 1.5h0m0-1.5h0m-11.5 1h0m-10.5 .5h0m-3.5 0h0m3 3h0m7.5-.5h0m30.5-1.5h0m50 2.5h0m37 0h0m.5-2h0m0-.5h0m.5 1h0m0 1h0m.5-2h0m0 1h0m0 1h0m0-1.5h0m.5 1.5h0m.5 0h0m0-.5h0m.5 .5h0m.5-2h0m0 2h0m.5 0h0m0-1.5h0m0 1h0m.5 0h0m0 1h0m.5-.5h0m.5-.5h0m0 1h0m.5-2.5h0m0 1h0m0 1h0m.5-1h0m.5-1h0m.5 2h0m.5 .5h0m0-2.5h0m0 1h0m.5 .5h0m.5 1h0m0-2.5h0m0 1h0m.5 1h0m0-1.5h0m1 1.5h0m0-2h0m.5 .5h0m.5 2h0m.5-2h0m.5 0h0m0 1h0m0 1h0m0-1.5h0m0 1h0m.5 0h0m.5-2h0m1 2h0m0-.5h0m0-1.5h0m0 1h0m.5 .5h0m.5 1h0m0-1.5h0m.5 1.5h0m0-1.5h0m0 1h0m1 0h0m0 .5h0m.5-.5h0m.5 0h0m0-1.5h0m.5 2h0m0-.5h0m1-1.5h0m0 2h0m.5-2h0m0 .5h0m.5 .5h0m.5-1h0m0-.5h0m0 1h0m0 1h0m.5 0h0m0-1.5h0m0 1h0m.5-1h0m1 .5h0m.5 1h0m0-1.5h0m.5 2h0m.5-.5h0m0-.5h0m.5 0h0m7-1h0m5 1.5h0m20-2h0m20 1h0m4.5 1.5h0m4.5 0h0m3-1.5h0m9 .5h0m4.5 2h0m-4.5 1.5h0m-14-.5h0m-7.5-1h0m-13.5-.5h0m-10.5 1.5h0m-27.5-1.5h0m0 1h0m0 1h0m0-1.5h0m-.5-.5h0m0 2.5h0m-.5 0h0m-.5-1h0m0-1h0m-.5 1h0m0 1h0m-1-1h0m-.5 1h0m0-2.5h0m0 2h0m0-.5h0m-.5-.5h0m0 1h0m-.5 .5h0m0-2.5h0m-.5 1.5h0m-.5-1.5h0m0 1h0m0 1h0m-.5 .5h0m-.5-2h0m0 .5h0m0 1h0m-.5-2h0m0 2h0m0-1.5h0m-.5 1.5h0m0-1.5h0m0 2h0m-.5 0h0m-.5-.5h0m-.5-.5h0m-.5-1.5h0m0 2h0m-.5-2h0m-.5 2h0m-1-2h0m0 1h0m-.5-.5h0m0 1h0m0 .5h0m-.5-2h0m-.5 0h0m-.5 2h0m0-1.5h0m0 1h0m-.5 0h0m-.5 .5h0m0-.5h0m-.5-1.5h0m0 1h0m0-.5h0m0 1h0m-.5-.5h0m0-.5h0m0 1h0m-.5 0h0m-.5-1.5h0m0 .5h0m-1 .5h0m0 .5h0m-.5 .5h0m0-1.5h0m-.5-.5h0m0 1h0m0 .5h0m-.5 0h0m0-1.5h0m-.5 0h0m-.5 1.5h0m-1 1h0m-1-2h0m-.5 .5h0m0 .5h0m-.5 .5h0m-.5 .5h0m0-1.5h0m-.5-1h0m-.5 .5h0m-.5 1.5h0m-30.5-.5h0m-20.5-1.5h0m-38 0h0m-4.5 .5h0m-1.5 1.5h0m-27.5 1.5h0m3.5-.5h0m16 1h0m15 0h0m7.5 1h0m81 0h0m0-1.5h0m.5-.5h0m.5 2h0m0 .5h0m.5-2h0m0 1.5h0m.5 .5h0m.5 0h0m.5-.5h0m0 .5h0m0-1.5h0m.5-.5h0m.5 2h0m0-2.5h0m.5 0h0m0 2.5h0m.5-1h0m0 .5h0m.5-1h0m.5-.5h0m0 1.5h0m.5 0h0m0-1.5h0m0 2h0m1-1h0m.5-1h0m.5 1.5h0m.5-1.5h0m0 1h0m0-.5h0m.5 .5h0m0 .5h0m.5-1.5h0m.5 1h0m0-.5h0m1-.5h0m0 2h0m0-2.5h0m.5 0h0m0 1h0m0-.5h0m.5-.5h0m.5 1.5h0m0-1.5h0m0 1h0m.5 .5h0m0-.5h0m.5 1h0m0-1.5h0m.5 2h0m0-1.5h0m.5-1h0m0 1h0m0 1h0m0 .5h0m.5 0h0m0-.5h0m.5-.5h0m0-1.5h0m.5 0h0m0 1h0m.5-1h0m.5 0h0m1 .5h0m.5-.5h0m0 2h0m1-2h0m0 2h0m.5 .5h0m0-1.5h0m.5 0h0m.5 1.5h0m.5-2.5h0m.5 0h0m0 1h0m0 .5h0m.5-.5h0m.5 .5h0m.5-1.5h0m0 2h0m.5-.5h0m0-1.5h0m40 .5h0m.5 1.5h0m13.5-2h0m.5 1.5h0m1-1h0m1.5 2h0m6-.5h0m2-2h0m0 .5h0m3.5 2h0m4-1h0m3 .5h0m-1 3h0m-11 .5h0m-6-2.5h0m-.5 2h0m-35.5 0h0m-21.5-2h0m-.5 2h0m0-.5h0m-.5-1.5h0m0 1h0m-.5-.5h0m0 1h0m0 1h0m-.5 0h0m0-1.5h0m0-.5h0m-1 2h0m0-1.5h0m0 1h0m-.5-2h0m0 .5h0m0 2h0m-.5-2.5h0m-.5 2.5h0m-.5-2.5h0m-.5 .5h0m-.5 1h0m-.5-.5h0m0 1h0m0-1.5h0m0 1h0m-.5 1h0m-.5 0h0m0-.5h0m-.5-1.5h0m0 1h0m0 1h0m-.5-1h0m-.5-1.5h0m-.5 2h0m0-1.5h0m0 2h0m-.5-1.5h0m0-1h0m-.5 .5h0m-.5 .5h0m0 1h0m0 .5h0m-1-2.5h0m-.5 .5h0m0 1h0m0-1.5h0m0 1h0m-.5 1.5h0m0-1.5h0m0 .5h0m-.5-1h0m-.5 .5h0m0 1.5h0m-.5-2.5h0m0 1.5h0m-.5-1.5h0m0 1.5h0m-.5-1h0m0 1h0m-.5 .5h0m-1-2h0m-.5 0h0m0 1.5h0m-.5-1h0m0-.5h0m0 1h0m-.5 0h0m0-.5h0m0-.5h0m-.5 2.5h0m0-.5h0m0-1.5h0m-.5-.5h0m0 2.5h0m-.5-2.5h0m0 1h0m0-.5h0m-.5 .5h0m-.5 1.5h0m0-2.5h0m-1 .5h0m-.5 0h0m-.5-.5h0m0 1h0m-.5 0h0m-.5 1h0m0-1.5h0m0-.5h0m0 1h0m-.5 1.5h0m-.5-.5h0m-88.5-2h0m-21 0h0m109.5 5.5h0m0-.5h0m1-2h0m0 2h0m0 .5h0m.5-.5h0m0-1.5h0m0 1h0m0-1.5h0m.5 2h0m0-2h0m.5 1h0m0 1h0m1 .5h0m.5-2.5h0m.5 1.5h0m0 1h0m0-2h0m.5-.5h0m.5 2.5h0m0-1h0m.5 .5h0m0-2h0m.5 .5h0m0 2h0m0-1.5h0m0 1h0m.5-2h0m0 1h0m.5 .5h0m.5-.5h0m0 1h0m.5-1.5h0m0 1h0m0-.5h0m.5-.5h0m0 1h0m0 1h0m0-2.5h0m0 2h0m.5-2h0m0 .5h0m.5 0h0m0-.5h0m0 1h0m.5-.5h0m0-.5h0m.5 1.5h0m0-1.5h0m.5 1h0m0 1.5h0m0-2.5h0m.5 .5h0m0 .5h0m.5-.5h0m.5 1h0m0 1h0m0-1.5h0m0 1h0m.5-.5h0m.5-.5h0m.5 .5h0m.5 0h0m.5 0h0m.5 .5h0m.5-1.5h0m0 1.5h0m.5-1.5h0m0 2h0m0-1.5h0m.5 .5h0m0 1h0m.5-2.5h0m0 2h0m.5-1.5h0m0 2h0m0-.5h0m.5-1.5h0m0 2h0m0-1.5h0m.5 0h0m.5 .5h0m0-1.5h0m0 1h0m0 1h0m.5-1h0m0 .5h0m.5 1h0m0-1.5h0m.5-.5h0m0 2h0m0-2.5h0m.5 1.5h0m0-1.5h0m.5 .5h0m.5 1h0m0 .5h0m.5 0h0m.5-.5h0m0-1.5h0m.5 .5h0m0 2h0m0-2.5h0m.5 2.5h0m0-2.5h0m35 .5h0m5 1.5h0m17 0h0m2.5-.5h0m1-1.5h0m3.5 1.5h0m4.5 0h0m10 3h0m-.5-1h0m-2 2h0m-2.5-.5h0m-4.5-1.5h0m-2 2h0m-.5-1h0m-3 1h0m-4-2.5h0m-3 1h0m-8.5-1h0m-2.5 .5h0m-23 1h0m-23 .5h0m0-.5h0m0 1h0m-.5-1h0m-1-1.5h0m0 1h0m-.5-1h0m0 1h0m-1.5 1h0m0-.5h0m-.5 0h0m0-.5h0m-.5 0h0m0-1h0m-.5 2.5h0m-.5-1h0m-.5-.5h0m-.5 0h0m0-.5h0m-1.5 0h0m0 1h0m-1 .5h0m0-1.5h0m0 1h0m-1 0h0m-.5-1h0m-.5 .5h0m-.5-.5h0m0 2h0m-1.5-2h0m-.5 1.5h0m-.5-2h0m0 2.5h0m-.5-1h0m-.5-1h0m0 2h0m-.5-1.5h0m0 1h0m0-1.5h0m0 1h0m0-1.5h0m-.5 2.5h0m0-2h0m0 1h0m-.5-.5h0m-.5-.5h0m-.5 .5h0m0 .5h0m0 1h0m-.5 0h0m0-2.5h0m-.5 2.5h0m-.5-2.5h0m0 2h0m-.5-2h0m-.5 0h0m-.5 .5h0m-.5 1.5h0m0-1.5h0m0 1h0m0 1h0m0-2.5h0m-.5 0h0m0 2h0m0-1.5h0m-.5 1.5h0m-.5 0h0m-.5-2h0m0 1h0m-.5-1h0m-.5 2.5h0m-.5-.5h0m0-.5h0m0 1.5h0m1 .5h0m0 1.5h0m.5 .5h0m0-2.5h0m.5 0h0m0 1h0m0 1h0m.5-.5h0m.5-.5h0m.5 .5h0m0-1.5h0m0 1h0m.5-.5h0m.5 0h0m0 2h0m.5-2.5h0m.5 0h0m0 1h0m1-1h0m0 2h0m1-1.5h0m0 2h0m0-2.5h0m0 1h0m.5 .5h0m0-.5h0m.5-.5h0m0 2h0m0-.5h0m.5 0h0m0-.5h0m1-.5h0m0-1h0m.5 2.5h0m0-2.5h0m0 2h0m1-.5h0m0 1h0m0-.5h0m.5-1.5h0m0 1h0m0-1.5h0m.5 2h0m.5-1h0m.5 0h0m0 1h0m0-.5h0m.5-1.5h0m.5 2h0m0-.5h0m0 1h0m.5-1h0m0 1h0m0-2.5h0m.5 2h0m.5-1h0m0 1h0m.5-1h0m0 .5h0m.5 0h0m0-1.5h0m0 2h0m0-1.5h0m.5 1h0m0 1h0m0-2.5h0m0 2h0m.5-.5h0m0-1.5h0m1 2.5h0m0-2.5h0m0 1h0m0 1h0m.5 .5h0m.5-2h0m1 1.5h0m1.5 0h0m0-2h0m0 1h0m.5 1.5h0m0-2.5h0m0 2h0m.5-1.5h0m.5-.5h0m0 .5h0m.5 1h0m0-.5h0m.5-1h0m28.5 .5h0m15 2h0m13 0h0m7.5-2.5h0m3 1h0m2 1h0m6 0h0m-5 2h0m-1 0h0m-3.5 .5h0m-3 0h0m-4-1h0m-4 2h0m-11-.5h0m-44-.5h0m-.5 1h0m-.5-.5h0m-.5-1h0m0 1h0m0-.5h0m0-1.5h0m-.5 2h0m0-1.5h0m0 1h0m-.5-1h0m-.5 2h0m0-2.5h0m-.5 .5h0m-.5-.5h0m-.5 2h0m0-.5h0m-.5-.5h0m0-.5h0m-.5-.5h0m-.5 2h0m0-1.5h0m-.5 2h0m-.5-2h0m0-.5h0m-.5 1h0m-.5-.5h0m0 1h0m0-.5h0m0 1h0m-.5-1h0m0 1h0m0-1.5h0m0 1h0m-.5-1h0m0-.5h0m-1 2.5h0m-.5-1.5h0m0-.5h0m0 1h0m-.5 0h0m0-1.5h0m0 1h0m-.5 1h0m0 .5h0m-.5-1.5h0m-.5-1h0m-.5 2h0m-.5-1h0m0 1.5h0m-.5 0h0m0-2.5h0m-1 1.5h0m-.5-1h0m-.5 0h0m0-.5h0m0 1h0m-.5-1h0m-.5 .5h0m0 1h0m-.5 .5h0m0-1.5h0m0 .5h0m-1 0h0m-.5 1h0m-.5-2h0m0 1h0m0 1h0m0-.5h0m-.5-.5h0m0 .5h0m-1-.5h0m-1-1h0m0 1.5h0m-.5 .5h0m0 .5h0m-.5-1.5h0m0 .5h0m0 1h0m-1-1.5h0m0 1.5h0m-.5-2h0m0 1h0m-72.5 1h0m72.5 2.5h0m.5-2h0m0 .5h0m.5-.5h0m0 2h0m.5-1.5h0m0 1h0m0 .5h0m.5-2h0m0 1h0m.5 1h0m.5-1h0m0 .5h0m0 1h0m.5 0h0m0-2h0m.5 2h0m0-2.5h0m.5 2h0m.5-2h0m.5 1.5h0m0-.5h0m.5-.5h0m.5 1h0m0-.5h0m.5 1.5h0m0-1.5h0m0 1h0m0-1.5h0m.5-.5h0m0 1h0m.5 .5h0m0-1.5h0m.5 1h0m0 .5h0m1 .5h0m.5-1.5h0m0 1h0m.5-1.5h0m.5 0h0m0 2h0m1 .5h0m0-2.5h0m0 2h0m.5-.5h0m0 .5h0m.5 .5h0m0-2.5h0m.5 1h0m.5 .5h0m0-.5h0m0 1h0m1 0h0m0-1.5h0m1 2h0m0-.5h0m.5-1.5h0m0 2h0m0-2.5h0m.5 1h0m0-.5h0m0 1h0m.5 1h0m0-.5h0m0-.5h0m2 1h0m0-2.5h0m0 1h0m0 1h0m.5-2h0m.5 1.5h0m0 1h0m0-1.5h0m.5 1.5h0m.5-2.5h0m0 2h0m.5-.5h0m0 1h0m1-.5h0m.5-2h0m0 1.5h0m.5-1.5h0m.5 0h0m0 1h0m.5-.5h0m17.5-.5h0m37.5 2h0m.5-1.5h0m7.5 1.5h0m6.5 .5h0m5.5 0h0m3.5 2h0m-8 1h0m-1-2h0m-7.5-.5h0m-41 2h0m-21 0h0m0-.5h0m-1-1h0m-.5 2h0m0-1.5h0m0 1h0m-.5-1.5h0m-.5 2h0m-.5 0h0m-.5-1.5h0m-1 0h0m-.5-.5h0m0 1h0m-.5-1.5h0m-1.5 0h0m-.5 2h0m0-1h0m-1 1.5h0m-.5-.5h0m0-.5h0m-1-1h0m0-.5h0m-.5 .5h0m-.5 2h0m0-1.5h0m-.5 0h0m-.5 1.5h0m0-.5h0m-.5 0h0m0-1.5h0m-.5 1h0m0-1.5h0m0 1h0m0 1h0m-.5-1h0m-.5 .5h0m-.5-1h0m0 1h0m-.5 .5h0m-.5 .5h0m0-.5h0m-.5-.5h0m-.5 .5h0m-1-1.5h0m-.5 1.5h0m0-.5h0m-.5-.5h0m-.5-1h0m0 2h0m0-1.5h0m-.5 0h0m-.5 1h0m-.5 .5h0m0-1.5h0m-.5 .5h0m-.5-.5h0m-.5 1.5h0m0 .5h0m-.5-2h0m0-.5h0m-.5 0h0m-.5 .5h0m0 1h0m0-.5h0m-1 1h0m-.5 .5h0m.5 2.5h0m0 .5h0m.5-2h0m.5 1.5h0m0-.5h0m0 1h0m.5 0h0m.5-.5h0m.5-.5h0m0 1h0m.5-2h0m0 2h0m.5 0h0m0-2.5h0m.5 2.5h0m0-2h0m.5-.5h0m.5 1.5h0m0 .5h0m.5-1h0m1 0h0m0 1h0m0-1.5h0m.5 0h0m0 1h0m.5 0h0m.5-1h0m0 1h0m0-1.5h0m.5 2h0m0-1.5h0m.5 1h0m.5 0h0m0 1h0m0-2.5h0m.5 .5h0m0 1h0m0-.5h0m0 1h0m.5-2h0m.5 0h0m0 1h0m.5 1h0m0-.5h0m.5-1.5h0m0 2h0m1-.5h0m.5-.5h0m0 1h0m0-.5h0m.5 0h0m.5 .5h0m.5-.5h0m.5 0h0m0-.5h0m0-.5h0m.5 1.5h0m0-1.5h0m.5 1h0m0-1.5h0m0 1h0m.5 1.5h0m0-.5h0m.5-1.5h0m0 1h0m0 1h0m0-2.5h0m0 2h0m.5-1h0m1 0h0m1 .5h0m0 1h0m0-2.5h0m0 1h0m0 1h0m1 0h0m0-.5h0m.5-1.5h0m0 2h0m1 .5h0m0-1h0m1 0h0m0-.5h0m1-.5h0m24.5 1h0m4.5 0h0m28 0h0m4.5-1.5h0m13 2h0m3 2.5h0m-2.5-1h0m-4 .5h0m-8.5 1h0m-6.5-.5h0m-56-1.5h0m-.5 .5h0m0 2h0m-1-1.5h0m0 1h0m-1-2h0m-.5 .5h0m-.5 0h0m-.5 1h0m-.5 .5h0m0 .5h0m0-2.5h0m-.5 2.5h0m-1.5-1.5h0m-.5 1h0m0-1.5h0m0-.5h0m-.5 0h0m0 1h0m0 1h0m-.5-2h0m0 1h0m-.5 .5h0m0 1h0m-.5-2h0m0 1h0m0 1h0m-.5 0h0m-.5-1h0m-.5-.5h0m-.5-1h0m0 1h0m0 1h0m-.5-.5h0m-.5 1h0m0-2.5h0m0 1h0m0 1h0m0-.5h0m-.5 1h0m0-2.5h0m0 2h0m-.5-2h0m-1 .5h0m-.5 1.5h0m0-.5h0m0-.5h0m-.5-1h0m-.5 0h0m-.5 2h0m-1-2h0m-1 1.5h0m0-1.5h0m0 1h0m-.5-1h0m0 2h0m0-.5h0m-.5-1.5h0m0 1h0m0 1h0m-.5-1.5h0m0 1h0m-1 .5h0m-.5-2h0m-.5 1.5h0m0 .5h0m0-1.5h0m-.5 0h0m-.5 1.5h0m0-1.5h0m-.5 2h0m0-2.5h0m-.5 2.5h0m0-2.5h0m-.5 2.5h0m0-1.5h0m-.5-.5h0m0 1h0m0-1.5h0m-.5 0h0m0 .5h0m.5 3h0m.5 2h0m0-1h0m.5-1h0m0 .5h0m.5 0h0m0-.5h0m0 1h0m.5 0h0m0 1h0m0-1.5h0m.5 .5h0m0 1h0m0-2h0m.5 0h0m0 1.5h0m.5-1.5h0m.5-.5h0m0 1h0m0 1h0m.5 .5h0m.5-.5h0m.5-1.5h0m0 2h0m0-1.5h0m.5 1h0m.5-2h0m0 .5h0m.5 1h0m.5 1h0m0-1.5h0m0 1h0m.5 .5h0m0-2.5h0m0 2h0m.5-.5h0m.5 1h0m0-2.5h0m0 2h0m0-1.5h0m.5 2h0m.5-1h0m0-1.5h0m0 2h0m0-1.5h0m.5 2h0m.5-.5h0m.5-.5h0m0-1.5h0m0 2h0m.5-2h0m0 .5h0m.5 .5h0m.5 0h0m0 1h0m0-.5h0m.5-1h0m.5 1h0m0 1h0m0-2h0m.5-.5h0m0 2.5h0m.5-2h0m0 .5h0m.5 1.5h0m0-2h0m.5 1.5h0m.5 .5h0m.5 0h0m0-1.5h0m.5 0h0m0-.5h0m.5 .5h0m.5 .5h0m0 1h0m0-2.5h0m.5 2.5h0m0-2.5h0m0 .5h0m0 1h0m.5-.5h0m0 .5h0m.5-.5h0m1 0h0m0 1h0m1 .5h0m.5-1h0m0-.5h0m.5 0h0m.5 0h0m.5 1.5h0m4-2.5h0m61.5 .5h0m6 0h0m3-.5h0m1.5 .5h0m-5 4h0m-1.5-1h0m-9 .5h0m-60 .5h0m-1 1h0m-.5-2h0m-.5-.5h0m0 1h0m0 1h0m0-1.5h0m0 2h0m-.5-1h0m0 1h0m-.5-2.5h0m0 2.5h0m-.5-1h0m0 .5h0m-.5-2h0m0 1h0m-.5 1.5h0m0-2.5h0m0 2h0m-.5 .5h0m-.5-2h0m-1 2h0m-.5-.5h0m-.5-1h0m0 1.5h0m-.5 0h0m0-.5h0m-.5-2h0m0 2h0m-.5-.5h0m-.5-1h0m-1 1h0m-.5 0h0m-.5 0h0m0 1h0m0-2.5h0m-.5 1.5h0m0-.5h0m-.5 0h0m0 .5h0m-.5-1.5h0m-.5 .5h0m-.5 0h0m-1.5 0h0m0 2h0m-.5-2h0m-.5 2h0m-.5-2.5h0m0 1h0m-.5 .5h0m-.5 .5h0m0-1.5h0m-.5 2h0m0-1.5h0m-.5 1h0m0-2h0m-.5 0h0m-.5 0h0m-.5 2h0m-.5-.5h0m0-1.5h0m-.5 2.5h0m0-2.5h0m0 1h0m-1 1.5h0m-.5-1.5h0m-.5-.5h0m0 1h0m-1 0h0m0-1.5h0m-.5 4.5h0m0 1h0m.5-1h0m.5-1h0m0 .5h0m.5 1.5h0m.5 0h0m0-2.5h0m1 1.5h0m.5-1.5h0m0 1.5h0m.5 .5h0m0-1.5h0m1.5-.5h0m.5 2.5h0m0-.5h0m.5-2h0m.5 0h0m.5 1.5h0m1-1h0m0 .5h0m.5 1.5h0m0-1.5h0m0-.5h0m1 1.5h0m0 .5h0m.5-1.5h0m0-.5h0m1 1h0m0-.5h0m.5-1h0m.5 1.5h0m.5-1.5h0m1 2.5h0m1-1.5h0m0 .5h0m.5-.5h0m.5 1h0m0-1.5h0m0-.5h0m.5 0h0m0 1h0m0-.5h0m1 2h0m.5 0h0m0-2h0m.5 2h0m0-2h0m.5 0h0m.5-.5h0m0 1.5h0m.5-.5h0m1 1.5h0m0-1.5h0m.5 1.5h0m.5-.5h0m.5-2h0m0 1h0m.5 1h0m.5 .5h0m1.5-2.5h0m57 0h0m2.5 1h0m8.5 1.5h0m2-2.5h0m2 2h0m.5-2h0m4.5 3.5h0m-.5 1h0m-9 0h0m-2.5-.5h0m-5 1h0m-.5-1h0m-60 .5h0m0 .5h0m-.5-2h0m-1 1h0m-.5-1h0m0 1h0m-.5-1h0m0 2h0m-.5 .5h0m0-2.5h0m0 1h0m-.5-.5h0m0 1h0m-.5 .5h0m-.5-1.5h0m0 2h0m0-2.5h0m0 1h0m-.5 1h0m-1-.5h0m0-1.5h0m-.5 1.5h0m-.5-1h0m0 2h0m-.5 0h0m-.5-1.5h0m-.5-1h0m0 2h0m0 .5h0m-.5-2h0m0 1h0m0-1.5h0m-1 1h0m-.5 .5h0m0-.5h0m-.5 .5h0m0-1.5h0m-.5 0h0m0 1h0m-.5 1h0m0-.5h0m-.5 .5h0m0-2h0m-1 2h0m-.5 0h0m0-1h0m-.5 .5h0m0-1.5h0m-.5 1.5h0m0-.5h0m-.5-1h0m-.5 1h0m-.5-1h0m-.5 2.5h0m-.5-2.5h0m-1 1h0m0 1.5h0m-.5-.5h0m0-1.5h0m-.5 0h0m-.5 0h0m0 1h0m-.5 1h0m-.5 0h0m0-.5h0m-.5-1.5h0m0 .5h0m-.5-1h0m0 .5h0m-.5-.5h0m-.5 .5h0m0 .5h0m-.5 0h0m-1 1h0m0 1.5h0m.5 1.5h0m.5-.5h0m.5 .5h0m.5 .5h0m0-2.5h0m0 .5h0m.5-.5h0m.5 .5h0m.5 .5h0m0 .5h0m1 0h0m0 .5h0m.5-2h0m0 1.5h0m1-1.5h0m.5 .5h0m.5-.5h0m.5 2h0m0-.5h0m.5-1h0m.5 1.5h0m0-.5h0m.5 .5h0m.5 0h0m.5-.5h0m0-.5h0m.5 1h0m0-.5h0m.5-1.5h0m0 1.5h0m.5-1.5h0m.5 2.5h0m.5 0h0m0-2.5h0m.5 1h0m.5-.5h0m.5-.5h0m0 1h0m0 .5h0m.5 .5h0m0-1h0m.5-.5h0m.5 0h0m.5 1h0m.5 0h0m.5 .5h0m.5-1h0m0 1h0m0-2h0m.5 1h0m.5-1h0m0 1h0m0 1h0m1-1.5h0m0 1.5h0m.5-1h0m0 1h0m.5-.5h0m0 1h0m0-.5h0m.5-.5h0m.5 0h0m0 1h0m.5-2h0m1.5 2h0m0-2.5h0m.5 2h0m0 .5h0m.5-2.5h0m55 0h0m6 .5h0m5 1h0m2.5 1h0m2-1h0m6.5 4h0m-1-2.5h0m-5.5 1h0m-3.5 1.5h0m-1-.5h0m-8.5-.5h0m-21.5-.5h0m-35.5 1.5h0m-.5-1h0m0 1h0m-.5-2.5h0m0 .5h0m0 2h0m-1-2h0m0 2h0m0-1.5h0m-2 .5h0m-.5-1h0m-.5 1h0m0 1h0m-1-2.5h0m-.5 .5h0m0 1.5h0m-1-1.5h0m0 1h0m-.5-1h0m0-.5h0m-.5 .5h0m-.5 1h0m-1 1h0m-.5-2h0m-.5 1h0m-.5-1h0m-1 0h0m-.5-.5h0m0 1h0m-1.5 .5h0m0-1.5h0m0 2h0m-.5 0h0m0-1.5h0m0 2h0m-1-2h0m-.5 .5h0m-1 .5h0m-.5 0h0m0-1.5h0m-.5 .5h0m0 .5h0m-.5-.5h0m0 .5h0m-1.5-1h0m-.5 0h0m0 1h0m-.5-1h0m0 1h0m-.5-.5h0m0 1h0m0 1h0m0-2.5h0m0 2h0m-.5-1.5h0m0 2h0m-.5-.5h0m-.5-.5h0m0-.5h0m-.5-1h0m0 1h0m-.5 .5h0m-.5-1h0m0-.5h0m.5 3h0m.5 2.5h0m1-2.5h0m1 2h0m1-1h0m.5 .5h0m1.5 0h0m.5-.5h0m0 .5h0m0 1h0m1-1.5h0m0 .5h0m.5 0h0m.5-1h0m1.5-.5h0m.5 1h0m1-1h0m0 1h0m0 1h0m.5-.5h0m.5-1.5h0m0 1.5h0m.5 1h0m1-.5h0m0-1.5h0m.5 1.5h0m.5 .5h0m.5-.5h0m.5-2h0m0 .5h0m1 0h0m.5-.5h0m.5 1h0m.5 1.5h0m.5 0h0m0-1.5h0m.5 1h0m0-.5h0m1-.5h0m0 .5h0m.5-.5h0m0 1h0m1-1h0m1 1.5h0m1-1.5h0m.5-.5h0m69 0h0m8.5 2h0m-1.5 1h0m0 2h0m-1-2.5h0m-4.5 .5h0m-5 2h0m-65.5-2.5h0m0 1.5h0m-1-1h0m-.5 2h0m-.5 0h0m0-2h0m-.5 1h0m0 .5h0m-.5-1h0m-.5 1h0m-.5-.5h0m0-1.5h0m0 2h0m-.5-1h0m0 .5h0m0 1h0m-.5-1.5h0m-1 .5h0m-.5 1h0m-1-1h0m-.5 0h0m-.5 1h0m-1-.5h0m-.5-.5h0m0 1h0m-.5-1h0m0 .5h0m-1-2h0m-1 1.5h0m0-.5h0m0 1h0m-.5-1.5h0m-.5 0h0m-.5 .5h0m-.5 .5h0m0-1.5h0m-.5 1.5h0m-1-1h0m-.5 0h0m-.5 1.5h0m-2 0h0m-.5-2h0m0 2h0m-.5-.5h0m-1.5 1h0m-.5 0h0m-.5-2.5h0m-.5 1.5h0m0 .5h0m-.5-1.5h0m0 1.5h0m-.5 1.5h0m.5 .5h0m0 1.5h0m.5-.5h0m.5 .5h0m1-1h0m1.5-1h0m1 0h0m.5 1h0m.5-1h0m0 1h0m.5-.5h0m.5 1.5h0m0-1.5h0m.5 1h0m.5-1h0m.5 1h0m0-.5h0m0 1h0m.5-1.5h0m.5 1h0m0 .5h0m.5-2.5h0m.5 .5h0m0 1.5h0m.5 0h0m0-1.5h0m.5 1h0m.5 0h0m.5 0h0m0-1.5h0m1 1h0m1 1h0m0-.5h0m2 1h0m0-2.5h0m0 .5h0m.5 1.5h0m0 .5h0m1 0h0m1.5-2h0m.5 0h0m.5-.5h0m0 1h0m0 1h0m.5 .5h0m0-2.5h0m.5 0h0m.5 .5h0m0 1h0m.5-.5h0m1 0h0m0-.5h0m0 2h0m62-1h0m1.5-.5h0m5-.5h0m7.5 0h0m2.5 3h0m-8.5 .5h0m-6.5 .5h0m-3.5 0h0m-60-.5h0m-.5 1h0m0-.5h0m0-1.5h0m-.5 1.5h0m-.5-1.5h0m0 1h0m-.5 1h0m-1-1.5h0m-.5 0h0m0-.5h0m-.5 2.5h0m-1-2.5h0m0 2h0m-.5-1h0m-.5 1.5h0m-.5-1h0m-.5-1.5h0m-1 2.5h0m-.5-1h0m-.5-.5h0m-1 .5h0m-.5 0h0m0 1h0m-.5-.5h0m-.5-1.5h0m-1 1h0m0 .5h0m-.5-1.5h0m0 1h0m0 1h0m-1.5-1h0m0 1h0m0-1.5h0m-.5 1.5h0m0-.5h0m-.5 0h0m-.5 0h0m-.5 .5h0m-1-.5h0m-1 0h0m-1 0h0m0-1.5h0m-.5 1h0m0 .5h0m-1.5-.5h0m0-.5h0m-1 1h0m0-1.5h0m-.5-.5h0m0 2h0m-1 3h0m.5-1.5h0m.5 1.5h0m.5-2h0m2 2.5h0m0-1.5h0m.5 0h0m0 .5h0m1-1.5h0m2.5 1h0m.5 0h0m3 1h0m.5 0h0m1 0h0m.5 .5h0m0-2h0m.5 0h0m2-.5h0m.5 2.5h0m1 0h0m.5-2h0m0 .5h0m.5 1h0m1-2h0m0 2h0m1-.5h0m1 1h0m1.5-1h0m.5-.5h0m1.5 1.5h0m0-2.5h0m.5 2.5h0m57.5 0h0m3-2.5h0m.5 0h0m16 1h0m0 3h0m-6 .5h0m-72 .5h0m-1-.5h0m0-.5h0m-.5-1h0m-.5 .5h0m-1-.5h0m-1 1.5h0m-.5 0h0m0-1.5h0m0 2h0m0-1.5h0m-.5 1.5h0m-.5-2h0m-.5 2.5h0m-1.5-1h0m0 .5h0m-.5-2h0m-.5 .5h0m0 .5h0m-1.5 1.5h0m0-1.5h0m-2 1h0m-.5-1.5h0m-.5 0h0m0 1h0m-.5 0h0m0 1h0m0-.5h0m-3.5-2h0m-.5 2.5h0m0-.5h0m0-1.5h0m-1-.5h0m-.5 1.5h0m-.5-1.5h0m-.5 2.5h0m0-.5h0m-1-1.5h0m-1 .5h0m-1 .5h0m-.5-1.5h0m.5 3h0m1.5 2h0m0 .5h0m4-.5h0m.5-2h0m.5 2.5h0m.5-2h0m1 0h0m.5 1.5h0m0-2h0m2 2h0m.5-1.5h0m0 2h0m1-2.5h0m.5 2h0m.5-1.5h0m1 .5h0m.5 0h0m0 1h0m0 .5h0m.5 0h0m0-1.5h0m1-.5h0m2 .5h0m0 1.5h0m2.5-2.5h0m1 0h0m0 1h0m.5 1h0m1-.5h0m0 1h0m1-.5h0m0-2h0m57 1.5h0m7-.5h0m5 1h0m7.5 0h0m-3.5 3h0m-7 .5h0m-5.5-2h0m-1-.5h0m-61.5 1h0m-1.5 1h0m-.5 .5h0m-.5-1h0m-.5 .5h0m0-.5h0m-1 0h0m0 1h0m-1-1h0m-1.5 0h0m-3.5-1h0m-.5 0h0m0 1h0m0-.5h0m0 1h0m-1-2h0m0 2h0m-1-1h0m-.5 0h0m-.5 0h0m-1.5-.5h0m-1 1h0m-.5 1h0m-.5-2h0m-.5 2h0m-.5-2.5h0m-1 0h0m-2 0h0m-1.5 1.5h0m0-1.5h0m0 3h0m.5 0h0m1.5 .5h0m.5 .5h0m1-.5h0m1.5 0h0m1.5-.5h0m1.5 1.5h0m.5-1h0m4-.5h0m2.5 2.5h0m.5-2.5h0m1 0h0m1.5 .5h0m2 2h0m1-1h0m.5-1.5h0m2.5 2.5h0m58.5-2.5h0m4 1.5h0m5 .5h0m7 1.5h0m-4.5 1h0m-70-.5h0m-1 1h0m-.5 .5h0m-1.5-1.5h0m-2-1h0m-1 0h0m-1.5 2.5h0m-1-2.5h0m-.5 2.5h0m-.5 0h0m-2 0h0m-1.5-2.5h0m-.5 2.5h0m-5-1h0m-1 .5h0m-.5-2h0m-.5 1.5h0m-3 0h0m-.5-1.5h0m0 .5h0m.5 5h0m2.5-1.5h0m.5 0h0m4.5-.5h0m.5 0h0m2.5-.5h0m2.5 0h0m4.5 1h0m5.5 0h0m60.5-.5h0m3.5 1.5h0m9.5 2.5h0m-12-1.5h0m-.5 1h0m-1.5 1.5h0m-59.5-1h0m-1 1h0m0-1.5h0m-2.5 1h0m-4 0h0m-.5-.5h0m-7-.5h0m-1 .5h0m-1-1.5h0m-.5 .5h0m-4 4.5h0m1-1h0m5 1.5h0m3-2h0m0 1h0m4-1h0m.5 1.5h0m.5-1.5h0m8 0h0m72.5 3.5h0m-8-1h0m-65.5 1h0m-.5 1.5h0m-.5-2.5h0m-2.5 2.5h0m-9-2h0m0 2h0m-1.5-2.5h0m-8.5 2.5h0m2 3h0m2-2h0m16.5 1h0m.5-.5h0m1-1h0m-6.5 4.5h0m-5 0h0m-2-.5h0m-8-.5h0m7 2.5h0m1.5 1h0m8-.5h0m-6 3h0m-5 2h0m-1.5-1h0m4 2.5h0m12.5-1h0m2 1h0m-4.5 3h0m0 1h0m1.5 1.5h0m4-.5h0m-19.5 3h0" stroke="#000" stroke-width="2" stroke-linecap="round" fill="none"/>
<text x="8" y="504" font-family="Liberation Serif, serif" font-size="25.5" font-weight="bold">E</text>
<text x="476.8" y="521.6" font-size="13.4" textLength="176.6" lengthAdjust="spacingAndGlyphs">Number of interactions</text>
<text x="1420.2" y="521.6" font-size="13.4" textLength="215" lengthAdjust="spacingAndGlyphs">Interaction weights/strength</text>
<g fill="none" stroke="#E41A1C" stroke-opacity=".78"><path d="M773.2 763.4Q761 742.2 762.6 729.4" stroke-width="1.8"/><path d="M772.4 764Q736.1 721.4 732.4 680.2" stroke-width="2.5"/><path d="M771.7 764.6Q704 708.1 683.9 642" stroke-width="1.6"/><path d="M771.2 765.3Q668.2 703.7 623 619.8" stroke-width="1.4"/><path d="M770.8 766.1Q632.5 708.8 554.9 612.6" stroke-width="1.8"/><path d="M770.6 766.8Q600.8 722.7 488.8 624.4" stroke-width="0.94"/><path d="M770.5 767.5Q576.6 744 431.9 652.9" stroke-width="1"/><path d="M770.4 768.3Q562.4 770.3 390.3 694.7" stroke-width="0.68"/><path d="M770.5 769Q559.9 798.8 367.9 744.7" stroke-width="2.8"/><path d="M770.6 769.7Q569.2 826.4 367.9 797.9" stroke-width="1.8"/><path d="M770.9 770.4Q589.4 850.2 391.2 848.2" stroke-width="0.31"/><path d="M771.3 771.2Q618.3 867.4 436.4 889.5" stroke-width="0.58"/><path d="M771.8 771.9Q652.8 876.4 492.4 918" stroke-width="1.1"/><path d="M772.5 772.5Q689 876 560.9 929" stroke-width="1.2"/><path d="M773.4 773.1Q723.2 866.4 628.9 922.8" stroke-width="1.8"/><path d="M774.4 773.5Q751.5 848.6 691 899.1" stroke-width="1.6"/><path d="M775.5 773.8Q771 824.4 750.2 848.8" stroke-width="1.9"/><path d="M776.7 773.7Q779.4 796.7 772.6 808.6" stroke-width="2"/></g>
<g fill="none" stroke="#377EB8" stroke-opacity=".78"><path d="M767.2 718.4Q779.4 739.7 777.9 752.3" stroke-width="2.9"/><path d="M760.3 710.3Q739.6 692.9 735.5 679.6" stroke-width="2.8"/><path d="M759.8 710.9Q707.5 679.6 686.6 640.8" stroke-width="1.6"/><path d="M759.5 711.7Q671.6 675.3 625.5 618.1" stroke-width="0.59"/><path d="M759.2 712.4Q635.9 680.3 556.7 610.8" stroke-width="2.4"/><path d="M759.1 713.1Q604.2 694.3 490.2 622.5" stroke-width="2.6"/><path d="M759.1 713.8Q580 715.5 433 650.9" stroke-width="3.1"/><path d="M759.1 714.5Q565.9 741.9 391.1 692.6" stroke-width="1.1"/><path d="M759.3 715.2Q563.3 770.4 368.3 742.7" stroke-width="3.2"/><path d="M759.5 715.9Q572.7 798 368 796" stroke-width="2.8"/><path d="M759.9 716.6Q592.9 821.7 391.1 846.2" stroke-width="1.1"/><path d="M760.4 717.3Q621.8 839 435.9 887.2" stroke-width="2.9"/><path d="M761.1 717.9Q656.2 847.9 491.8 916" stroke-width="1.1"/><path d="M761.9 718.5Q692.5 847.6 559.9 926.9" stroke-width="3.9"/><path d="M762.9 718.9Q726.6 838 627.5 920.7" stroke-width="1.4"/><path d="M764 719.1Q755 820.1 689.2 897.3" stroke-width="0.34"/><path d="M765.1 719.1Q774.4 796 745.8 845.7" stroke-width="3"/><path d="M766.2 718.8Q782.9 768.2 769.7 807.3" stroke-width="2.6"/></g>
<g fill="none" stroke="#4DAF4A" stroke-opacity=".78"><path d="M734.1 668.7Q771 712 774.6 752.3" stroke-width="1.1"/><path d="M734.7 668.1Q756 685.9 759.9 698.6" stroke-width="1.2"/><path d="M726.8 663.3Q699 651.8 688.9 639.3" stroke-width="0.97"/><path d="M726.6 664Q663.2 647.5 627.5 616.2" stroke-width="1.5"/><path d="M726.5 664.6Q627.5 652.6 558.1 608.9" stroke-width="2.3"/><path d="M726.4 665.2Q595.8 666.5 491.2 620.5" stroke-width="1.3"/><path d="M726.5 665.8Q571.6 687.7 433.7 648.9" stroke-width="1.2"/><path d="M726.6 666.4Q557.4 714.1 391.5 690.6" stroke-width="2.6"/><path d="M726.8 667Q554.9 742.6 368.5 740.7" stroke-width="1.1"/><path d="M727.1 667.6Q564.2 770.2 367.9 794" stroke-width="1.1"/><path d="M727.6 668.2Q584.4 793.9 390.7 844.2" stroke-width="2"/><path d="M728.2 668.8Q613.3 811.2 435.2 884.9" stroke-width="0.45"/><path d="M728.9 669.3Q647.8 820.1 490.8 914" stroke-width="0.93"/><path d="M729.7 669.6Q684 819.8 558.3 924.7" stroke-width="1.6"/><path d="M730.7 669.8Q718.2 810.2 625.6 918.8" stroke-width="1.6"/><path d="M731.7 669.8Q746.5 792.3 687 895.8" stroke-width="2.3"/><path d="M732.6 669.6Q766 768.2 740.6 843.3" stroke-width="2"/><path d="M733.4 669.2Q774.4 740.4 766.4 806.6" stroke-width="1.4"/></g>
<g fill="none" stroke="#984EA3" stroke-opacity=".78"><path d="M683 630.6Q751.5 687.8 771.3 752.9" stroke-width="1.9"/><path d="M683.4 630Q736.5 661.8 757 699.8" stroke-width="1.2"/><path d="M683.7 629.4Q711.7 641 721.6 653.4" stroke-width="1.8"/><path d="M675.1 627.2Q643.7 623.4 629 614.1" stroke-width="1.2"/><path d="M675 627.8Q608 628.4 559.2 607" stroke-width="1.9"/><path d="M675.1 628.4Q576.3 642.3 491.9 618.6" stroke-width="1.2"/><path d="M675.2 628.9Q552.1 663.6 434.1 646.9" stroke-width="0.8"/><path d="M675.4 629.5Q538 689.9 391.7 688.5" stroke-width="1.2"/><path d="M675.7 630.1Q535.4 718.4 368.3 738.7" stroke-width="1.2"/><path d="M676.2 630.7Q544.8 746.1 367.5 792.1" stroke-width="1.5"/><path d="M676.7 631.2Q565 769.8 390 842.2" stroke-width="0.91"/><path d="M677.4 631.7Q593.9 787.1 434 882.6" stroke-width="0.92"/><path d="M678.2 632Q628.3 796 489.4 912" stroke-width="1.4"/><path d="M679.1 632.2Q664.6 795.7 556.3 922.7" stroke-width="2.1"/><path d="M680.1 632.2Q698.7 786 623.2 917.2" stroke-width="2.3"/><path d="M681 632Q727.1 768.2 684.3 894.6" stroke-width="0.7"/><path d="M681.8 631.6Q746.5 744.1 734.7 842" stroke-width="0.46"/><path d="M682.5 631.1Q755 716.3 763 806.5" stroke-width="1.2"/></g>
<g fill="none" stroke="#F29403" stroke-opacity=".78"><path d="M620.3 608.5Q723.2 670 768.4 754.1" stroke-width="2.4"/><path d="M620.7 607.7Q708.2 644 754.5 701.4" stroke-width="2.3"/><path d="M620.9 607Q683.3 623.2 719.8 655.2" stroke-width="3.7"/><path d="M621.1 606.2Q651.2 609.9 666.9 619.8" stroke-width="2.7"/><path d="M609.7 606.3Q579.7 610.6 559.9 605" stroke-width="0.43"/><path d="M609.8 607.1Q548 624.5 492.3 616.6" stroke-width="1.2"/><path d="M610.1 607.9Q523.8 645.8 434.3 644.9" stroke-width="3"/><path d="M610.5 608.6Q509.6 672.1 391.5 686.4" stroke-width="1.4"/><path d="M611 609.3Q507.1 700.6 368 736.7" stroke-width="2.6"/><path d="M611.7 610Q516.4 728.2 366.9 790.1" stroke-width="1.8"/><path d="M612.6 610.6Q536.6 752 389 840.2" stroke-width="1.3"/><path d="M613.7 611Q565.5 769.2 432.4 880.4" stroke-width="3.3"/><path d="M614.9 611.3Q600 778.2 487.5 910.2" stroke-width="2.8"/><path d="M616.1 611.3Q636.2 777.8 553.8 921" stroke-width="4.1"/><path d="M617.2 611Q670.4 768.2 620.4 915.9" stroke-width="5"/><path d="M618.2 610.5Q698.7 750.4 681.3 893.9" stroke-width="3.1"/><path d="M619.1 609.9Q718.2 726.2 728.5 841.9" stroke-width="2.5"/><path d="M619.8 609.2Q726.6 698.4 759.7 807.1" stroke-width="4"/></g>
<g fill="none" stroke="#F781BF" stroke-opacity=".78"><path d="M549.7 602.7Q689 660.4 766 755.8" stroke-width="1.5"/><path d="M549.9 602.1Q674.1 634.3 752.6 703.3" stroke-width="1.8"/><path d="M550 601.5Q649.2 613.6 718.3 657.1" stroke-width="0.86"/><path d="M550 600.9Q617.1 600.3 665.9 621.7" stroke-width="2"/><path d="M550 600.3Q581.2 595.9 599.8 601.2" stroke-width="2.2"/><path d="M541.4 602.8Q513.8 614.9 492.5 614.7" stroke-width="1.7"/><path d="M541.7 603.4Q489.6 636.2 434.1 642.9" stroke-width="1.4"/><path d="M542.1 603.9Q475.5 662.5 391.2 684.4" stroke-width="0.95"/><path d="M542.7 604.5Q472.9 691 367.3 734.7" stroke-width="0.86"/><path d="M543.4 604.9Q482.3 718.6 365.9 788.2" stroke-width="1.3"/><path d="M544.2 605.3Q502.5 742.3 387.6 838.2" stroke-width="1.6"/><path d="M545.1 605.5Q531.4 759.6 430.3 878.3" stroke-width="1.8"/><path d="M546.1 605.4Q565.8 768.6 485.2 908.6" stroke-width="0.31"/><path d="M547 605.2Q602.1 768.2 550.9 919.6" stroke-width="1.5"/><path d="M547.8 604.9Q636.2 758.6 617.3 915.2" stroke-width="1.1"/><path d="M548.4 604.4Q664.6 740.7 678.2 893.8" stroke-width="1.9"/><path d="M549 603.9Q684 716.6 722.5 843.1" stroke-width="1.5"/><path d="M549.4 603.3Q692.5 688.8 756.8 808.4" stroke-width="1.4"/></g>
<g fill="none" stroke="#BC9DCC" stroke-opacity=".78"><path d="M481.9 615.7Q652.8 660 764 757.7" stroke-width="0.79"/><path d="M482 615.1Q637.8 634 751.1 705.3" stroke-width="1.8"/><path d="M482.1 614.5Q612.9 613.2 717.3 659.1" stroke-width="1.7"/><path d="M482 613.9Q580.8 599.9 665.2 623.7" stroke-width="1.2"/><path d="M481.9 613.3Q544.9 595.6 599.4 603.3" stroke-width="0.93"/><path d="M481.7 612.7Q509.3 600.6 530.6 600.8" stroke-width="1.5"/><path d="M474.2 617.5Q453.4 635.8 433.8 640.9" stroke-width="1.5"/><path d="M474.8 618Q439.2 662.1 390.5 682.3" stroke-width="1.1"/><path d="M475.4 618.5Q436.7 690.6 366.3 732.7" stroke-width="1.3"/><path d="M476.3 618.8Q446 718.3 364.5 786.3" stroke-width="0.8"/><path d="M477.2 619Q466.2 742 385.8 836.4" stroke-width="1.3"/><path d="M478.1 619Q495.1 759.3 427.7 876.4" stroke-width="1.1"/><path d="M479 618.8Q529.6 768.2 482.5 907.3" stroke-width="1.7"/><path d="M479.8 618.4Q565.8 767.8 547.5 918.8" stroke-width="0.27"/><path d="M480.5 618Q600 758.2 614 915.1" stroke-width="0.56"/><path d="M481 617.4Q628.3 740.4 675.2 894.4" stroke-width="1.4"/><path d="M481.4 616.8Q647.8 716.3 717.1 845.3" stroke-width="1.1"/><path d="M481.7 616.3Q656.2 688.5 754.3 810" stroke-width="0.76"/></g>
<g fill="none" stroke="#A65628" stroke-opacity=".78"><path d="M423.8 645.3Q618.3 669 762.5 759.7" stroke-width="0.55"/><path d="M423.9 644.7Q603.4 642.9 750 707.4" stroke-width="3"/><path d="M423.8 644.1Q578.5 622.1 716.6 661" stroke-width="0.4"/><path d="M423.7 643.4Q546.3 608.9 664.8 625.6" stroke-width="2.2"/><path d="M423.4 642.8Q510.5 604.5 599.2 605.4" stroke-width="2.8"/><path d="M423.1 642.1Q474.8 609.6 530.7 602.8" stroke-width="2.5"/><path d="M422.6 641.5Q443.1 623.5 463.2 618.3" stroke-width="2.3"/><path d="M416.6 649.1Q404.8 671.1 389.4 680.2" stroke-width="2.2"/><path d="M417.5 649.5Q402.2 699.6 364.9 730.7" stroke-width="1.2"/><path d="M418.5 649.7Q411.6 727.2 362.8 784.5" stroke-width="2.3"/><path d="M419.5 649.7Q431.8 750.9 383.5 834.8" stroke-width="1.5"/><path d="M420.5 649.4Q460.7 768.2 424.5 875" stroke-width="2.8"/><path d="M421.4 649Q495.1 777.1 479.4 906.6" stroke-width="2.1"/><path d="M422.1 648.5Q531.4 776.8 544 918.8" stroke-width="2.4"/><path d="M422.7 647.9Q565.5 767.2 610.8 915.8" stroke-width="0.97"/><path d="M423.2 647.3Q593.9 749.3 672.5 895.6" stroke-width="2.7"/><path d="M423.5 646.6Q613.3 725.2 712.6 848.3" stroke-width="1.4"/><path d="M423.7 646Q621.8 697.4 752.3 812" stroke-width="2.8"/></g>
<g fill="none" stroke="#54B0E4" stroke-opacity=".78"><path d="M381.3 688.3Q589.4 686.2 761.4 761.8" stroke-width="1.8"/><path d="M381.2 687.6Q574.5 660.2 749.3 709.4" stroke-width="3.4"/><path d="M381.1 686.9Q549.6 639.4 716.2 663" stroke-width="3.2"/><path d="M380.8 686.2Q517.5 626.1 664.6 627.6" stroke-width="2.3"/><path d="M380.4 685.5Q481.6 621.8 599.3 607.5" stroke-width="3.2"/><path d="M379.9 684.8Q445.9 626.8 531.1 604.7" stroke-width="2.3"/><path d="M379.2 684.1Q414.2 640.7 463.8 620.2" stroke-width="1.4"/><path d="M378.4 683.6Q390 662 405.7 652.6" stroke-width="3.3"/><path d="M375.4 693.7Q373.3 716.8 363.1 728.9" stroke-width="2.5"/><path d="M376.5 693.7Q382.7 744.5 360.5 782.9" stroke-width="1.7"/><path d="M377.6 693.5Q402.9 768.2 380.8 833.5" stroke-width="2.8"/><path d="M378.6 693Q431.8 785.5 421 874.2" stroke-width="1.4"/><path d="M379.4 692.4Q466.2 794.4 476.2 906.6" stroke-width="2.1"/><path d="M380 691.8Q502.5 794.1 540.7 919.5" stroke-width="0.84"/><path d="M380.5 691.1Q536.6 784.4 607.9 916.9" stroke-width="0.95"/><path d="M380.8 690.4Q565 766.6 670.2 897.1" stroke-width="2.6"/><path d="M381.1 689.7Q584.4 742.5 709 851.8" stroke-width="2"/><path d="M381.2 689Q592.9 714.7 750.7 814" stroke-width="1.7"/></g>
<g fill="none" stroke="#222F75" stroke-opacity=".78"><path d="M358 739.9Q569.2 710 760.6 763.9" stroke-width="2.2"/><path d="M357.9 739.2Q554.2 683.9 748.8 711.5" stroke-width="3.4"/><path d="M357.6 738.6Q529.3 663.1 716 665" stroke-width="3.4"/><path d="M357.3 737.9Q497.2 649.9 664.8 629.5" stroke-width="0.93"/><path d="M356.8 737.3Q461.4 645.5 599.7 609.6" stroke-width="2"/><path d="M356.2 736.7Q425.7 650.6 531.8 606.7" stroke-width="1.7"/><path d="M355.4 736.2Q394 664.5 464.8 622.2" stroke-width="2.4"/><path d="M354.5 735.8Q369.8 685.7 407.1 654.6" stroke-width="3.2"/><path d="M353.5 735.7Q355.6 712.1 365.6 700.4" stroke-width="2.1"/><path d="M354.7 745.3Q362.4 768.2 357.9 781.7" stroke-width="2.9"/><path d="M355.6 744.9Q382.7 791.9 377.7 832.8" stroke-width="1.5"/><path d="M356.3 744.3Q411.6 809.2 417.3 874.1" stroke-width="3.8"/><path d="M356.9 743.8Q446 818.1 473.1 907.2" stroke-width="2.3"/><path d="M357.4 743.1Q482.3 817.8 537.6 920.7" stroke-width="3.1"/><path d="M357.7 742.5Q516.4 808.2 605.4 918.6" stroke-width="0.85"/><path d="M357.9 741.8Q544.8 790.3 668.3 898.8" stroke-width="3.1"/><path d="M358 741.2Q564.2 766.2 706.2 855.6" stroke-width="2.3"/><path d="M358.1 740.5Q572.7 738.4 749.6 816.1" stroke-width="3"/></g>
<g fill="none" stroke="#1B9E77" stroke-opacity=".78"><path d="M357.4 794.6Q559.9 737.6 760.2 766" stroke-width="0.56"/><path d="M357.2 794Q544.9 711.5 748.7 713.6" stroke-width="2"/><path d="M356.9 793.4Q520 690.8 716.1 667" stroke-width="2.5"/><path d="M356.5 792.8Q487.9 677.5 665.1 631.5" stroke-width="1.2"/><path d="M355.9 792.3Q452.1 673.1 600.4 611.7" stroke-width="1.3"/><path d="M355.2 791.9Q416.4 678.2 532.7 608.6" stroke-width="2.1"/><path d="M354.4 791.5Q384.7 692.1 466.1 624.1" stroke-width="1.5"/><path d="M353.5 791.3Q360.5 713.4 409 656.4" stroke-width="1.2"/><path d="M352.6 791.4Q346.3 739.7 368 702" stroke-width="2.7"/><path d="M351.7 791.6Q343.8 768.2 348.2 755.1" stroke-width="0.73"/><path d="M356 799.2Q373.3 819.6 374.5 832.8" stroke-width="1.1"/><path d="M356.6 798.7Q402.2 836.8 413.8 874.8" stroke-width="2.2"/><path d="M357 798.1Q436.7 845.8 470.3 908.3" stroke-width="1.4"/><path d="M357.3 797.5Q472.9 845.4 535 922.4" stroke-width="1.3"/><path d="M357.5 796.9Q507.1 835.8 603.5 920.4" stroke-width="1.2"/><path d="M357.6 796.4Q535.4 818 666.9 900.7" stroke-width="1.2"/><path d="M357.6 795.8Q554.9 793.8 704.1 859.4" stroke-width="1.9"/><path d="M357.6 795.2Q563.3 766 748.8 818.3" stroke-width="1.8"/></g>
<g fill="none" stroke="#B2DF8A" stroke-opacity=".78"><path d="M380.4 846.1Q562.4 766.1 760 768" stroke-width="1.4"/><path d="M380 845.4Q547.4 740.1 748.8 715.6" stroke-width="1.1"/><path d="M379.6 844.8Q522.5 719.3 716.5 668.9" stroke-width="1.7"/><path d="M379 844.2Q490.4 706 665.8 633.4" stroke-width="1.8"/><path d="M378.2 843.7Q454.6 701.6 601.5 613.8" stroke-width="2.4"/><path d="M377.3 843.3Q418.9 706.7 534.1 610.5" stroke-width="1.7"/><path d="M376.3 843.1Q387.2 720.6 467.9 625.9" stroke-width="1.9"/><path d="M375.3 843.1Q363 741.9 411.2 658" stroke-width="1.2"/><path d="M374.3 843.4Q348.8 768.2 370.8 703.3" stroke-width="1.2"/><path d="M373.4 843.8Q346.3 796.7 351.3 755.8" stroke-width="2.2"/><path d="M372.7 844.3Q355.6 824.3 354.4 810.7" stroke-width="1"/><path d="M380.1 850.6Q404.8 865.3 410.6 876.2" stroke-width="0.37"/><path d="M380.4 850Q439.2 874.3 467.9 909.9" stroke-width="1.8"/><path d="M380.7 849.3Q475.5 873.9 533 924.4" stroke-width="2.4"/><path d="M380.8 848.7Q509.6 864.3 602 922.4" stroke-width="1.5"/><path d="M380.8 848Q538 846.5 665.9 902.7" stroke-width="0.7"/><path d="M380.8 847.4Q557.4 822.3 702.7 863.3" stroke-width="1.9"/><path d="M380.6 846.7Q565.9 794.5 748.4 820.4" stroke-width="2.6"/></g>
<g fill="none" stroke="#E3BE00" stroke-opacity=".78"><path d="M425 887.8Q576.6 792.4 760.1 770.1" stroke-width="1.7"/><path d="M424.3 886.9Q561.6 766.4 749.2 717.7" stroke-width="2"/><path d="M423.4 886Q536.7 745.6 717.2 670.9" stroke-width="0.38"/><path d="M422.3 885.3Q504.6 732.3 666.8 635.4" stroke-width="0.31"/><path d="M421 884.8Q468.7 728 603 615.9" stroke-width="2.3"/><path d="M419.5 884.5Q433.1 733 535.9 612.3" stroke-width="1.8"/><path d="M418 884.5Q401.4 746.9 470.1 627.4" stroke-width="1.2"/><path d="M416.6 884.8Q377.1 768.2 414 659.3" stroke-width="2.5"/><path d="M415.3 885.4Q363 794.5 374 704" stroke-width="0.87"/><path d="M414.2 886.2Q360.5 823 354.5 755.9" stroke-width="1.1"/><path d="M413.4 887Q369.8 850.7 357.4 810.1" stroke-width="1.6"/><path d="M412.7 888Q390 874.4 383.1 861.6" stroke-width="1.4"/><path d="M425.9 893.5Q453.4 900.6 466 911.7" stroke-width="1.7"/><path d="M426.1 892.5Q489.6 900.2 531.4 926.5" stroke-width="0.78"/><path d="M426.1 891.6Q523.8 890.6 600.9 924.5" stroke-width="2.4"/><path d="M426 890.6Q552.1 872.8 665.2 904.6" stroke-width="1.1"/><path d="M425.8 889.7Q571.6 848.7 701.9 867.1" stroke-width="2.5"/><path d="M425.5 888.8Q580 820.9 748.2 822.5" stroke-width="1.5"/></g>
<g fill="none" stroke="#FB9A99" stroke-opacity=".78"><path d="M481.3 918.6Q600.8 813.7 760.5 772.2" stroke-width="0.41"/><path d="M480.7 918Q585.8 787.7 749.9 719.8" stroke-width="2.3"/><path d="M479.9 917.5Q560.9 766.9 718.2 672.9" stroke-width="1.8"/><path d="M479 917.1Q528.8 753.6 668.1 637.3" stroke-width="1.5"/><path d="M478 916.9Q493 749.2 604.9 617.8" stroke-width="1.9"/><path d="M477 917Q457.3 754.3 538.1 613.9" stroke-width="2"/><path d="M476 917.2Q425.6 768.2 472.8 628.6" stroke-width="1"/><path d="M475.1 917.6Q401.4 789.5 417.1 660" stroke-width="1.9"/><path d="M474.4 918.1Q387.2 815.8 377.3 704.1" stroke-width="2.1"/><path d="M473.8 918.7Q384.7 844.3 357.6 755.3" stroke-width="2.3"/><path d="M473.3 919.3Q394 871.9 360.2 808.9" stroke-width="1.6"/><path d="M473 920Q414.2 895.7 385.5 860" stroke-width="1.7"/><path d="M472.8 920.6Q443.1 912.9 432.1 903.3" stroke-width="0.59"/><path d="M482.5 921.8Q513.8 921.5 530.2 928.7" stroke-width="1.6"/><path d="M482.5 921.2Q548 911.9 600.2 926.6" stroke-width="0.83"/><path d="M482.3 920.5Q576.3 894.1 664.8 906.6" stroke-width="1.5"/><path d="M482.1 919.9Q595.8 869.9 701.6 871" stroke-width="1.2"/><path d="M481.8 919.2Q604.2 842.1 748.3 824.6" stroke-width="2"/></g>
<g fill="none" stroke="#E7298A" stroke-opacity=".78"><path d="M549.5 930.5Q632.5 827.6 761.2 774.3" stroke-width="3"/><path d="M548.5 929.9Q617.5 801.6 750.9 721.8" stroke-width="3.2"/><path d="M547.4 929.4Q592.6 780.8 719.5 674.8" stroke-width="4.3"/><path d="M546.1 929.2Q560.5 767.5 669.9 639.1" stroke-width="3.1"/><path d="M544.8 929.2Q524.6 763.1 607.3 619.5" stroke-width="7"/><path d="M543.5 929.5Q489 768.2 540.7 615.1" stroke-width="2.9"/><path d="M542.4 930Q457.3 782.1 475.8 629.3" stroke-width="2"/><path d="M541.4 930.6Q433.1 803.4 420.3 660" stroke-width="1.6"/><path d="M540.7 931.4Q418.9 829.7 380.5 703.5" stroke-width="0.82"/><path d="M540.1 932.2Q416.4 858.2 360.4 754.1" stroke-width="4.5"/><path d="M539.7 933Q425.7 885.8 362.5 807.4" stroke-width="2.7"/><path d="M539.4 933.8Q445.9 909.6 387.4 858.2" stroke-width="3.8"/><path d="M539.3 934.7Q474.8 926.8 433.8 901" stroke-width="4.6"/><path d="M539.2 935.5Q509.3 935.8 491.6 928" stroke-width="1"/><path d="M551.6 933.7Q579.7 925.8 599.7 928.6" stroke-width="3.4"/><path d="M551.3 932.9Q608 908 664.6 908.5" stroke-width="1.4"/><path d="M550.9 932.1Q627.5 883.8 701.8 874.8" stroke-width="2"/><path d="M550.3 931.3Q635.9 856.1 748.7 826.8" stroke-width="2.2"/></g>
<g fill="none" stroke="#910241" stroke-opacity=".78"><path d="M617.9 926.1Q668.2 832.7 762.3 776.4" stroke-width="0.64"/><path d="M616.9 925.7Q653.2 806.6 752.3 723.8" stroke-width="3.3"/><path d="M615.8 925.5Q628.3 785.8 721.3 676.6" stroke-width="2.2"/><path d="M614.7 925.5Q596.2 772.6 672.1 640.6" stroke-width="1.7"/><path d="M613.6 925.8Q560.3 768.2 610.2 620.8" stroke-width="2.9"/><path d="M612.7 926.2Q524.6 773.3 543.7 615.8" stroke-width="1.5"/><path d="M611.9 926.8Q493 787.2 478.9 629.4" stroke-width="0.46"/><path d="M611.2 927.4Q468.7 808.4 423.4 659.4" stroke-width="0.47"/><path d="M610.7 928.1Q454.6 834.8 383.3 702.3" stroke-width="1.5"/><path d="M610.4 928.8Q452.1 863.3 362.7 752.5" stroke-width="2"/><path d="M610.1 929.5Q461.4 890.9 364.3 805.6" stroke-width="0.72"/><path d="M610 930.2Q481.6 914.6 388.9 856.2" stroke-width="2.9"/><path d="M610 930.9Q510.5 931.9 435 898.7" stroke-width="1.3"/><path d="M610 931.6Q544.9 940.8 492.4 926" stroke-width="1.8"/><path d="M610.2 932.3Q581.2 940.5 562.1 937.8" stroke-width="3.9"/><path d="M619.9 928Q643.7 913 664.8 910.5" stroke-width="2"/><path d="M619.4 927.3Q663.2 888.9 702.6 878.7" stroke-width="2.8"/><path d="M618.8 926.7Q671.6 861.1 749.4 828.9" stroke-width="3.7"/></g>
<g fill="none" stroke="#00CDD1" stroke-opacity=".78"><path d="M680.9 904.4Q704 828.3 763.7 778.4" stroke-width="1.7"/><path d="M679.9 904.2Q689 802.3 754.2 725.7" stroke-width="2.1"/><path d="M679 904.2Q664.1 781.5 723.6 678.2" stroke-width="0.37"/><path d="M678.1 904.4Q632 768.2 674.8 641.8" stroke-width="1.6"/><path d="M677.3 904.8Q596.2 763.8 613.4 621.6" stroke-width="1.9"/><path d="M676.6 905.3Q560.5 768.9 546.8 615.8" stroke-width="1.5"/><path d="M676.1 905.8Q528.8 782.8 481.9 628.8" stroke-width="1.7"/><path d="M675.7 906.4Q504.6 804.1 426.2 658.3" stroke-width="2.2"/><path d="M675.4 907Q490.4 830.4 385.8 700.6" stroke-width="2.8"/><path d="M675.2 907.5Q487.9 858.9 364.6 750.7" stroke-width="2.3"/><path d="M675.1 908.1Q497.2 886.5 365.7 803.8" stroke-width="0.97"/><path d="M675 908.7Q517.5 910.3 389.9 854.2" stroke-width="2"/><path d="M675.1 909.3Q546.3 927.5 435.8 896.4" stroke-width="1.6"/><path d="M675.2 909.9Q580.8 936.5 492.8 924" stroke-width="1.9"/><path d="M675.4 910.5Q617.1 936.1 562.2 935.6" stroke-width="2.4"/><path d="M675.7 911.1Q651.2 926.5 631 929" stroke-width="2.4"/><path d="M682.4 905.2Q699 884.6 703.9 882.5" stroke-width="1.4"/><path d="M681.7 904.7Q707.5 856.8 750.5 831" stroke-width="2.9"/></g>
<g fill="none" stroke="#A6CEE3" stroke-opacity=".78"><path d="M732.8 852.3Q736.1 815 765.6 780.4" stroke-width="0.27"/><path d="M728.8 852.3Q721.1 789 756.6 727.4" stroke-width="1.6"/><path d="M725 853.2Q696.2 768.2 726.3 679.4" stroke-width="2.1"/><path d="M721.6 854.7Q664.1 754.9 677.8 642.5" stroke-width="0.53"/><path d="M718.7 856.7Q628.3 750.6 616.8 621.6" stroke-width="1.3"/><path d="M716.5 859Q592.6 755.6 549.9 615.2" stroke-width="1.8"/><path d="M714.7 861.5Q560.9 769.5 484.6 627.7" stroke-width="1.5"/><path d="M713.5 864Q536.7 790.8 428.5 656.7" stroke-width="1.3"/><path d="M712.6 866.5Q522.5 817.1 387.7 698.8" stroke-width="2.5"/><path d="M712.2 869Q520 845.6 366.1 748.8" stroke-width="1.2"/><path d="M712 871.5Q529.3 873.3 366.7 801.8" stroke-width="2.2"/><path d="M712.2 873.9Q549.6 897 390.6 852.2" stroke-width="2.1"/><path d="M712.7 876.4Q578.5 914.3 436.3 894.1" stroke-width="1.9"/><path d="M713.6 878.9Q612.9 923.2 492.9 922" stroke-width="2.2"/><path d="M715 881.4Q649.2 922.8 562.1 933.4" stroke-width="2.7"/><path d="M716.8 883.9Q683.3 913.2 630.7 926.9" stroke-width="1.7"/><path d="M719.1 886.1Q711.7 895.4 693.3 903" stroke-width="2.1"/><path d="M736.7 853Q739.6 843.5 752 833.1" stroke-width="2"/></g>
<g fill="none" stroke="#CE1261" stroke-opacity=".78"><path d="M763.8 816.9Q761 794.2 768 782" stroke-width="1.5"/><path d="M762.6 817.1Q746 768.2 759.4 728.7" stroke-width="0.54"/><path d="M761.5 817.6Q721.1 747.4 729.3 680.1" stroke-width="3"/><path d="M760.7 818.2Q689 734.1 680.9 642.6" stroke-width="3.1"/><path d="M760 818.9Q653.2 729.8 620.1 621" stroke-width="1.3"/><path d="M759.4 819.7Q617.5 734.8 552.6 614.1" stroke-width="1.9"/><path d="M759.1 820.4Q585.8 748.7 486.9 626.1" stroke-width="1.5"/><path d="M758.8 821.2Q561.6 770 430.4 654.9" stroke-width="3.5"/><path d="M758.7 822Q547.4 796.3 389.2 696.8" stroke-width="2.4"/><path d="M758.6 822.7Q544.9 824.9 367.2 746.8" stroke-width="2.7"/><path d="M758.7 823.5Q554.2 852.5 367.4 799.9" stroke-width="2.2"/><path d="M758.8 824.3Q574.5 876.2 391.1 850.2" stroke-width="3.1"/><path d="M759.1 825Q603.4 893.5 436.5 891.8" stroke-width="4.4"/><path d="M759.5 825.8Q637.8 902.4 492.8 920" stroke-width="3.7"/><path d="M760.1 826.5Q674.1 902.1 561.7 931.2" stroke-width="5"/><path d="M760.8 827.2Q708.2 892.4 630 924.8" stroke-width="2.5"/><path d="M761.7 827.8Q736.5 874.6 692.3 901" stroke-width="3.7"/><path d="M762.8 828.3Q756 850.5 753.7 852.4" stroke-width="2.3"/></g>
<path fill="#E41A1C" fill-opacity=".8" d="M763.8 719.1L767.9 732.7L756.6 731.3zM731.5 669.8L738.6 682.2L726.8 683.3zM680.9 632L690.1 642.8L679.2 646.1zM618.1 610.6L629.2 619.4L619.3 624.7zM548.3 604.5L561 611L552 618.2zM481 617.5L494.3 622L487.1 630.2zM423.1 647.4L437 649.6L431.2 659zM380.8 690.5L394.9 690.8L390.5 700.7zM357.9 741.9L372 739.6L368.7 751.3zM357.6 796.5L371.2 792.6L369.6 804zM380.8 848.1L393.9 842.9L393.8 853.5zM426.1 890.8L438.3 883.9L439.6 894.6zM482.4 920.6L493.6 912L496.3 922.7zM551.3 933L561.2 922.9L565.5 933.2zM620 928.1L628.2 916.5L634.1 926.3zM683 905.8L689.3 893.1L696.6 901.8zM743.5 856.7L747.5 843.1L756.3 850.6zM767.4 817.6L768.9 803.5L778.9 809.2z"/>
<path fill="#377EB8" fill-opacity=".8" d="M776.7 762.7L772.2 749L784.2 750.5zM732.5 669.6L742 680.3L730.5 683.8zM681.7 631.7L692.8 640.5L682.8 645.8zM619 610L631.3 616.8L623 623.5zM548.9 603.9L562.6 608.1L554.8 617zM481.4 616.9L495.6 618.8L489.2 628.9zM423.4 646.7L437.8 646.4L432.9 657.6zM381.1 689.8L395.1 688L392.1 698.7zM358 741.3L371.7 737L370 749.2zM357.6 795.9L370.7 789.9L370.5 802zM380.8 847.5L393 840.4L394.3 851.4zM425.9 889.8L436.9 880.7L440 892.5zM482.2 920L492 909.9L496.3 920.1zM550.9 932.2L558.8 920.1L565.4 931zM619.5 927.4L625.9 914.8L633.1 923.4zM682.5 905.3L686.9 891.9L694.9 898.8zM740.6 854.7L741.8 840.4L752.4 846.5zM766.3 817.1L764.8 802.9L776.2 806.7z"/>
<path fill="#4DAF4A" fill-opacity=".8" d="M775.5 762.6L768.8 750.2L779.9 749.2zM762.9 708.5L753.8 697.7L764.4 694.5zM682.4 631.2L694.8 637.9L686.3 644.8zM619.7 609.3L633.2 613.7L625.7 622.1zM549.3 603.4L563.5 605.3L557.2 615.3zM481.7 616.3L495.8 616.5L491.4 626.7zM423.7 646.1L437.7 644.3L434.7 655zM381.2 689.1L394.9 685L393.2 696.8zM358.1 740.6L371.1 735.2L371 746.3zM357.6 795.3L369.8 788.2L371.1 799.2zM380.7 846.8L391.8 837.9L394.7 849.2zM425.6 888.9L435.5 879L439.6 888.9zM481.8 919.3L490.2 908L495.8 917.4zM550.4 931.4L556.7 918.7L564 927.4zM618.9 926.8L623 913.2L631.6 920.6zM681.8 904.8L683.2 890.6L693.4 896.4zM737.2 853.2L735.9 839L746.9 842.7zM765.2 816.9L761.2 803.3L772.3 804.6z"/>
<path fill="#984EA3" fill-opacity=".8" d="M774.4 762.9L765.1 752.1L776.1 748.7zM761.9 709L750.9 700.1L760.7 694.9zM728.2 661.5L715.5 655L724.5 647.8zM620.2 608.6L634.2 610.8L628.3 620.2zM549.6 602.8L563.9 602.7L559.2 613.3zM481.9 615.8L495.9 613.9L492.9 624.6zM423.8 645.4L437.4 641.9L435.9 652.6zM381.3 688.4L394.3 683L394.2 694.1zM358 740L370.3 732.9L371.6 743.9zM357.5 794.7L368.6 786L371.5 796.9zM380.4 846.2L390.4 836.1L394.5 846.3zM425.1 888L433.4 876.6L439.1 886zM481.4 918.7L487.7 906L495 914.7zM549.6 930.6L553.6 917L562.5 924.5zM618.1 926.2L619.4 912L629.6 917.9zM681 904.4L680 890.4L690.3 893.8zM733.4 852.3L729.7 838.8L740.3 840.1zM763.9 816.9L757.3 804.4L768.3 803.4z"/>
<path fill="#F29403" fill-opacity=".8" d="M773.4 763.3L762 754.6L772.4 749zM761.1 709.5L748.3 703.1L757.5 695.7zM727.6 662L713.7 658.2L722 648.7zM675.7 625.3L661.5 623.5L667.9 613.3zM549.9 602.2L563.8 600.6L560.9 610.8zM482 615.2L495.7 611.5L494.1 622.5zM423.9 644.8L436.9 638.8L436.8 651zM381.2 687.7L393.4 680.5L394.8 691.7zM357.9 739.3L369 730.3L372 741.9zM357.3 794.1L367.1 783.8L371.5 794.4zM380.1 845.5L388.4 834.1L394.1 843.6zM424.4 887L430.4 873.9L438.4 883.5zM480.8 918.1L484.6 904.3L493.8 912.1zM548.7 930L549.6 915.5L560.7 921.9zM617.1 925.8L614.9 911.3L627.6 915.6zM680.1 904.2L675.5 890.6L687.8 892zM729.4 852.3L722.3 839.8L734.2 838.8zM762.8 817.1L752.9 806.5L765.1 802.8z"/>
<path fill="#F781BF" fill-opacity=".8" d="M772.5 763.9L759.9 757.3L768.7 750.2zM760.4 710.2L746.9 705.9L754.4 697.3zM727.1 662.6L713.2 660.3L719.1 651.1zM675.4 625.9L661.2 626L665.9 615.4zM609.8 604L595.7 606.1L598.9 594.8zM482.1 614.6L495.1 609L495 620.4zM423.8 644.1L436 637L437.4 648.2zM381.1 687L392.3 678.4L395 689zM357.7 738.7L367.6 728.7L371.8 738.8zM357 793.5L365.3 782L371 791.6zM379.7 844.9L386 832.2L393.3 840.9zM423.6 886.2L427.6 872.6L436.4 880zM480 917.6L481.9 903.7L491.1 909zM547.5 929.5L546.3 915.3L557.1 919zM616 925.5L612.1 911.9L623.1 913.3zM679.1 904.2L672.2 891.8L683.7 890.7zM725.6 853L716.4 842.2L727.2 838.9zM761.7 817.5L750.6 808.8L760.5 803.4z"/>
<path fill="#BC9DCC" fill-opacity=".8" d="M771.8 764.5L758.5 760L765.6 751.9zM759.9 710.8L745.8 708.8L751.9 699.1zM726.8 663.3L712.6 663.3L717.2 652.8zM675.2 626.5L661.2 628.3L664.2 617.6zM609.7 604.7L596 608.3L597.6 597.5zM541 600.9L528 606.5L528.1 595.2zM423.7 643.5L434.9 634.8L437.7 645.7zM380.8 686.3L390.8 676.2L395 686.4zM357.4 738L365.6 726.6L371.4 736.2zM356.6 792.9L363.1 780.4L370 788.8zM379.1 844.3L383.3 830.8L391.7 838zM422.5 885.4L424.2 871.4L433.8 876.9zM479.2 917.2L477.9 903L488.7 906.7zM546.3 929.2L542.6 915.6L553.1 916.9zM614.9 925.5L608.4 913L619.1 912.1zM678.2 904.4L669.1 893.6L679.8 890.3zM722.1 854.5L711 845.6L720.8 840.4zM760.8 818.1L748.4 811.4L756.9 804.6z"/>
<path fill="#A65628" fill-opacity=".8" d="M771.3 765.2L757.4 762.8L763.1 753.8zM759.5 711.5L745.2 711.9L750.1 700.7zM726.6 663.9L712.6 665.5L715.5 655.2zM675.1 627.1L661.4 631.1L663 619.5zM609.6 605.5L596.5 611.4L596.7 599.3zM541.1 601.5L528.9 609L527.4 597.2zM473.2 615.7L462.1 624.6L459.2 613.2zM380.5 685.6L388.6 673.9L394.7 683.9zM356.9 737.4L363.3 724.8L370.4 733.3zM356 792.4L360 778.7L368.9 786.3zM378.3 843.8L379.9 829.7L389.7 835.3zM421.2 884.8L419.7 870.6L431.1 874.5zM478.2 917L473.9 903.3L485.5 904.7zM545 929.2L537.9 916.7L549.7 915.7zM613.8 925.7L604.8 914.9L615.3 911.7zM677.4 904.7L666 896.1L676.6 890.4zM719.1 856.4L706.6 849.8L715.4 842.8zM760.1 818.8L746.3 814.8L754.3 805.7z"/>
<path fill="#54B0E4" fill-opacity=".8" d="M770.9 766L756.7 766L761.3 755.5zM759.3 712.3L745.1 714.7L748.4 702.8zM726.5 664.5L712.7 668.8L714.5 656.5zM675 627.7L662 633.4L662.1 621.7zM609.6 606.2L597.5 613.9L596 601.7zM541.2 602.1L530.1 611.1L527.1 599.7zM473.4 616.3L463.6 626.4L459.3 616zM414.7 647.3L406.7 659.3L400.3 648.6zM356.3 736.8L360.2 723.1L369.3 730.8zM355.3 791.9L356.9 777.8L366.8 783.5zM377.4 843.4L375.9 829.1L387.3 833zM419.8 884.5L415.8 870.9L426.9 872.3zM477.1 916.9L470.2 904.5L481.8 903.5zM543.7 929.4L534.7 918.6L545.1 915.4zM612.8 926.1L601.8 917.3L611.5 912.1zM676.7 905.2L663.9 898.8L673.2 891.3zM716.8 858.7L703.2 854.5L710.8 845.7zM759.5 819.6L745.5 817.5L751.6 807.8z"/>
<path fill="#222F75" fill-opacity=".8" d="M770.6 766.7L756.5 768.8L759.7 757.5zM759.1 713L745.4 717.3L747.1 705zM726.4 665.1L713.4 671.2L713.5 658.7zM675.1 628.3L662.8 635.3L661.5 624.4zM609.8 607L598.7 615.9L595.7 604.6zM541.4 602.7L531.5 612.9L527.2 602.4zM473.7 616.8L465.6 628.6L459.5 618.4zM415.1 647.9L409.1 661L401.2 651.5zM372.4 692.4L368.4 706.1L359.5 698.6zM354.5 791.6L353 777.3L364.5 781.2zM376.5 843.1L372.4 829.6L383.6 830.9zM418.3 884.5L410.8 872.1L423.4 871zM476.1 917.1L466.7 906.4L478 903zM542.5 929.9L531 921.3L541.8 915.5zM612 926.7L599.6 920L608.1 913.1zM676.2 905.7L662.3 901.7L670.4 892.5zM715 861.1L700.8 859.2L707.1 849.2zM759.1 820.3L744.8 820.7L749.7 809.5z"/>
<path fill="#1B9E77" fill-opacity=".8" d="M770.5 767.4L756.9 770.9L758.4 760.3zM759.1 713.7L746 719.3L746.1 707.7zM726.5 665.7L714.3 673.2L712.8 661.4zM675.2 628.9L664 637.5L661.2 626.7zM610 607.7L600.2 617.9L595.9 607.5zM541.7 603.3L533.5 614.9L527.5 605zM474.1 617.4L467.8 630.1L460.5 621.4zM415.7 648.5L411.5 662L403 654.8zM373.2 693L371.9 707.3L361.5 701.3zM351.5 745.3L352.5 759.3L342.2 755.8zM375.4 843.1L368.8 830.7L379.8 829.7zM416.8 884.8L407.4 874L418.6 870.6zM475.2 917.5L464.1 908.7L474 903.4zM541.6 930.5L529 923.9L537.8 916.9zM611.3 927.3L597.9 922.9L605.2 914.6zM675.7 906.3L661.8 904.1L667.7 894.7zM713.6 863.6L699.4 863.7L704.1 853.1zM758.8 821.1L744.8 823.1L747.9 812.1z"/>
<path fill="#B2DF8A" fill-opacity=".8" d="M770.4 768.1L757.4 773.6L757.5 762.4zM759.1 714.4L746.9 721.4L745.5 710.4zM726.6 666.3L715.4 675.1L712.6 664.1zM675.4 629.4L665.6 639.7L661.2 629.1zM610.4 608.5L602.3 620.2L596.2 610.1zM542.1 603.9L535.7 616.6L528.4 607.8zM474.7 618L470.6 631.6L461.8 624.1zM416.4 649L414.8 663.1L405.1 657.5zM374.1 693.5L375.2 707.5L364.7 704zM352.5 745.5L356.8 759.1L345.1 757.7zM353.5 800.3L360.1 812.8L349.2 813.7zM415.5 885.3L404.7 876.4L414 871.3zM474.5 918L461.8 911.5L470.8 904.3zM540.8 931.3L527.1 927.2L534.9 918.2zM610.8 928L596.8 925.8L602.8 916.3zM675.4 906.9L661.3 906.6L665.7 896.7zM712.7 866.1L698.7 868.1L701.8 857zM758.7 821.9L745 826L746.6 814.1z"/>
<path fill="#E3BE00" fill-opacity=".8" d="M770.5 768.9L758.2 776.1L756.9 764.8zM759.2 715.1L748.1 724L745.2 712.7zM726.8 666.9L716.8 676.8L712.7 667zM675.7 630L667.2 641.2L661.8 632.2zM610.9 609.2L604.7 622.1L597.2 613zM542.6 604.4L538.5 618L529.8 610.6zM475.3 618.4L473.7 632.5L464 626.9zM417.3 649.4L418.8 663.7L407.5 659.8zM375.2 693.7L379.1 707.3L368.2 705.9zM353.5 745.5L360.2 758L349.2 759zM354.4 800.1L363.6 810.9L352.8 814.2zM378.2 852.4L389.3 861.2L379.4 866.5zM473.9 918.6L460.3 914.3L467.9 905.7zM540.2 932.1L526.3 929.7L532.1 920.5zM610.4 928.7L596.1 928.9L600.9 918zM675.2 907.5L661.2 909.3L664.2 898.6zM712.2 868.6L698.5 872.7L700.2 860.9zM758.6 822.6L745.6 828.2L745.7 816.8z"/>
<path fill="#FB9A99" fill-opacity=".8" d="M770.6 769.6L759.4 778L756.7 767.7zM759.5 715.8L749.7 726.2L745.2 715.3zM727.1 667.5L718.9 679.1L713 669.3zM676.1 630.6L669.7 643.3L662.5 634.6zM611.6 609.9L607.6 623.6L598.8 616.1zM543.3 604.9L541.8 619L531.8 613.2zM476.1 618.8L477.2 632.9L466.8 629.3zM418.3 649.7L422.5 663.3L411 661.9zM376.3 693.7L383.3 706.1L371.7 707.2zM354.5 745.3L364 756L352.7 759.5zM355.2 799.8L366.4 808.5L356.4 813.9zM379 851.9L391.6 858.5L382.7 865.6zM424.3 896.4L437.6 900.9L430.5 909zM539.8 932.9L525.6 932.9L530.1 922.5zM610.2 929.4L596.2 931.1L599.1 920.6zM675.1 908L661.4 911.8L663 900.6zM712 871.1L699 876.5L699.1 865.4zM758.7 823.4L746.5 830.7L745.1 819.2z"/>
<path fill="#E7298A" fill-opacity=".8" d="M770.8 770.3L761.2 780.9L756.5 769.7zM759.8 716.5L751.8 728.4L745.5 717.9zM727.5 668.1L721.7 681.4L713.4 671.5zM676.6 631.1L672.9 645L663.5 637.1zM612.5 610.5L612.1 625.3L599.9 618.3zM544.1 605.2L545.7 619.5L534.2 615.6zM477 619L481.2 632.6L469.7 631.2zM419.3 649.7L426.1 662.1L414.9 663.1zM377.4 693.5L386.4 704.4L376 707.5zM355.4 744.9L367.4 753.3L355.8 759.5zM355.9 799.3L368.8 805.7L359.4 813.2zM379.6 851.3L393.5 855.1L385.2 864.7zM425 895.5L439.5 896.8L432.5 908zM482.1 923.9L496.2 924L491.8 934.1zM610 930.1L596.3 934.4L598 922.1zM675 908.6L662 914.1L662.1 902.9zM712.2 873.6L700 880.9L698.6 869.4zM758.8 824.2L747.7 833.1L744.7 821.7z"/>
<path fill="#910241" fill-opacity=".8" d="M771.2 771.1L762.8 782.4L757.3 773.1zM760.3 717.2L754.3 730.3L746.4 720.8zM728.1 668.7L724.1 682.4L715.2 674.8zM677.3 631.6L675.8 645.7L665.9 640zM613.5 611L615.1 625.2L603.6 621.4zM545 605.4L549 619L537.8 617.7zM478 619L484.5 631.5L473.8 632.4zM420.3 649.5L429.2 660.4L419 663.5zM378.4 693.1L389.6 701.9L379.6 707.2zM356.2 744.4L368.9 750.9L359.8 758.2zM356.5 798.8L369.8 803.3L362.7 811.4zM380 850.7L394.3 852.5L387.8 862.8zM425.5 894.6L439.7 894.7L435.1 904.9zM482.3 923.2L496.4 921.2L493.3 932.3zM551.8 936.3L565.5 931.8L563.7 944.5zM675.1 909.2L662.9 916.5L661.5 905zM712.6 876.1L701.6 885.2L698.5 873.5zM759.1 824.9L749.5 835.7L744.6 824.1z"/>
<path fill="#00CDD1" fill-opacity=".8" d="M771.7 771.8L765.4 784.5L758.1 775.7zM761 717.8L757 731.5L748.1 723.9zM728.8 669.2L726.9 683.1L717.7 677.8zM678.1 632L679.3 646.1L668.6 642.5zM614.7 611.3L618.8 624.9L607.4 623.5zM545.9 605.5L552.7 617.9L541.4 618.9zM478.9 618.8L488.1 629.6L477.2 632.9zM421.3 649.1L432.6 657.8L422.2 663.3zM379.2 692.5L392.1 698.9L382.7 706.5zM356.8 743.8L370.5 748L362.7 756.9zM356.9 798.2L370.8 800.5L365 809.8zM380.4 850.1L394.6 850L390 860.6zM425.8 893.6L439.9 891.7L436.8 902.6zM482.5 922.6L496.2 918.7L494.5 930.1zM551.8 935.5L564.9 929.7L564.8 941.5zM620.7 930.2L632.9 922.8L634.3 934.5zM713.5 878.6L703.6 888.7L699.3 878.3zM759.4 825.7L751.4 837.6L745.2 827.1z"/>
<path fill="#A6CEE3" fill-opacity=".8" d="M772.4 772.4L768 785.8L759.9 778.9zM761.8 718.4L760.2 732.5L750.4 726.8zM729.6 669.6L731 683.8L719.9 680zM679 632.2L682.8 645.7L672.1 644.5zM615.9 611.3L622.6 623.7L611.5 624.7zM546.8 605.3L556.1 616L545.1 619.4zM479.7 618.5L490.8 627.3L480.9 632.6zM422 648.6L434.5 655.2L425.8 662.2zM379.9 691.9L393.6 696L385.8 705zM357.3 743.2L371.3 745.4L365.3 754.8zM357.2 797.6L371.5 797.5L366.8 808.2zM380.6 849.4L394.7 847.3L391.6 858.6zM426 892.7L439.7 888.8L438.1 900.2zM482.5 921.9L495.6 916.2L495.5 927.9zM551.8 934.7L564 927.1L565.4 939.1zM620.6 929.5L631.7 920.7L634.6 931.8zM683.7 907L693.5 896.6L697.9 907.4zM760 826.4L753.7 839.2L746.3 830.3z"/>
<path fill="#CE1261" fill-opacity=".8" d="M773.2 773L771.6 787.1L761.8 781.5zM762.7 718.8L763.6 732.9L753.5 729.4zM730.5 669.8L735 683.4L722.9 682zM679.9 632.2L687.2 644.6L675 645.7zM617 611L626.2 621.9L615.5 625.1zM547.6 604.9L558.9 613.7L548.7 619.1zM480.4 618L493 624.6L484.2 631.7zM422.6 648L436.5 651.9L428.3 661.3zM380.4 691.2L394.6 693.1L388.3 703.2zM357.6 742.6L372 742.3L367.1 753.3zM357.4 797L371.5 794.9L368.4 806.2zM380.8 848.8L394.5 844.5L392.8 856.7zM426.1 891.7L439.2 885.3L439 898.4zM482.5 921.3L494.6 913.5L496.2 926zM551.6 933.8L562.5 924.1L565.9 937.1zM620.4 928.8L630.1 918.3L634.6 929.3zM683.4 906.4L691.3 894.3L697.8 905.1zM745.8 859L752 846.2L759.5 855.2z"/>
<path d="M776 768.2L784.3 771 792 773.3 799.3 775.1 805.9 776.4 812.1 777.3 817.7 777.8 822.8 777.9 827.4 777.7 831.4 777.1 834.9 776.3 837.8 775.3 840.3 774.2 842.2 772.8 843.5 771.4 844.4 769.9 844.7 768.3 844.4 766.7 843.7 765.2 842.4 763.7 840.5 762.4 838.2 761.2 835.3 760.2 831.8 759.4 827.9 758.8 823.4 758.5 818.4 758.6 812.8 759 806.7 759.8 800.1 761.1 792.9 762.8" fill="none" stroke="#E41A1C" stroke-opacity=".72" stroke-width="1.3" stroke-linejoin="round"/>
<path fill="#E41A1C" fill-opacity=".8" d="M781.4 766.3L791.5 758L794.4 767.6z"/>
<path d="M764.5 713.7L773.4 714.3 781.7 714.5 789.2 714.3 796 713.9 802.2 713.1 807.7 712.1 812.5 711 816.7 709.6 820.3 708.1 823.3 706.5 825.8 704.8 827.6 703 828.9 701.3 829.6 699.6 829.8 697.9 829.5 696.4 828.7 695 827.4 693.7 825.6 692.6 823.4 691.8 820.8 691.2 817.7 691 814.2 691 810.3 691.4 806 692.3 801.4 693.5 796.4 695.3 791.1 697.5 785.4 700.2 779.4 703.6" fill="none" stroke="#377EB8" stroke-opacity=".72" stroke-width="2.5" stroke-linejoin="round"/>
<path fill="#377EB8" fill-opacity=".8" d="M769.2 710.2L776.5 699.1L782.4 708.1z"/>
<path d="M731.1 665.1L739.8 663.4 747.6 661.5 754.7 659.4 761 657.2 766.5 655 771.3 652.6 775.4 650.3 778.8 647.9 781.6 645.5 783.8 643.3 785.4 641 786.4 638.9 786.9 637 786.9 635.2 786.4 633.5 785.5 632.1 784.2 631 782.5 630.1 780.4 629.6 778 629.3 775.2 629.4 772.2 630 769 630.9 765.5 632.3 761.8 634.1 757.9 636.4 753.9 639.3 749.8 642.7 745.6 646.8 741.4 651.4" fill="none" stroke="#4DAF4A" stroke-opacity=".72" stroke-width="2" stroke-linejoin="round"/>
<path fill="#4DAF4A" fill-opacity=".8" d="M733.9 661L737.3 648.2L745.5 654.6z"/>
<path d="M679.5 627.7L687 623.9 693.6 620.1 699.4 616.3 704.4 612.7 708.7 609.1 712.3 605.7 715.2 602.4 717.5 599.3 719.2 596.4 720.3 593.7 720.9 591.2 721 588.9 720.7 586.9 720 585.2 718.9 583.8 717.5 582.7 715.8 581.9 713.9 581.5 711.7 581.5 709.3 581.8 706.8 582.6 704.2 583.8 701.5 585.5 698.8 587.6 696.1 590.2 693.4 593.3 690.8 597 688.3 601.2 686 606 683.9 611.3" fill="none" stroke="#984EA3" stroke-opacity=".72" stroke-width="0.8" stroke-linejoin="round"/>
<path fill="#984EA3" fill-opacity=".8" d="M680.5 623.1L679.2 610L688.5 612.7z"/>
<path d="M615.4 605.5L620.8 600 625.4 594.8 629.4 589.8 632.6 585.1 635.2 580.7 637.2 576.5 638.6 572.7 639.5 569.2 639.9 566 639.9 563.1 639.5 560.6 638.7 558.4 637.6 556.6 636.3 555.1 634.7 554 633 553.3 631.1 552.9 629.1 553 627 553.4 625 554.3 622.9 555.6 620.9 557.3 619.1 559.4 617.4 562 615.8 565.1 614.6 568.6 613.5 572.6 612.9 577 612.5 582 612.6 587.4" fill="none" stroke="#F29403" stroke-opacity=".72" stroke-width="5" stroke-linejoin="round"/>
<path fill="#F29403" fill-opacity=".8" d="M614.1 599.6L606.5 588.2L618.7 586.7z"/>
<path d="M545.5 601L548.4 594.3 550.7 588.1 552.3 582.3 553.4 577 554 572.1 554.2 567.7 553.9 563.7 553.3 560.1 552.3 557 551.1 554.3 549.6 552 548 550.2 546.2 548.8 544.3 547.8 542.3 547.2 540.3 547 538.4 547.3 536.5 547.9 534.7 549 533.2 550.4 531.8 552.2 530.7 554.5 529.9 557.1 529.4 560.2 529.3 563.6 529.7 567.4 530.5 571.5 531.9 576.1 533.8 581 536.3 586.3" fill="none" stroke="#F781BF" stroke-opacity=".72" stroke-width="1" stroke-linejoin="round"/>
<path fill="#F781BF" fill-opacity=".8" d="M542.7 596.9L532.1 588.8L540.5 583.8z"/>
<path d="M477.6 614.5L477.6 607.4 477.1 600.9 476.3 595 475.1 589.7 473.7 584.9 472 580.6 470.1 576.9 468 573.7 465.7 571 463.4 568.8 461.1 567.1 458.7 565.8 456.4 564.9 454.2 564.5 452.1 564.5 450.2 564.9 448.4 565.7 447 566.9 445.8 568.4 444.9 570.2 444.5 572.4 444.4 574.9 444.8 577.6 445.8 580.7 447.2 584 449.3 587.6 451.9 591.4 455.3 595.5 459.4 599.7 464.2 604.2" fill="none" stroke="#BC9DCC" stroke-opacity=".72" stroke-width="0.7" stroke-linejoin="round"/>
<path fill="#BC9DCC" fill-opacity=".8" d="M473.6 611.7L461.2 607.9L467.2 600.4z"/>
<path d="M418.9 644.7L416 638 412.8 632 409.6 626.6 406.3 621.8 403 617.6 399.6 614.1 396.2 611 392.9 608.6 389.7 606.6 386.6 605.1 383.7 604 380.9 603.4 378.4 603.2 376.1 603.4 374.2 604 372.5 604.9 371.2 606.1 370.3 607.5 369.8 609.3 369.8 611.3 370.3 613.4 371.3 615.8 372.8 618.4 375 621 377.8 623.8 381.2 626.7 385.4 629.6 390.3 632.6 396 635.6 402.4 638.6" fill="none" stroke="#A65628" stroke-opacity=".72" stroke-width="3" stroke-linejoin="round"/>
<path fill="#A65628" fill-opacity=".8" d="M414 643.1L400.4 643.7L404.4 633.5z"/>
<path d="M375.9 688.3L370.3 682.7 364.9 677.8 359.6 673.5 354.5 669.9 349.6 666.8 345 664.3 340.5 662.3 336.4 660.8 332.5 659.7 329 659.1 325.8 658.9 322.9 659 320.5 659.5 318.4 660.2 316.7 661.2 315.5 662.5 314.8 664 314.5 665.6 314.8 667.4 315.6 669.2 317 671.2 318.9 673.2 321.4 675.2 324.6 677.1 328.3 679.1 332.8 680.9 337.9 682.6 343.8 684.2 350.4 685.6 357.7 686.7" fill="none" stroke="#54B0E4" stroke-opacity=".72" stroke-width="5" stroke-linejoin="round"/>
<path fill="#54B0E4" fill-opacity=".8" d="M370 688L357.1 692.8L358.3 680.7z"/>
<path d="M353.1 740.6L345.5 736.7 338.3 733.4 331.6 730.7 325.2 728.6 319.3 726.9 313.9 725.7 308.9 725 304.3 724.6 300.3 724.6 296.7 724.9 293.5 725.5 290.9 726.4 288.8 727.5 287.1 728.7 286 730.1 285.4 731.6 285.3 733.2 285.8 734.8 286.8 736.4 288.3 738 290.4 739.5 293.1 740.9 296.4 742.1 300.2 743.2 304.6 744 309.6 744.6 315.2 744.9 321.5 744.8 328.3 744.4 335.8 743.6" fill="none" stroke="#222F75" stroke-opacity=".72" stroke-width="2" stroke-linejoin="round"/>
<path fill="#222F75" fill-opacity=".8" d="M348 741.6L336.6 748.8L334.9 738.5z"/>
<path d="M353.1 795.8L344.3 794.1 336.2 792.8 328.7 792 321.8 791.6 315.6 791.5 310 791.8 304.9 792.3 300.5 793.2 296.6 794.2 293.3 795.4 290.6 796.8 288.5 798.3 286.9 799.8 285.8 801.4 285.3 803.1 285.4 804.6 285.9 806.1 287 807.6 288.6 808.8 290.7 809.9 293.3 810.8 296.3 811.4 299.9 811.8 303.9 811.8 308.4 811.5 313.3 810.8 318.7 809.7 324.6 808.1 330.8 806 337.5 803.3" fill="none" stroke="#1B9E77" stroke-opacity=".72" stroke-width="1.5" stroke-linejoin="round"/>
<path fill="#1B9E77" fill-opacity=".8" d="M348.7 798.1L339.7 807.9L335.4 798.8z"/>
<path d="M375.9 848.1L366.9 848.7 358.7 849.5 351.4 850.7 344.7 852 338.8 853.5 333.6 855.2 329 857 325.2 858.9 321.9 860.9 319.3 862.9 317.3 864.8 315.8 866.8 314.9 868.7 314.6 870.4 314.7 872.1 315.3 873.6 316.4 874.9 318 876 319.9 876.8 322.3 877.3 325 877.5 328.1 877.4 331.6 876.9 335.3 876 339.3 874.6 343.7 872.8 348.2 870.4 353 867.5 358 864.1 363.2 860" fill="none" stroke="#B2DF8A" stroke-opacity=".72" stroke-width="1.2" stroke-linejoin="round"/>
<path fill="#B2DF8A" fill-opacity=".8" d="M372.3 851.7L366.5 863.7L359.9 856.3z"/>
<path d="M418.9 891.7L410.8 894.5 403.6 897.3 397.2 900.2 391.5 903.1 386.5 906 382.3 908.9 378.8 911.7 375.8 914.5 373.5 917.1 371.8 919.6 370.6 922 369.9 924.2 369.7 926.2 370 928.1 370.7 929.6 371.8 930.9 373.2 932 374.9 932.7 377 933.1 379.3 933.1 381.9 932.8 384.6 932.1 387.5 930.9 390.6 929.3 393.7 927.3 396.9 924.8 400.2 921.7 403.5 918.1 406.8 914 410 909.3" fill="none" stroke="#E3BE00" stroke-opacity=".72" stroke-width="1.5" stroke-linejoin="round"/>
<path fill="#E3BE00" fill-opacity=".8" d="M415.9 898.6L414.4 911.7L405.6 906.8z"/>
<path d="M477.6 921.9L471 926.6 465.3 931.2 460.4 935.7 456.2 939.9 452.7 944 449.9 947.8 447.7 951.4 446.1 954.8 445.1 957.9 444.5 960.7 444.4 963.2 444.7 965.5 445.4 967.4 446.5 969 447.9 970.3 449.5 971.2 451.3 971.8 453.3 971.9 455.5 971.7 457.7 971.1 460 970 462.3 968.5 464.6 966.5 466.9 964.1 469 961.2 471 957.8 472.8 953.9 474.4 949.4 475.7 944.5 476.7 939" fill="none" stroke="#FB9A99" stroke-opacity=".72" stroke-width="1" stroke-linejoin="round"/>
<path fill="#FB9A99" fill-opacity=".8" d="M477.6 927L481.6 939.3L471.8 938.6z"/>
<path d="M545.5 935.4L541.3 941.6 537.8 947.4 535 952.8 532.8 957.8 531.2 962.5 530.1 966.9 529.5 970.8 529.3 974.4 529.6 977.6 530.2 980.4 531.1 982.9 532.3 984.9 533.8 986.6 535.4 987.9 537.2 988.8 539.1 989.3 541 989.4 543 989.1 544.9 988.3 546.7 987.2 548.5 985.7 550.1 983.7 551.5 981.4 552.6 978.6 553.5 975.4 554 971.7 554.2 967.7 553.9 963.2 553.2 958.3 552 952.9" fill="none" stroke="#E7298A" stroke-opacity=".72" stroke-width="5.5" stroke-linejoin="round"/>
<path fill="#E7298A" fill-opacity=".8" d="M548.2 941.5L557.9 950.9L546.1 954.9z"/>
<path d="M615.4 930.9L613.9 937.8 613 944.2 612.6 950.2 612.6 955.5 613 960.4 613.8 964.8 614.9 968.7 616.2 972.2 617.8 975.1 619.6 977.6 621.5 979.7 623.5 981.3 625.6 982.4 627.7 983.2 629.8 983.5 631.8 983.4 633.6 982.9 635.3 982 636.9 980.8 638.1 979.1 639.1 977.1 639.7 974.8 640 972.1 639.8 969 639.1 965.7 638 962 636.3 958 634 953.6 631.1 949 627.5 944.1" fill="none" stroke="#910241" stroke-opacity=".72" stroke-width="1" stroke-linejoin="round"/>
<path fill="#910241" fill-opacity=".8" d="M619.4 934.9L631.2 940.9L623.8 947.4z"/>
<path d="M679.5 908.7L681.1 915.7 682.8 922.1 684.9 927.8 687.2 932.9 689.6 937.5 692.2 941.4 694.9 944.9 697.6 947.7 700.4 950.1 703.1 952 705.8 953.4 708.4 954.3 710.8 954.9 713.1 955 715.2 954.7 717 954 718.5 953 719.7 951.7 720.6 950 721 948.1 721 945.9 720.5 943.4 719.5 940.7 717.9 937.8 715.7 934.7 712.9 931.4 709.4 927.9 705.2 924.4 700.3 920.7 694.5 916.9" fill="none" stroke="#00CDD1" stroke-opacity=".72" stroke-width="1.5" stroke-linejoin="round"/>
<path fill="#00CDD1" fill-opacity=".8" d="M684 910.9L697 912.5L692 921.3z"/>
<path d="M731.1 871.3L735.1 877.1 739.2 882.4 743.2 887.1 747.2 891.2 751.1 894.8 755 897.9 758.7 900.4 762.3 902.6 765.7 904.3 769 905.5 772.1 906.4 774.9 906.9 777.6 907.1 779.9 906.9 781.9 906.5 783.7 905.7 785.1 904.7 786.1 903.5 786.7 902.1 787 900.5 786.8 898.7 786.1 896.8 785 894.8 783.4 892.7 781.2 890.5 778.5 888.3 775.3 886.1 771.4 883.9 766.9 881.7 761.8 879.5" fill="none" stroke="#A6CEE3" stroke-opacity=".72" stroke-width="6.5" stroke-linejoin="round"/>
<path fill="#A6CEE3" fill-opacity=".8" d="M750.1 875.6L763.8 873.4L759.8 885.6z"/>
<path d="M764.5 822.7L771.1 827.5 777.5 831.7 783.6 835.2 789.4 838.1 794.9 840.5 800 842.4 804.7 843.8 809.2 844.8 813.2 845.3 816.8 845.5 820 845.3 822.8 844.8 825.1 844 827 843 828.4 841.7 829.4 840.3 829.8 838.8 829.7 837.2 829.1 835.5 827.9 833.7 826.1 832 823.8 830.3 820.9 828.6 817.4 827.1 813.3 825.7 808.5 824.4 803.1 823.4 797 822.6 790.2 822.1 782.7 821.9" fill="none" stroke="#CE1261" stroke-opacity=".72" stroke-width="1.2" stroke-linejoin="round"/>
<path fill="#CE1261" fill-opacity=".8" d="M770.3 822.3L782.6 817L782.8 826.9z"/>
<ellipse cx="776" cy="768.2" rx="6.2" ry="4.8" fill="#E41A1C"/>
<ellipse cx="764.5" cy="713.7" rx="6" ry="4.7" fill="#377EB8"/>
<ellipse cx="731.1" cy="665.1" rx="5.2" ry="4.1" fill="#4DAF4A"/>
<ellipse cx="679.5" cy="627.7" rx="5" ry="3.9" fill="#984EA3"/>
<ellipse cx="615.4" cy="605.5" rx="6.4" ry="5.0" fill="#F29403"/>
<ellipse cx="545.5" cy="601" rx="5" ry="3.9" fill="#F781BF"/>
<ellipse cx="477.6" cy="614.5" rx="5" ry="3.9" fill="#BC9DCC"/>
<ellipse cx="418.9" cy="644.7" rx="5.5" ry="4.3" fill="#A65628"/>
<ellipse cx="375.9" cy="688.3" rx="6" ry="4.7" fill="#54B0E4"/>
<ellipse cx="353.1" cy="740.6" rx="5.5" ry="4.3" fill="#222F75"/>
<ellipse cx="353.1" cy="795.8" rx="5" ry="3.9" fill="#1B9E77"/>
<ellipse cx="375.9" cy="848.1" rx="5.5" ry="4.3" fill="#B2DF8A"/>
<ellipse cx="418.9" cy="891.7" rx="8" ry="6.2" fill="#E3BE00"/>
<ellipse cx="477.6" cy="921.9" rx="5.5" ry="4.3" fill="#FB9A99"/>
<ellipse cx="545.5" cy="935.4" rx="7" ry="5.5" fill="#E7298A"/>
<ellipse cx="615.4" cy="930.9" rx="6" ry="4.7" fill="#910241"/>
<ellipse cx="679.5" cy="908.7" rx="5" ry="3.9" fill="#00CDD1"/>
<ellipse cx="731.1" cy="871.3" rx="21.2" ry="16.5" fill="#A6CEE3"/>
<ellipse cx="764.5" cy="822.7" rx="6.5" ry="5.1" fill="#CE1261"/>
<text x="791.6" y="773.4" font-size="14" textLength="38.1" lengthAdjust="spacingAndGlyphs" stroke="#000" stroke-width="0.2">B.cell</text>
<text x="758" y="709.1" font-size="14" textLength="77.8" lengthAdjust="spacingAndGlyphs" stroke="#000" stroke-width="0.2">Endothelial</text>
<text x="723.4" y="652.6" font-size="14" textLength="69" lengthAdjust="spacingAndGlyphs" stroke="#000" stroke-width="0.2">Fibroblast</text>
<text x="640.6" y="608.4" font-size="14" textLength="112.7" lengthAdjust="spacingAndGlyphs" stroke="#000" stroke-width="0.2">GPR_highB.cell</text>
<text x="540.7" y="582.5" font-size="14" textLength="161.5" lengthAdjust="spacingAndGlyphs" stroke="#000" stroke-width="0.2">GPR_highMacrophage</text>
<text x="466.4" y="578.0" font-size="14" textLength="145.4" lengthAdjust="spacingAndGlyphs" stroke="#000" stroke-width="0.2">GPR_highMastocyte</text>
<text x="413" y="595.3" font-size="14" textLength="95.2" lengthAdjust="spacingAndGlyphs" stroke="#000" stroke-width="0.2">GPR_highNK</text>
<text x="340" y="631.9" font-size="14" textLength="105.5" lengthAdjust="spacingAndGlyphs" stroke="#000" stroke-width="0.2">GPR_lowB.cell</text>
<text x="265.3" y="682.4" font-size="14" textLength="156" lengthAdjust="spacingAndGlyphs" stroke="#000" stroke-width="0.2">GPR_lowMacrophage</text>
<text x="248.8" y="744.0" font-size="14" textLength="139.6" lengthAdjust="spacingAndGlyphs" stroke="#000" stroke-width="0.2">GPR_lowMastocyte</text>
<text x="276.3" y="808.8" font-size="14" textLength="90.1" lengthAdjust="spacingAndGlyphs" stroke="#000" stroke-width="0.2">GPR_lowNK</text>
<text x="292.6" y="870.4" font-size="14" textLength="113.2" lengthAdjust="spacingAndGlyphs" stroke="#000" stroke-width="0.2">GPR_lowT.CD4</text>
<text x="344.7" y="921.7" font-size="14" textLength="112.9" lengthAdjust="spacingAndGlyphs" stroke="#000" stroke-width="0.2">GPR_lowT.CD8</text>
<text x="404.4" y="953.5" font-size="14" textLength="134.7" lengthAdjust="spacingAndGlyphs" stroke="#000" stroke-width="0.2">GPR_medianB.cell</text>
<text x="459.8" y="967.6" font-size="14" textLength="184.2" lengthAdjust="spacingAndGlyphs" stroke="#000" stroke-width="0.2">GPR_medianMacrophage</text>
<text x="548.8" y="958.4" font-size="14" textLength="167.9" lengthAdjust="spacingAndGlyphs" stroke="#000" stroke-width="0.2">GPR_medianMastocyte</text>
<text x="647.4" y="930.2" font-size="14" textLength="117.5" lengthAdjust="spacingAndGlyphs" stroke="#000" stroke-width="0.2">GPR_medianNK</text>
<text x="740.1" y="887.3" font-size="14" textLength="69.1" lengthAdjust="spacingAndGlyphs" stroke="#000" stroke-width="0.2">Malignant</text>
<text x="782.1" y="827.4" font-size="14" textLength="35.8" lengthAdjust="spacingAndGlyphs" stroke="#000" stroke-width="0.2">T.cell</text>
<g fill="none" stroke="#E41A1C" stroke-opacity=".78"><path d="M1736.2 763.4Q1724 742.2 1725.6 729.4" stroke-width="2.3"/><path d="M1735.4 764Q1699.1 721.4 1695.4 680.2" stroke-width="0.62"/><path d="M1734.7 764.6Q1667 708.1 1646.9 642" stroke-width="1.5"/><path d="M1734.2 765.3Q1631.2 703.7 1586 619.8" stroke-width="1.8"/><path d="M1733.8 766.1Q1595.5 708.8 1517.9 612.6" stroke-width="0.93"/><path d="M1733.6 766.8Q1563.8 722.7 1451.8 624.4" stroke-width="0.97"/><path d="M1733.5 767.5Q1539.6 744 1394.9 652.9" stroke-width="0.23"/><path d="M1733.4 768.3Q1525.4 770.3 1353.3 694.7" stroke-width="2"/><path d="M1733.5 769Q1522.9 798.8 1330.9 744.7" stroke-width="1.6"/><path d="M1733.6 769.7Q1532.2 826.4 1330.9 797.9" stroke-width="0.35"/><path d="M1733.9 770.4Q1552.4 850.2 1354.2 848.2" stroke-width="1.7"/><path d="M1734.3 771.2Q1581.3 867.4 1399.4 889.5" stroke-width="1.9"/><path d="M1734.8 771.9Q1615.8 876.4 1455.4 918" stroke-width="2"/><path d="M1735.5 772.5Q1652 876 1523.9 929" stroke-width="2.4"/><path d="M1736.4 773.1Q1686.2 866.4 1591.9 922.8" stroke-width="1.7"/><path d="M1737.4 773.5Q1714.5 848.6 1654 899.1" stroke-width="0.33"/><path d="M1738.5 773.8Q1734 824.4 1713.2 848.8" stroke-width="1.6"/><path d="M1739.7 773.7Q1742.4 796.7 1735.6 808.6" stroke-width="1.9"/></g>
<g fill="none" stroke="#377EB8" stroke-opacity=".78"><path d="M1730.2 718.4Q1742.4 739.7 1740.9 752.3" stroke-width="2.1"/><path d="M1723.3 710.3Q1702.6 692.9 1698.5 679.6" stroke-width="1.3"/><path d="M1722.8 710.9Q1670.5 679.6 1649.6 640.8" stroke-width="2.4"/><path d="M1722.5 711.7Q1634.6 675.3 1588.5 618.1" stroke-width="0.43"/><path d="M1722.2 712.4Q1598.9 680.3 1519.7 610.8" stroke-width="0.97"/><path d="M1722.1 713.1Q1567.2 694.3 1453.2 622.5" stroke-width="1.9"/><path d="M1722.1 713.8Q1543 715.5 1396 650.9" stroke-width="1.6"/><path d="M1722.1 714.5Q1528.9 741.9 1354.1 692.6" stroke-width="1.7"/><path d="M1722.3 715.2Q1526.3 770.4 1331.3 742.7" stroke-width="2.8"/><path d="M1722.5 715.9Q1535.7 798 1331 796" stroke-width="1.4"/><path d="M1722.9 716.6Q1555.9 821.7 1354.1 846.2" stroke-width="2.3"/><path d="M1723.4 717.3Q1584.8 839 1398.9 887.2" stroke-width="2.9"/><path d="M1724.1 717.9Q1619.2 847.9 1454.8 916" stroke-width="1.9"/><path d="M1724.9 718.5Q1655.5 847.6 1522.9 926.9" stroke-width="2.8"/><path d="M1725.9 718.9Q1689.6 838 1590.5 920.7" stroke-width="1.4"/><path d="M1727 719.1Q1718 820.1 1652.2 897.3" stroke-width="1"/><path d="M1728.1 719.1Q1737.4 796 1708.8 845.7" stroke-width="1.1"/><path d="M1729.2 718.8Q1745.9 768.2 1732.7 807.3" stroke-width="2.8"/></g>
<g fill="none" stroke="#4DAF4A" stroke-opacity=".78"><path d="M1697.1 668.7Q1734 712 1737.6 752.3" stroke-width="1.9"/><path d="M1697.7 668.1Q1719 685.9 1722.9 698.6" stroke-width="1.8"/><path d="M1689.8 663.3Q1662 651.8 1651.9 639.3" stroke-width="1.8"/><path d="M1689.6 664Q1626.2 647.5 1590.5 616.2" stroke-width="2.8"/><path d="M1689.5 664.6Q1590.5 652.6 1521.1 608.9" stroke-width="0.3"/><path d="M1689.4 665.2Q1558.8 666.5 1454.2 620.5" stroke-width="1.4"/><path d="M1689.5 665.8Q1534.6 687.7 1396.7 648.9" stroke-width="2.3"/><path d="M1689.6 666.4Q1520.4 714.1 1354.5 690.6" stroke-width="1.3"/><path d="M1689.8 667Q1517.9 742.6 1331.5 740.7" stroke-width="1.8"/><path d="M1690.1 667.6Q1527.2 770.2 1330.9 794" stroke-width="1.5"/><path d="M1690.6 668.2Q1547.4 793.9 1353.7 844.2" stroke-width="1.1"/><path d="M1691.2 668.8Q1576.3 811.2 1398.2 884.9" stroke-width="2.5"/><path d="M1691.9 669.3Q1610.8 820.1 1453.8 914" stroke-width="1.2"/><path d="M1692.7 669.6Q1647 819.8 1521.3 924.7" stroke-width="2.7"/><path d="M1693.7 669.8Q1681.2 810.2 1588.6 918.8" stroke-width="2.1"/><path d="M1694.7 669.8Q1709.5 792.3 1650 895.8" stroke-width="1.7"/><path d="M1695.6 669.6Q1729 768.2 1703.6 843.3" stroke-width="2"/><path d="M1696.4 669.2Q1737.4 740.4 1729.4 806.6" stroke-width="1.5"/></g>
<g fill="none" stroke="#984EA3" stroke-opacity=".78"><path d="M1646 630.6Q1714.5 687.8 1734.3 752.9" stroke-width="1.4"/><path d="M1646.4 630Q1699.5 661.8 1720 699.8" stroke-width="1.4"/><path d="M1646.7 629.4Q1674.7 641 1684.6 653.4" stroke-width="0.75"/><path d="M1638.1 627.2Q1606.7 623.4 1592 614.1" stroke-width="1.2"/><path d="M1638 627.8Q1571 628.4 1522.2 607" stroke-width="1.5"/><path d="M1638.1 628.4Q1539.3 642.3 1454.9 618.6" stroke-width="0.49"/><path d="M1638.2 628.9Q1515.1 663.6 1397.1 646.9" stroke-width="1.3"/><path d="M1638.4 629.5Q1501 689.9 1354.7 688.5" stroke-width="0.99"/><path d="M1638.7 630.1Q1498.4 718.4 1331.3 738.7" stroke-width="1.3"/><path d="M1639.2 630.7Q1507.8 746.1 1330.5 792.1" stroke-width="0.41"/><path d="M1639.7 631.2Q1528 769.8 1353 842.2" stroke-width="0.99"/><path d="M1640.4 631.7Q1556.9 787.1 1397 882.6" stroke-width="0.87"/><path d="M1641.2 632Q1591.3 796 1452.4 912" stroke-width="0.79"/><path d="M1642.1 632.2Q1627.6 795.7 1519.3 922.7" stroke-width="1.1"/><path d="M1643.1 632.2Q1661.7 786 1586.2 917.2" stroke-width="0.37"/><path d="M1644 632Q1690.1 768.2 1647.3 894.6" stroke-width="1.4"/><path d="M1644.8 631.6Q1709.5 744.1 1697.7 842" stroke-width="1.6"/><path d="M1645.5 631.1Q1718 716.3 1726 806.5" stroke-width="1.5"/></g>
<g fill="none" stroke="#F29403" stroke-opacity=".78"><path d="M1583.3 608.5Q1686.2 670 1731.4 754.1" stroke-width="1.7"/><path d="M1583.7 607.7Q1671.2 644 1717.5 701.4" stroke-width="1.5"/><path d="M1583.9 607Q1646.3 623.2 1682.8 655.2" stroke-width="3.2"/><path d="M1584.1 606.2Q1614.2 609.9 1629.9 619.8" stroke-width="2.7"/><path d="M1572.7 606.3Q1542.7 610.6 1522.9 605" stroke-width="2.4"/><path d="M1572.8 607.1Q1511 624.5 1455.3 616.6" stroke-width="1.8"/><path d="M1573.1 607.9Q1486.8 645.8 1397.3 644.9" stroke-width="1.9"/><path d="M1573.5 608.6Q1472.6 672.1 1354.5 686.4" stroke-width="2.2"/><path d="M1574 609.3Q1470.1 700.6 1331 736.7" stroke-width="2.4"/><path d="M1574.7 610Q1479.4 728.2 1329.9 790.1" stroke-width="2.1"/><path d="M1575.6 610.6Q1499.6 752 1352 840.2" stroke-width="1.6"/><path d="M1576.7 611Q1528.5 769.2 1395.4 880.4" stroke-width="1.5"/><path d="M1577.9 611.3Q1563 778.2 1450.5 910.2" stroke-width="1.6"/><path d="M1579.1 611.3Q1599.2 777.8 1516.8 921" stroke-width="5"/><path d="M1580.2 611Q1633.4 768.2 1583.4 915.9" stroke-width="2.5"/><path d="M1581.2 610.5Q1661.7 750.4 1644.3 893.9" stroke-width="2.3"/><path d="M1582.1 609.9Q1681.2 726.2 1691.5 841.9" stroke-width="3.5"/><path d="M1582.8 609.2Q1689.6 698.4 1722.7 807.1" stroke-width="3.8"/></g>
<g fill="none" stroke="#F781BF" stroke-opacity=".78"><path d="M1512.7 602.7Q1652 660.4 1729 755.8" stroke-width="1.5"/><path d="M1512.9 602.1Q1637.1 634.3 1715.6 703.3" stroke-width="0.66"/><path d="M1513 601.5Q1612.2 613.6 1681.3 657.1" stroke-width="0.86"/><path d="M1513 600.9Q1580.1 600.3 1628.9 621.7" stroke-width="0.65"/><path d="M1513 600.3Q1544.2 595.9 1562.8 601.2" stroke-width="0.78"/><path d="M1504.4 602.8Q1476.8 614.9 1455.5 614.7" stroke-width="0.91"/><path d="M1504.7 603.4Q1452.6 636.2 1397.1 642.9" stroke-width="0.26"/><path d="M1505.1 603.9Q1438.5 662.5 1354.2 684.4" stroke-width="1.7"/><path d="M1505.7 604.5Q1435.9 691 1330.3 734.7" stroke-width="0.81"/><path d="M1506.4 604.9Q1445.3 718.6 1328.9 788.2" stroke-width="1.4"/><path d="M1507.2 605.3Q1465.5 742.3 1350.6 838.2" stroke-width="0.53"/><path d="M1508.1 605.5Q1494.4 759.6 1393.3 878.3" stroke-width="0.78"/><path d="M1509.1 605.4Q1528.8 768.6 1448.2 908.6" stroke-width="0.98"/><path d="M1510 605.2Q1565.1 768.2 1513.9 919.6" stroke-width="1.5"/><path d="M1510.8 604.9Q1599.2 758.6 1580.3 915.2" stroke-width="1.6"/><path d="M1511.4 604.4Q1627.6 740.7 1641.2 893.8" stroke-width="1.1"/><path d="M1512 603.9Q1647 716.6 1685.5 843.1" stroke-width="0.23"/><path d="M1512.4 603.3Q1655.5 688.8 1719.8 808.4" stroke-width="1.8"/></g>
<g fill="none" stroke="#BC9DCC" stroke-opacity=".78"><path d="M1444.9 615.7Q1615.8 660 1727 757.7" stroke-width="0.83"/><path d="M1445 615.1Q1600.8 634 1714.1 705.3" stroke-width="1.2"/><path d="M1445.1 614.5Q1575.9 613.2 1680.3 659.1" stroke-width="1.4"/><path d="M1445 613.9Q1543.8 599.9 1628.2 623.7" stroke-width="0.78"/><path d="M1444.9 613.3Q1507.9 595.6 1562.4 603.3" stroke-width="1.5"/><path d="M1444.7 612.7Q1472.3 600.6 1493.6 600.8" stroke-width="0.73"/><path d="M1437.2 617.5Q1416.4 635.8 1396.8 640.9" stroke-width="1.5"/><path d="M1437.8 618Q1402.2 662.1 1353.5 682.3" stroke-width="0.68"/><path d="M1438.4 618.5Q1399.7 690.6 1329.3 732.7" stroke-width="1.4"/><path d="M1439.3 618.8Q1409 718.3 1327.5 786.3" stroke-width="0.49"/><path d="M1440.2 619Q1429.2 742 1348.8 836.4" stroke-width="1.1"/><path d="M1441.1 619Q1458.1 759.3 1390.7 876.4" stroke-width="1.1"/><path d="M1442 618.8Q1492.6 768.2 1445.5 907.3" stroke-width="0.24"/><path d="M1442.8 618.4Q1528.8 767.8 1510.5 918.8" stroke-width="1"/><path d="M1443.5 618Q1563 758.2 1577 915.1" stroke-width="1.4"/><path d="M1444 617.4Q1591.3 740.4 1638.2 894.4" stroke-width="0.82"/><path d="M1444.4 616.8Q1610.8 716.3 1680.1 845.3" stroke-width="0.88"/><path d="M1444.7 616.3Q1619.2 688.5 1717.3 810" stroke-width="1.1"/></g>
<g fill="none" stroke="#A65628" stroke-opacity=".78"><path d="M1386.8 645.3Q1581.3 669 1725.5 759.7" stroke-width="2.5"/><path d="M1386.9 644.7Q1566.4 642.9 1713 707.4" stroke-width="3.4"/><path d="M1386.8 644.1Q1541.5 622.1 1679.6 661" stroke-width="2.4"/><path d="M1386.7 643.4Q1509.3 608.9 1627.8 625.6" stroke-width="2.1"/><path d="M1386.4 642.8Q1473.5 604.5 1562.2 605.4" stroke-width="3.7"/><path d="M1386.1 642.1Q1437.8 609.6 1493.7 602.8" stroke-width="0.53"/><path d="M1385.6 641.5Q1406.1 623.5 1426.2 618.3" stroke-width="2.6"/><path d="M1379.6 649.1Q1367.8 671.1 1352.4 680.2" stroke-width="0.61"/><path d="M1380.5 649.5Q1365.2 699.6 1327.9 730.7" stroke-width="1.2"/><path d="M1381.5 649.7Q1374.6 727.2 1325.8 784.5" stroke-width="2.8"/><path d="M1382.5 649.7Q1394.8 750.9 1346.5 834.8" stroke-width="2.3"/><path d="M1383.5 649.4Q1423.7 768.2 1387.5 875" stroke-width="1.8"/><path d="M1384.4 649Q1458.1 777.1 1442.4 906.6" stroke-width="0.63"/><path d="M1385.1 648.5Q1494.4 776.8 1507 918.8" stroke-width="2.9"/><path d="M1385.7 647.9Q1528.5 767.2 1573.8 915.8" stroke-width="2.4"/><path d="M1386.2 647.3Q1556.9 749.3 1635.5 895.6" stroke-width="1.1"/><path d="M1386.5 646.6Q1576.3 725.2 1675.6 848.3" stroke-width="1.5"/><path d="M1386.7 646Q1584.8 697.4 1715.3 812" stroke-width="2"/></g>
<g fill="none" stroke="#54B0E4" stroke-opacity=".78"><path d="M1344.3 688.3Q1552.4 686.2 1724.4 761.8" stroke-width="2.5"/><path d="M1344.2 687.6Q1537.5 660.2 1712.3 709.4" stroke-width="2.5"/><path d="M1344.1 686.9Q1512.6 639.4 1679.2 663" stroke-width="1.9"/><path d="M1343.8 686.2Q1480.5 626.1 1627.6 627.6" stroke-width="1.6"/><path d="M1343.4 685.5Q1444.6 621.8 1562.3 607.5" stroke-width="2.6"/><path d="M1342.9 684.8Q1408.9 626.8 1494.1 604.7" stroke-width="2.6"/><path d="M1342.2 684.1Q1377.2 640.7 1426.8 620.2" stroke-width="0.89"/><path d="M1341.4 683.6Q1353 662 1368.7 652.6" stroke-width="2.9"/><path d="M1338.4 693.7Q1336.3 716.8 1326.1 728.9" stroke-width="3.4"/><path d="M1339.5 693.7Q1345.7 744.5 1323.5 782.9" stroke-width="2.4"/><path d="M1340.6 693.5Q1365.9 768.2 1343.8 833.5" stroke-width="2.4"/><path d="M1341.6 693Q1394.8 785.5 1384 874.2" stroke-width="3.5"/><path d="M1342.4 692.4Q1429.2 794.4 1439.2 906.6" stroke-width="1.2"/><path d="M1343 691.8Q1465.5 794.1 1503.7 919.5" stroke-width="0.49"/><path d="M1343.5 691.1Q1499.6 784.4 1570.9 916.9" stroke-width="3.1"/><path d="M1343.8 690.4Q1528 766.6 1633.2 897.1" stroke-width="3"/><path d="M1344.1 689.7Q1547.4 742.5 1672 851.8" stroke-width="2.5"/><path d="M1344.2 689Q1555.9 714.7 1713.7 814" stroke-width="2.8"/></g>
<g fill="none" stroke="#222F75" stroke-opacity=".78"><path d="M1321 739.9Q1532.2 710 1723.6 763.9" stroke-width="2.3"/><path d="M1320.9 739.2Q1517.2 683.9 1711.8 711.5" stroke-width="1.7"/><path d="M1320.6 738.6Q1492.3 663.1 1679 665" stroke-width="0.82"/><path d="M1320.3 737.9Q1460.2 649.9 1627.8 629.5" stroke-width="2.7"/><path d="M1319.8 737.3Q1424.4 645.5 1562.7 609.6" stroke-width="0.57"/><path d="M1319.2 736.7Q1388.7 650.6 1494.8 606.7" stroke-width="2.4"/><path d="M1318.4 736.2Q1357 664.5 1427.8 622.2" stroke-width="0.9"/><path d="M1317.5 735.8Q1332.8 685.7 1370.1 654.6" stroke-width="2.9"/><path d="M1316.5 735.7Q1318.6 712.1 1328.6 700.4" stroke-width="2.6"/><path d="M1317.7 745.3Q1325.4 768.2 1320.9 781.7" stroke-width="2.6"/><path d="M1318.6 744.9Q1345.7 791.9 1340.7 832.8" stroke-width="1.3"/><path d="M1319.3 744.3Q1374.6 809.2 1380.3 874.1" stroke-width="2.1"/><path d="M1319.9 743.8Q1409 818.1 1436.1 907.2" stroke-width="2"/><path d="M1320.4 743.1Q1445.3 817.8 1500.6 920.7" stroke-width="2.6"/><path d="M1320.7 742.5Q1479.4 808.2 1568.4 918.6" stroke-width="1.4"/><path d="M1320.9 741.8Q1507.8 790.3 1631.3 898.8" stroke-width="2.4"/><path d="M1321 741.2Q1527.2 766.2 1669.2 855.6" stroke-width="3.2"/><path d="M1321.1 740.5Q1535.7 738.4 1712.6 816.1" stroke-width="3.4"/></g>
<g fill="none" stroke="#1B9E77" stroke-opacity=".78"><path d="M1320.4 794.6Q1522.9 737.6 1723.2 766" stroke-width="0.94"/><path d="M1320.2 794Q1507.9 711.5 1711.7 713.6" stroke-width="1.9"/><path d="M1319.9 793.4Q1483 690.8 1679.1 667" stroke-width="1.8"/><path d="M1319.5 792.8Q1450.9 677.5 1628.1 631.5" stroke-width="1.5"/><path d="M1318.9 792.3Q1415.1 673.1 1563.4 611.7" stroke-width="1.9"/><path d="M1318.2 791.9Q1379.4 678.2 1495.7 608.6" stroke-width="1.6"/><path d="M1317.4 791.5Q1347.7 692.1 1429.1 624.1" stroke-width="1.9"/><path d="M1316.5 791.3Q1323.5 713.4 1372 656.4" stroke-width="1.2"/><path d="M1315.6 791.4Q1309.3 739.7 1331 702" stroke-width="2.3"/><path d="M1314.7 791.6Q1306.8 768.2 1311.2 755.1" stroke-width="2.5"/><path d="M1319 799.2Q1336.3 819.6 1337.5 832.8" stroke-width="0.92"/><path d="M1319.6 798.7Q1365.2 836.8 1376.8 874.8" stroke-width="1.5"/><path d="M1320 798.1Q1399.7 845.8 1433.3 908.3" stroke-width="1.5"/><path d="M1320.3 797.5Q1435.9 845.4 1498 922.4" stroke-width="0.78"/><path d="M1320.5 796.9Q1470.1 835.8 1566.5 920.4" stroke-width="1.3"/><path d="M1320.6 796.4Q1498.4 818 1629.9 900.7" stroke-width="2"/><path d="M1320.6 795.8Q1517.9 793.8 1667.1 859.4" stroke-width="1.2"/><path d="M1320.6 795.2Q1526.3 766 1711.8 818.3" stroke-width="0.43"/></g>
<g fill="none" stroke="#B2DF8A" stroke-opacity=".78"><path d="M1343.4 846.1Q1525.4 766.1 1723 768" stroke-width="1.4"/><path d="M1343 845.4Q1510.4 740.1 1711.8 715.6" stroke-width="1.9"/><path d="M1342.6 844.8Q1485.5 719.3 1679.5 668.9" stroke-width="0.89"/><path d="M1342 844.2Q1453.4 706 1628.8 633.4" stroke-width="1.4"/><path d="M1341.2 843.7Q1417.6 701.6 1564.5 613.8" stroke-width="0.46"/><path d="M1340.3 843.3Q1381.9 706.7 1497.1 610.5" stroke-width="1.8"/><path d="M1339.3 843.1Q1350.2 720.6 1430.9 625.9" stroke-width="1.5"/><path d="M1338.3 843.1Q1326 741.9 1374.2 658" stroke-width="1.7"/><path d="M1337.3 843.4Q1311.8 768.2 1333.8 703.3" stroke-width="0.88"/><path d="M1336.4 843.8Q1309.3 796.7 1314.3 755.8" stroke-width="1.5"/><path d="M1335.7 844.3Q1318.6 824.3 1317.4 810.7" stroke-width="1.1"/><path d="M1343.1 850.6Q1367.8 865.3 1373.6 876.2" stroke-width="1.3"/><path d="M1343.4 850Q1402.2 874.3 1430.9 909.9" stroke-width="0.83"/><path d="M1343.7 849.3Q1438.5 873.9 1496 924.4" stroke-width="0.75"/><path d="M1343.8 848.7Q1472.6 864.3 1565 922.4" stroke-width="2"/><path d="M1343.8 848Q1501 846.5 1628.9 902.7" stroke-width="1.5"/><path d="M1343.8 847.4Q1520.4 822.3 1665.7 863.3" stroke-width="1.8"/><path d="M1343.6 846.7Q1528.9 794.5 1711.4 820.4" stroke-width="1.8"/></g>
<g fill="none" stroke="#E3BE00" stroke-opacity=".78"><path d="M1388 887.8Q1539.6 792.4 1723.1 770.1" stroke-width="2.1"/><path d="M1387.3 886.9Q1524.6 766.4 1712.2 717.7" stroke-width="2.5"/><path d="M1386.4 886Q1499.7 745.6 1680.2 670.9" stroke-width="1.3"/><path d="M1385.3 885.3Q1467.6 732.3 1629.8 635.4" stroke-width="1.5"/><path d="M1384 884.8Q1431.7 728 1566 615.9" stroke-width="2.2"/><path d="M1382.5 884.5Q1396.1 733 1498.9 612.3" stroke-width="1.6"/><path d="M1381 884.5Q1364.4 746.9 1433.1 627.4" stroke-width="1.3"/><path d="M1379.6 884.8Q1340.1 768.2 1377 659.3" stroke-width="1.8"/><path d="M1378.3 885.4Q1326 794.5 1337 704" stroke-width="1.5"/><path d="M1377.2 886.2Q1323.5 823 1317.5 755.9" stroke-width="0.9"/><path d="M1376.4 887Q1332.8 850.7 1320.4 810.1" stroke-width="0.35"/><path d="M1375.7 888Q1353 874.4 1346.1 861.6" stroke-width="1.4"/><path d="M1388.9 893.5Q1416.4 900.6 1429 911.7" stroke-width="2.1"/><path d="M1389.1 892.5Q1452.6 900.2 1494.4 926.5" stroke-width="2.4"/><path d="M1389.1 891.6Q1486.8 890.6 1563.9 924.5" stroke-width="1.4"/><path d="M1389 890.6Q1515.1 872.8 1628.2 904.6" stroke-width="1.6"/><path d="M1388.8 889.7Q1534.6 848.7 1664.9 867.1" stroke-width="2.6"/><path d="M1388.5 888.8Q1543 820.9 1711.2 822.5" stroke-width="2.6"/></g>
<g fill="none" stroke="#FB9A99" stroke-opacity=".78"><path d="M1444.3 918.6Q1563.8 813.7 1723.5 772.2" stroke-width="0.73"/><path d="M1443.7 918Q1548.8 787.7 1712.9 719.8" stroke-width="1.8"/><path d="M1442.9 917.5Q1523.9 766.9 1681.2 672.9" stroke-width="1.9"/><path d="M1442 917.1Q1491.8 753.6 1631.1 637.3" stroke-width="1.5"/><path d="M1441 916.9Q1456 749.2 1567.9 617.8" stroke-width="2.4"/><path d="M1440 917Q1420.3 754.3 1501.1 613.9" stroke-width="1.5"/><path d="M1439 917.2Q1388.6 768.2 1435.8 628.6" stroke-width="1.5"/><path d="M1438.1 917.6Q1364.4 789.5 1380.1 660" stroke-width="1.4"/><path d="M1437.4 918.1Q1350.2 815.8 1340.3 704.1" stroke-width="0.6"/><path d="M1436.8 918.7Q1347.7 844.3 1320.6 755.3" stroke-width="1.3"/><path d="M1436.3 919.3Q1357 871.9 1323.2 808.9" stroke-width="1.6"/><path d="M1436 920Q1377.2 895.7 1348.5 860" stroke-width="0.7"/><path d="M1435.8 920.6Q1406.1 912.9 1395.1 903.3" stroke-width="0.91"/><path d="M1445.5 921.8Q1476.8 921.5 1493.2 928.7" stroke-width="2.4"/><path d="M1445.5 921.2Q1511 911.9 1563.2 926.6" stroke-width="0.89"/><path d="M1445.3 920.5Q1539.3 894.1 1627.8 906.6" stroke-width="1"/><path d="M1445.1 919.9Q1558.8 869.9 1664.6 871" stroke-width="1.9"/><path d="M1444.8 919.2Q1567.2 842.1 1711.3 824.6" stroke-width="2"/></g>
<g fill="none" stroke="#E7298A" stroke-opacity=".78"><path d="M1512.5 930.5Q1595.5 827.6 1724.2 774.3" stroke-width="3.6"/><path d="M1511.5 929.9Q1580.5 801.6 1713.9 721.8" stroke-width="4.5"/><path d="M1510.4 929.4Q1555.6 780.8 1682.5 674.8" stroke-width="2.3"/><path d="M1509.1 929.2Q1523.5 767.5 1632.9 639.1" stroke-width="3.4"/><path d="M1507.8 929.2Q1487.6 763.1 1570.3 619.5" stroke-width="7"/><path d="M1506.5 929.5Q1452 768.2 1503.7 615.1" stroke-width="3.6"/><path d="M1505.4 930Q1420.3 782.1 1438.8 629.3" stroke-width="0.92"/><path d="M1504.4 930.6Q1396.1 803.4 1383.3 660" stroke-width="2.9"/><path d="M1503.7 931.4Q1381.9 829.7 1343.5 703.5" stroke-width="4.6"/><path d="M1503.1 932.2Q1379.4 858.2 1323.4 754.1" stroke-width="3"/><path d="M1502.7 933Q1388.7 885.8 1325.5 807.4" stroke-width="3.7"/><path d="M1502.4 933.8Q1408.9 909.6 1350.4 858.2" stroke-width="0.56"/><path d="M1502.3 934.7Q1437.8 926.8 1396.8 901" stroke-width="4.5"/><path d="M1502.2 935.5Q1472.3 935.8 1454.6 928" stroke-width="1.6"/><path d="M1514.6 933.7Q1542.7 925.8 1562.7 928.6" stroke-width="3.5"/><path d="M1514.3 932.9Q1571 908 1627.6 908.5" stroke-width="3.5"/><path d="M1513.9 932.1Q1590.5 883.8 1664.8 874.8" stroke-width="3.3"/><path d="M1513.3 931.3Q1598.9 856.1 1711.7 826.8" stroke-width="3.9"/></g>
<g fill="none" stroke="#910241" stroke-opacity=".78"><path d="M1580.9 926.1Q1631.2 832.7 1725.3 776.4" stroke-width="2.3"/><path d="M1579.9 925.7Q1616.2 806.6 1715.3 723.8" stroke-width="1.5"/><path d="M1578.8 925.5Q1591.3 785.8 1684.3 676.6" stroke-width="0.99"/><path d="M1577.7 925.5Q1559.2 772.6 1635.1 640.6" stroke-width="2.6"/><path d="M1576.6 925.8Q1523.3 768.2 1573.2 620.8" stroke-width="1.6"/><path d="M1575.7 926.2Q1487.6 773.3 1506.7 615.8" stroke-width="1.3"/><path d="M1574.9 926.8Q1456 787.2 1441.9 629.4" stroke-width="2"/><path d="M1574.2 927.4Q1431.7 808.4 1386.4 659.4" stroke-width="0.42"/><path d="M1573.7 928.1Q1417.6 834.8 1346.3 702.3" stroke-width="1.5"/><path d="M1573.4 928.8Q1415.1 863.3 1325.7 752.5" stroke-width="0.91"/><path d="M1573.1 929.5Q1424.4 890.9 1327.3 805.6" stroke-width="1.9"/><path d="M1573 930.2Q1444.6 914.6 1351.9 856.2" stroke-width="0.66"/><path d="M1573 930.9Q1473.5 931.9 1398 898.7" stroke-width="1.9"/><path d="M1573 931.6Q1507.9 940.8 1455.4 926" stroke-width="0.95"/><path d="M1573.2 932.3Q1544.2 940.5 1525.1 937.8" stroke-width="2.1"/><path d="M1582.9 928Q1606.7 913 1627.8 910.5" stroke-width="0.61"/><path d="M1582.4 927.3Q1626.2 888.9 1665.6 878.7" stroke-width="3"/><path d="M1581.8 926.7Q1634.6 861.1 1712.4 828.9" stroke-width="3"/></g>
<g fill="none" stroke="#00CDD1" stroke-opacity=".78"><path d="M1643.9 904.4Q1667 828.3 1726.7 778.4" stroke-width="0.8"/><path d="M1642.9 904.2Q1652 802.3 1717.2 725.7" stroke-width="0.95"/><path d="M1642 904.2Q1627.1 781.5 1686.6 678.2" stroke-width="0.28"/><path d="M1641.1 904.4Q1595 768.2 1637.8 641.8" stroke-width="1.8"/><path d="M1640.3 904.8Q1559.2 763.8 1576.4 621.6" stroke-width="1.8"/><path d="M1639.6 905.3Q1523.5 768.9 1509.8 615.8" stroke-width="0.53"/><path d="M1639.1 905.8Q1491.8 782.8 1444.9 628.8" stroke-width="0.74"/><path d="M1638.7 906.4Q1467.6 804.1 1389.2 658.3" stroke-width="0.75"/><path d="M1638.4 907Q1453.4 830.4 1348.8 700.6" stroke-width="1.8"/><path d="M1638.2 907.5Q1450.9 858.9 1327.6 750.7" stroke-width="0.81"/><path d="M1638.1 908.1Q1460.2 886.5 1328.7 803.8" stroke-width="1.1"/><path d="M1638 908.7Q1480.5 910.3 1352.9 854.2" stroke-width="0.72"/><path d="M1638.1 909.3Q1509.3 927.5 1398.8 896.4" stroke-width="2.4"/><path d="M1638.2 909.9Q1543.8 936.5 1455.8 924" stroke-width="1.6"/><path d="M1638.4 910.5Q1580.1 936.1 1525.2 935.6" stroke-width="2.5"/><path d="M1638.7 911.1Q1614.2 926.5 1594 929" stroke-width="0.48"/><path d="M1645.4 905.2Q1662 884.6 1666.9 882.5" stroke-width="2.1"/><path d="M1644.7 904.7Q1670.5 856.8 1713.5 831" stroke-width="2.1"/></g>
<g fill="none" stroke="#A6CEE3" stroke-opacity=".78"><path d="M1695.8 852.3Q1699.1 815 1728.6 780.4" stroke-width="3.3"/><path d="M1691.8 852.3Q1684.1 789 1719.6 727.4" stroke-width="2.2"/><path d="M1688 853.2Q1659.2 768.2 1689.3 679.4" stroke-width="1.8"/><path d="M1684.6 854.7Q1627.1 754.9 1640.8 642.5" stroke-width="0.95"/><path d="M1681.7 856.7Q1591.3 750.6 1579.8 621.6" stroke-width="4"/><path d="M1679.5 859Q1555.6 755.6 1512.9 615.2" stroke-width="2.4"/><path d="M1677.7 861.5Q1523.9 769.5 1447.6 627.7" stroke-width="3.2"/><path d="M1676.5 864Q1499.7 790.8 1391.5 656.7" stroke-width="1.5"/><path d="M1675.6 866.5Q1485.5 817.1 1350.7 698.8" stroke-width="2"/><path d="M1675.2 869Q1483 845.6 1329.1 748.8" stroke-width="4"/><path d="M1675 871.5Q1492.3 873.3 1329.7 801.8" stroke-width="0.72"/><path d="M1675.2 873.9Q1512.6 897 1353.6 852.2" stroke-width="1.7"/><path d="M1675.7 876.4Q1541.5 914.3 1399.3 894.1" stroke-width="1.6"/><path d="M1676.6 878.9Q1575.9 923.2 1455.9 922" stroke-width="0.95"/><path d="M1678 881.4Q1612.2 922.8 1525.1 933.4" stroke-width="4.1"/><path d="M1679.8 883.9Q1646.3 913.2 1593.7 926.9" stroke-width="1"/><path d="M1682.1 886.1Q1674.7 895.4 1656.3 903" stroke-width="2.8"/><path d="M1699.7 853Q1702.6 843.5 1715 833.1" stroke-width="2.2"/></g>
<g fill="none" stroke="#CE1261" stroke-opacity=".78"><path d="M1726.8 816.9Q1724 794.2 1731 782" stroke-width="2.2"/><path d="M1725.6 817.1Q1709 768.2 1722.4 728.7" stroke-width="4"/><path d="M1724.5 817.6Q1684.1 747.4 1692.3 680.1" stroke-width="4"/><path d="M1723.7 818.2Q1652 734.1 1643.9 642.6" stroke-width="3.8"/><path d="M1723 818.9Q1616.2 729.8 1583.1 621" stroke-width="2.2"/><path d="M1722.4 819.7Q1580.5 734.8 1515.6 614.1" stroke-width="1.4"/><path d="M1722.1 820.4Q1548.8 748.7 1449.9 626.1" stroke-width="2.7"/><path d="M1721.8 821.2Q1524.6 770 1393.4 654.9" stroke-width="2"/><path d="M1721.7 822Q1510.4 796.3 1352.2 696.8" stroke-width="3"/><path d="M1721.6 822.7Q1507.9 824.9 1330.2 746.8" stroke-width="3.4"/><path d="M1721.7 823.5Q1517.2 852.5 1330.4 799.9" stroke-width="3.1"/><path d="M1721.8 824.3Q1537.5 876.2 1354.1 850.2" stroke-width="3.4"/><path d="M1722.1 825Q1566.4 893.5 1399.5 891.8" stroke-width="4.1"/><path d="M1722.5 825.8Q1600.8 902.4 1455.8 920" stroke-width="0.81"/><path d="M1723.1 826.5Q1637.1 902.1 1524.7 931.2" stroke-width="5"/><path d="M1723.8 827.2Q1671.2 892.4 1593 924.8" stroke-width="4.5"/><path d="M1724.7 827.8Q1699.5 874.6 1655.3 901" stroke-width="2.2"/><path d="M1725.8 828.3Q1719 850.5 1716.7 852.4" stroke-width="4.2"/></g>
<path fill="#E41A1C" fill-opacity=".8" d="M1726.8 719.1L1731.1 732.7L1719.4 731.3zM1694.5 669.8L1701 682.3L1690.3 683.2zM1643.9 632L1653 642.8L1642.2 646.1zM1581.1 610.6L1592.3 619.3L1582.2 624.8zM1511.3 604.5L1523.8 611.2L1515.2 618zM1444 617.5L1457.4 622L1450.1 630.2zM1386.1 647.4L1399.9 649.8L1394.3 658.8zM1343.8 690.5L1358 690.4L1353.4 701zM1320.9 741.9L1334.9 740L1331.8 750.9zM1320.6 796.5L1334.2 793L1332.7 803.5zM1343.8 848.1L1356.9 842.5L1356.8 854zM1389.1 890.8L1401.3 883.5L1402.7 894.9zM1445.4 920.6L1456.5 911.7L1459.4 923zM1514.3 933L1524.1 922.6L1528.6 933.5zM1583 928.1L1591.2 916.5L1597.1 926.3zM1646 905.8L1652.6 893.4L1659.4 901.5zM1706.5 856.7L1710.6 843.2L1719.2 850.5zM1730.4 817.6L1731.9 803.5L1741.9 809.2z"/>
<path fill="#377EB8" fill-opacity=".8" d="M1739.7 762.7L1735.5 749.1L1747 750.5zM1695.5 669.6L1704.6 680.4L1693.9 683.7zM1644.7 631.7L1656 640.3L1645.6 645.9zM1582 610L1594.3 616.8L1586 623.5zM1511.9 603.9L1525.3 608.4L1518 616.6zM1444.4 616.9L1458.5 619L1452.3 628.7zM1386.4 646.7L1400.6 646.8L1396.1 657.2zM1344.1 689.8L1358.1 687.8L1355 698.8zM1321 741.3L1334.7 737.1L1333 749.1zM1320.6 795.9L1333.7 790.4L1333.5 801.6zM1343.8 847.5L1356 840.1L1357.4 851.8zM1388.9 889.8L1399.9 880.7L1403 892.4zM1445.2 920L1455 909.7L1459.4 920.3zM1513.9 932.2L1522 920.4L1528.2 930.7zM1582.5 927.4L1588.9 914.7L1596.1 923.4zM1645.5 905.3L1649.7 891.8L1658.1 898.9zM1703.6 854.7L1705.3 840.7L1714.9 846.2zM1729.3 817.1L1727.8 802.9L1739.2 806.8z"/>
<path fill="#4DAF4A" fill-opacity=".8" d="M1738.5 762.6L1731.6 750.2L1743.1 749.2zM1725.9 708.5L1716.6 697.8L1727.6 694.4zM1645.4 631.2L1658 637.7L1649.1 645zM1582.7 609.3L1596.4 613.4L1588.5 622.5zM1512.3 603.4L1526.1 605.8L1520.5 614.8zM1444.7 616.3L1458.9 616.4L1454.3 626.7zM1386.7 646.1L1400.8 643.9L1397.6 655.3zM1344.2 689.1L1357.9 685.4L1356.3 696.4zM1321.1 740.6L1334.1 735L1334 746.5zM1320.6 795.3L1332.8 788.1L1334.2 799.3zM1343.7 846.8L1354.8 838.2L1357.6 848.9zM1388.6 888.9L1398.3 878.4L1402.8 889.4zM1444.8 919.3L1453.1 907.9L1458.8 917.4zM1513.4 931.4L1519.5 918.4L1527.2 927.7zM1581.9 926.8L1585.9 913.1L1594.7 920.6zM1644.8 904.8L1646.3 890.7L1656.2 896.4zM1700.2 853.2L1698.9 839L1709.9 842.7zM1728.2 816.9L1724.1 803.3L1735.3 804.7z"/>
<path fill="#984EA3" fill-opacity=".8" d="M1737.4 762.9L1728.2 752.1L1739 748.8zM1724.9 709L1713.8 700.2L1723.7 694.8zM1691.2 661.5L1678.8 654.8L1687.2 648zM1583.2 608.6L1597.2 610.8L1591.3 620.2zM1512.6 602.8L1526.8 602.8L1522.3 613.2zM1444.9 615.8L1458.9 614.1L1456 624.4zM1386.8 645.4L1400.5 641.7L1398.9 652.8zM1344.3 688.4L1357.3 683L1357.2 694zM1321 740L1333.2 732.9L1334.6 744zM1320.5 794.7L1331.7 786.3L1334.4 796.6zM1343.4 846.2L1353.3 836.1L1357.5 846.3zM1388.1 888L1396.4 876.6L1402 886zM1444.4 918.7L1450.9 906.2L1457.8 914.5zM1512.6 930.6L1516.8 917.2L1525.2 924.3zM1581.1 926.2L1582.9 912.3L1592.1 917.6zM1644 904.4L1642.8 890.3L1653.5 893.9zM1696.4 852.3L1692.3 838.7L1703.6 840.1zM1726.9 816.9L1720.2 804.4L1731.4 803.4z"/>
<path fill="#F29403" fill-opacity=".8" d="M1736.4 763.3L1725.2 754.5L1735.2 749.1zM1724.1 709.5L1711.5 702.9L1720.3 695.8zM1690.6 662L1676.8 658.1L1684.9 648.8zM1638.7 625.3L1624.5 623.5L1630.9 613.3zM1512.9 602.2L1527 600L1523.8 611.4zM1445 615.2L1458.7 611.3L1457.1 622.7zM1386.9 644.8L1399.9 639.2L1399.8 650.7zM1344.2 687.7L1356.4 680.3L1357.8 691.9zM1320.9 739.3L1332 730.4L1335 741.8zM1320.3 794.1L1330 783.7L1334.5 794.5zM1343.1 845.5L1351.4 834L1357.2 843.7zM1387.4 887L1393.8 874.4L1401 883zM1443.8 918.1L1447.9 904.5L1456.5 911.9zM1511.7 930L1512.3 915.4L1524 922zM1580.1 925.8L1578.6 911.5L1589.9 915.3zM1643.1 904.2L1638.8 890.6L1650.5 892zM1692.4 852.3L1685 839.9L1697.5 838.8zM1725.8 817.1L1715.9 806.5L1728 802.8z"/>
<path fill="#F781BF" fill-opacity=".8" d="M1735.5 763.9L1722.9 757.3L1731.7 750.2zM1723.4 710.2L1710.1 705.6L1717.2 697.5zM1690.1 662.6L1676.2 660.3L1682.1 651.1zM1638.4 625.9L1624.4 625.6L1628.7 615.7zM1572.8 604L1558.8 605.7L1561.8 595.2zM1445.1 614.6L1458.1 609.2L1458 620.2zM1386.8 644.1L1399.1 637.3L1400.4 647.8zM1344.1 687L1355.2 678.2L1358.1 689.2zM1320.7 738.7L1330.6 728.7L1334.8 738.7zM1320 793.5L1328.2 782L1334 791.7zM1342.7 844.9L1349.2 832.4L1356.1 840.7zM1386.6 886.2L1390.9 872.8L1399.1 879.8zM1443 917.6L1444.8 903.6L1454.3 909.1zM1510.5 929.5L1509.3 915.3L1520.1 919zM1579 925.5L1574.9 911.9L1586.2 913.3zM1642.1 904.2L1635.5 891.7L1646.5 890.8zM1688.6 853L1679.7 842.1L1689.8 839zM1724.7 817.5L1713.5 808.8L1723.6 803.4z"/>
<path fill="#BC9DCC" fill-opacity=".8" d="M1734.8 764.5L1721.4 760L1728.6 751.8zM1722.9 710.8L1708.9 708.6L1714.9 699.2zM1689.8 663.3L1675.7 663.2L1680.2 652.9zM1638.2 626.5L1624.2 628.2L1627.2 617.7zM1572.7 604.7L1559 608.5L1560.6 597.3zM1504 600.9L1491 606.2L1491.1 595.4zM1386.7 643.5L1397.9 634.8L1400.7 645.7zM1343.8 686.3L1353.8 676.3L1357.9 686.3zM1320.4 738L1328.6 726.6L1334.4 736.2zM1319.6 792.9L1326.1 780.5L1333 788.7zM1342.1 844.3L1346.3 830.8L1354.7 838zM1385.5 885.4L1387.2 871.4L1396.8 876.9zM1442.2 917.2L1441.3 903.2L1451.3 906.6zM1509.3 929.2L1505.4 915.6L1516.3 916.9zM1577.9 925.5L1571.1 913L1582.3 912zM1641.2 904.4L1632.2 893.5L1642.7 890.3zM1685.1 854.5L1674.1 845.6L1683.7 840.4zM1723.8 818.1L1711.3 811.5L1719.9 804.5z"/>
<path fill="#A65628" fill-opacity=".8" d="M1734.3 765.2L1720.1 763.3L1726.5 753.3zM1722.5 711.5L1708.1 712L1713.1 700.6zM1689.6 663.9L1675.5 666L1678.7 654.7zM1638.1 627.1L1624.4 631L1626 619.5zM1572.6 605.5L1559.5 611.7L1559.7 599zM1504.1 601.5L1491.8 608.4L1490.5 597.8zM1436.2 615.7L1425.1 624.7L1422.1 613.2zM1343.5 685.6L1351.9 674.3L1357.4 683.5zM1319.9 737.4L1326.3 724.8L1333.5 733.4zM1319 792.4L1322.8 778.6L1332.1 786.4zM1341.3 843.8L1342.7 829.6L1352.9 835.4zM1384.2 884.8L1383 870.7L1393.8 874.4zM1441.2 917L1437.4 903.4L1448.1 904.7zM1508 929.2L1500.8 916.7L1512.9 915.7zM1576.8 925.7L1567.3 915L1578.7 911.5zM1640.4 904.7L1629.4 895.9L1639.1 890.6zM1682.1 856.4L1669.6 849.8L1678.4 842.8zM1723.1 818.8L1709.5 814.6L1717.1 805.9z"/>
<path fill="#54B0E4" fill-opacity=".8" d="M1733.9 766L1719.6 766.2L1724.4 755.3zM1722.3 712.3L1708.1 714.5L1711.4 703zM1689.5 664.5L1675.8 668.4L1677.4 656.9zM1638 627.7L1625 633.2L1625.1 621.9zM1572.6 606.2L1560.5 613.7L1559 601.9zM1504.2 602.1L1493.1 611.2L1490.1 599.6zM1436.4 616.3L1426.5 626.3L1422.3 616.2zM1377.7 647.3L1369.6 659.2L1363.4 648.8zM1319.3 736.8L1323 722.9L1332.5 730.9zM1318.3 791.9L1319.7 777.7L1330 783.6zM1340.4 843.4L1339 829.2L1350.2 833zM1382.8 884.5L1378.1 870.9L1390.5 872.4zM1440.1 916.9L1433.4 904.5L1444.5 903.5zM1506.7 929.4L1497.8 918.5L1508 915.4zM1575.8 926.1L1564.2 917.6L1575.1 911.7zM1639.7 905.2L1626.8 898.9L1636.3 891.2zM1679.8 858.7L1666.1 854.6L1673.9 845.6zM1722.5 819.6L1708.3 817.8L1714.7 807.5z"/>
<path fill="#222F75" fill-opacity=".8" d="M1733.6 766.7L1719.5 768.8L1722.7 757.5zM1722.1 713L1708.4 716.8L1710 705.5zM1689.4 665.1L1676.4 670.4L1676.5 659.5zM1638.1 628.3L1625.9 635.8L1624.4 623.9zM1572.8 607L1561.6 615.4L1558.9 605zM1504.4 602.7L1494.6 613.1L1490.1 602.2zM1436.7 616.8L1428.4 628.2L1422.8 618.8zM1378.1 647.9L1372 660.9L1364.2 651.6zM1335.4 692.4L1331.5 706.2L1322.4 698.5zM1317.5 791.6L1316 777.3L1327.4 781.2zM1339.5 843.1L1335.5 829.6L1346.6 830.9zM1381.3 884.5L1374.3 872.1L1385.9 871zM1439.1 917.1L1429.8 906.4L1440.9 903zM1505.5 929.9L1494.1 921.3L1504.6 915.6zM1575 926.7L1562.4 920.1L1571.2 913zM1639.2 905.7L1625.5 901.6L1633.3 892.7zM1678 861.1L1663.7 859.4L1670.2 849zM1722.1 820.3L1707.7 820.8L1712.7 809.4z"/>
<path fill="#1B9E77" fill-opacity=".8" d="M1733.5 767.4L1719.8 771L1721.4 760.2zM1722.1 713.7L1709 719.3L1709.1 707.8zM1689.5 665.7L1677.2 673L1675.9 661.6zM1638.2 628.9L1627 637.6L1624.2 626.7zM1573 607.7L1563.2 618.1L1558.8 607.4zM1504.7 603.3L1496.4 614.8L1490.6 605.1zM1437.1 617.4L1430.8 630.2L1423.4 621.3zM1378.7 648.5L1374.5 662L1366 654.8zM1336.2 693L1334.8 707.2L1324.6 701.3zM1314.5 745.3L1316 759.5L1304.7 755.7zM1338.4 843.1L1331.8 830.7L1342.7 829.7zM1379.8 884.8L1370.6 874L1381.4 870.7zM1438.2 917.5L1427.1 908.7L1437 903.4zM1504.6 930.5L1492.2 923.8L1500.6 917zM1574.3 927.3L1560.8 922.9L1568.2 914.5zM1638.7 906.3L1624.6 904.3L1630.8 894.4zM1676.6 863.6L1662.5 863.4L1667 853.3zM1721.8 821.1L1707.9 822.7L1710.8 812.4z"/>
<path fill="#B2DF8A" fill-opacity=".8" d="M1733.4 768.1L1720.4 773.6L1720.5 762.4zM1722.1 714.4L1709.9 721.7L1708.5 710.2zM1689.6 666.3L1678.4 674.9L1675.6 664.3zM1638.4 629.4L1628.5 639.6L1624.2 629.2zM1573.4 608.5L1565 619.7L1559.5 610.6zM1505.1 603.9L1498.8 616.6L1491.4 607.8zM1437.7 618L1433.5 631.5L1424.9 624.2zM1379.4 649L1377.9 663.2L1368 657.4zM1337.1 693.5L1338.1 707.5L1327.8 704zM1315.5 745.5L1319.5 759.1L1308.3 757.7zM1316.5 800.3L1323.2 812.8L1312.1 813.7zM1378.5 885.3L1367.4 876.5L1377.3 871.2zM1437.5 918L1425.1 911.3L1433.6 904.5zM1503.8 931.3L1490.4 926.8L1497.6 918.6zM1573.8 928L1559.7 926L1565.9 916.1zM1638.4 906.9L1624.3 906.8L1628.8 896.5zM1675.7 866.1L1661.7 868.1L1664.8 857zM1721.7 821.9L1708 825.7L1709.6 814.4z"/>
<path fill="#E3BE00" fill-opacity=".8" d="M1733.5 768.9L1721.3 776.2L1719.9 764.6zM1722.2 715.1L1711.1 724.1L1708.2 712.6zM1689.8 666.9L1679.9 677.1L1675.6 666.7zM1638.7 630L1630.4 641.6L1624.6 631.9zM1573.9 609.2L1567.7 622L1560.2 613.1zM1505.6 604.4L1501.5 618L1492.8 610.6zM1438.3 618.4L1436.7 632.5L1427 626.9zM1380.3 649.4L1381.6 663.6L1370.7 659.9zM1338.2 693.7L1342.2 707.3L1331 705.9zM1316.5 745.5L1323.1 758L1312.2 758.9zM1317.4 800.1L1326.3 811L1316.1 814.1zM1341.2 852.4L1352.3 861.2L1342.4 866.5zM1436.9 918.6L1423.2 914.4L1430.9 905.6zM1503.2 932.1L1489 930.2L1495.3 920.1zM1573.4 928.7L1559.3 928.6L1563.8 918.3zM1638.2 907.5L1624.2 909.4L1627.2 898.5zM1675.2 868.6L1661.5 872.7L1663.2 860.8zM1721.6 822.6L1708.6 828.5L1708.7 816.5z"/>
<path fill="#FB9A99" fill-opacity=".8" d="M1733.6 769.6L1722.4 778.1L1719.7 767.6zM1722.5 715.8L1712.7 726L1708.3 715.5zM1690.1 667.5L1681.9 679.2L1676 669.2zM1639.1 630.6L1632.7 643.3L1625.5 634.6zM1574.6 609.9L1570.7 623.7L1561.7 616zM1506.3 604.9L1504.7 619L1494.9 613.3zM1439.1 618.8L1440.3 632.9L1429.6 629.3zM1381.3 649.7L1385.3 663.2L1374.2 661.9zM1339.3 693.7L1345.9 706.2L1335.1 707.1zM1317.5 745.3L1326.7 756.1L1316 759.4zM1318.2 799.8L1329.4 808.5L1319.4 813.9zM1342 851.9L1354.3 858.6L1345.9 865.4zM1387.3 896.4L1400.7 900.9L1393.5 909.1zM1502.8 932.9L1488.5 933.1L1493.2 922.3zM1573.2 929.4L1559.2 931.1L1562.1 920.6zM1638.1 908L1624.4 911.7L1626 900.8zM1675 871.1L1662 876.7L1662.1 865.2zM1721.7 823.4L1709.5 830.7L1708.1 819.2z"/>
<path fill="#E7298A" fill-opacity=".8" d="M1733.8 770.3L1724.2 781.1L1719.4 769.5zM1722.8 716.5L1715 728.8L1708.3 717.5zM1690.5 668.1L1684.3 681L1676.8 671.9zM1639.6 631.1L1635.9 645.1L1626.5 637zM1575.5 610.5L1575.1 625.3L1562.9 618.3zM1507.1 605.2L1508.9 619.6L1497 615.5zM1440 619L1443.9 632.6L1433 631.2zM1382.3 649.7L1389.5 662.1L1377.5 663.2zM1340.4 693.5L1350.5 704L1337.9 707.9zM1318.4 744.9L1330 753.5L1319.2 759.3zM1318.9 799.3L1332 805.5L1322.2 813.4zM1342.6 851.3L1355.9 855.9L1348.8 863.9zM1388 895.5L1402.5 896.9L1395.5 907.9zM1445.1 923.9L1459.3 923.9L1454.7 934.3zM1573 930.1L1559.3 934.5L1561 922.1zM1638 908.6L1625 914.8L1625.1 902.2zM1675.2 873.6L1663 881.3L1661.5 869zM1721.8 824.2L1710.8 833.6L1707.6 821.3z"/>
<path fill="#910241" fill-opacity=".8" d="M1734.2 771.1L1726.1 782.8L1720 772.7zM1723.3 717.2L1717 729.8L1709.7 721.2zM1691.1 668.7L1686.8 682.2L1678.5 675zM1640.3 631.6L1639 645.9L1628.6 639.9zM1576.5 611L1577.7 625.1L1567 621.5zM1508 605.4L1512 619L1500.9 617.7zM1441 619L1447.9 631.4L1436.3 632.5zM1383.3 649.5L1392.2 660.4L1382 663.5zM1341.4 693.1L1352.5 701.9L1342.6 707.2zM1319.2 744.4L1331.6 751.1L1323.1 758zM1319.5 798.8L1333.1 803L1325.5 811.7zM1343 850.7L1356.9 853.1L1351.2 862.2zM1388.5 894.6L1402.7 894.5L1398.1 905.1zM1445.3 923.2L1459.3 921.5L1456.4 932zM1514.8 936.3L1528.4 932.4L1526.8 943.9zM1638.1 909.2L1625.8 916.1L1624.5 905.4zM1675.6 876.1L1664.6 885.2L1661.5 873.4zM1722.1 824.9L1712.4 835.5L1707.7 824.3z"/>
<path fill="#00CDD1" fill-opacity=".8" d="M1734.7 771.8L1728.2 784.3L1721.3 775.9zM1724 717.8L1719.7 731.3L1711.4 724.2zM1691.8 669.2L1689.9 683.1L1680.7 677.8zM1641.1 632L1642.4 646.1L1631.5 642.5zM1577.7 611.3L1581.8 624.8L1570.4 623.5zM1508.9 605.5L1515.4 617.9L1504.7 618.9zM1441.9 618.8L1450.9 629.7L1440.5 632.9zM1384.3 649.1L1395.2 658L1385.6 663.1zM1342.2 692.5L1354.9 699.1L1345.9 706.3zM1319.8 743.8L1333.2 748.3L1326 756.5zM1319.9 798.2L1333.9 800.5L1328 809.8zM1343.4 850.1L1357.5 850.3L1353.1 860.2zM1388.8 893.6L1403 891.4L1399.7 902.8zM1445.5 922.6L1459.1 918.8L1457.6 930zM1514.8 935.5L1527.9 929.7L1527.8 941.6zM1583.7 930.2L1596 923.3L1597.3 934zM1676.5 878.6L1666.7 888.9L1662.2 878.1zM1722.4 825.7L1714.3 837.4L1708.3 827.3z"/>
<path fill="#A6CEE3" fill-opacity=".8" d="M1735.4 772.4L1731.7 786.4L1722.2 778.3zM1724.8 718.4L1723.4 732.6L1713.2 726.7zM1692.6 669.6L1693.9 683.7L1683 680zM1642 632.2L1645.9 645.8L1635 644.4zM1578.9 611.3L1586.4 623.7L1573.7 624.8zM1509.8 605.3L1519.3 616L1507.9 619.4zM1442.7 618.5L1454.3 627L1443.5 632.9zM1385 648.6L1397.6 655.2L1388.8 662.3zM1342.9 691.9L1356.5 696.1L1348.9 704.8zM1320.3 743.2L1334.7 744.7L1327.9 755.6zM1320.2 797.6L1334.3 797.9L1329.9 807.8zM1343.6 849.4L1357.7 847.4L1354.6 858.4zM1389 892.7L1402.7 888.9L1401.1 900.1zM1445.5 921.9L1458.6 916.6L1458.5 927.5zM1514.8 934.7L1526.9 926.7L1528.5 939.5zM1583.6 929.5L1594.8 920.9L1597.6 931.6zM1646.7 907L1656.4 896.4L1661 907.6zM1723 826.4L1716.8 839.3L1709.2 830.3z"/>
<path fill="#CE1261" fill-opacity=".8" d="M1736.2 773L1734.8 787.2L1724.7 781.4zM1725.7 718.8L1727.6 733.2L1715.5 729.1zM1693.5 669.8L1698.3 683.5L1685.6 681.9zM1642.9 632.2L1650.4 644.6L1637.8 645.7zM1580 611L1589.4 621.8L1578.2 625.2zM1510.6 604.9L1521.7 613.7L1511.9 619zM1443.4 618L1456.2 624.4L1446.9 631.9zM1385.6 648L1399.2 652.2L1391.6 661zM1343.4 691.2L1357.7 693L1351.2 703.3zM1320.6 742.6L1335 742.1L1330 753.5zM1320.4 797L1334.6 794.6L1331.3 806.5zM1343.8 848.8L1357.5 844.4L1355.8 856.7zM1389.1 891.7L1402.2 885.4L1402 898.3zM1445.5 921.3L1457.7 914.3L1459.1 925.1zM1514.6 933.8L1525.5 924.1L1528.9 937.1zM1583.4 928.8L1592.9 917.8L1597.9 929.9zM1646.4 906.4L1654.6 894.7L1660.6 904.7zM1708.8 859L1714.6 845.7L1722.9 855.7z"/>
<path d="M1739 768.2L1747.3 771 1755 773.3 1762.3 775.1 1768.9 776.4 1775.1 777.3 1780.7 777.8 1785.8 777.9 1790.4 777.7 1794.4 777.1 1797.9 776.3 1800.8 775.3 1803.3 774.2 1805.2 772.8 1806.5 771.4 1807.4 769.9 1807.7 768.3 1807.4 766.7 1806.7 765.2 1805.4 763.7 1803.5 762.4 1801.2 761.2 1798.3 760.2 1794.8 759.4 1790.9 758.8 1786.4 758.5 1781.4 758.6 1775.8 759 1769.7 759.8 1763.1 761.1 1755.9 762.8" fill="none" stroke="#E41A1C" stroke-opacity=".72" stroke-width="1.2" stroke-linejoin="round"/>
<path fill="#E41A1C" fill-opacity=".8" d="M1744.4 766.3L1754.5 758.1L1757.4 767.6z"/>
<path d="M1727.5 713.7L1736.4 714.3 1744.7 714.5 1752.2 714.3 1759 713.9 1765.2 713.1 1770.7 712.1 1775.5 711 1779.7 709.6 1783.3 708.1 1786.3 706.5 1788.8 704.8 1790.6 703 1791.9 701.3 1792.6 699.6 1792.8 697.9 1792.5 696.4 1791.7 695 1790.4 693.7 1788.6 692.6 1786.4 691.8 1783.8 691.2 1780.7 691 1777.2 691 1773.3 691.4 1769 692.3 1764.4 693.5 1759.4 695.3 1754.1 697.5 1748.4 700.2 1742.4 703.6" fill="none" stroke="#377EB8" stroke-opacity=".72" stroke-width="3" stroke-linejoin="round"/>
<path fill="#377EB8" fill-opacity=".8" d="M1732.2 710.2L1739.4 699L1745.4 708.2z"/>
<path d="M1694.1 665.1L1702.8 663.4 1710.6 661.5 1717.7 659.4 1724 657.2 1729.5 655 1734.3 652.6 1738.4 650.3 1741.8 647.9 1744.6 645.5 1746.8 643.3 1748.4 641 1749.4 638.9 1749.9 637 1749.9 635.2 1749.4 633.5 1748.5 632.1 1747.2 631 1745.5 630.1 1743.4 629.6 1741 629.3 1738.2 629.4 1735.2 630 1732 630.9 1728.5 632.3 1724.8 634.1 1720.9 636.4 1716.9 639.3 1712.8 642.7 1708.6 646.8 1704.4 651.4" fill="none" stroke="#4DAF4A" stroke-opacity=".72" stroke-width="2" stroke-linejoin="round"/>
<path fill="#4DAF4A" fill-opacity=".8" d="M1696.9 661L1700.3 648.2L1708.5 654.6z"/>
<path d="M1642.5 627.7L1650 623.9 1656.6 620.1 1662.4 616.3 1667.4 612.7 1671.7 609.1 1675.3 605.7 1678.2 602.4 1680.5 599.3 1682.2 596.4 1683.3 593.7 1683.9 591.2 1684 588.9 1683.7 586.9 1683 585.2 1681.9 583.8 1680.5 582.7 1678.8 581.9 1676.9 581.5 1674.7 581.5 1672.3 581.8 1669.8 582.6 1667.2 583.8 1664.5 585.5 1661.8 587.6 1659.1 590.2 1656.4 593.3 1653.8 597 1651.3 601.2 1649 606 1646.9 611.3" fill="none" stroke="#984EA3" stroke-opacity=".72" stroke-width="0.7" stroke-linejoin="round"/>
<path fill="#984EA3" fill-opacity=".8" d="M1643.5 623.1L1642.2 610L1651.5 612.7z"/>
<path d="M1578.4 605.5L1583.8 600 1588.4 594.8 1592.4 589.8 1595.6 585.1 1598.2 580.7 1600.2 576.5 1601.6 572.7 1602.5 569.2 1602.9 566 1602.9 563.1 1602.5 560.6 1601.7 558.4 1600.6 556.6 1599.3 555.1 1597.7 554 1596 553.3 1594.1 552.9 1592.1 553 1590 553.4 1588 554.3 1585.9 555.6 1583.9 557.3 1582.1 559.4 1580.4 562 1578.8 565.1 1577.6 568.6 1576.5 572.6 1575.9 577 1575.5 582 1575.6 587.4" fill="none" stroke="#F29403" stroke-opacity=".72" stroke-width="5" stroke-linejoin="round"/>
<path fill="#F29403" fill-opacity=".8" d="M1577.1 599.6L1569.5 588.2L1581.7 586.7z"/>
<path d="M1508.5 601L1511.4 594.3 1513.7 588.1 1515.3 582.3 1516.4 577 1517 572.1 1517.2 567.7 1516.9 563.7 1516.3 560.1 1515.3 557 1514.1 554.3 1512.6 552 1511 550.2 1509.2 548.8 1507.3 547.8 1505.3 547.2 1503.3 547 1501.4 547.3 1499.5 547.9 1497.7 549 1496.2 550.4 1494.8 552.2 1493.7 554.5 1492.9 557.1 1492.4 560.2 1492.3 563.6 1492.7 567.4 1493.5 571.5 1494.9 576.1 1496.8 581 1499.3 586.3" fill="none" stroke="#F781BF" stroke-opacity=".72" stroke-width="0.8" stroke-linejoin="round"/>
<path fill="#F781BF" fill-opacity=".8" d="M1505.7 596.9L1495.2 588.8L1503.5 583.8z"/>
<path d="M1440.6 614.5L1440.6 607.4 1440.1 600.9 1439.3 595 1438.1 589.7 1436.7 584.9 1435 580.6 1433.1 576.9 1431 573.7 1428.7 571 1426.4 568.8 1424.1 567.1 1421.7 565.8 1419.4 564.9 1417.2 564.5 1415.1 564.5 1413.2 564.9 1411.4 565.7 1410 566.9 1408.8 568.4 1407.9 570.2 1407.5 572.4 1407.4 574.9 1407.8 577.6 1408.8 580.7 1410.2 584 1412.3 587.6 1414.9 591.4 1418.3 595.5 1422.4 599.7 1427.2 604.2" fill="none" stroke="#BC9DCC" stroke-opacity=".72" stroke-width="0.7" stroke-linejoin="round"/>
<path fill="#BC9DCC" fill-opacity=".8" d="M1436.6 611.7L1424.2 607.9L1430.2 600.4z"/>
<path d="M1381.9 644.7L1379 638 1375.8 632 1372.6 626.6 1369.3 621.8 1366 617.6 1362.6 614.1 1359.2 611 1355.9 608.6 1352.7 606.6 1349.6 605.1 1346.7 604 1343.9 603.4 1341.4 603.2 1339.1 603.4 1337.2 604 1335.5 604.9 1334.2 606.1 1333.3 607.5 1332.8 609.3 1332.8 611.3 1333.3 613.4 1334.3 615.8 1335.8 618.4 1338 621 1340.8 623.8 1344.2 626.7 1348.4 629.6 1353.3 632.6 1359 635.6 1365.4 638.6" fill="none" stroke="#A65628" stroke-opacity=".72" stroke-width="3" stroke-linejoin="round"/>
<path fill="#A65628" fill-opacity=".8" d="M1377 643.1L1363.4 643.7L1367.4 633.5z"/>
<path d="M1338.9 688.3L1333.3 682.7 1327.9 677.8 1322.6 673.5 1317.5 669.9 1312.6 666.8 1308 664.3 1303.5 662.3 1299.4 660.8 1295.5 659.7 1292 659.1 1288.8 658.9 1285.9 659 1283.5 659.5 1281.4 660.2 1279.7 661.2 1278.5 662.5 1277.8 664 1277.5 665.6 1277.8 667.4 1278.6 669.2 1280 671.2 1281.9 673.2 1284.4 675.2 1287.6 677.1 1291.3 679.1 1295.8 680.9 1300.9 682.6 1306.8 684.2 1313.4 685.6 1320.7 686.7" fill="none" stroke="#54B0E4" stroke-opacity=".72" stroke-width="5.5" stroke-linejoin="round"/>
<path fill="#54B0E4" fill-opacity=".8" d="M1333 688L1320.1 692.9L1321.4 680.5z"/>
<path d="M1316.1 740.6L1308.5 736.7 1301.3 733.4 1294.6 730.7 1288.2 728.6 1282.3 726.9 1276.9 725.7 1271.9 725 1267.3 724.6 1263.3 724.6 1259.7 724.9 1256.5 725.5 1253.9 726.4 1251.8 727.5 1250.1 728.7 1249 730.1 1248.4 731.6 1248.3 733.2 1248.8 734.8 1249.8 736.4 1251.3 738 1253.4 739.5 1256.1 740.9 1259.4 742.1 1263.2 743.2 1267.6 744 1272.6 744.6 1278.2 744.9 1284.5 744.8 1291.3 744.4 1298.8 743.6" fill="none" stroke="#222F75" stroke-opacity=".72" stroke-width="1" stroke-linejoin="round"/>
<path fill="#222F75" fill-opacity=".8" d="M1311 741.6L1299.6 748.5L1298 738.8z"/>
<path d="M1316.1 795.8L1307.3 794.1 1299.2 792.8 1291.7 792 1284.8 791.6 1278.6 791.5 1273 791.8 1267.9 792.3 1263.5 793.2 1259.6 794.2 1256.3 795.4 1253.6 796.8 1251.5 798.3 1249.9 799.8 1248.8 801.4 1248.3 803.1 1248.4 804.6 1248.9 806.1 1250 807.6 1251.6 808.8 1253.7 809.9 1256.3 810.8 1259.3 811.4 1262.9 811.8 1266.9 811.8 1271.4 811.5 1276.3 810.8 1281.7 809.7 1287.6 808.1 1293.8 806 1300.5 803.3" fill="none" stroke="#1B9E77" stroke-opacity=".72" stroke-width="1.5" stroke-linejoin="round"/>
<path fill="#1B9E77" fill-opacity=".8" d="M1311.7 798.1L1302.7 807.9L1298.4 798.8z"/>
<path d="M1338.9 848.1L1329.9 848.7 1321.7 849.5 1314.4 850.7 1307.7 852 1301.8 853.5 1296.6 855.2 1292 857 1288.2 858.9 1284.9 860.9 1282.3 862.9 1280.3 864.8 1278.8 866.8 1277.9 868.7 1277.6 870.4 1277.7 872.1 1278.3 873.6 1279.4 874.9 1281 876 1282.9 876.8 1285.3 877.3 1288 877.5 1291.1 877.4 1294.6 876.9 1298.3 876 1302.3 874.6 1306.7 872.8 1311.2 870.4 1316 867.5 1321 864.1 1326.2 860" fill="none" stroke="#B2DF8A" stroke-opacity=".72" stroke-width="1.2" stroke-linejoin="round"/>
<path fill="#B2DF8A" fill-opacity=".8" d="M1335.3 851.7L1329.5 863.7L1322.9 856.3z"/>
<path d="M1381.9 891.7L1373.8 894.5 1366.6 897.3 1360.2 900.2 1354.5 903.1 1349.5 906 1345.3 908.9 1341.8 911.7 1338.8 914.5 1336.5 917.1 1334.8 919.6 1333.6 922 1332.9 924.2 1332.7 926.2 1333 928.1 1333.7 929.6 1334.8 930.9 1336.2 932 1337.9 932.7 1340 933.1 1342.3 933.1 1344.9 932.8 1347.6 932.1 1350.5 930.9 1353.6 929.3 1356.7 927.3 1359.9 924.8 1363.2 921.7 1366.5 918.1 1369.8 914 1373 909.3" fill="none" stroke="#E3BE00" stroke-opacity=".72" stroke-width="1.5" stroke-linejoin="round"/>
<path fill="#E3BE00" fill-opacity=".8" d="M1378.9 898.6L1377.4 911.7L1368.6 906.8z"/>
<path d="M1440.6 921.9L1434 926.6 1428.3 931.2 1423.4 935.7 1419.2 939.9 1415.7 944 1412.9 947.8 1410.7 951.4 1409.1 954.8 1408.1 957.9 1407.5 960.7 1407.4 963.2 1407.7 965.5 1408.4 967.4 1409.5 969 1410.9 970.3 1412.5 971.2 1414.3 971.8 1416.3 971.9 1418.5 971.7 1420.7 971.1 1423 970 1425.3 968.5 1427.6 966.5 1429.9 964.1 1432 961.2 1434 957.8 1435.8 953.9 1437.4 949.4 1438.7 944.5 1439.7 939" fill="none" stroke="#FB9A99" stroke-opacity=".72" stroke-width="1" stroke-linejoin="round"/>
<path fill="#FB9A99" fill-opacity=".8" d="M1440.6 927L1444.6 939.3L1434.8 938.6z"/>
<path d="M1508.5 935.4L1504.3 941.6 1500.8 947.4 1498 952.8 1495.8 957.8 1494.2 962.5 1493.1 966.9 1492.5 970.8 1492.3 974.4 1492.6 977.6 1493.2 980.4 1494.1 982.9 1495.3 984.9 1496.8 986.6 1498.4 987.9 1500.2 988.8 1502.1 989.3 1504 989.4 1506 989.1 1507.9 988.3 1509.7 987.2 1511.5 985.7 1513.1 983.7 1514.5 981.4 1515.6 978.6 1516.5 975.4 1517 971.7 1517.2 967.7 1516.9 963.2 1516.2 958.3 1515 952.9" fill="none" stroke="#E7298A" stroke-opacity=".72" stroke-width="6" stroke-linejoin="round"/>
<path fill="#E7298A" fill-opacity=".8" d="M1511.2 941.5L1521.1 950.9L1509 955z"/>
<path d="M1578.4 930.9L1576.9 937.8 1576 944.2 1575.6 950.2 1575.6 955.5 1576 960.4 1576.8 964.8 1577.9 968.7 1579.2 972.2 1580.8 975.1 1582.6 977.6 1584.5 979.7 1586.5 981.3 1588.6 982.4 1590.7 983.2 1592.8 983.5 1594.8 983.4 1596.6 982.9 1598.3 982 1599.9 980.8 1601.1 979.1 1602.1 977.1 1602.7 974.8 1603 972.1 1602.8 969 1602.1 965.7 1601 962 1599.3 958 1597 953.6 1594.1 949 1590.5 944.1" fill="none" stroke="#910241" stroke-opacity=".72" stroke-width="1" stroke-linejoin="round"/>
<path fill="#910241" fill-opacity=".8" d="M1582.4 934.9L1594.2 940.9L1586.8 947.4z"/>
<path d="M1642.5 908.7L1644.1 915.7 1645.8 922.1 1647.9 927.8 1650.2 932.9 1652.6 937.5 1655.2 941.4 1657.9 944.9 1660.6 947.7 1663.4 950.1 1666.1 952 1668.8 953.4 1671.4 954.3 1673.8 954.9 1676.1 955 1678.2 954.7 1680 954 1681.5 953 1682.7 951.7 1683.6 950 1684 948.1 1684 945.9 1683.5 943.4 1682.5 940.7 1680.9 937.8 1678.7 934.7 1675.9 931.4 1672.4 927.9 1668.2 924.4 1663.3 920.7 1657.5 916.9" fill="none" stroke="#00CDD1" stroke-opacity=".72" stroke-width="1" stroke-linejoin="round"/>
<path fill="#00CDD1" fill-opacity=".8" d="M1647 910.9L1659.9 912.6L1655.1 921.2z"/>
<path d="M1694.1 871.3L1698.1 877.1 1702.2 882.4 1706.2 887.1 1710.2 891.2 1714.1 894.8 1718 897.9 1721.7 900.4 1725.3 902.6 1728.7 904.3 1732 905.5 1735.1 906.4 1737.9 906.9 1740.6 907.1 1742.9 906.9 1744.9 906.5 1746.7 905.7 1748.1 904.7 1749.1 903.5 1749.7 902.1 1750 900.5 1749.8 898.7 1749.1 896.8 1748 894.8 1746.4 892.7 1744.2 890.5 1741.5 888.3 1738.3 886.1 1734.4 883.9 1729.9 881.7 1724.8 879.5" fill="none" stroke="#A6CEE3" stroke-opacity=".72" stroke-width="2" stroke-linejoin="round"/>
<path fill="#A6CEE3" fill-opacity=".8" d="M1713.1 875.6L1726.5 874.6L1723.2 884.4z"/>
<path d="M1727.5 822.7L1734.1 827.5 1740.5 831.7 1746.6 835.2 1752.4 838.1 1757.9 840.5 1763 842.4 1767.7 843.8 1772.2 844.8 1776.2 845.3 1779.8 845.5 1783 845.3 1785.8 844.8 1788.1 844 1790 843 1791.4 841.7 1792.4 840.3 1792.8 838.8 1792.7 837.2 1792.1 835.5 1790.9 833.7 1789.1 832 1786.8 830.3 1783.9 828.6 1780.4 827.1 1776.3 825.7 1771.5 824.4 1766.1 823.4 1760 822.6 1753.2 822.1 1745.7 821.9" fill="none" stroke="#CE1261" stroke-opacity=".72" stroke-width="1.2" stroke-linejoin="round"/>
<path fill="#CE1261" fill-opacity=".8" d="M1733.3 822.3L1745.6 817L1745.8 826.9z"/>
<ellipse cx="1739" cy="768.2" rx="6.2" ry="4.8" fill="#E41A1C"/>
<ellipse cx="1727.5" cy="713.7" rx="6" ry="4.7" fill="#377EB8"/>
<ellipse cx="1694.1" cy="665.1" rx="5.2" ry="4.1" fill="#4DAF4A"/>
<ellipse cx="1642.5" cy="627.7" rx="5" ry="3.9" fill="#984EA3"/>
<ellipse cx="1578.4" cy="605.5" rx="6.4" ry="5.0" fill="#F29403"/>
<ellipse cx="1508.5" cy="601" rx="5" ry="3.9" fill="#F781BF"/>
<ellipse cx="1440.6" cy="614.5" rx="5" ry="3.9" fill="#BC9DCC"/>
<ellipse cx="1381.9" cy="644.7" rx="5.5" ry="4.3" fill="#A65628"/>
<ellipse cx="1338.9" cy="688.3" rx="6" ry="4.7" fill="#54B0E4"/>
<ellipse cx="1316.1" cy="740.6" rx="5.5" ry="4.3" fill="#222F75"/>
<ellipse cx="1316.1" cy="795.8" rx="5" ry="3.9" fill="#1B9E77"/>
<ellipse cx="1338.9" cy="848.1" rx="5.5" ry="4.3" fill="#B2DF8A"/>
<ellipse cx="1381.9" cy="891.7" rx="8" ry="6.2" fill="#E3BE00"/>
<ellipse cx="1440.6" cy="921.9" rx="5.5" ry="4.3" fill="#FB9A99"/>
<ellipse cx="1508.5" cy="935.4" rx="7" ry="5.5" fill="#E7298A"/>
<ellipse cx="1578.4" cy="930.9" rx="6" ry="4.7" fill="#910241"/>
<ellipse cx="1642.5" cy="908.7" rx="5" ry="3.9" fill="#00CDD1"/>
<ellipse cx="1694.1" cy="871.3" rx="21.2" ry="16.5" fill="#A6CEE3"/>
<ellipse cx="1727.5" cy="822.7" rx="6.5" ry="5.1" fill="#CE1261"/>
<text x="1754.6" y="773.4" font-size="14" textLength="38.1" lengthAdjust="spacingAndGlyphs" stroke="#000" stroke-width="0.2">B.cell</text>
<text x="1721" y="709.1" font-size="14" textLength="77.8" lengthAdjust="spacingAndGlyphs" stroke="#000" stroke-width="0.2">Endothelial</text>
<text x="1686.4" y="652.6" font-size="14" textLength="69" lengthAdjust="spacingAndGlyphs" stroke="#000" stroke-width="0.2">Fibroblast</text>
<text x="1603.6" y="608.4" font-size="14" textLength="112.7" lengthAdjust="spacingAndGlyphs" stroke="#000" stroke-width="0.2">GPR_highB.cell</text>
<text x="1503.7" y="582.5" font-size="14" textLength="161.5" lengthAdjust="spacingAndGlyphs" stroke="#000" stroke-width="0.2">GPR_highMacrophage</text>
<text x="1429.4" y="578.0" font-size="14" textLength="145.4" lengthAdjust="spacingAndGlyphs" stroke="#000" stroke-width="0.2">GPR_highMastocyte</text>
<text x="1376" y="595.3" font-size="14" textLength="95.2" lengthAdjust="spacingAndGlyphs" stroke="#000" stroke-width="0.2">GPR_highNK</text>
<text x="1303" y="631.9" font-size="14" textLength="105.5" lengthAdjust="spacingAndGlyphs" stroke="#000" stroke-width="0.2">GPR_lowB.cell</text>
<text x="1228.3" y="682.4" font-size="14" textLength="156" lengthAdjust="spacingAndGlyphs" stroke="#000" stroke-width="0.2">GPR_lowMacrophage</text>
<text x="1211.8" y="744.0" font-size="14" textLength="139.6" lengthAdjust="spacingAndGlyphs" stroke="#000" stroke-width="0.2">GPR_lowMastocyte</text>
<text x="1239.3" y="808.8" font-size="14" textLength="90.1" lengthAdjust="spacingAndGlyphs" stroke="#000" stroke-width="0.2">GPR_lowNK</text>
<text x="1255.6" y="870.4" font-size="14" textLength="113.2" lengthAdjust="spacingAndGlyphs" stroke="#000" stroke-width="0.2">GPR_lowT.CD4</text>
<text x="1307.7" y="921.7" font-size="14" textLength="112.9" lengthAdjust="spacingAndGlyphs" stroke="#000" stroke-width="0.2">GPR_lowT.CD8</text>
<text x="1367.4" y="953.5" font-size="14" textLength="134.7" lengthAdjust="spacingAndGlyphs" stroke="#000" stroke-width="0.2">GPR_medianB.cell</text>
<text x="1422.8" y="967.6" font-size="14" textLength="184.2" lengthAdjust="spacingAndGlyphs" stroke="#000" stroke-width="0.2">GPR_medianMacrophage</text>
<text x="1511.8" y="958.4" font-size="14" textLength="167.9" lengthAdjust="spacingAndGlyphs" stroke="#000" stroke-width="0.2">GPR_medianMastocyte</text>
<text x="1610.4" y="930.2" font-size="14" textLength="117.5" lengthAdjust="spacingAndGlyphs" stroke="#000" stroke-width="0.2">GPR_medianNK</text>
<text x="1703.1" y="887.3" font-size="14" textLength="69.1" lengthAdjust="spacingAndGlyphs" stroke="#000" stroke-width="0.2">Malignant</text>
<text x="1745.1" y="827.4" font-size="14" textLength="35.8" lengthAdjust="spacingAndGlyphs" stroke="#000" stroke-width="0.2">T.cell</text>
</svg></body></html>
